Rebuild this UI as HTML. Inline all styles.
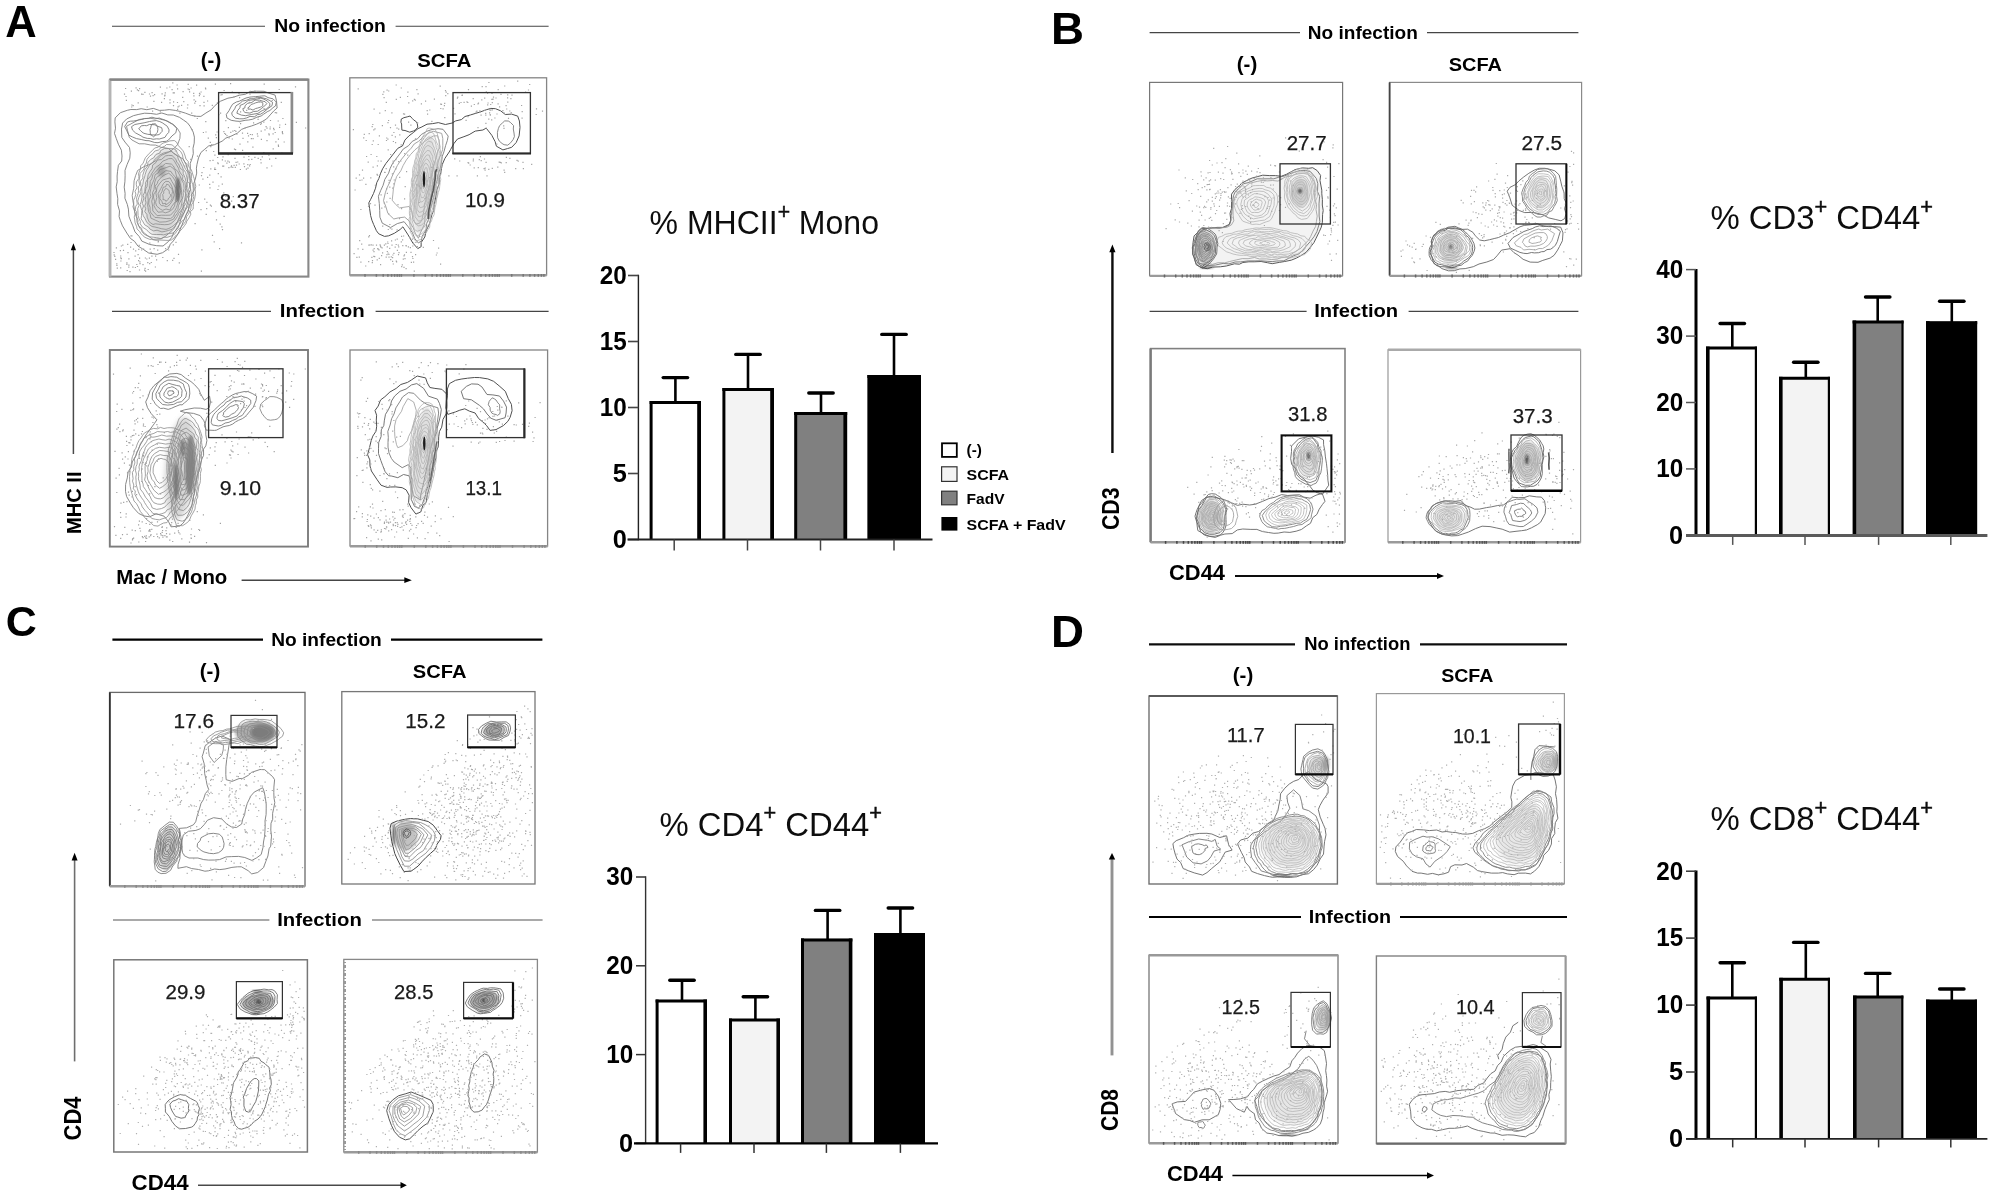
<!DOCTYPE html>
<html lang="en"><head><meta charset="utf-8"><title>Figure</title>
<style>html,body{margin:0;padding:0;background:#fff}svg{display:block}text{font-family:"Liberation Sans", Arial, Helvetica, sans-serif}</style>
</head><body>
<svg width="1998" height="1203" viewBox="0 0 1998 1203">
<defs>
<filter id="b1" x="-50%" y="-50%" width="200%" height="200%"><feGaussianBlur stdDeviation="0.8"/></filter>
<filter id="b2" x="-50%" y="-50%" width="200%" height="200%"><feGaussianBlur stdDeviation="1.6"/></filter>
<filter id="b3" x="-50%" y="-50%" width="200%" height="200%"><feGaussianBlur stdDeviation="2.4"/></filter>
<filter id="b4" x="-50%" y="-50%" width="200%" height="200%"><feGaussianBlur stdDeviation="3.2"/></filter>
<filter id="soft" x="-5%" y="-5%" width="110%" height="110%"><feGaussianBlur stdDeviation="0.35"/></filter>
<filter id="page" x="0" y="0" width="100%" height="100%" filterUnits="userSpaceOnUse"><feGaussianBlur stdDeviation="0.55"/></filter>
</defs>
<rect width="1998" height="1203" fill="#fff"/>
<g filter="url(#page)">
<g fill="none" filter="url(#soft)">
<path d="M115.2 117.9L120.4 112.7L127.3 110.3L130.9 109.5L136.7 109.6L141.2 108.7L146.8 109.7L153.3 108.4L159.3 110.4L164.4 110.2L169.2 109.6L175.3 110.4L179.8 111.4L185.3 113.1L191.4 115.4L196.5 116.3L200.9 116.4L205.9 113L211.2 109.8L215.2 105.3L220.3 101.3L227.9 98.2L233.5 97.2L239.3 95.2L245.6 94.2L249.7 91.6L256.5 91.2L264.1 91.3L269.1 93.3L275.1 95.1L276.5 100.8L277.1 108L273.6 111.1L270.2 114.9L266.5 119L262.1 121.6L256.7 124.1L251.4 126L246.1 127.6L241.5 129.4L237.4 133.1L231 136.2L225.8 138.1L222.1 141.2L214.4 144.7L208.7 145.9L204.8 149.2L200.9 152.5L198.5 157.9L197 164.3L196.4 168.2L196.7 173.1L195.3 179.1L193.8 183.4L194.2 190.1L191.9 194.3L191.4 200.9L188.9 206.3L188.4 211L185.8 215.4L183.2 221.9L181.6 226.1L179.1 231.6L176.9 235.6L173.3 241L170.3 244.2L168.5 248.6L162.6 252.7L157.1 254.3L148.7 253L142.6 248.9L137.9 246L134.5 241.3L130.4 238.4L126.8 233L122.5 225.9L120.3 220.4L119.1 216.6L119.5 210.9L117.6 204.3L117.8 198.7L117 193.6L116.2 186.9L117.2 181.7L117.1 176L117.5 171.7L118.4 165.3L121.7 161L122 156L121.4 150.2L118.4 144.2L116.3 138.6L114.5 133.4L115.5 128.2L114.9 121.9Z" stroke="#7a7a7a" stroke-width="0.9" fill="none" stroke-linejoin="round"/>
<path d="M122.6 123.1L126.6 119L133.4 115.7L138.1 114.5L144.6 113.2L150.9 113.5L156.6 114.3L161.8 113L167.8 114.9L173.3 115L179.4 117.3L183.6 120.1L187.4 122.8L190.1 126.3L193.2 132.1L194.4 137.1L194.2 143.2L193 148.2L193.3 153.6L191.9 158.9L190.2 163.5L190.3 168.2L189.7 173.6L190.3 179L189.6 185.1L190.5 189.8L188.2 194.1L188.4 199.9L186.5 206.6L184 212.7L181.5 216.8L180.3 221.5L178.2 227.5L173.9 232.3L171.7 237.5L168.6 241.4L163 246L156.7 245.7L149.4 244.4L141.8 241.1L139.3 236.6L135 231.9L132.8 225.8L130.9 221.5L128.9 216.2L128.4 209.1L127.3 204.4L124.9 198.2L125.1 193.4L124.2 187.1L124.9 181.8L125.1 175.8L125 170.4L127.1 164.5L129.8 158.2L130.2 152.8L129.5 147.5L125 142.1L121.8 137.4L121.5 129.1Z" stroke="#7a7a7a" stroke-width="0.9" fill="none" stroke-linejoin="round"/>
<path d="M126.5 126.3L132 123.3L139.2 119.5L144.5 118.7L150 118.2L154.7 119L159.2 118L167.6 121.1L174.1 125L177.6 128.8L180.2 133L179.9 138.4L177.7 144.4L173.8 148.7L168.5 152.3L161.2 155.3L156.2 160.5L149 164.7L144 166.6L137.7 170.4L135.6 175.6L134.1 180.8L133.7 188.3L132.2 195.4L132.8 200.4L133.8 205.5L134.7 212L136.8 218.4L137.1 222.3L139.9 228.2L144.6 233.4L147.8 235.7L153 239.4L160.6 238.8L164.9 236.7L168.6 233.6L173.9 228.8L175.6 225.6L177.5 221.5L179.7 216.2L181.8 210.3L183.8 205.1L184.7 199.7L185.9 193.2L186.2 187.8L187.5 181.4L188.1 175.9L187.9 170.4L186 164.7L183.3 159.1L178.3 156.3L173.3 152.9L168.6 148.5L161.1 147.3L155.6 145.1L150.6 145L144.6 143.8L139.1 143.8L132 140L129.3 137.4L127.6 130.8Z" stroke="#7a7a7a" stroke-width="0.8" fill="none" stroke-linejoin="round"/>
<path d="M175.8 132.8L171.9 136L168.5 140L166.3 141.3L162.2 141.6L158 142.7L154.7 142.5L149 140.7L146 140.6L141.2 139.5L136.5 138.6L132.7 137.1L128.9 135.2L126.5 130.1L124.7 126.5L127.6 121.9L130.4 121.2L133.8 121L138.4 120.1L141.8 119.4L144.6 118.5L148.5 118.4L151.9 117.2L155.2 118.1L158.1 118.5L160.6 119.3L164.2 120L166.8 121.1L170 122.9L172.6 124.3L176.8 128.3Z" stroke="#7a7a7a" stroke-width="0.9" fill="none" stroke-linejoin="round"/>
<path d="M168.7 132.5L166.9 134.3L164.9 137.4L159.3 139L156.6 138.8L153.1 139.3L150.3 138.5L147.3 138.4L143 137.2L141 135.8L135.5 132.9L132.5 130.1L131.5 126.7L134.8 124.5L139.1 123.7L144.1 122.8L149.5 121.5L151.9 121.1L156.3 120.6L159.8 121.6L162.2 122.7L167.2 126.2L169.1 129.9Z" stroke="#7a7a7a" stroke-width="0.9" fill="none" stroke-linejoin="round"/>
<path d="M162.1 131.4L161 132.7L159 134.6L156.5 135L152.8 134.9L147.8 134.3L143.9 133.3L141.9 132L140.5 130.5L138.7 128.9L141.3 125.8L144.3 125.5L146.7 125.7L149.6 124.4L154.8 124.8L158 126.4L161.6 127.6L162.2 129.7Z" stroke="#7a7a7a" stroke-width="0.9" fill="none" stroke-linejoin="round"/>
<path d="M157.9 129.5L157.4 132.3L156.4 133.4L155.6 134.7L154.7 136L153.6 136.8L152 135.5L150.3 134.7L150.3 132.3L150 129.6L150.7 127.8L151.1 125.9L152.2 123.9L153 124L154.8 123.8L155.3 123.6L156.6 125.4L157.6 127.2Z" stroke="#7a7a7a" stroke-width="0.9" fill="none" stroke-linejoin="round"/>
<path d="M276.3 102.1L275.5 105.9L273 107.7L269.9 110.5L267.8 111.4L263.6 114.2L261.1 116L256.9 117.2L252.8 119.2L248.6 120L245.1 120.3L240 121.4L236 121.1L231.2 120.3L226.9 117.9L226.3 114.4L229 110.7L230.8 107.1L232.6 104.2L236.3 102L239.3 101.2L244 98.9L246 98L249.8 97.1L251.9 96.9L255.7 96.6L259.4 96.3L261.5 96L264.9 95.8L268 97.6L273.1 98.9Z" stroke="#7a7a7a" stroke-width="0.9" fill="none" stroke-linejoin="round"/>
<path d="M272.6 102.3L272 105.7L267.8 108.7L263.2 112.6L260.5 114.2L257.5 114.6L254.4 116.8L250 116.4L246.7 117.9L243.1 118.8L239.6 118.8L235.4 118.2L232.3 115.5L231.7 113L234.7 108.8L236 105.8L240.2 103.2L242.4 101.1L246.6 100.2L250.1 98.8L253.2 98.7L257.6 97.4L261 97.5L266.7 98.9L269.9 100.7Z" stroke="#7a7a7a" stroke-width="0.9" fill="none" stroke-linejoin="round"/>
<path d="M269.9 103.5L269.7 106.1L266.4 108.9L262.2 110.6L257.9 113.4L251.9 114.4L245.7 115.7L241.4 115.1L236.9 113.2L237.6 110.6L239.9 107.8L240.2 105.4L243.9 103.8L248.2 100.5L254.3 99.6L260.9 98.1L264 99.2L267 100.8Z" stroke="#7a7a7a" stroke-width="0.9" fill="none" stroke-linejoin="round"/>
<path d="M266.8 103.6L265.8 104.9L263.4 106.8L261.3 108.7L257.7 111.2L253.6 111.5L249.9 113.1L245.1 112.5L243.6 111.2L242.8 108.6L244.9 107.9L245 105.7L247.6 103.4L251.9 102.4L255 100.1L259.6 100.2L263.2 101.3L265 101.6Z" stroke="#7a7a7a" stroke-width="0.9" fill="none" stroke-linejoin="round"/>
<path d="M262.8 103.7L262.8 105.7L261.6 106.6L260.5 107.1L257.8 108L255.6 108.5L253 110.1L250.4 109L248.1 109.2L248 107.6L249.2 107.1L250 105.8L251.1 104.5L253.5 103.7L255.7 102.8L258.6 102L261 101.9L262.8 102.8Z" stroke="#7a7a7a" stroke-width="0.9" fill="none" stroke-linejoin="round"/>
<ellipse cx="164.1" cy="193.2" rx="20.6" ry="44.5" transform="rotate(5 164.1 193.2)" fill="#999" opacity="0.4" filter="url(#b3)"/>
<path d="M195.1 196.4L194.5 199.5L193.3 202.2L193.3 206.6L193.1 209.2L190.4 211.6L190.8 214.2L189.1 217.8L186.4 221.9L186.4 223L184.4 225.8L182.2 228.7L179.9 231.1L178 234.4L175.5 235.7L174.2 237.8L171.6 239.9L168 240.4L165.1 240.3L159.2 240L155.9 240.4L151.7 239.4L149.8 239.4L145 237.4L142.8 235.6L140.9 233.5L139.7 231.6L137 228.9L136.7 226.8L135.1 222.8L134.6 219L134.2 217.1L135.1 214L134.3 210.4L132.9 206.6L133.8 204L133.6 200.1L134.8 197.7L135.9 194.1L135 191.3L137 187.7L136.3 184.5L136.4 181.9L138.8 178.5L138.9 176.3L138.5 173.7L140.5 168.8L140.6 165.7L143 163.6L143.9 161.2L145.4 157.7L147 155.9L149.2 153.4L152.3 150.6L154.7 148L158.4 147.1L161.3 144.2L163 143.1L166.6 142.1L169.9 140.9L174.3 140.5L176.6 142.2L178.3 145.5L182.8 150.5L183.7 152.1L185.2 156.1L186 159.2L188.3 161.4L188.2 165L189.3 167.6L191.4 169.9L192.4 173.1L193.4 176.4L194.2 178.7L194.8 182.1L195.8 186.3L195.1 189.2L195.5 193.1Z" stroke="#8c8c8c" stroke-width="0.8" fill="none" stroke-linejoin="round"/>
<path d="M193.8 196.4L192.9 199.9L193 202.6L191.4 204.8L190.8 208.8L189.8 210.8L188.6 214.2L186.8 216.1L185.8 221.3L183.9 223.7L181.9 225.9L179.6 228.1L176.6 231.3L175.4 233.4L172.3 235.7L170.5 236.2L167.1 237.4L164 237.1L161.3 238.7L156.7 237.7L153.2 237.2L149.7 236.8L147.5 236L144.2 234.2L142 231.8L141.7 228.3L138.5 225.9L137.7 222.6L138.1 220.8L136.5 216.2L136.6 211.8L135.2 210L135.8 206.1L137.3 204.1L136.6 199.4L136.6 197.9L138.2 193.3L138.5 190.7L138.3 186.8L139.7 185.1L138.9 181L139.6 178.2L140.1 173.4L142.5 170.8L144 169L144.9 164.6L146.2 163.6L147 159.4L149.2 156.5L153 153.5L154.7 151.1L158.5 150L160.8 147.8L164.8 146.2L166.5 144.5L171.1 144.7L172.7 145.2L175 147.7L178.3 149.5L180.8 151.7L182.5 154.9L183.1 158.9L184.1 161L186.8 164.1L187.2 167.8L188.4 171.8L191.4 173.3L191.4 178.6L191.9 182.2L192.7 184.2L193.3 188.8L193.1 192.6Z" stroke="#8c8c8c" stroke-width="0.8" fill="none" stroke-linejoin="round"/>
<path d="M191.9 195.8L190.9 199.9L190.6 202.6L190.3 205.2L188.9 208.4L187.4 211.5L185.6 216L184.6 219.2L181.6 221.4L179.8 224.3L177.9 226.4L175.6 230.6L173 233.1L168.1 233.5L163.7 234.9L160.8 234.5L156.6 234.5L152 234.3L148.9 232.3L146.6 229.7L142.5 227.2L140.1 223.7L140.4 221.5L139 218.5L138.1 215.6L137.9 211L137.7 208.5L139.1 205.4L137.8 201.2L138.8 197.4L140.5 193.6L139.9 191.9L141.4 187.3L140.8 185.4L140.5 181.2L143 178L142.7 175.4L144 171.4L144.5 169.9L147.5 166.1L148 162.3L151.1 159.1L153.5 158L155.9 154.5L159.9 153L160.5 150.7L164.5 148.6L168.2 148.6L173.5 148.7L176.1 150.1L177.4 153.5L179.5 156.4L180.6 157.9L181.8 161.1L182.9 163.2L184.3 166.7L185.8 169.6L188.5 173.1L189.5 175.2L189.4 178.4L190.7 182L190.4 184.6L190.6 188.5L191.2 193.3Z" stroke="#8c8c8c" stroke-width="0.8" fill="none" stroke-linejoin="round"/>
<path d="M189.9 195.3L188.8 198.1L189.3 201.7L188.1 205.5L187.5 207L185.2 210.5L183.3 214.7L182.3 217.3L181 218.5L179.1 221.3L176.1 224.1L174.9 226.4L172 229.3L168.7 230.4L165.4 231.3L161.9 231.9L157.1 230.2L153.6 230.9L150 229.1L148.4 226.9L144.7 224.8L142.5 220.9L141.1 218.9L141.5 215.6L141.9 210.6L141 208L140.1 204.4L141.2 201.9L142 197.2L141.9 193.8L141.9 191.4L141.7 187.6L142.9 184.2L143.5 180L144.6 177.2L145.2 174.4L146.6 170L148.2 167.8L149.3 165.5L152.7 162.6L155.1 159.1L156.8 157.7L159.8 155L163.5 153.1L168.6 151.8L171.9 151.6L173.6 153.4L177.6 156.2L178.3 159.2L179.8 161.9L182.2 166.4L183.2 169.2L185.6 172.3L186.2 174.7L186.8 177.2L187.4 181.2L189.3 183.1L189.9 185.4L188.6 189.5L189.1 192.4Z" stroke="#8c8c8c" stroke-width="0.8" fill="none" stroke-linejoin="round"/>
<path d="M188.5 195L186.4 198.7L186.6 202.2L184.1 206.3L183.8 208.9L182.3 213.5L180.4 216.8L178.4 220.3L177.2 221.9L173.8 225.5L171.5 227L168.9 228.5L166.1 229.4L161.2 228.7L158.6 227.9L154.9 227L152.1 226.5L148.7 224.2L146.6 221.9L145.2 218.8L143.3 215.8L142.7 213.7L142.3 209.6L143.5 206L142.2 203.3L144 198L143.2 195.4L144.8 191.7L145.1 188L145.7 184.8L145.6 182.5L147.4 179.5L148.2 174.7L150.1 171.4L152.2 168.5L152.7 165L156 162.5L157.3 160.1L161.4 159.5L165.6 155.9L168.7 155.4L172.1 155.6L175.9 159.3L176.8 162.4L178.5 163.8L180.3 168.4L183.1 170.4L183.2 173.5L185.1 177.9L185.9 181.4L187.4 185.7L186.9 188.3L187.8 192.7Z" stroke="#8c8c8c" stroke-width="0.8" fill="none" stroke-linejoin="round"/>
<path d="M186.6 195.4L185.6 198.9L185.1 201.3L182.8 204.4L183.4 207.6L180.9 210.7L178.7 213.5L177.4 216.5L174.7 220.4L170.9 223.6L168.1 224.5L164.3 224.7L160.3 224.4L155.4 223.8L153 224.5L149.2 221.9L147.1 217.1L147 214.5L144.8 211.7L145.7 208.6L144.7 206L146 202.9L145.3 199.3L146.3 194.7L145.3 191.5L146 188.2L147 186.6L147.5 183.2L147.6 179.7L150.8 175.7L151.4 174L153.5 170.9L155.5 167.6L159.4 164.9L162.8 161.1L165.8 160L168.6 158.7L172.2 158.5L174.4 161.1L176.5 164.8L178.5 168.2L179.2 170.7L180.4 173L182.9 176.1L182.5 179.2L184.9 182.4L185.5 186L185.8 188.5L184.9 191.7Z" stroke="#8c8c8c" stroke-width="0.8" fill="none" stroke-linejoin="round"/>
<path d="M183.4 195.4L182.1 199.4L181.9 202.9L180.9 207.7L178.8 210.6L177.5 213.1L175.4 216L173.5 219.2L170.4 220.5L165.9 221.8L159.7 222.1L155.4 220.2L150.9 218.1L150.2 214.3L148.5 211.5L148 207.3L147.6 204.9L148.2 200.5L147.9 196.4L147.6 193.2L149.4 188.7L150 185.1L150.2 181.3L151.8 178.8L152.9 174.6L154.6 172.8L157.1 170.1L160.5 166.7L162.2 166.4L165.6 163.4L171.4 164.1L173.3 165.9L175 169.1L177.6 171.1L180 176L181.4 179L182.3 181.2L183.6 183.3L184.1 188.3L183.2 192.4Z" stroke="#8c8c8c" stroke-width="0.8" fill="none" stroke-linejoin="round"/>
<path d="M181.7 195.6L182.1 198.3L179.9 202.6L178.4 205.6L177.9 209.4L174.6 213.4L173.6 216.2L170.6 218.6L166.3 218.6L160.7 217.9L154.9 217.4L154.1 216.5L150.4 212.1L150.1 210.6L150.1 207.3L148.7 204.1L149.1 199.9L150.9 196.7L149.9 193.2L150.9 188.5L151.3 186L152.6 182.9L154.1 179.5L155.1 174.7L158.4 172.7L159.7 169.8L166.2 167.6L170.2 166.1L173.8 168.9L175.3 170.9L176 174.2L177.1 178.2L179.3 182.2L180.6 185.4L181.4 189.6L181.5 192.5Z" stroke="#8c8c8c" stroke-width="0.8" fill="none" stroke-linejoin="round"/>
<path d="M179.4 195.7L178.6 200.7L177.3 204.9L176.4 207.5L175 210.3L170.6 215.1L165.7 215.3L161.6 215.2L157.2 215.7L152.8 210.9L152.6 206L151.7 201.2L152.9 197L152.5 192.8L154 189.6L154.4 185L154.8 182L156.4 177.7L161 174.2L165.9 170.6L170.9 171.4L172.8 174.5L175.1 176.7L176.4 179.7L178.2 183.5L180 187.7L180.8 190.8Z" stroke="#8c8c8c" stroke-width="0.8" fill="none" stroke-linejoin="round"/>
<path d="M178.7 195.8L177.7 200.3L175.2 202.7L174.5 206.1L172.5 209.3L169 211.7L165.2 212.9L163 211.8L158.1 212.2L155.5 208.7L153.9 205.5L154.6 201.6L153.5 197.1L153.8 194.2L156.3 190.6L155.1 186.1L157.4 183.3L157.9 181.1L161.7 176.9L165 174.7L168.8 173.2L172.8 176.9L175.7 181.8L176.1 184.1L176.7 187.9L178 191.5Z" stroke="#8c8c8c" stroke-width="0.8" fill="none" stroke-linejoin="round"/>
<path d="M176.8 194.6L176.3 197.8L175.5 201.5L171.8 206.2L169.9 210L166 209L162.6 210.3L160.7 209.4L156.6 206L155.6 202.4L155.9 201L156.8 197.6L155.9 193.5L157.1 187.4L159.3 183.9L162.6 180.1L166.3 178.9L170.1 177.9L171.8 181.3L173.5 184.1L176 188.7L175.7 192.1Z" stroke="#8c8c8c" stroke-width="0.8" fill="none" stroke-linejoin="round"/>
<path d="M174.2 195L172.8 200L170 204.4L167.8 206.2L166.4 206.7L163.5 205.7L161.4 205.7L159.3 203.1L159.1 198.9L158 193.8L160.9 188.4L161.8 186.6L163.5 183.4L165.9 181.3L168.9 181.6L170.4 183.5L172.3 187.3L172.8 189.6Z" stroke="#8c8c8c" stroke-width="0.8" fill="none" stroke-linejoin="round"/>
<path d="M171.8 194.8L172 198.7L170.7 201.2L167.8 203.6L165.7 204.8L165.6 203.2L162.7 203.9L162 201.7L159.9 198.5L160.2 194.6L161.9 191.8L163.3 187.1L165.6 186.9L166.6 184.2L168.7 184.8L170.2 187.6L171.8 188.1L172.5 191.6Z" stroke="#8c8c8c" stroke-width="0.8" fill="none" stroke-linejoin="round"/>
<path d="M170.9 195L169.7 197.4L168.1 198.8L168.3 199.4L165.9 201.4L166 200.6L163.7 199.5L163 200.1L163.2 197.8L162.7 194.4L163.8 193.2L163.7 191.4L165.5 188.6L166.5 188.6L168.2 189.6L168.8 190.1L169.3 191.8L169.3 193.4Z" stroke="#8c8c8c" stroke-width="0.8" fill="none" stroke-linejoin="round"/>
<ellipse cx="177.8" cy="189.8" rx="2.4" ry="12.8" transform="rotate(2 177.8 189.8)" fill="#666" opacity="0.9" filter="url(#b1)"/>
<ellipse cx="161.5" cy="170.9" rx="4.3" ry="6" transform="rotate(0 161.5 170.9)" fill="#777" opacity="0.5" filter="url(#b2)"/>
<path d="M211.7 105.4h1.2M194.2 103.1h1.2M203.4 102.4h1.2M136.8 89.9h1.2M137.6 102.8h1.2M205.1 88.8h1.2M138 90.6h1.2M221.5 94.6h1.2M171.5 89.6h1.2M177 109.4h1.2M151.5 92.6h1.2M258.5 101.8h1.2M131.3 105h1.2M125.8 100.4h1.2M223.5 90.5h1.2M149.9 96.1h1.2M182.5 91.6h1.2M152 111.1h1.2M249.4 98.5h1.2M130.8 91.1h1.2M169.4 99.8h1.2M254.3 91.1h1.2M189 91.9h1.2M188.7 89.7h1.2M199.4 105.6h1.2M164.7 92.8h1.2M187.6 84.3h1.2M263.6 84.1h1.2M166.3 88h1.2M249.7 91.4h1.2M159.7 111.9h1.2M177 88.9h1.2M182.1 97.3h1.2M148.9 94h1.2M173 101.9h1.2M216.8 102.8h1.2M176.9 102.5h1.2M172.9 105.6h1.2M200.5 92h1.2M139 88.7h1.2M176.5 85h1.2M187.5 89h1.2M280.7 102.3h1.2M131.1 107h1.2M187.2 104.9h1.2M132.6 105.6h1.2M231.7 92h1.2M144.3 92.4h1.2M194.2 116.4h1.2M263.5 108.5h1.2M172.6 92.8h1.2M198.9 93.3h1.2M161.5 93.8h1.2M220.3 95h1.2M193.1 93.4h1.2M173.7 92.8h1.2M239 97.6h1.2M249.4 94.2h1.2M230 83.7h1.2M164.4 95.1h1.2M154 94.6h1.2M141 94.2h1.2M152.5 95.6h1.2M169.2 87h1.2M164.1 95.9h1.2M125.4 96.5h1.2M238.4 93.7h1.2M207 101h1.2M146.6 107h1.2M294.9 86.8h1.2M278.6 89.5h1.2M233.3 96.8h1.2M125 88.5h1.2M135.5 87.9h1.2M199.4 94.1h1.2M203.3 96.4h1.2M193.3 95.9h1.2M214.8 84.1h1.2M123.9 94.2h1.2M198.8 95.6h1.2M204.9 88h1.2M161 102.3h1.2M258.1 96.9h1.2M177.5 106.9h1.2M142.4 94.3h1.2M159.8 87.2h1.2M191.1 113.2h1.2M193.5 99.9h1.2M181 105.3h1.2M190.5 88h1.2M186.9 108h1.2M178.6 106h1.2M179.3 113.1h1.2M195 101.3h1.2M169.4 102.8h1.2M172.2 82.9h1.2M196 85.2h1.2M248.7 102.4h1.2M183.2 101.6h1.2M153.3 101.4h1.2M163.8 98.6h1.2M235 149.6h1.2M242.4 138.3h1.2M225.2 120.6h1.2M215.1 134.9h1.2M281.8 132.7h1.2M249.8 134.5h1.2M266.4 128.1h1.2M268.3 155.2h1.2M227.6 154.7h1.2M277.9 146.3h1.2M269.5 128.9h1.2M277.8 145.1h1.2M282.3 118.5h1.2M279 127.4h1.2M247.9 135.9h1.2M248.2 159.6h1.2M268.6 134.9h1.2M251.7 134.6h1.2M250.8 138.7h1.2M275.3 141.8h1.2M227.8 127.6h1.2M257.8 116.9h1.2M264.4 129.9h1.2M257.2 136.2h1.2M242 150.4h1.2M279.2 125h1.2M266.4 140.6h1.2M238.8 127.4h1.2M271.6 100.5h1.2M226.4 135.6h1.2M269.9 120.5h1.2M275.2 158.4h1.2M260.6 131.2h1.2M257.5 119.4h1.2M268.3 133.8h1.2M272.6 148.9h1.2M256.8 133.8h1.2M263.3 152.6h1.2M223.3 131.6h1.2M241.9 133.2h1.2M274.6 132.5h1.2M272.5 133.9h1.2M240 123.7h1.2M225 134.4h1.2M247.2 141.8h1.2M277.6 121h1.2M231.7 139h1.2M236.3 134.2h1.2M269.6 127h1.2M295.8 122.3h1.2M265.5 126.7h1.2M191.5 129.6h1.2M252.5 138.7h1.2M253 122.9h1.2M244.5 128h1.2M273 128.3h1.2M283.6 142h1.2M239.4 144.1h1.2M205.4 132h1.2M234.1 130.5h1.2M281.8 131.7h1.2M252.3 147.1h1.2M239 121.7h1.2M277.8 139.1h1.2M224.1 133.5h1.2M273.5 129.7h1.2M247 133.3h1.2M260.8 123.2h1.2M274.7 112.7h1.2M254.3 157.4h1.2M232.3 131.2h1.2M205.2 121.7h1.2M230.2 132.4h1.2M245 153.8h1.2M235.3 131.3h1.2M260.8 139.4h1.2M276 112.8h1.2M305 128h1.2M240 111.9h1.2M246.1 110.3h1.2M260.1 124.4h1.2M263.2 122.2h1.2M257.6 158.4h1.2M282.1 133.6h1.2M233.9 149.2h1.2M218.1 114.6h1.2M284.9 124.4h1.2M231 201.2h1.2M240.9 242.9h1.2M221.8 159.8h1.2M221.9 229.7h1.2M210.2 168.8h1.2M214 169.4h1.2M228.5 137.9h1.2M220 113.2h1.2M188.6 146.6h1.2M205.7 150.6h1.2M206.3 202.4h1.2M221.7 184.1h1.2M217.1 157.5h1.2M202.8 132.5h1.2M209.7 142.4h1.2M210.8 206.2h1.2M221.3 226.9h1.2M203.5 105.9h1.2M201.3 249.8h1.2M223.1 166.2h1.2M230.5 167.1h1.2M234.7 167.4h1.2M209.8 205.2h1.2M200.9 175.6h1.2M237.9 196.3h1.2M201.4 172.6h1.2M214.3 155.2h1.2M219.6 224.1h1.2M215.2 211.7h1.2M218.2 186h1.2M205.6 214.3h1.2M230.9 165.8h1.2M204.1 199.1h1.2M215.9 219.9h1.2M220.5 176.8h1.2M198 202.5h1.2M215.8 137.7h1.2M196.7 118.5h1.2M222.1 166.2h1.2M174.7 151h1.2M207 177.4h1.2M215 169.5h1.2M223.5 216.3h1.2M211.9 235.3h1.2M213.1 151.5h1.2M216.5 132h1.2M211 144.8h1.2M209.4 187.9h1.2M185.2 194.6h1.2M217.7 173.7h1.2M223.2 192.9h1.2M210.2 146.7h1.2M223.4 207.2h1.2M196.9 156.1h1.2M200.4 209.6h1.2M207.7 138.2h1.2M232.7 196.7h1.2M217.4 189.5h1.2M212.4 182.2h1.2M225.3 196.3h1.2M209.1 184.4h1.2M237.1 162h1.2M198.7 185h1.2M200.8 271.2h1.2M222.1 201.2h1.2M219 248.7h1.2M202.3 179.2h1.2M194.5 223.7h1.2M213.6 241.8h1.2M211.2 145.1h1.2M206.1 208.6h1.2M120.7 258.7h1.2M122.9 250.4h1.2M126.6 270.5h1.2M115 259.3h1.2M157.1 250.1h1.2M177.9 254.3h1.2M138.2 249.4h1.2M130.4 235.9h1.2M120.8 246h1.2M145 271.1h1.2M120.1 267.9h1.2M162.2 257.5h1.2M141 250h1.2M127.4 252.6h1.2M166.7 260.7h1.2M157.6 241.9h1.2M116.2 263.8h1.2M130.4 242.5h1.2M138.6 245.3h1.2M138.9 270h1.2M113.4 252.5h1.2M151.3 256.2h1.2M143 249.1h1.2M131.3 235.8h1.2M134.8 267.5h1.2M113.6 254.8h1.2M154.8 267h1.2M165 248.7h1.2M129.4 271.6h1.2M128.3 258.9h1.2M119.8 250.7h1.2M116.7 268.1h1.2M156 259.9h1.2M127.1 244.3h1.2M149.6 249.2h1.2M136.2 264.5h1.2M134.5 256.1h1.2M116.3 265.5h1.2M150.7 262.5h1.2M175.4 242.3h1.2M139.3 261.9h1.2M146.2 259h1.2M149.2 243.1h1.2M136.9 266.5h1.2M137.5 254.6h1.2M157.8 241.2h1.2M147.6 269.5h1.2M132.9 249.2h1.2M150.5 252.4h1.2M120.2 257.8h1.2M155 256.1h1.2M144.5 268.3h1.2M126.3 264.3h1.2M168.1 250h1.2M149.1 263.6h1.2M135.1 250.8h1.2M172.7 244.9h1.2M142.4 264.6h1.2M144 270.1h1.2M172.1 260.4h1.2M178.7 262.9h1.2M144.8 258h1.2M148.8 258.1h1.2M173.4 258.3h1.2M147.2 262.7h1.2M122.2 245.1h1.2M128.3 265.2h1.2M132.3 267.2h1.2M126.3 262.9h1.2M139.4 263.7h1.2M139 258.1h1.2M128.2 267.2h1.2M138 260.7h1.2M153.5 248.6h1.2M120.1 256h1.2M167.6 247.2h1.2M115.8 247.8h1.2M130 247.1h1.2M120.3 261h1.2M114.2 256.3h1.2M245.6 153.5h1.2M235.9 165.1h1.2M233.5 165.3h1.2M243.4 157.2h1.2M232.2 167.3h1.2M261.7 156.9h1.2M222.4 156.9h1.2M234.4 158.4h1.2M214.3 168h1.2M281.5 153.3h1.2M269 159.2h1.2M249 165.8h1.2M260.5 162.9h1.2M217.6 163.7h1.2M251.2 159.3h1.2M243.3 163.9h1.2M238.6 164h1.2M247.4 168.2h1.2M228.8 162.2h1.2M190.2 159.4h1.2M203.2 167.5h1.2M212.4 160.4h1.2M245.8 169.2h1.2M260.1 159.6h1.2M239.8 169.5h1.2M217.2 162.8h1.2M209.5 160.7h1.2M249.6 164.5h1.2M227.3 161.1h1.2M266.4 167.9h1.2M209.2 175.2h1.2M226.3 163.2h1.2M224.7 161h1.2M248.2 156.5h1.2M235.5 162.3h1.2M271.1 166h1.2M243.9 166.7h1.2M247.2 164.6h1.2M184.1 166.2h1.2M228.3 167.7h1.2" stroke="#a0a0a0" stroke-width="1.2"/>
</g>
<rect x="110" y="79.6" width="198.4" height="197" stroke="#888" stroke-width="2.1" fill="none"/>
<path d="M110 79.6L110 276.6" stroke="#b4b4b4" stroke-width="2.8" fill="none"/>
<path d="M110 79.6L308.4 79.6" stroke="#858585" stroke-width="2.4" fill="none"/>
<rect x="218.6" y="92.6" width="73.4" height="60.8" stroke="#303030" stroke-width="1.3" fill="none"/>
<path d="M291.9 92L291.9 153.4" stroke="#8c8c8c" stroke-width="2.7" fill="none"/>
<path d="M218 153.5L293 153.5" stroke="#2a2a2a" stroke-width="2.5" fill="none"/>
<g fill="none" filter="url(#soft)">
<path d="M370.6 215.5L369.6 208.5L368.8 202.9L370.7 199.3L373.5 193.5L375.5 188.2L376.8 182.5L378.8 178.6L380.4 173.8L382.6 168.8L385.8 163.6L390.3 157.9L392.7 154.8L397.8 148.3L402.5 145.9L404.9 140.1L408.8 136L413.8 132.2L418 128.6L421.1 127.3L427 124.2L432.7 123.6L438.3 122.6L445.4 124.5L452.2 123L455.7 120.9L461.4 119.6L465 116.5L470.3 115L475.8 113.3L479.8 112.1L486.2 109.8L490.8 108.4L495.5 108.7L500.6 110.8L505.3 114.5L511.5 114.1L517.7 116.1L519.4 121L520 127.4L519.1 135.9L516.2 142.5L511.7 147.3L507.4 148.6L502.9 149.9L496.4 146.2L495.1 141.6L491.8 135.3L486.2 128.1L482.9 130L475.2 131.1L469.1 134.7L463.9 136.7L457.5 139L454 143.4L450.7 149.3L449.2 152L444.9 158.4L442.2 164.7L441.5 168.5L440.9 172.3L439.2 177.6L439.1 184L436.7 190.3L436.3 193.5L435.2 200L434.2 204.5L433.7 210.4L432 214.4L430.4 220.2L429.5 223.9L426.3 230.3L424.8 237L421.1 242.6L421.2 246.6L417.8 248.6L412.8 243L408.1 234.9L402.9 226.8L400.1 229.5L394.3 233.3L388.7 235.8L384.5 236.4L378.7 233.8L376.4 230.7L373.6 224.4L371.9 220.2Z" stroke="#505050" stroke-width="1" fill="none" stroke-linejoin="round"/>
<path d="M379.7 210.3L379.3 203.5L378.4 196.3L380.6 190.7L383.1 185.3L384.8 179.4L388.6 173.2L390.2 168.3L392.7 163.2L395.9 159L399.8 153.9L403.2 149.1L408.5 145.7L412.3 141.3L417.6 138.7L421.3 134.5L426.8 131.3L431 129.8L438 128.7L443 129.3L448.2 136.1L447.3 140.6L445.6 145.6L443.9 151.9L442.3 156.3L441.5 162.3L440 169.1L437.8 174.9L437.5 179.7L434.8 186.5L434.7 193.1L433.6 197.6L432.2 202.7L430.7 208.4L429.5 213.9L429 218.6L426.7 223.3L426 230L422.1 236.3L421.4 240.8L418.4 243L414.8 238.6L412.5 232.9L408.3 226.9L404.1 221.7L397.3 223.6L390.6 227.5L382.3 223.2L379.9 217.2Z" stroke="#7a7a7a" stroke-width="0.9" fill="none" stroke-linejoin="round"/>
<path d="M385.9 206.8L383.5 200.7L385.3 192.8L386.9 188.1L389.8 182.1L392.2 176.1L394.9 170.4L397.3 165.6L400.7 160.3L404.1 156L407.3 152.1L411.2 148.2L414.2 144L418.6 141.3L422.7 137.4L427.7 133.4L433.3 131.3L441.7 133.4L442.8 138.5L442.8 145.8L442.6 149.7L441.3 153.4L438.5 160.4L437.5 165L436.7 170.3L435 175.5L433 180.6L432.2 187.9L431.5 193.4L430.3 197.8L428 204.3L427.3 209.5L425.1 214.1L424.9 220L424.4 224.2L420.4 232.9L418.4 238.3L415.3 233.2L412.9 227.2L409 220.8L404.7 217.1L398.3 217.9L393.8 219L387.9 213.4Z" stroke="#9a9a9a" stroke-width="0.9" fill="none" stroke-linejoin="round"/>
<path d="M392.2 200.2L392.9 194.1L393.4 188.8L394.8 182.4L396.6 176.6L400.8 170.8L403.2 165.4L406.4 159.9L410.6 154.5L415 149.8L420.1 145.7L423 142.8L427 139.8L433.3 136L437.8 135.7L438.9 140.7L440.1 147L437.5 151.9L435.8 158.9L433.6 164.9L433.1 170.6L431.6 175.6L430.9 181.2L429.4 186.9L427.2 192.6L426.4 198.7L424.4 204.1L424.1 210L422.8 215.8L421.8 220.1L420 222.9L415.9 224.3L412.9 219.4L411.6 210.9L409 206.5L399.5 207.9L395.6 204.4Z" stroke="#9a9a9a" stroke-width="0.8" fill="none" stroke-linejoin="round"/>
<path d="M417.3 123.8L417.8 127.2L415.4 129.9L413.6 130.9L409.7 132.2L408.1 131.6L405 130.5L401.9 130.1L401.7 127L401.6 124L400.9 122.2L401.3 119L403.9 117.7L407.8 116.7L410 116L412.2 118.4L413.5 119.8L416.5 121.9Z" stroke="#505050" stroke-width="1" fill="none" stroke-linejoin="round"/>
<path d="M514 133L514.4 136.6L513.1 139.6L510.6 142.8L507.7 145.2L504.1 144.7L502.1 143.5L499.3 141.1L497.6 137.8L497.4 132.7L498.3 128.7L499.6 125.6L502.6 122.8L504.7 120.9L508.3 121L510.3 122.3L513.6 125.6L513.3 129Z" stroke="#7a7a7a" stroke-width="0.9" fill="none" stroke-linejoin="round"/>
<ellipse cx="424.6" cy="184.3" rx="9.4" ry="49.7" transform="rotate(7 424.6 184.3)" fill="#b0b0b0" opacity="0.4" filter="url(#b2)"/>
<path d="M439.7 186.4L439.4 189.5L438.2 192.6L437.8 194.9L436.7 198.5L436.5 200.8L436 204.1L435 207.7L434.5 211L434.1 214.7L432.4 217.8L431.5 220.9L429.9 223.6L429.7 227.2L428.1 229.5L426 233L423.2 236L420.9 239.3L415.8 241.2L413.5 238.4L411.7 234L410.2 232.3L410.7 229.1L409.9 225.4L409.3 221.9L409 219L409.9 216.7L409.4 213.5L409.4 210.5L409.8 207.7L410.1 204.2L410 200.5L410 197.8L409.8 194.5L410.3 191.4L410.8 188.5L411.5 185.9L411.3 182.6L411.5 179.2L412.6 176.9L412.7 173.5L412.6 170.3L413.2 167L414.3 163.9L414.6 161.1L415.8 158L416.3 153.7L418.1 151.2L418.8 148.1L419.4 145.1L421.1 141.5L422 137.6L423.9 134.8L426.1 131.5L427.1 128.7L429.2 128L435 129.4L435.8 130.9L437.5 134L437.8 137.7L439.3 140.1L439.1 143.9L439.6 146.8L440.3 149.7L440.6 152.9L441.7 156.6L441.4 159.2L441 162.9L441.7 167.3L440.6 169.7L441.5 172.7L440.2 176.1L440.8 179.4L440.2 182.5Z" stroke="#b0b0b0" stroke-width="0.8" fill="none" stroke-linejoin="round"/>
<path d="M438.4 185.4L437.8 189.5L437.5 192.5L437 195.8L436.3 199.7L435.6 201.9L434 205.8L434 208.3L433.1 211.6L431.3 214L430.5 216.9L430.5 220.6L429.2 223.8L427.4 226.3L426.5 228.6L423.3 232.4L420.8 234.3L416.5 236.1L414.5 233.6L412.1 230.3L411.1 227.6L411 223.6L410.7 220.2L410.3 215.6L410.1 212.5L410.8 210.2L410.1 206.2L410.7 202.6L410.8 198.9L411.1 195.8L410.9 192.3L412.2 189.6L412.5 186.4L412.6 182.3L412.3 179.8L413.4 176L413.3 172.7L414.4 168.5L414.6 166.3L415.8 162.1L416 159.8L417.1 156.5L417.7 153.3L419 150.8L419.8 147.2L421.3 144L422 141.5L423.3 139.2L426.8 134.9L429.6 131.6L433.6 133.4L435 137.3L436.4 142L438.1 145.4L438.2 148.9L439.9 153L439.7 155.6L439.8 158.8L440 161.6L439.9 164.9L440.1 168.6L440.1 171.3L439.7 174.7L439.1 178.7L438.9 181.8Z" stroke="#b0b0b0" stroke-width="0.8" fill="none" stroke-linejoin="round"/>
<path d="M436.5 185.1L436.6 188.2L436 192.2L435.2 194.4L434.8 197.6L434 200.2L433.4 204L432.9 207.7L431.6 211.5L431 213.6L429.6 217.5L428.1 221.7L425.8 224.5L423.9 227.5L421.6 229.7L417.2 231.3L414.4 229.4L413.6 226.2L412.8 223.2L411.9 219.7L412.5 216.1L412.3 212.6L411.7 210.3L411.2 207.1L412.3 204L411.6 200.4L412.7 197.4L412.5 195L412.3 191.9L413 188.4L412.7 186.2L413 182.6L413.7 179.8L414.6 176.7L414.8 173.3L414.7 170.3L415.7 167.5L416.5 163.2L417.4 160.6L418.5 157.1L418.9 153.4L420.6 149.7L421.9 146.5L423.6 142.2L425.9 138.9L428.7 136.9L432.3 138.5L434.9 141L436 144.9L436.2 147.5L438 152L437.9 155.4L438.2 158.7L438 162.2L438.2 165.7L438.7 169.8L438.5 172.1L438.5 175.5L437.8 179.4L437.9 181.8Z" stroke="#b0b0b0" stroke-width="0.8" fill="none" stroke-linejoin="round"/>
<path d="M435.6 185L435.5 188.6L435 192.5L433.7 195.9L433.3 198.4L432.1 201.6L431.9 205.1L430.5 208.5L430.4 210.6L428.8 214.1L427.6 217.8L426.2 220.3L423.4 223.5L421.3 225.2L418.2 226L414.4 221.7L413.9 218.1L413.2 214.8L413.3 209.7L413.2 207.2L413.2 203.8L412.9 199.6L413.8 196.1L413.1 192.5L414.2 189.9L413.7 186.3L414 182.7L414.3 179.2L415.7 175.6L416.1 171.6L416.5 169.1L417.2 165.8L418.3 162.7L419.3 159.1L420.3 156.9L421.1 153.2L422.4 149.7L423.6 146.7L425.8 143.6L428.3 141.1L432 142.2L433 145.2L434.6 148.6L435.4 151L436.3 154.9L436.4 157.5L437.4 161L436.8 163.5L437.2 166.9L437.6 170.9L436.6 174L436.1 177.5L436.2 182Z" stroke="#b0b0b0" stroke-width="0.8" fill="none" stroke-linejoin="round"/>
<path d="M434.3 185.5L433.6 187.5L433.8 191L432.5 194.1L432.2 196.7L430.7 201L430.4 204.6L428.8 208.4L427.4 212.5L426.1 215.6L422 220.4L418.5 221.2L415.1 216.9L414.9 214.1L415 211.3L414.5 207L414.6 204.3L414.6 201.7L413.9 198.3L415 194.8L414.5 191.2L415.3 188.4L414.5 185.2L415.5 182.8L416.3 179.6L415.8 176.8L417.3 173.6L417.9 170.6L418.5 166.7L418.7 163.3L419.8 159.2L421.6 156.1L422.5 153.2L423.7 150.8L425.2 147.2L427.9 145.4L430.5 146.6L432.9 149.1L433.8 152.3L435.1 156.2L435.6 160.7L435.9 163.9L436.2 168.5L436.2 172.4L435.4 174.9L435.7 178.7L434.9 181.7Z" stroke="#b0b0b0" stroke-width="0.8" fill="none" stroke-linejoin="round"/>
<path d="M432.6 184.7L432 188.3L431.5 192L430.7 195.1L430.6 198.7L429 202.5L428 204.7L427.3 208.9L425.7 212.5L421.8 215.8L418.8 216.9L416.4 213.2L416.3 210.5L415.5 207.5L415 204.6L415.3 200.6L415.9 197.4L416.3 193.6L415.9 189.7L416.5 186.3L415.9 182.6L417.2 178.7L417.9 175.5L418.7 171.4L419.2 168.4L419.7 164.9L420.3 162.5L422 157.8L423.6 154.5L427.2 150.4L429.7 150.8L432.8 156.4L432.7 159.3L434.5 163.8L433.9 166.6L434.1 169.1L434.7 172.7L434.6 176.8L434.1 180.8Z" stroke="#b0b0b0" stroke-width="0.8" fill="none" stroke-linejoin="round"/>
<path d="M432.4 184.6L431 186.9L430.4 190.7L429.7 193L428.9 197.3L427.7 201.9L426.3 205.5L425 207.7L422.4 211.6L419.2 212.4L417 209.4L417 205.6L416.6 201.3L416.8 197.7L416.3 195.5L416.5 191.5L416.4 189L417.6 185.1L418 182.1L417.9 179.4L418.1 176L419 173.5L419.8 168.6L421.8 164.7L422.1 161.9L424.4 158L426.8 154.9L429.2 155.1L430.6 159.3L432.1 162.5L432.9 165.8L432.5 169.8L432.4 174.4L432.9 177.3L432.4 181.6Z" stroke="#b0b0b0" stroke-width="0.8" fill="none" stroke-linejoin="round"/>
<path d="M430.9 183.8L430.1 187.5L428.7 192.1L428.5 195.5L427.4 198.5L425.5 203.8L423.1 206.9L420.2 207.7L418.4 204.7L418.5 202.2L418 197.7L417.4 194.7L417.7 189.9L418.3 186.3L418.9 182.1L419.1 179.1L419.4 174.5L420.6 170.6L421.3 167.5L424 161.8L426.5 158.8L428.3 160.1L430.3 163.3L430.9 168.6L431.6 172.3L431.6 175.1L430.7 180.4Z" stroke="#b0b0b0" stroke-width="0.8" fill="none" stroke-linejoin="round"/>
<path d="M429.4 183.7L428.3 187.2L428.6 189.7L426.4 195L424.6 199.7L422.9 201.4L420.6 202.2L420 200.9L419.4 195.1L418.8 192.5L419.4 189L419.6 186.2L419.7 182.2L420.3 179.8L420.3 176L422.5 170.9L423.4 166.4L425.6 163L427.1 164L428.8 166.6L430 170.8L430.5 177.6L429.6 179.8Z" stroke="#b0b0b0" stroke-width="0.8" fill="none" stroke-linejoin="round"/>
<path d="M427.6 183.4L427 188.5L425.9 192.1L424.3 196.2L423.5 197.6L421.5 197.7L421 196.3L419.9 191.9L420.7 186.8L420.8 182.7L421.4 177.7L423.1 173.2L424.3 170.2L425.8 167.4L427 168.2L427.3 171.2L428.1 173.8L428.4 177.8Z" stroke="#b0b0b0" stroke-width="0.8" fill="none" stroke-linejoin="round"/>
<path d="M426.6 183.2L426.4 186.7L425 189.1L424.9 191.6L423.8 192.7L422.4 192.4L422.1 192.3L421.6 188.8L421.6 186L421.4 182.3L422.7 178.8L423.2 175.6L423.4 173.3L424.8 173L426 172.7L426.2 174.4L426.6 176L427 179.3Z" stroke="#b0b0b0" stroke-width="0.8" fill="none" stroke-linejoin="round"/>
<path d="M425.9 182.9L425.4 184.3L424.7 185.8L424 188L423.9 187.9L423.3 188.7L423.1 187.6L422.2 185.6L422.1 184.7L423.1 182.7L423.3 180.2L423.6 178.4L423.4 177.8L424 176.8L424.9 177.6L425.3 177.6L425.9 178.8L426.3 181.4Z" stroke="#b0b0b0" stroke-width="0.8" fill="none" stroke-linejoin="round"/>
<ellipse cx="424" cy="179.2" rx="1.2" ry="8.2" transform="rotate(0 424 179.2)" fill="#1a1a1a" opacity="1"/>
<path d="M436.7 169.1L435.3 172.4L435.2 178.3L434.3 184L433.1 190.9L431.5 197.4L430.2 203.4L429.1 208.8L428.3 214.4L428.3 219" stroke="#555" stroke-width="1.6" fill="none" stroke-linejoin="round"/>
<path d="M385.2 243.9h1.2M359.4 180.3h1.2M381.8 125.6h1.2M380.5 194.8h1.2M367.9 206.3h1.2M402.9 113.9h1.2M416.5 175.6h1.2M401 236.3h1.2M365.3 184.3h1.2M388.6 182.6h1.2M363 178.1h1.2M383.5 203h1.2M372.5 167.1h1.2M374.4 128.9h1.2M398 161.6h1.2M361.4 180h1.2M420.3 188.2h1.2M424.5 198.6h1.2M400.3 161h1.2M369.9 203.6h1.2M395.3 168.9h1.2M392.5 161.1h1.2M374.8 185.3h1.2M373.2 129.9h1.2M385.6 168.6h1.2M418.6 186.2h1.2M396.4 128.1h1.2M391.3 229.1h1.2M386.8 193.3h1.2M387.6 149.8h1.2M376.8 175.2h1.2M414.9 138.9h1.2M394.9 125.2h1.2M382.3 94.4h1.2M399.2 134.9h1.2M391.5 135.3h1.2M383.2 91.9h1.2M392.1 188.2h1.2M352.8 129.7h1.2M386.2 202h1.2M383.5 97.7h1.2M384.1 172.4h1.2M376.5 174.3h1.2M363.1 137.9h1.2M426.7 181h1.2M395 142.6h1.2M377.6 249.1h1.2M395.3 159.6h1.2M360.3 209.5h1.2M406 171.6h1.2M385.7 102.4h1.2M358.9 174.8h1.2M379.2 113.1h1.2M381.2 208.1h1.2M387.3 139.2h1.2M372.2 124.5h1.2M393.2 183.8h1.2M416.2 184.8h1.2M365.6 140.5h1.2M408.2 102.9h1.2M380.5 161.2h1.2M372.7 140.9h1.2M377.6 144.5h1.2M395.6 85h1.2M398.9 218.6h1.2M393.1 166.9h1.2M371.6 144.5h1.2M370.2 177.8h1.2M386.5 90.2h1.2M394.8 136.8h1.2M382.1 226.2h1.2M376.8 165.9h1.2M370.5 154.5h1.2M371.6 126.7h1.2M401 208.6h1.2M392.8 141.5h1.2M389.5 198.4h1.2M409.3 237.6h1.2M377.6 161h1.2M388.5 180.3h1.2M384.3 206.8h1.2M398.1 129.2h1.2M366 156.5h1.2M404 114.2h1.2M354.5 190h1.2M384.5 172.5h1.2M386.1 188.9h1.2M393.3 132.5h1.2M392.5 163.3h1.2M391.3 112.9h1.2M400.6 144.9h1.2M391.8 173.9h1.2M384.7 110.6h1.2M376.2 156.5h1.2M407.3 92.1h1.2M363.7 134.3h1.2M388 120.5h1.2M431.2 167.3h1.2M367.6 162.1h1.2M414.7 100.2h1.2M355.6 178.2h1.2M407.1 155.1h1.2M404 198.8h1.2M389.2 187.2h1.2M385.9 140.5h1.2M410.3 125.1h1.2M417.1 122.8h1.2M368.6 133.7h1.2M418.6 202.5h1.2M387.4 122.7h1.2M372.5 250.1h1.2M378.8 175.5h1.2M388.1 213.9h1.2M389.9 127.6h1.2M373.5 109.2h1.2M378.8 135.8h1.2M386.1 138h1.2M404.6 186.7h1.2M408 122.1h1.2M407 96.5h1.2M419.7 142.2h1.2M393.7 180h1.2M361.9 170.1h1.2M357.6 88.8h1.2M390 154.5h1.2M371.9 260.6h1.2M399.1 177.4h1.2M397.4 204.6h1.2M422.6 138.9h1.2M374.4 205.2h1.2M404.1 153.7h1.2M487.1 104.8h1.2M477.9 103.2h1.2M541.9 111.2h1.2M491.4 93.4h1.2M507.2 102.2h1.2M499 106.8h1.2M470.8 106.2h1.2M442.5 108.9h1.2M521.5 118.2h1.2M503.4 128.4h1.2M467.2 102.5h1.2M476.3 111.1h1.2M485.7 91.9h1.2M503.7 113.1h1.2M475.5 112.2h1.2M507.9 118.4h1.2M490.1 104.5h1.2M484.1 98.2h1.2M443.8 105.6h1.2M477.4 127.7h1.2M509.2 111h1.2M505.5 105.6h1.2M492.9 97.2h1.2M461.8 95.1h1.2M489.1 109.9h1.2M529.1 84.5h1.2M484.1 110.3h1.2M495.4 98h1.2M496.4 114h1.2M467.9 89.6h1.2M481.2 99.8h1.2M510.3 98.7h1.2M503.1 125.9h1.2M494.3 118h1.2M488.2 119.1h1.2M491.3 99.3h1.2M521 105.5h1.2M507.1 94.9h1.2M467.4 116.6h1.2M506.1 109h1.2M502.3 110.7h1.2M489 112.9h1.2M497.5 103.8h1.2M490.2 110h1.2M445.6 92.1h1.2M466.4 101.8h1.2M497.6 89.7h1.2M481.6 86.7h1.2M490 110.1h1.2M485.1 113.3h1.2M488.3 82.5h1.2M521.6 111.7h1.2M463.5 102.4h1.2M496.2 144.1h1.2M504.1 86h1.2M517.1 81.2h1.2M525 92.1h1.2M487.5 103h1.2M480.5 115.2h1.2M491.7 102.6h1.2M487 93.1h1.2M510.6 112.5h1.2M485.3 123.3h1.2M489.6 114.5h1.2M500.4 94.4h1.2M492.5 99.1h1.2M479.3 110.8h1.2M491.1 119.8h1.2M511.4 95.2h1.2M507 97.8h1.2M535.6 114.5h1.2M485.2 115.2h1.2M460.4 102.5h1.2M491.7 109.9h1.2M479.6 112h1.2M477.4 103.9h1.2M489.7 115.1h1.2M535.9 108.9h1.2M465.5 120.3h1.2M485.4 86.6h1.2M473.7 104.5h1.2M472.6 98.7h1.2M485.5 128.1h1.2M527.9 90h1.2M516.4 160.3h1.2M505.8 157.3h1.2M500.7 162.8h1.2M491.7 168.3h1.2M429.1 177.6h1.2M468.1 163.2h1.2M472.7 160.9h1.2M454.1 158.8h1.2M479.8 156.6h1.2M473.6 167.8h1.2M497.2 167.2h1.2M456.5 175.9h1.2M498.6 162.2h1.2M483.9 159h1.2M448.3 175.9h1.2M459.1 161h1.2M505.6 162.7h1.2M483.5 168.7h1.2M476.8 175.9h1.2M515.1 168.6h1.2M504.1 172.3h1.2M522.8 168.7h1.2M436.5 167.7h1.2M488.2 169.4h1.2M467.5 162.7h1.2M522.4 162.4h1.2M509.3 158.3h1.2M480.6 160.6h1.2M469.6 165h1.2M472.8 159.1h1.2M517.6 161.1h1.2M485.5 162.3h1.2M531.1 164.4h1.2M486.4 175.9h1.2M478.7 159.7h1.2M484.6 168.2h1.2M503.5 170.1h1.2M484.5 170.1h1.2M499.7 162.3h1.2M477.7 167.6h1.2M382 252.9h1.2M405.5 268.6h1.2M361.1 244.1h1.2M357.5 248.9h1.2M393.3 253.4h1.2M373.6 248.6h1.2M436.5 253h1.2M359.1 240.7h1.2M385.6 257.1h1.2M391.4 245.1h1.2M368.1 236.9h1.2M394.6 247.1h1.2M403.4 255.8h1.2M432.9 240.5h1.2M412.3 258.5h1.2M415 254.7h1.2M400.7 241.9h1.2M388.4 257.2h1.2M394.8 240h1.2M405.8 252.3h1.2M411.9 256.6h1.2M404.4 258.7h1.2M389.1 248.4h1.2M386.7 246.8h1.2M396.6 239.2h1.2M391 240.9h1.2M387.1 242h1.2M379.5 244.8h1.2M413 262.2h1.2M420 246h1.2M392 257.6h1.2M395.7 261.1h1.2M374.1 256.6h1.2M368.3 245.2h1.2M392.3 255h1.2M380.3 247.2h1.2M381.5 247.8h1.2M373.2 256.3h1.2M398.1 246.8h1.2M405.4 245.7h1.2M396 261.8h1.2M413 243h1.2M413.7 271.1h1.2M403.4 267.3h1.2M389.7 228.1h1.2M422.7 247.4h1.2M368.9 235.7h1.2M405.7 245.8h1.2M402 239.9h1.2M372.4 245.1h1.2M369.2 245h1.2M392.7 264h1.2M392 261.4h1.2M411.8 239.2h1.2M440 264.1h1.2M403.9 254.8h1.2M435.8 255h1.2M386.4 254.7h1.2M371.7 262.6h1.2M387.4 253h1.2M368.1 261.6h1.2M396.5 229.8h1.2M416.8 246.5h1.2M390.1 259.7h1.2M415.3 242.5h1.2M371.3 257.4h1.2M377.1 248.6h1.2M403 236h1.2M380 264.6h1.2M381 255.7h1.2M410.4 252.4h1.2M365.1 266h1.2M387.4 243.5h1.2M390.7 256.9h1.2M401.7 264.9h1.2M438 248.1h1.2M402.2 245.6h1.2M409.8 247.6h1.2M378.7 258.4h1.2M407.8 246.8h1.2M395.6 244.5h1.2M387.7 229.5h1.2M353.5 253.6h1.2M397.7 245.1h1.2M375.9 245.2h1.2M398.4 252.7h1.2M378.4 249.8h1.2M358.7 257.2h1.2M360.3 262.2h1.2M401.1 266.6h1.2M383.8 245.1h1.2M386.7 251.5h1.2M379.9 246.1h1.2M396.8 250.4h1.2M370.7 244.9h1.2M356.3 257.4h1.2M419.2 236.5h1.2M389.3 224.5h1.2M412.2 246h1.2M397.9 254.6h1.2M410.8 262.3h1.2M362.2 249.3h1.2M402.7 259.1h1.2M388.3 254.4h1.2M373.4 251.7h1.2M376.6 259.8h1.2M420.8 103.8h1.2M400.7 88h1.2M433.8 99.1h1.2M427 114.1h1.2M388.1 91h1.2M395.7 99.4h1.2M425 101.2h1.2M413.8 99.3h1.2M444.1 103.3h1.2M444.2 117.6h1.2M447.2 93.7h1.2M445.1 95.6h1.2M416.3 89.6h1.2M456.8 98.1h1.2M426.6 110.7h1.2M439.6 86.1h1.2M431.3 121.3h1.2M399.8 97.3h1.2M461.4 95.4h1.2M440.2 108.5h1.2M440.1 104.1h1.2M440.9 104.3h1.2M453 108.4h1.2M457.2 97.1h1.2M444.9 90.6h1.2M412.1 100.8h1.2M458.7 103.3h1.2M454.4 113.9h1.2M429.2 110h1.2M417.5 93.8h1.2" stroke="#a4a4a4" stroke-width="1.2"/>
</g>
<rect x="349.8" y="77.8" width="196.8" height="197.2" stroke="#858585" stroke-width="1.3" fill="none"/>
<path d="M349.8 275.3H546.6" stroke="#9a9a9a" stroke-width="2.4" fill="none"/>
<path d="M365 274v2.8M376.4 274v2.8M383.2 274v2.8M387.9 274v2.8M391.6 274v2.8M394.6 274v2.8M397.2 274v2.8M399.4 274v2.8M401.4 274v2.8M413.9 274v2.8M425.3 274v2.8M432.1 274v2.8M436.8 274v2.8M440.5 274v2.8M443.5 274v2.8M446.1 274v2.8M448.3 274v2.8M450.3 274v2.8M462.8 274v2.8M474.2 274v2.8M481 274v2.8M485.7 274v2.8M489.4 274v2.8M492.4 274v2.8M495 274v2.8M497.2 274v2.8M499.2 274v2.8M511.7 274v2.8M523.2 274v2.8M529.9 274v2.8M534.6 274v2.8M538.3 274v2.8M541.4 274v2.8M543.9 274v2.8" stroke="#777" stroke-width="1.5" fill="none"/>
<rect x="453" y="92.6" width="77.4" height="60.8" stroke="#303030" stroke-width="1.3" fill="none"/>
<path d="M452.4 153.5L531 153.5" stroke="#2a2a2a" stroke-width="2.2" fill="none"/>
<g fill="none" filter="url(#soft)">
<path d="M145.7 401.9L148 397.1L150.2 390.6L154 385.6L159.9 380.7L165 376.5L169.7 374L176.9 373.4L181.2 374.6L185.6 378.2L191 381.6L194.7 384.8L198.8 389.4L200.5 393.6L204.3 400.3L209.6 396.3L210.5 402.1L209.2 407.7L206 409.4L200.5 408.2L194.2 408L184.7 409.8L180.3 411.2L185.2 412.5L193.6 413.4L200.1 415.6L203.7 420.4L205.1 423.7L205.8 428.7L205.8 434.8L206.9 440.7L205.8 445.9L203.5 449.1L203.6 455.3L201.8 459.2L200 465.7L199.4 470.7L197 475.8L196.1 481.5L194.6 488.1L194.4 493.8L192.6 499.5L192.1 504.9L190.4 509.8L187.1 516.7L183.2 523.1L179.7 526.1L171 526.8L168.5 521.6L164.1 516.2L156.1 513.8L149.6 516.8L143.7 515.9L138.6 513.4L133.4 507.7L130.5 503.3L126.6 496.5L125.5 491.4L125.6 484.5L127.3 477.9L128.1 471.8L131.4 467.2L132.3 461.9L135.7 455.9L137.7 450.9L140 445.4L143.1 440L146 434.9L148.8 431.1L154.2 423.8L156.9 419.8L151.2 413.6L147.5 407.7Z" stroke="#7a7a7a" stroke-width="0.9" fill="none" stroke-linejoin="round"/>
<path d="M189.8 393.4L189 398.5L187.4 400.5L184.4 402.9L182.1 404.9L180 404.7L174 407.1L171.3 408.4L168.2 409.4L163.7 408.2L160.6 408.5L157.5 406.2L155.3 403.9L153.8 401.3L152.2 399.2L152.5 393L155.3 387.8L157.7 383.4L162 379.5L163.9 377L167.7 377.4L170.9 376.6L174.8 377L176.7 377.2L179.8 379.1L182.9 380.5L186.6 382.8L188.4 384.4L189.4 387.7Z" stroke="#7a7a7a" stroke-width="0.9" fill="none" stroke-linejoin="round"/>
<path d="M186.6 392.6L185.9 397L181.7 401.7L177.4 402.4L173.7 404.4L167.6 405.1L162.7 404.5L159.4 401.4L156.5 398.2L155.8 393.7L158.5 388.9L160 385.3L164.1 381.9L167.9 380.1L173.4 380.2L178.5 381.1L183.3 383.9L184.7 388.6Z" stroke="#7a7a7a" stroke-width="0.9" fill="none" stroke-linejoin="round"/>
<path d="M181.8 393.5L181.6 396.3L179.5 398.4L176.1 400.3L172.6 402.1L168.3 402.9L164.7 402.1L161.5 398.7L160 397L159.6 392.9L161.7 389.6L163.3 386.6L165.5 385.2L168.8 383.3L172.1 384.3L176.3 385.4L180 386.1L182.1 390.3Z" stroke="#7a7a7a" stroke-width="0.9" fill="none" stroke-linejoin="round"/>
<path d="M178.5 393.5L177.9 395.4L176.3 396.8L173.6 396.9L172.4 398.4L169.1 399.1L167.5 398.4L165.8 397.6L163.9 395.6L164 393.1L164.9 391.8L166 390.1L167.3 388.1L170.4 387.4L171.9 386.7L174.4 387.7L176.9 389.4L178.3 390.8Z" stroke="#7a7a7a" stroke-width="0.9" fill="none" stroke-linejoin="round"/>
<path d="M173.7 393.1L174.1 393.2L172.6 394L171.9 394.5L172.1 394.7L171.1 395.1L169 395.9L168 394.1L167.5 393.2L167.9 392.5L168 391.5L169.2 390.8L169.1 390.9L171 390.8L171.7 390.9L172.8 391.4L172.7 390.6L173.9 392.1Z" stroke="#7a7a7a" stroke-width="0.9" fill="none" stroke-linejoin="round"/>
<path d="M256.6 396.2L256 400.6L254.6 403.9L253.4 407.2L251.1 409.9L248.5 412.9L246.5 415.4L245.2 416.7L242.3 418.7L238.5 420.3L235.5 421.9L232.8 424L229.3 425.5L226 426.1L223.1 426.8L220.7 428L216.3 430.2L214.4 430.4L209.8 430.2L206.1 430.1L204.4 425.5L206.1 420.2L206.4 418.6L208.8 414.7L211.5 412.4L214.4 410L217.9 406.6L221.3 403.5L223.6 401.8L226.4 398.8L228.5 397.4L232.3 395L235.8 393.5L239.3 392.7L244 391.6L248 391.6L252.9 393.8Z" stroke="#7a7a7a" stroke-width="0.9" fill="none" stroke-linejoin="round"/>
<path d="M250.7 400.1L250.8 403.4L248.1 407.2L244.5 412.2L242.3 415.4L238.6 417L236.1 419.1L232.6 420.4L229 422.3L225.2 423L221.3 425.4L218.3 426L212.4 424.9L211.2 422.4L211.7 418.8L213.5 414.8L215.2 412.7L217.5 410.4L220.7 407.4L223.9 405.2L226.3 402L230.1 400.4L233.2 397.5L237.3 397.2L241.4 396L243 396.7L247.3 397.9Z" stroke="#7a7a7a" stroke-width="0.9" fill="none" stroke-linejoin="round"/>
<path d="M244.4 403.8L243.8 406.1L243.2 407.9L240.7 411.6L237 416L232 417.9L227 419.4L221.8 420.8L218.4 420.5L217 418.5L217.4 415.6L218.2 413.5L222.3 410.7L225.8 407.7L229.5 403.7L232.9 401.5L234.9 400.5L239.9 401.1L242.9 401.7Z" stroke="#7a7a7a" stroke-width="0.9" fill="none" stroke-linejoin="round"/>
<path d="M237.9 406.9L238.5 407.5L237.8 409.3L236.1 411.4L234.5 412.8L231.3 414.4L228.9 416.4L225.5 417.1L223.6 416.3L222.7 415.5L223.7 414.1L223.4 412.7L226 410.4L227.5 408.6L230.7 406.4L232.9 405.9L235.8 404.5L238.1 405.1Z" stroke="#7a7a7a" stroke-width="0.9" fill="none" stroke-linejoin="round"/>
<path d="M283.1 407.9L281.7 413L280 416.5L277.1 419.1L274.5 419.7L270.5 420.2L267.2 419.6L264.5 416.8L261.9 413.4L259.8 408.5L260.8 404L264.5 400.5L267.6 398.5L269.8 396.6L273.9 396.7L276.7 397.3L281.7 399.6L283.2 403.7Z" stroke="#7a7a7a" stroke-width="0.8" fill="none" stroke-linejoin="round"/>
<path d="M191.7 481.3L191.6 483.7L190.9 487.1L188.4 490.8L187.9 494.6L186.3 497.2L184.9 499.7L183.3 502.3L180.2 506L179.3 508.4L176.5 511.2L175 512.8L172.3 516.5L170.1 517.8L168.4 520.9L166.9 522.6L163.6 523L160.7 524.4L158 526.1L153.8 525.6L151.5 523.6L150.1 522.1L147 520L144.6 517.4L143.2 514.9L140.3 511.4L138.3 506.9L136.5 503.6L134 501L132.7 496.6L131.8 493.3L131.2 491L130.2 486.5L129.7 482.6L129.6 479.1L129.5 476.5L130 472.2L129.9 469.8L130.7 466.3L131.5 463L131.7 459.9L132.4 456.7L134 453L133.8 451.2L135.9 448.2L137.3 443.9L138.9 440.6L141.1 437.9L142.6 435.3L144.3 433.1L148.2 430.9L150.7 429.4L153.5 428.4L157.5 428.8L160.5 427.4L164 428.5L167.3 427.8L170.9 427.7L174.1 428L178.1 429.8L180.7 430.4L184.2 432.2L186 436L188 438.5L189.2 441.2L189.9 445L190.8 448.4L192.3 451.2L192.2 454.3L192.4 458.2L193.8 461.6L193.1 464.2L193.3 466.8L193.3 471L193.1 474.7L192.8 477.4Z" stroke="#8a8a8a" stroke-width="0.8" fill="none" stroke-linejoin="round"/>
<path d="M190 480.1L188.2 483.6L187.5 486.2L186.3 489.6L185.3 491.8L183.4 495.1L182.3 498.1L180.3 501L177.5 503.6L175.1 506.2L173.9 509.7L170.3 512.1L168.3 515.5L166.5 517.5L162 518.9L159.3 519.9L155.4 519.3L152 518.5L149.9 516.5L147.2 512.7L145.2 510.7L142.2 506.8L141.1 503.5L138.7 501.2L136.7 497.9L134.9 494.4L135.3 490.8L133.2 488.9L133.8 485L132.5 481.2L133.1 478.7L132.7 475.8L132.4 472.3L133.9 469.9L133.7 466.5L134.9 462.9L134.4 458.9L135.9 455.9L136.6 452.2L138.4 449.4L139.3 446.9L140.5 443.3L142.6 440.7L143.8 438L145.7 437L149.5 434.7L153.9 433.4L157.4 431.5L160.1 431.8L164.2 432.1L167.7 431.5L170.5 432.4L174 431.8L177 432.1L179.4 434L182 435.8L184.1 438.8L185.5 441.4L186.3 444L187.6 448.4L188.9 450.4L189.3 453.6L189.4 458.2L189.9 460.4L190.4 464.7L190.4 468.2L190.4 470.4L189.8 473.9L190.3 476.9Z" stroke="#8a8a8a" stroke-width="0.8" fill="none" stroke-linejoin="round"/>
<path d="M186.3 478.5L186.1 483L184.5 485.9L182.6 488.4L180.7 492.2L180.3 495.2L178.2 498.2L175.9 500.2L173.7 503.3L172.3 505.5L170.3 508.6L167 509.9L165.4 512.4L161.9 513.7L159.1 514.4L156 514L152.9 513.5L151.1 511L148.6 508.6L146.6 505.7L144.5 502.4L143.7 500.6L141.6 497.9L139.4 494.3L138.3 491.7L137.4 488.8L136.1 484.1L136.1 480.8L135.8 477.1L136.4 474.1L135.5 470.7L136 466.5L137.1 464.2L137.3 459.8L139 457.4L139.1 454.4L139.9 451L141.9 447.9L143.7 445.8L146.5 441.8L147.7 439.2L151.3 437.2L154 437.1L157.9 436.3L161.8 435L166.6 436.2L170.3 435.9L174.9 436.6L178.4 438.6L181.3 441.5L182.8 445.7L184.3 449.1L185 453.3L185.5 456.1L186.8 459.3L187.7 461.1L186.7 464.6L186.7 468.9L186.8 472.1L187.8 475.7Z" stroke="#8a8a8a" stroke-width="0.8" fill="none" stroke-linejoin="round"/>
<path d="M184.4 477.9L182.6 481.4L181.3 483.8L180.3 486.6L178.7 490L177.8 493L174.9 496.6L173.3 498.2L170.8 501.4L167.1 504.5L164.8 507.1L161.4 508.6L156.7 509.4L152.3 508L150.5 503.6L148 500.2L145.5 497.2L143.2 492.8L140.3 489.1L140.1 485.7L139.3 481.8L138.4 478.9L138.7 476.3L138.4 472.6L139.4 469.5L139 466.9L139.8 463.6L141.4 460.8L142 457.5L143.1 453.5L144.7 450.2L145.3 447.8L147 445.4L149.6 442.7L152.7 440.6L155.3 439.9L158.9 439L162 439.7L165.6 440.2L169.1 439.1L172.6 440.4L176.6 442.2L179.5 445.7L180.5 447.4L181.6 451.7L183.3 454L182.8 458.8L184.8 461.4L184.4 464.8L184.5 467.9L184.7 471L184.2 474.4Z" stroke="#8a8a8a" stroke-width="0.8" fill="none" stroke-linejoin="round"/>
<path d="M180.7 477.2L179.8 480.7L178.7 483L176.4 487.1L175.5 489.1L173.6 492.1L171.3 495.6L169.7 497.2L166.3 499.8L164.7 502.8L161 504.3L157.6 504.1L153.8 502.7L151.6 499.9L150 496.2L147.2 492.4L145.5 489.6L143.3 486.5L143.1 484.1L142 481L141.9 478.2L141.9 474.7L141.5 471.2L141.6 467.5L142.3 463.4L143.6 458.8L145.5 455.2L147.1 451.6L148.4 448.9L151.2 446.7L154.6 444.9L158 442.9L161.9 443.4L165.6 444.1L168.4 443.7L172 443.5L174.5 445.6L177.3 448.3L178.3 451.6L179.8 455.9L181.1 460.1L181.5 462.2L181.5 465.2L181 469L181.4 473.1Z" stroke="#8a8a8a" stroke-width="0.8" fill="none" stroke-linejoin="round"/>
<path d="M177.9 474.9L177 478.7L176.4 481.1L174.4 484.6L171.5 487.9L169.1 491.5L167.3 493.8L163.4 497.8L160.6 498.8L157.9 498.7L154.6 497.6L152.6 494.6L151.5 492.8L149.2 489.1L148.2 486.7L146.9 483.7L144.6 480L145.3 476.4L145.4 473.9L145.1 469.9L145.1 466.5L145.5 463.6L147.2 460.2L147.3 457L148.5 455L150.6 452L153.1 450.1L155.4 448.4L159.4 447.3L164.8 448L170.4 447.1L175.4 451.6L175.9 455L177.9 458.7L178 462.7L177.8 465.7L178.3 469.3L178.5 472.6Z" stroke="#8a8a8a" stroke-width="0.8" fill="none" stroke-linejoin="round"/>
<path d="M175 474.1L174.2 478L171.8 481.5L170.3 484.8L168.6 487.9L166.4 490L163.9 491.9L158.5 494.3L153.8 490.1L151.5 486.1L148.5 481.5L147.6 479L147 475.2L148.1 471.4L147.8 467.3L149.4 463.5L150.1 460.3L151.9 456.5L154.4 453.7L159.7 450.5L163.8 450.8L168.3 451.6L172.4 454.3L173 457.8L174.5 459.8L175.4 462.8L174.9 467.5L175.7 470.3Z" stroke="#8a8a8a" stroke-width="0.8" fill="none" stroke-linejoin="round"/>
<path d="M171.5 473.4L169.5 478.4L166.5 483.5L162.8 486.5L159.6 488.3L155.4 485L154.4 482.1L151.8 479.2L149.9 473.1L150.6 468.1L151 464.8L152.9 461.5L154.2 458.1L155.7 456.4L160.2 454.7L163.9 455.5L167.8 455.7L170.5 458.2L171.6 461.3L172.9 467Z" stroke="#8a8a8a" stroke-width="0.8" fill="none" stroke-linejoin="round"/>
<path d="M169 472.6L167.5 475.5L166 478.6L162.1 482.5L159.3 483.3L156.7 480.7L155.7 478.7L154.7 476.2L153.1 472.9L153.2 468L154.3 464L157.3 459.8L161 458.3L163.3 459.1L165 459.4L167.6 461L169.3 463.7L169.3 467.6Z" stroke="#8a8a8a" stroke-width="0.8" fill="none" stroke-linejoin="round"/>
<ellipse cx="180.4" cy="468.3" rx="15.4" ry="51.4" transform="rotate(5 180.4 468.3)" fill="#999" opacity="0.4" filter="url(#b3)"/>
<path d="M201.4 469.6L200.4 473.3L200.4 476.8L200.4 480.4L200 483.2L198.9 486.1L198.4 489.9L197.6 493.8L197.8 497.1L196.3 500L196.4 503L195.3 505.7L195 509.1L192.9 513.1L191.2 515.8L189.9 519.1L188.5 521.5L185.9 523.5L182.6 525.7L176.4 525.5L175.8 523.2L174 518.4L173.1 515.5L171.9 512.1L171.6 507.9L171.9 504.6L171.4 501L170.6 496.6L169.8 493L169.2 490.4L168.2 486.2L168.7 483.5L167.4 480.8L167.8 476.6L167.1 473.4L167 470.7L166.9 467.5L167 463.6L167.2 461L167.3 456.9L168.7 454.5L168.2 450.9L168.6 448.4L170.4 444.4L171.1 440.9L172.4 437.1L173.5 433.9L174 431.1L175.5 427.8L176.9 425L178.2 420.8L179.3 418.2L181.6 416.3L184.4 413.5L186.4 412.4L189.6 413.7L191.7 416.8L194.8 419.5L195.7 421.6L197.9 424.7L198.9 427.5L200.4 431.3L201 433.2L202.1 437L201.6 439.3L201.6 442.5L202 445.4L202.8 449.2L201.7 452.2L201.4 455.9L201.5 459.8L201.1 462.4L200.5 466.6Z" stroke="#8a8a8a" stroke-width="0.8" fill="none" stroke-linejoin="round"/>
<path d="M198.7 469.1L198.3 472.8L198.4 476.1L198.1 479.4L197.6 481.7L198 485.5L197.6 488.2L196.5 491.5L196.5 495L195 499.2L194.4 502.9L193.2 505.8L192.6 508.1L191.5 511.9L190.2 514.1L188.7 516.2L186 519.5L182.2 521.2L177.1 519.9L175.9 517.6L174.6 514.2L174.3 510.7L173.3 507.3L172.3 504.8L172.3 501.2L172.5 497.1L171 495L171.1 491.9L169.7 488L170.3 485.2L169.8 482L168.9 478.2L169.5 473.8L168.8 470.4L168.7 467.5L168.8 463.1L169.2 460.5L169.2 457.3L169.7 453.4L170.6 449.5L171.7 447.3L171.6 444.3L173.2 440.5L173.8 437.6L174.5 434.3L175.2 431L177.8 427.5L179.9 424.1L181.6 421.3L183.8 418.9L186.1 418.5L191.3 421.3L193.5 423.3L195 426.2L197.5 428.4L198.8 430.7L200 435.1L200.2 436.6L200.8 440.5L200.3 444.3L200.7 447.9L200.7 450.5L201.2 453.5L200.4 456.6L199.5 460.2L199.7 462.7L200 466.6Z" stroke="#8a8a8a" stroke-width="0.8" fill="none" stroke-linejoin="round"/>
<path d="M198 469L197.3 473.2L197.4 476L196.6 480.1L196.4 482.3L196.2 486.2L195.7 489L194.7 492.4L193.4 495.9L193.6 499L193.2 501.4L191.4 506.1L189.8 508.4L188.5 511L184.6 514.3L182.5 515.2L177.7 515.3L175.7 511.2L175.7 506.1L174.7 504.2L173.8 501.2L173.1 498.4L173.7 495.1L172 491.7L171.6 489.9L170.9 486.6L171.9 483.6L170.5 480.6L170 476.9L170.7 473.7L169.8 470.6L170.1 467.6L170.9 463.5L171.1 460.7L170.6 458.7L172.1 455L172.5 452.1L172.1 449.2L173.6 444.7L174.2 442.1L175.8 437.7L176.2 435.9L177.8 432L180.3 427.9L181.2 425.5L185.8 422.2L191.2 426L194.8 430.5L195.8 433.6L198.3 437.1L198.2 440.8L198.8 444.7L198.9 449.2L199.7 452.6L199.5 455.5L199.4 458.6L198.8 462.8L198.4 465.8Z" stroke="#8a8a8a" stroke-width="0.8" fill="none" stroke-linejoin="round"/>
<path d="M196.6 469.3L195.6 473L195.9 477.5L195.8 480.8L194.7 484.4L193.7 487.6L193.9 491.2L192 494.3L191.1 498.5L189.8 502.1L188.9 504.5L187.3 507.2L183.4 510.6L179 509.5L177.4 506.7L176 503.3L175.5 499.7L174.9 495.5L175 491.6L174.2 488.9L172.8 484.7L173.2 482L172.3 477.7L171.6 474.7L171.4 470.3L172 467.8L171.3 464.7L171.6 460.3L172.2 457.4L172.9 454.2L173.3 451.3L174.9 447.6L175.1 444.9L176.9 441.9L178.3 438.6L179.1 435.6L180.3 432.5L181.8 430.1L186.1 428.1L190 431.1L193.9 434L194.6 437.1L197.1 440.5L196.7 443.9L196.6 447.8L197.9 450.5L197.9 453.9L196.8 457.4L197 460L197.4 463.7L196.9 466.9Z" stroke="#8a8a8a" stroke-width="0.8" fill="none" stroke-linejoin="round"/>
<path d="M194.7 469.8L195.1 472.6L194 475.7L194.4 479.7L193.2 482.4L193.6 486.1L191.8 488.7L191.2 492.2L191.3 495.2L189 499.2L186.4 501.8L183.2 505.3L179.7 504.9L178.3 502.4L176.4 498.9L175.8 494.8L176.2 491.6L176 488.9L175.2 486.7L174.8 483.5L173.7 479.7L173.7 476.5L173.5 473.7L173.2 469.9L173.4 467.1L173.2 464.4L174.2 459.8L175 457.1L174.4 452.7L175.4 449.9L177.6 445.7L178.7 443.1L180.3 437.4L181.8 434.5L186.2 432.2L189.4 434.4L192.6 437.8L193.2 441.2L194.3 443.8L195.7 448.3L195.1 451.3L196.1 455.7L196.3 459L195.3 462.8L194.6 466.5Z" stroke="#8a8a8a" stroke-width="0.8" fill="none" stroke-linejoin="round"/>
<path d="M193.1 469.5L193.7 473.4L192.9 476L192.1 479.8L192 483.3L190.4 488L190.2 491.4L188.9 495.2L186.8 497.4L184 499.7L179.6 499.4L178.7 494.1L177.1 489.9L177.3 485.9L175.7 482.7L175.9 477.9L175.7 475.1L174.9 471.9L175.1 466.8L174.4 464.8L175.6 460.8L176.4 457.7L175.9 455.1L177.4 452.2L178.9 448.4L178.6 445.5L180.4 442.8L182.4 439.4L185.8 438.1L188 439.5L190.7 442.1L194.2 447.1L193.8 451.2L194.9 454.4L194.2 457.7L194.5 462.2L194.5 465.4Z" stroke="#8a8a8a" stroke-width="0.8" fill="none" stroke-linejoin="round"/>
<path d="M192.8 468.9L191.8 472.7L192 475.8L191.2 477.7L190.6 481.9L189.9 484.7L189.6 486.9L187.9 491L187.1 493.4L182.9 495.3L181.3 495.2L179.7 490.1L178.5 486.3L178.6 483.7L178.1 479.9L176.7 476.4L177 473.4L175.8 470.7L176.2 467.7L176.7 465L176.6 461.3L178.5 457.7L178.9 452.9L180.9 449.5L182.1 446.6L182.3 444.1L185.4 442.3L187.4 444.2L189.8 446.3L192.6 450.7L192.6 454.3L192.3 460.1L192 462.7L191.9 465.8Z" stroke="#8a8a8a" stroke-width="0.8" fill="none" stroke-linejoin="round"/>
<path d="M191.1 469L190.6 472.7L190.5 476.4L188.8 480L188.9 484L186.5 488.4L184.1 489.7L182.3 490.2L180.4 486.7L179.8 480L179.1 475.3L178.7 471.5L177.3 467.5L178.6 463L178.4 460.2L179.7 456.3L180.6 452.7L183.7 448.3L185.5 447.3L187.1 449.4L189.8 450.9L190.5 453.6L191.6 458.1L192 460.5L191.4 464.4Z" stroke="#8a8a8a" stroke-width="0.8" fill="none" stroke-linejoin="round"/>
<path d="M189 469.1L189 474.1L187.6 480.1L185.5 484.1L184.4 484.3L181.7 484.8L181 481.9L181 477.6L180.2 474.1L180 467.8L180.2 465.4L180.4 462L181.9 456.1L183.9 452.8L185.9 452.8L186.9 454.1L187.4 455.3L189.9 457.3L189.5 462.2Z" stroke="#8a8a8a" stroke-width="0.8" fill="none" stroke-linejoin="round"/>
<path d="M188.2 467.9L187.6 472.7L186.8 476.8L186.1 479.1L184.8 479.2L183.1 479.9L183 477.3L182.4 474.9L182 471.7L180.9 468.6L181.8 463.9L182.9 460.8L183.7 457.3L185.6 457.4L185.4 458.7L187.6 459.1L187.6 461.3L188.6 465Z" stroke="#8a8a8a" stroke-width="0.8" fill="none" stroke-linejoin="round"/>
<ellipse cx="176.1" cy="482" rx="2.7" ry="18" transform="rotate(0 176.1 482)" fill="#777" opacity="0.9" filter="url(#b1)"/>
<ellipse cx="190.1" cy="464.9" rx="5.1" ry="30" transform="rotate(1 190.1 464.9)" fill="#808080" opacity="0.9" filter="url(#b1)"/>
<ellipse cx="182.9" cy="447.8" rx="3.1" ry="8.6" transform="rotate(0 182.9 447.8)" fill="#777" opacity="0.8" filter="url(#b1)"/>
<path d="M159.2 414.2h1.2M128.3 442.7h1.2M134.6 486.6h1.2M142.9 424.2h1.2M112.9 374.2h1.2M123.8 463.2h1.2M137.4 387.6h1.2M149.6 431.9h1.2M170.3 464.2h1.2M145.1 463h1.2M133 408.9h1.2M121.5 452.9h1.2M149.5 435.4h1.2M152.3 422.5h1.2M156.8 461.2h1.2M126.9 473h1.2M142.4 409.7h1.2M147.5 456.8h1.2M117.7 427.7h1.2M140.8 354h1.2M134.7 387.7h1.2M119.3 431.7h1.2M115.5 478.1h1.2M129 471.7h1.2M143.3 452.8h1.2M136 494.7h1.2M133.4 430.1h1.2M149.3 438.9h1.2M132.3 409.7h1.2M142.9 455.4h1.2M130.4 436.8h1.2M138.1 383.4h1.2M152.4 366.4h1.2M142.8 425.9h1.2M147.7 395h1.2M149.1 434.4h1.2M137 422h1.2M139.8 375.8h1.2M141.8 431.5h1.2M127.9 492.2h1.2M157.9 393.1h1.2M156.7 444.2h1.2M119 424.1h1.2M120.4 503.1h1.2M141.6 469h1.2M142.6 456.2h1.2M147.8 485.6h1.2M123.1 502.3h1.2M130.3 410.4h1.2M116.2 492.5h1.2M135.8 419.7h1.2M151.5 417.2h1.2M155.6 410.9h1.2M132 393h1.2M149 493.9h1.2M122 459.2h1.2M154.3 486.6h1.2M142.1 418.4h1.2M160 493.9h1.2M156.6 414.5h1.2M137.1 418.3h1.2M146.2 465.8h1.2M145.8 463.2h1.2M163.8 432.6h1.2M150.4 534.5h1.2M141.2 481.5h1.2M128.9 465.1h1.2M138.2 435.4h1.2M157.1 427.1h1.2M160 533.6h1.2M131.8 491.3h1.2M127.8 451.7h1.2M130.4 439.8h1.2M131.8 435.7h1.2M129.3 442.8h1.2M139.5 397.6h1.2M162.6 477.9h1.2M150.1 403.5h1.2M151.6 450.1h1.2M156.3 424.7h1.2M145.3 437.6h1.2M153 418h1.2M116.3 429.2h1.2M116.6 404.1h1.2M133.2 435.3h1.2M124.7 456.8h1.2M139.6 390h1.2M144.5 426.5h1.2M134.5 423.8h1.2M140.3 463h1.2M154.6 373.5h1.2M131.5 496.9h1.2M140.9 433.9h1.2M152.7 357.9h1.2M114.4 451.3h1.2M150.3 436.4h1.2M138.9 458.3h1.2M158.1 458.9h1.2M148.4 482.2h1.2M121.3 409.3h1.2M151 441.7h1.2M142.1 409.3h1.2M132.2 445.2h1.2M128.6 495.1h1.2M116.1 411.5h1.2M144.4 464.3h1.2M129.6 368.1h1.2M127.4 459h1.2M145.5 437.2h1.2M122.6 429.9h1.2M146.1 518.6h1.2M126.3 445.5h1.2M120.2 517.4h1.2M135.1 433.8h1.2M118.5 468.4h1.2M126 441.4h1.2M122.1 430.9h1.2M133.9 451.2h1.2M138.8 454.3h1.2M133 391.5h1.2M134.1 420.9h1.2M142.4 395.8h1.2M127.1 472.7h1.2M132.2 403.2h1.2M125.8 436.4h1.2M118.8 474.9h1.2M126.3 501.6h1.2M142.5 462.7h1.2M208.4 386.6h1.2M211.1 402.1h1.2M200.4 378.5h1.2M276.2 393.1h1.2M226.2 396.5h1.2M269.4 370.9h1.2M246 405.6h1.2M269.2 426.4h1.2M255 394.1h1.2M262.4 391.4h1.2M247.8 391.4h1.2M228.7 386.6h1.2M273.5 377.7h1.2M265.3 398.1h1.2M304.7 369h1.2M194 380h1.2M221.7 362.1h1.2M280.6 385.7h1.2M261.8 397h1.2M240.8 410h1.2M239.5 365h1.2M233.4 398h1.2M210.6 381.5h1.2M293.1 399.3h1.2M261.9 384.6h1.2M229.6 399.5h1.2M244.2 361.4h1.2M230.9 380.9h1.2M288.7 373h1.2M209.5 382.1h1.2M235.2 401.6h1.2M291.1 381.5h1.2M229.6 388.8h1.2M293.2 374h1.2M262 385.8h1.2M188.9 394.2h1.2M214.4 375.3h1.2M216.6 390.7h1.2M258.4 369.5h1.2M255.3 379h1.2M289 407.3h1.2M263.8 390.1h1.2M199.2 393.6h1.2M268 391.3h1.2M195.7 369.1h1.2M236.5 394.3h1.2M228.1 390h1.2M206.3 413.4h1.2M245.4 391.9h1.2M277 389.9h1.2M285.1 402.2h1.2M238.3 371.2h1.2M264 373.2h1.2M244.4 407.5h1.2M226.5 366.5h1.2M260.9 384h1.2M262.1 396.7h1.2M276.8 391.5h1.2M237.8 364.5h1.2M208.9 410h1.2M241.4 399.2h1.2M243.5 401.2h1.2M260.5 388.2h1.2M204.5 385.6h1.2M249.3 436.8h1.2M243.5 397.6h1.2M290.6 386.1h1.2M245.1 416.4h1.2M249.7 388.2h1.2M265.9 397.6h1.2M236.9 370.5h1.2M200.3 395.4h1.2M241.3 384.1h1.2M243.3 384.1h1.2M229.4 375.9h1.2M213 384.9h1.2M230.3 385.7h1.2M232.4 396.5h1.2M286 390.9h1.2M278.3 369h1.2M254.4 406.3h1.2M249.3 370.2h1.2M261.5 405.2h1.2M281.6 393.2h1.2M233.6 382.1h1.2M236.7 358.3h1.2M242.9 383.9h1.2M240 403.6h1.2M262.1 406.6h1.2M265.7 385.5h1.2M241.9 367.4h1.2M194.9 366.2h1.2M243.9 375.5h1.2M175.9 525.8h1.2M219.8 523.3h1.2M171.1 526.1h1.2M162.2 535.5h1.2M151.3 522.3h1.2M121.9 534.7h1.2M138.2 542h1.2M141.6 521.9h1.2M134.7 530.7h1.2M141.8 536.7h1.2M179.4 534h1.2M175.6 527.5h1.2M150.1 535.6h1.2M172.1 541.5h1.2M165.9 533.6h1.2M156.9 521.9h1.2M131.6 530.1h1.2M153.2 536.5h1.2M190.5 538h1.2M142.5 537.6h1.2M177.8 530.9h1.2M188.9 542.1h1.2M166.1 527.8h1.2M169.2 534.1h1.2M178.3 532.6h1.2M162 530.5h1.2M146.1 538.4h1.2M124.2 527.3h1.2M130.4 543h1.2M194 536.4h1.2M149.3 529.6h1.2M174.1 533.2h1.2M177.5 523.4h1.2M205.9 542.6h1.2M156.3 534.1h1.2M202.8 514.9h1.2M196.7 511.7h1.2M165.4 530.6h1.2M148.6 536.9h1.2M139.3 528.4h1.2M160.6 535.2h1.2M171.9 519.2h1.2M162.3 537.2h1.2M145.7 535.8h1.2M138 524.8h1.2M157 536.7h1.2M115.3 535.3h1.2M131.9 539.8h1.2M133 538.1h1.2M190.4 534.7h1.2M149.4 531.3h1.2M119.9 512.6h1.2M166.5 536.9h1.2M145.6 523.5h1.2M132.2 538.7h1.2M139.9 531h1.2M189.2 520.3h1.2M199 530.3h1.2M113.9 526.7h1.2M158.7 537.8h1.2M169.2 540.1h1.2M138.8 521.1h1.2M181.2 538.8h1.2M149.2 524.3h1.2M149 530.1h1.2M161.6 532.3h1.2M145 541.5h1.2M125.4 517h1.2M126.5 534.4h1.2M190.9 529h1.2M145.1 537.8h1.2M120.1 538.4h1.2M161.8 526.8h1.2M125.6 513.9h1.2M144.1 536.3h1.2M165.8 537h1.2M190.7 538.3h1.2M161.3 527.4h1.2M148 531h1.2M198.2 529.5h1.2M151.2 529.4h1.2M164.3 535.6h1.2M166.1 536.9h1.2M170.2 524.6h1.2M171.1 522.7h1.2M215.6 442.7h1.2M266.9 446.7h1.2M209.7 447.8h1.2M221.4 434.9h1.2M200.8 452.8h1.2M231.2 441.5h1.2M247.7 436.8h1.2M237.1 444h1.2M248 453h1.2M230.3 450h1.2M252.6 439.9h1.2M264.5 442.4h1.2M224.5 441.8h1.2M238.5 439h1.2M199.2 455.1h1.2M200.9 454.3h1.2M184.4 452.1h1.2M208.6 454.7h1.2M201.6 447.4h1.2M214.3 451.2h1.2M228.9 454.9h1.2M258.1 438.1h1.2M237.5 454.5h1.2M273.6 451.6h1.2M244.4 447.2h1.2M226.3 438.2h1.2M176.3 438.5h1.2M235.9 432h1.2M229.9 455.2h1.2M231.2 451.1h1.2M230.4 458h1.2M206.5 458h1.2M232.4 451.8h1.2M232.1 445.8h1.2M226.4 463h1.2M251.1 432.8h1.2M214.7 465.3h1.2M183 450.4h1.2M214.4 446.8h1.2M250.7 437.4h1.2M165 362.4h1.2M173.8 365.7h1.2M176 362.3h1.2M176.2 365.3h1.2M185.6 360.2h1.2M176.6 355.4h1.2M150.6 365.6h1.2M159 362.4h1.2M169.7 367.2h1.2M157.4 364.5h1.2M234.5 361.6h1.2M179.4 360.3h1.2M147.7 365.9h1.2M204.8 371.1h1.2M216.9 359.5h1.2M189.8 365.4h1.2M190 373.7h1.2M200.2 360.3h1.2M187.9 375.5h1.2M168 370.8h1.2M159 362.1h1.2M160.4 362.1h1.2M186.8 358.2h1.2" stroke="#a0a0a0" stroke-width="1.2"/>
</g>
<rect x="109.8" y="350" width="198.2" height="196.6" stroke="#7c7c7c" stroke-width="1.9" fill="none"/>
<rect x="208.6" y="368.8" width="74.4" height="68.8" stroke="#303030" stroke-width="1.3" fill="none"/>
<g fill="none" filter="url(#soft)">
<path d="M375 410.5L378.2 406.1L380.5 400L384.9 396.7L389.9 392L396.2 388.4L400.8 384.5L407.5 382.4L411.4 380L417.2 376L425.6 377.9L427.3 382.9L429.9 387.5L434.9 388.4L441.9 389.3L447.1 394.5L446.9 400.9L447 406.3L446.2 413.8L443 419.4L441.7 427.2L439.4 431.5L438.7 436.8L438.6 440.7L438.2 446.9L436.1 451.8L436 457.7L434.3 463.8L433 471.3L431.9 476.7L430.6 481.9L429.1 488.3L427.2 495.1L426.3 502.3L422.9 505.3L420.8 511.9L415.9 514.1L411 507.6L408.6 502.5L409.1 495.2L406.2 489.9L402.2 487.7L395.9 486.9L390.2 487L387.1 487.4L381 485.2L377.2 479.8L371.4 471L370 466L369.8 459.9L367.6 454.8L369.6 447.2L371.2 440.6L372.8 436.1L376 431.2L376.7 426.2L376.3 420.1L376.6 415.2Z" stroke="#505050" stroke-width="1" fill="none" stroke-linejoin="round"/>
<path d="M388.3 409.8L390.6 405L391.5 401L394.6 396.1L400 391.3L406.1 389L411.5 384.9L416.8 383.6L423.6 388.3L428.5 396.2L437.4 399.1L439.5 403.5L441.3 409.5L440.7 414L439.4 420L437.2 428L437 431.7L434.9 436.5L434.3 442.2L434.4 448.8L431.8 454.4L432.3 459.8L429.9 465.6L429.6 471.5L429.5 477L428.9 481.1L427.8 486.8L425.8 491.5L425.7 494.8L422.1 504.7L418.6 507.8L414.6 506.5L411.3 499.5L411.1 492.7L411.2 486.1L410.5 480.5L409.1 475.8L403.5 474.5L397.8 477.7L391.8 476.1L388.6 475.7L385.2 471.8L382.7 465.5L380.8 460.4L378.5 453.6L378.5 448.3L378.7 442.5L381.1 436.5L381.3 429.8L383.8 425.5L384.4 420.2L385.5 414.3Z" stroke="#666" stroke-width="0.9" fill="none" stroke-linejoin="round"/>
<path d="M395.9 407.9L400.2 401.1L402.5 397L408.5 392.6L413.8 393.3L420.6 400.3L427.1 404.5L433.2 406.4L437.9 407.8L438.6 413.1L437.3 422.3L436.6 426.6L435.3 430.9L434.8 436L432.2 442.5L430.6 448.8L429.4 454.8L428.5 459.1L427.3 465.2L425.9 471.8L424.4 479.2L423 485.5L421.7 490.9L420.7 495.1L420.5 499.9L413.2 495.6L412.6 492L411.8 486L412.1 480L410.6 474.2L411 468.3L408.4 464.6L402.2 467.7L394.1 462L391.4 458.4L389 453L388 447.1L388 442.6L388.3 437.3L387.8 431.5L390.1 425L391.6 418.7L394 414Z" stroke="#7a7a7a" stroke-width="0.9" fill="none" stroke-linejoin="round"/>
<path d="M403.1 406.7L407.8 398.6L413.7 402L416.3 410.5L415.8 414.8L414.8 420.7L412.9 425.5L411.5 430.8L408.5 436.7L407.4 440.7L402.8 445.7L397.8 447.7L396.5 444.6L394.9 436.8L394.6 431.4L394.6 425.9L396 419.8L398.4 415.8L401.5 411.3Z" stroke="#9a9a9a" stroke-width="0.8" fill="none" stroke-linejoin="round"/>
<path d="M449.3 383.7L455.5 380.3L461.1 379.1L467.6 378.2L474.6 377.5L479.6 377.6L487.8 378.9L493.6 381.3L499.1 385.8L505.3 391.3L508.3 398.7L511.4 404.3L512.1 410.7L510.1 417.4L507.9 421.3L503.4 425.6L496 429.6L490 430.4L486.7 425.7L482.8 421.9L478.7 418.6L475.1 413L469.3 411.1L464.8 408.8L459.8 410.2L455.5 411.9L447.8 414.4L445.9 408L446.4 400.5L447.5 395.4L447.4 389Z" stroke="#505050" stroke-width="1" fill="none" stroke-linejoin="round"/>
<path d="M461.2 391.3L466.4 386.4L471.5 383.9L478 384.2L481.9 386.9L487 394.5L492.9 394.9L499.5 396L503.5 401.1L506.5 407.1L506.1 413L505.1 417.7L496.1 420.3L491.1 418.3L487.1 414L483.5 408.9L479.5 405.4L471.4 399.8L463.6 398.7Z" stroke="#666" stroke-width="0.9" fill="none" stroke-linejoin="round"/>
<path d="M499.7 404.8L499.6 408.8L500.2 411.4L499.8 413.8L497.3 415.5L496.3 414.6L493.7 414L491.9 413.2L490.2 410.2L490.1 407.4L488.3 404.8L489.1 401.6L489.9 400.2L491.4 399L492.3 397.8L494.3 398.8L496 400L497.9 402.9Z" stroke="#7a7a7a" stroke-width="0.9" fill="none" stroke-linejoin="round"/>
<ellipse cx="422.9" cy="454.6" rx="9.4" ry="48" transform="rotate(5 422.9 454.6)" fill="#b0b0b0" opacity="0.4" filter="url(#b2)"/>
<path d="M436 455.2L436.2 459.3L436 461.8L435 465.7L435.3 468.9L434.3 471.8L434.2 474.7L433.3 478.1L432.6 480.9L431.8 483.9L431.2 487.4L429.8 490.9L429.2 493.9L428.5 498.1L426.7 500.8L425 503.2L423.6 507.7L421.1 509.4L415.5 506.4L414.4 504.7L414.4 501.6L413 497.8L411.8 494.1L410.9 490.4L410.7 486.8L409.8 484.5L409.3 481.7L409.5 478.4L409.2 475.2L409.4 472.4L409 469.5L408.6 466.5L409.4 463L408.6 460.2L409.1 456.4L410 453L409.9 450L410.5 446.8L409.9 443.9L410.7 441L411 437.3L411.5 434.6L411.9 431L413.4 427.5L413.5 423.8L414.1 420.5L415.7 417L417.2 413.8L418.4 409.4L420.5 406.4L422.5 404.3L425.2 402.5L429.4 402.8L432.3 404.5L433.9 408.5L434.2 411L435.4 413.8L435.6 417.8L435.5 421.3L435.8 424.3L435.9 427.7L436.9 431.4L437.2 434.1L437 437.6L436.9 441.3L436.9 444.7L437.1 448.4L436.8 451.7Z" stroke="#b0b0b0" stroke-width="0.8" fill="none" stroke-linejoin="round"/>
<path d="M435.5 454.7L434.8 458.3L434.8 462L433.9 465.9L433.1 468.8L432.7 471.6L432.2 475.8L431.4 478.6L431.3 481.8L430.9 483.8L430.2 486.6L428.3 490L427.9 493.5L426.8 496L425.5 498.6L423.7 502.8L421.1 504.8L416.3 501.5L414.8 498.6L413.4 493.7L412.7 490.2L412 487.3L411.9 483.9L410.9 480.2L410.3 476.9L410.4 474.1L409.7 469.4L410 466.7L409.7 462.7L410.4 459.3L410.9 456.6L410.7 453.5L411 450L411 445.4L411.6 442.4L412.4 438.5L413 435.3L413.8 432.6L414.3 428.4L414.1 425.1L415.3 422.1L415.7 419.4L418.2 416L418.8 412.3L420.4 409.6L425.5 407L429.7 405.9L431.4 408.7L432.8 412L433 414.1L434.5 416.9L434.2 420.7L435.4 423.3L435.5 425.9L435.6 429.5L435.7 432.2L436 435.3L435.1 438.1L435.2 442.1L435.1 445.6L435.6 447.8L436 452.3Z" stroke="#b0b0b0" stroke-width="0.8" fill="none" stroke-linejoin="round"/>
<path d="M433.9 454.4L433.7 457L433.1 461.1L432.9 463.4L432.5 466.6L432.9 469.5L431.3 472.9L431.2 476.5L430.5 480.8L429 483.4L428.4 487.4L426.5 491.6L426 493.9L423.7 497.2L421.5 499.5L418 496.5L415.6 493.7L414.7 489.9L413.5 486.2L412.9 483.2L413.1 480.3L411.8 477.2L411.6 474.3L411.4 471.3L411.1 468L411.9 465.2L410.9 461.8L411.9 458.2L412.2 455.1L411.4 451.8L412.6 448.7L412.5 446.1L412.8 443.4L413.4 439.1L413.6 436.2L414.9 432.5L415.4 429L415.9 425.6L416.6 422.5L418.3 419.2L419.9 415.3L421.3 413.2L425.6 410.2L428.5 410.1L432.2 414.8L432.8 417.9L433.6 421.9L433.9 425.6L433.7 429.1L434 432.6L434.6 435.8L434.5 439.4L434.2 441.8L434.7 445L434.6 448.2L435 451.5Z" stroke="#b0b0b0" stroke-width="0.8" fill="none" stroke-linejoin="round"/>
<path d="M432.7 453.8L432.7 456.8L432.4 461.2L432.5 464.2L432 467.6L430.5 471.1L430.7 474.2L429.3 477L428.3 479.6L427.1 484L426.8 486.8L425.5 489.8L423.3 492.5L421.4 494.6L417.9 491.9L416.9 489.4L415.3 485L414.9 482.1L414 477.4L413.5 473.4L413 469.7L413.3 465.2L413.3 462L412.5 459.1L413.4 455.9L413.4 452L413.7 448.1L413.3 444.8L413.9 441L415.1 438.2L414.9 434.7L415.7 430.8L417.2 427.8L417.5 425.3L419 420.5L421.9 417.1L424.5 413.6L427.9 413.5L431.3 417.5L432.1 421.1L432.9 423.8L432.6 427.2L433.7 430.3L433.6 433.3L433.8 436.3L433.6 440L433.6 443L433.8 447.3L433.1 449.7Z" stroke="#b0b0b0" stroke-width="0.8" fill="none" stroke-linejoin="round"/>
<path d="M432 452.7L432.5 455.5L431.1 459.3L431.2 462L431 465.3L430.6 468.9L429.2 472.4L427.8 476.8L427.8 479.8L426.3 482.7L424.8 484.6L421.4 489.1L418.6 487.3L417.3 484.4L416.9 481.6L415.4 477.8L414.4 473.9L414.6 470.3L414.5 467.4L414.5 463.4L413.5 461.1L414.3 457.4L414.1 454.1L414.3 451.9L414.3 448L415.4 445.5L415.4 441.8L415.8 438.9L417 435.1L417.5 430.6L418.7 427.4L420.5 422.6L421.9 420.3L424.7 416.7L427.8 417.8L430.9 420.9L431.9 424.5L432.4 429.9L433 433L432.4 436.8L432.5 440.8L432.2 443.7L432 446.9L432.9 449.6Z" stroke="#b0b0b0" stroke-width="0.8" fill="none" stroke-linejoin="round"/>
<path d="M431.3 452.8L431.4 456.1L430.6 460.2L430 463.3L429.8 466.4L428.5 469.9L428 473L426.4 476.6L425.4 480.6L422.1 483.9L418.9 482.4L418 477.5L417 473.9L416.5 471L415.3 466.4L415 461.3L415.2 457.9L415.9 455.1L415.2 450.4L415.5 447.6L416.1 443.7L417.4 439.5L417.9 435.6L417.7 432.8L418.8 429.3L420.5 426.3L421.9 423.3L425.1 420.5L427.5 420.3L429.5 423.8L430.3 428.2L430.6 431.9L430.9 434.3L432.1 438.2L432 441.7L431.7 445.4L430.9 448.2Z" stroke="#b0b0b0" stroke-width="0.8" fill="none" stroke-linejoin="round"/>
<path d="M430.6 452.1L429.7 454.5L429.9 457.9L429.5 460.4L428 465.4L427.6 469.4L426.5 473.1L424.4 475.5L421.8 478.6L420.4 477.4L418.9 472.4L417.1 467.8L416.5 463.9L416.9 460L416.2 456.6L416.9 453.5L416.7 450.8L416.7 447.3L417.2 444L418.2 441.1L419.1 436.1L419.9 432.2L421.3 429.4L421.7 426L425.3 424.7L426.6 424.3L428.6 427.2L429.3 430.6L429.8 433.9L430 437.9L430.3 442.4L430.3 445L430.3 448.9Z" stroke="#b0b0b0" stroke-width="0.8" fill="none" stroke-linejoin="round"/>
<path d="M429.9 450.4L429.3 454.2L428.2 459L427.9 462.5L426.8 465.6L424.3 471.3L422.8 473.8L420.3 472.3L419.7 468.3L418.4 464.3L418.2 460.8L417.9 457.3L417.5 454L417.5 449.8L418.6 445.1L418.4 442.1L420 438.4L420 434.8L422.7 429.9L424.3 428L426.2 427.5L428.5 430.1L428.8 436.4L429.9 439L429.5 442.7L429.4 446.8Z" stroke="#b0b0b0" stroke-width="0.8" fill="none" stroke-linejoin="round"/>
<path d="M428.1 449.9L428 453.5L427.3 456.1L426.3 461.8L424.4 466.1L423.4 469.1L421 467.9L420.2 464.1L418.9 461.4L418.5 455.6L419.2 452.8L419.4 448.7L419.3 445.5L420.2 443.1L420.2 439.7L420.9 436.7L422.5 432.9L424.2 431.2L426 432.1L427.7 433.9L428.3 437.8L428.3 443.3L428.7 446.5Z" stroke="#b0b0b0" stroke-width="0.8" fill="none" stroke-linejoin="round"/>
<path d="M427.6 448.8L427.1 453.9L425.4 458.4L424.3 462.2L423.5 463.6L422.1 463.1L421.4 460.3L420.7 457.4L420.4 453.9L420.7 449.3L420.4 443.2L421.5 439.8L423.1 436.4L424.5 435.3L425.9 435.5L426.4 436.8L427.8 440.2L427.5 444.3Z" stroke="#b0b0b0" stroke-width="0.8" fill="none" stroke-linejoin="round"/>
<path d="M426.3 448.5L425.7 452.1L424.8 454.6L423.9 457.6L423.5 458.3L423.2 458.2L421.9 456.4L421.5 454.1L421 451.5L421.8 447.9L421.8 444.4L422.9 442.2L424 440L424.8 438.9L425 439.4L426.6 440.3L426.1 441.8L426.7 444.8Z" stroke="#b0b0b0" stroke-width="0.8" fill="none" stroke-linejoin="round"/>
<path d="M425.9 447.5L425 449.3L425.2 451L424 452.5L423.4 452.8L423.9 452.9L422.8 451.7L423.2 450.4L422.7 449.4L422.8 447.5L423.5 445.2L423.7 443.6L423.3 442.5L424.1 442.6L424.5 442.2L424.8 443.5L425.9 444.2L425.8 446.3Z" stroke="#b0b0b0" stroke-width="0.8" fill="none" stroke-linejoin="round"/>
<ellipse cx="424.3" cy="443.5" rx="1.2" ry="6.9" transform="rotate(0 424.3 443.5)" fill="#1a1a1a" opacity="1"/>
<path d="M437.1 441.4L436.3 444.3L435.5 449.9L434.4 455.6L433.6 461.7L432.7 466.7L431.5 473.2L430.8 478.2L429.6 481.5" stroke="#666" stroke-width="1.3" fill="none" stroke-linejoin="round"/>
<path d="M356.7 457.7h1.2M357.4 428.3h1.2M386.5 410h1.2M380.8 427.4h1.2M388.1 530.9h1.2M369.7 484.7h1.2M389.1 485.7h1.2M374.9 430.9h1.2M374.7 461.1h1.2M367 461.8h1.2M358.2 413.9h1.2M361.6 470.5h1.2M396.1 437.1h1.2M394.9 492h1.2M385.5 486h1.2M399.8 436.3h1.2M391.6 366.9h1.2M389.1 399.7h1.2M396.8 472.6h1.2M370.3 448.4h1.2M396.6 522.7h1.2M385.6 448.6h1.2M364.3 417.7h1.2M360.7 449.9h1.2M369.3 439.3h1.2M381.9 408.9h1.2M370 468.7h1.2M382.1 501.4h1.2M383.2 434.6h1.2M375.7 361.9h1.2M391.6 411.6h1.2M378.2 401.5h1.2M386.3 478.6h1.2M366 455.4h1.2M379.3 491.2h1.2M417.6 416.3h1.2M389 519h1.2M372 489.8h1.2M391.1 404.7h1.2M380.2 433.1h1.2M366.3 450.9h1.2M375.6 436.6h1.2M356.3 475.6h1.2M365.7 401.3h1.2M384.4 447.8h1.2M367.4 439.9h1.2M372.4 508h1.2M363.7 423.4h1.2M388.9 473.9h1.2M357.2 426.4h1.2M368 423.6h1.2M358 417h1.2M368.1 526.4h1.2M422.3 409h1.2M389.8 450.8h1.2M394.2 485.4h1.2M356.9 413h1.2M375.4 441.2h1.2M396.1 363.8h1.2M367.6 425.3h1.2M392.1 431.2h1.2M391.4 414h1.2M392.7 441.9h1.2M375.9 455.4h1.2M383.8 468.8h1.2M366 537.7h1.2M383.2 473.6h1.2M361.9 426.9h1.2M372.7 451.2h1.2M383.6 474h1.2M388.2 400.7h1.2M377.4 423.3h1.2M401.1 432h1.2M363.8 453.2h1.2M374.6 423.4h1.2M373.2 422.1h1.2M393.3 420.5h1.2M395.4 381.8h1.2M367 398.3h1.2M379.4 519.9h1.2M381.4 404.4h1.2M386.9 453.6h1.2M359.2 413.5h1.2M377.1 442.7h1.2M369.7 419.4h1.2M370.1 516.1h1.2M362.5 470.1h1.2M361.6 377.7h1.2M387.8 439.8h1.2M368.6 452.4h1.2M371.9 504.1h1.2M364.1 455.4h1.2M360.3 380.1h1.2M370.7 488.3h1.2M369.1 428.9h1.2M366.4 463.9h1.2M362.3 482.4h1.2M366.3 467.8h1.2M379.4 475.5h1.2M368.9 447.4h1.2M380.3 532.1h1.2M388.1 523.1h1.2M364.7 434.7h1.2M370.3 464h1.2M489.8 418h1.2M437.2 425.1h1.2M464.1 420.9h1.2M465.1 405.5h1.2M457.5 426.5h1.2M472.3 424.3h1.2M492.2 411.5h1.2M493.7 433h1.2M505.7 400.8h1.2M482.3 428.3h1.2M492.8 426.6h1.2M515.7 425h1.2M498.7 421.9h1.2M453.5 424h1.2M539.5 402.7h1.2M513.5 441.2h1.2M532.5 441.5h1.2M513.5 424.7h1.2M461 427.7h1.2M464.6 423.8h1.2M479.9 433.2h1.2M485 423.5h1.2M492.9 430.1h1.2M476.7 424.8h1.2M504.4 440.5h1.2M501.2 407.1h1.2M496.7 406.5h1.2M507.3 416.1h1.2M475 422.4h1.2M532 432.1h1.2M446.7 429.7h1.2M488.5 417.6h1.2M484.5 420h1.2M528.8 423.2h1.2M496 431.4h1.2M470.4 418.9h1.2M497.2 410.1h1.2M501.8 424.1h1.2M533.4 437.9h1.2M470.9 420.6h1.2M481.6 433h1.2M466.2 419.2h1.2M479.4 442h1.2M469.4 416h1.2M452.4 446.1h1.2M452.7 413.9h1.2M483.7 423.2h1.2M496.8 419.8h1.2M448.7 424.1h1.2M528.1 426.3h1.2M471.8 422.5h1.2M478 443.2h1.2M448.3 410.9h1.2M518.1 402.8h1.2M468.1 401h1.2M494 416h1.2M455.9 416.5h1.2M479.9 411.6h1.2M499 441.5h1.2M482.2 434h1.2M492.4 416.3h1.2M534.5 417.5h1.2M481.7 420.6h1.2M486.4 429.3h1.2M521.9 424.4h1.2M470.6 442.1h1.2M501.3 407.5h1.2M476.5 408.3h1.2M492.6 429.8h1.2M505.7 437.2h1.2M495.7 442.3h1.2M486.9 418.9h1.2M410.2 529.4h1.2M394.3 518.3h1.2M383.9 522.2h1.2M385.5 520.2h1.2M386.4 522.1h1.2M356 511.6h1.2M391 529.7h1.2M366.5 521.5h1.2M397 526.3h1.2M380.7 531.5h1.2M413 534h1.2M397 497.7h1.2M399.6 527.5h1.2M394.8 525.5h1.2M380.4 510.7h1.2M407 520.1h1.2M385.9 526.9h1.2M383.8 523.4h1.2M373.5 529.9h1.2M417.5 523.7h1.2M394.9 525.7h1.2M383.9 528.5h1.2M417.5 512.9h1.2M409.8 518.5h1.2M422.6 523.3h1.2M373.4 518.2h1.2M394.8 522.6h1.2M369.8 506.9h1.2M430.6 526.2h1.2M409.6 515.4h1.2M452.7 516.6h1.2M402.5 515h1.2M416 525.5h1.2M439.1 535.6h1.2M366.8 519.5h1.2M386.1 522.1h1.2M407.6 506.1h1.2M411.4 525.4h1.2M431.8 501.9h1.2M424.3 512.1h1.2M370.8 527.9h1.2M436.2 533.2h1.2M404.3 513.6h1.2M361.7 516.9h1.2M408.9 530.8h1.2M377.7 539.1h1.2M386.1 527.2h1.2M447.9 507.3h1.2M401.9 516.1h1.2M392.7 525.6h1.2M370.4 540.8h1.2M393.7 512.3h1.2M428.7 504h1.2M401.4 523.2h1.2M434.8 515.9h1.2M409.5 519.6h1.2M407.1 504.2h1.2M353.4 518.6h1.2M410.1 523.5h1.2M401.3 526.8h1.2M392 512.2h1.2M414.6 504.1h1.2M396 532h1.2M406 524.4h1.2M394 537h1.2M434.6 521.6h1.2M416.8 537.8h1.2M440.4 518.9h1.2M358.1 506.9h1.2M370.6 525.9h1.2M375.5 532.3h1.2M388.1 522.3h1.2M385.4 516.1h1.2M392.3 516.9h1.2M393.1 520h1.2M403.4 525.5h1.2M384.7 509.7h1.2M407.7 538.4h1.2M402.7 530.2h1.2M375.8 514h1.2M361.8 513.7h1.2M402.6 517.4h1.2M367.7 525.7h1.2M415.2 516.8h1.2M409.3 521.5h1.2M424.5 538.6h1.2M419 505.8h1.2M380.8 529.9h1.2M381.1 539.9h1.2M415.5 527.6h1.2M402.4 509.6h1.2M389.9 522.2h1.2M354.1 518.5h1.2M369.9 524.9h1.2M448.5 541.5h1.2M377.1 530.3h1.2M426.9 517.1h1.2M427.4 532.6h1.2M397.3 524.4h1.2M385.2 528.8h1.2M417.6 508.5h1.2M421 521.3h1.2M423.9 515.4h1.2M405 522.9h1.2M424.9 503.8h1.2M405.5 521.6h1.2M399.3 509.9h1.2M392.6 524.4h1.2M367.2 514.9h1.2M377.8 517.7h1.2M463.3 369.1h1.2M445.7 372.3h1.2M431.6 372.5h1.2M397.7 366.6h1.2M413.6 375.6h1.2M393.2 383.7h1.2M418.4 380.1h1.2M420.7 362.6h1.2M446.1 365h1.2M427.7 365.7h1.2M419.2 384h1.2M465.3 364.6h1.2M458.6 373.9h1.2M423.2 374h1.2M402.1 362.3h1.2M412 371.3h1.2M418.4 367.6h1.2M423.5 384.3h1.2M437.3 363.6h1.2M429.9 362.6h1.2M429.8 378.3h1.2M389.3 378.8h1.2M409.2 370.6h1.2M444.4 371.2h1.2" stroke="#a4a4a4" stroke-width="1.2"/>
</g>
<rect x="350" y="350" width="197.6" height="196" stroke="#858585" stroke-width="1.3" fill="none"/>
<path d="M350 546.3H547.6" stroke="#9a9a9a" stroke-width="2.4" fill="none"/>
<path d="M365.2 545v2.8M376.7 545v2.8M383.5 545v2.8M388.3 545v2.8M392 545v2.8M395 545v2.8M397.6 545v2.8M399.8 545v2.8M401.8 545v2.8M414.3 545v2.8M425.8 545v2.8M432.6 545v2.8M437.4 545v2.8M441.1 545v2.8M444.1 545v2.8M446.7 545v2.8M448.9 545v2.8M450.9 545v2.8M463.4 545v2.8M475 545v2.8M481.7 545v2.8M486.5 545v2.8M490.2 545v2.8M493.2 545v2.8M495.8 545v2.8M498 545v2.8M500 545v2.8M512.5 545v2.8M524.1 545v2.8M530.8 545v2.8M535.6 545v2.8M539.3 545v2.8M542.3 545v2.8M544.9 545v2.8" stroke="#888" stroke-width="1.5" fill="none"/>
<rect x="446.4" y="369" width="78" height="68.6" stroke="#303030" stroke-width="1.3" fill="none"/>
<path d="M524.4 368.4L524.4 438.2" stroke="#2a2a2a" stroke-width="2.2" fill="none"/>
<g fill="none" filter="url(#soft)">
<path d="M1194.1 235.9L1201.8 228.7L1205.6 228.6L1212.3 228.1L1217 227.4L1222.9 227.4L1229.1 224.5L1230.8 220.1L1230 213.4L1231.5 208.6L1231.6 201.2L1231.5 194.2L1235 189.4L1239.3 185.7L1242 183.1L1246.5 180.6L1252.1 178L1257.8 176.5L1262.7 175.2L1269.8 175.6L1275.6 175.6L1281.2 176.3L1286.4 174.3L1290.9 171.9L1295.1 169.6L1302.3 167.9L1308.6 168.3L1312.7 167.7L1317.2 170.6L1320.6 175.4L1320 180.6L1321.8 190.2L1321.8 193.8L1322.4 199.6L1322.3 205L1323.2 210.5L1322.6 214.4L1322.4 222.2L1321.3 227.1L1319.4 231.4L1316.1 238.2L1313.9 242.7L1309.8 247.9L1306 252.4L1300.5 255.9L1296.6 258L1291.2 260.2L1284.7 261.5L1279.3 262.4L1272.2 263.7L1267.3 262.7L1261.1 261.5L1254.2 261.8L1248.9 261.8L1242.9 262.5L1239.4 264.2L1234.5 263.8L1226.3 266L1220.4 266.8L1212.5 267.1L1207.3 268.7L1201.6 267.7L1196.3 264.9L1194.9 260L1192.9 254.3L1192.6 248.4L1193 242.7Z" stroke="#5a5a5a" stroke-width="1" fill="#f3f3f3" stroke-linejoin="round"/>
<path d="M1197 235.2L1204.6 229.1L1211.5 227.4L1218.8 228.5L1226.2 226.7L1229.7 224.5L1230.8 220.6L1231.2 215.3L1232.3 208.3L1232.4 201.8L1233.6 195.4L1235.5 191.2L1239.3 188.2L1243.5 183.7L1248.1 182.7L1253 180.7L1257.2 178.8L1262.2 178.9L1268 178.8L1273.8 178.8L1278.9 177.2L1284.3 176L1289.8 173.7L1293.9 172.4L1300.3 170.4L1305.5 170.5L1310.5 171.6L1316.3 178.4L1317.8 183.6L1317.5 191.6L1319.6 196.3L1319 203.9L1319.1 208.9L1319.1 216L1319.9 221.5L1318.6 225.9L1316.9 231.6L1314 236.7L1310.4 241.4L1306.1 246.3L1302.4 250.5L1299.1 253.8L1293.8 255.7L1288.7 258.3L1283.8 260.8L1276.8 261L1272.2 261.6L1267.1 261.3L1260.6 260.8L1255.1 260.9L1248.2 260.9L1240.7 261.9L1235.1 262L1228.9 263.9L1223.1 263.4L1215.2 265.1L1209 265.3L1203.9 264.5L1199.1 263.4L1197.9 258.5L1195.4 254L1195.8 247.5L1195.7 241.2Z" stroke="#777" stroke-width="0.9" fill="none" stroke-linejoin="round"/>
<path d="M1201.3 234L1208 227.9L1213.4 228.2L1220.4 227.8L1226.7 227.4L1231.4 224.9L1233.8 220.8L1233.1 215.3L1233 209.1L1233.5 202.9L1234.4 198.2L1237.9 192.1L1245 187L1249.6 183.3L1257.2 181.4L1263.1 180.3L1267.2 180.9L1272.6 180.5L1278 181.1L1285.1 177.1L1292.5 175.6L1297.4 173.1L1302.3 173.1L1307.5 173L1314.1 181L1315.4 186.3L1314.2 192.9L1314.8 198.7L1316.6 204.6L1316 209.6L1317.2 216.1L1316.4 221.6L1315.7 226.3L1313.1 231L1310.7 236.4L1308.5 240.2L1303.5 245.2L1300.9 248.2L1296 251.1L1291.1 254.4L1287.6 256.8L1281.6 257.4L1277.3 259.1L1271.4 259.5L1266.4 258.9L1259.5 259L1254.5 257.5L1248.1 258.7L1242.3 258.6L1236.8 259.8L1229.3 261.6L1224.7 262.9L1218.1 262.7L1212.3 264.4L1202.6 261.3L1200.7 254L1199.5 247.5L1199.8 239.2Z" stroke="#999" stroke-width="0.8" fill="none" stroke-linejoin="round"/>
<path d="M1277.2 204.9L1275.6 208.7L1274.8 211.9L1273.1 215.3L1271.9 218.1L1269.7 220.8L1266.3 221.8L1263.1 223L1259.8 224.5L1256.1 224.1L1252.3 224.5L1249.4 223.4L1246.2 222.4L1242.7 221.1L1240.7 218.3L1238.5 214.6L1236.3 211.8L1235.1 208.8L1234.1 204.9L1233.9 200.8L1235.4 197.2L1237.8 194.4L1241.2 191.5L1244.5 190.3L1247.4 188.9L1250.2 187.7L1252.9 185.8L1255.7 185.6L1259.8 185.5L1263.8 185.5L1266.3 187.2L1270.7 188.2L1273 190.1L1276.4 193.4L1277.5 196.9L1277.8 201Z" stroke="#b4b4b4" stroke-width="0.8" fill="none" stroke-linejoin="round"/>
<path d="M1274.1 205.2L1273.4 207.5L1271.7 210.8L1269.9 216.4L1264.6 220.1L1259.7 220.7L1253.1 221.8L1249.9 221.6L1247.2 220.3L1244.8 217.9L1242.6 215.9L1241.4 213.2L1239.8 210.7L1238.2 207.7L1236.8 204.3L1236.9 201.7L1238.5 197.9L1241.3 196.1L1242.8 194.2L1248.5 190.9L1253.5 189.2L1259.1 188.4L1262.3 188.5L1265 189.8L1268.4 190.6L1271.1 192.1L1273.5 194.5L1274.6 198.1L1274.2 201.6Z" stroke="#b4b4b4" stroke-width="0.8" fill="none" stroke-linejoin="round"/>
<path d="M1271 204.3L1269.3 209.1L1267.7 213.7L1263.3 216.8L1258.2 218L1253.4 218.9L1249.4 217.1L1244.8 214.1L1242 209.7L1240.8 204.4L1241.9 199.5L1245.1 195.5L1249.9 192.9L1253.6 191.5L1259.1 191.1L1263.8 191.5L1268.3 194.3L1271.8 199.1Z" stroke="#b4b4b4" stroke-width="0.8" fill="none" stroke-linejoin="round"/>
<path d="M1268.2 204.2L1266.6 209L1265.3 212.1L1261.6 215.1L1257.7 216.1L1254.7 216.1L1250.6 214.4L1247.4 212.3L1245.5 208.6L1244.1 204.2L1244.5 200L1247.7 198L1251.4 195.3L1254.2 193.7L1258.4 193.9L1261.8 194.6L1266.4 196.6L1268.5 200.6Z" stroke="#b4b4b4" stroke-width="0.8" fill="none" stroke-linejoin="round"/>
<path d="M1264.8 204.8L1263.8 207.2L1262.7 209.9L1260.3 211.6L1258.2 212.6L1254.5 212.4L1251.7 212.6L1249.7 210.4L1247.9 207.9L1247 205L1247.8 201.5L1249.8 199.6L1252.9 198.3L1254.9 196.8L1258.2 197.2L1260.2 197.6L1263.8 199L1265.7 202Z" stroke="#b4b4b4" stroke-width="0.8" fill="none" stroke-linejoin="round"/>
<path d="M1261.5 205.3L1261 206.4L1261 207.8L1258.9 209.6L1257 209.6L1255.8 210.2L1253.9 209.9L1252.6 208.7L1251.5 207.2L1250.3 205L1250.8 203.3L1252.5 201.3L1254.1 200.2L1255 199.6L1256.8 199L1258.6 199.9L1261.2 200.4L1262.2 202.2Z" stroke="#b4b4b4" stroke-width="0.8" fill="none" stroke-linejoin="round"/>
<path d="M1258.8 204.5L1258.5 205.8L1258.1 206.2L1257.8 206.4L1256.6 207.3L1256.3 207.7L1254.8 207.1L1254.2 206.6L1254.4 205.2L1253.5 205.3L1253.7 204L1254.9 203L1255.6 202.2L1255.7 202.1L1256.6 202.1L1257 203L1258 203.1L1259 204.2Z" stroke="#b4b4b4" stroke-width="0.8" fill="none" stroke-linejoin="round"/>
<ellipse cx="1300" cy="192.8" rx="9.4" ry="14.6" transform="rotate(0 1300 192.8)" fill="#aaa" opacity="0.5" filter="url(#b2)"/>
<path d="M1317.4 192.3L1317.4 196.5L1315.9 200.2L1315 204.6L1314.2 208.2L1312.5 211.5L1309.9 215L1307.3 218.4L1304.8 218.9L1301.5 219.4L1297.7 217.5L1295.5 214.6L1293 212.9L1291 210.3L1288.1 207.5L1286.9 204.5L1285.2 200.6L1284.4 197.1L1284.8 192.2L1284.1 188.2L1284.7 184.6L1284.9 180.7L1287.4 176.3L1289.4 173.4L1292.2 171.4L1294.9 170.5L1297.6 169.2L1301.3 168.3L1303.4 168.9L1306.6 169.1L1309.6 170.7L1311.8 174.1L1313.3 177.7L1314.4 180.8L1315.5 184.8L1316.5 188.7Z" stroke="#b4b4b4" stroke-width="0.8" fill="none" stroke-linejoin="round"/>
<path d="M1315.8 192.8L1315.1 196.4L1314.8 199.4L1313.8 203.2L1312.4 206.5L1311.1 210.2L1308.8 213L1307.2 215.2L1304.3 216L1301.1 215.7L1298.3 214.4L1295.7 212.2L1293.3 210.5L1289.9 205.7L1287.8 202.4L1287.6 199.2L1286.5 196.4L1286.1 192.6L1286.5 189.2L1285.8 185L1286.8 181.5L1288.4 177.5L1290.6 175.2L1292.3 173.2L1298 171.3L1303.7 171.3L1309.4 173.2L1311.2 175.7L1312.4 179.5L1312.9 182.1L1314.1 185.5L1314.9 188.6Z" stroke="#b4b4b4" stroke-width="0.8" fill="none" stroke-linejoin="round"/>
<path d="M1313.8 192.9L1313.1 195.1L1312.7 199L1311.7 201.9L1310.6 204.6L1309.9 207.7L1307.6 210.8L1303.8 213.6L1298.7 212L1293.9 207.8L1291.3 203.8L1288 198.2L1287.6 195.7L1287.9 192.3L1287.4 189.6L1287.5 186L1288 182.4L1289.2 178.8L1293.5 175L1298.2 174L1303.2 173.3L1307.8 174.5L1309.8 177.3L1311.2 180.9L1311.9 183L1312.5 186.3L1313.1 188.8Z" stroke="#b4b4b4" stroke-width="0.8" fill="none" stroke-linejoin="round"/>
<path d="M1311.7 192.4L1311.6 197.9L1310 203.1L1306.9 208L1302.4 211L1298.7 208.9L1295 205.5L1292.4 202.1L1290.4 198.1L1289.6 192L1289.1 187L1291.4 180.4L1294.3 177.8L1298.9 175.8L1302.7 175.8L1306.3 176.8L1309.7 182.2L1311.5 186.8Z" stroke="#b4b4b4" stroke-width="0.8" fill="none" stroke-linejoin="round"/>
<path d="M1310.4 192.6L1309.4 196.3L1307.8 201.3L1305.5 205.4L1303 207.4L1298.8 206.5L1296.3 203.6L1293.2 201L1291.8 196.2L1291.2 191.9L1291.4 187.6L1292.2 182.2L1295 179.2L1298.4 177.8L1302.6 177L1305.9 179.2L1308.4 183.2L1309.9 187.2Z" stroke="#b4b4b4" stroke-width="0.8" fill="none" stroke-linejoin="round"/>
<path d="M1307.8 191.9L1307.6 196.2L1307.2 199.5L1305.3 202.5L1302 204.7L1298.7 203.6L1296.4 201.5L1293.8 198.9L1292.5 196.2L1292.5 191.9L1292.2 188L1293.8 184.3L1296.2 181.1L1299.1 179.9L1302.2 179.6L1305.1 180.7L1306.8 184L1307.2 187.8Z" stroke="#b4b4b4" stroke-width="0.8" fill="none" stroke-linejoin="round"/>
<path d="M1307 191.5L1306.3 195L1305.9 197.2L1304.1 200.7L1302 201.7L1299.1 201.4L1296.9 199.2L1295.7 197.6L1294.1 194.8L1293.6 191.2L1294 188.6L1295.1 185.8L1296.5 183.4L1299.1 182.3L1302 181.8L1303.5 182.6L1305.4 186L1305.8 189.2Z" stroke="#b4b4b4" stroke-width="0.8" fill="none" stroke-linejoin="round"/>
<path d="M1305 191.1L1305.1 194.1L1303.7 196.2L1302.4 197.7L1301.1 199.6L1299.1 198.3L1297.6 197.4L1296.3 196L1295.7 193.7L1296 191.2L1295.6 189.2L1296.3 186.6L1297.9 185.2L1299 184.2L1301.2 184.6L1303.1 184.8L1304.1 187.1L1304.5 189.7Z" stroke="#b4b4b4" stroke-width="0.8" fill="none" stroke-linejoin="round"/>
<path d="M1303.1 191.2L1303.1 192.2L1302.9 194L1301.3 195.3L1301.3 196.7L1299.5 195.4L1299.2 194.5L1297.3 193.6L1297.3 192.9L1296.6 191L1297.4 189.5L1297.2 188.5L1298.4 187.6L1299.6 187.4L1300.7 187.4L1302.1 187.5L1302.4 188.6L1302.7 189.3Z" stroke="#b4b4b4" stroke-width="0.8" fill="none" stroke-linejoin="round"/>
<path d="M1301.8 191.4L1301.6 192.1L1301.1 192.9L1300.7 193.4L1299.8 193L1299.9 193.4L1299.4 193L1298.9 192.4L1299.2 191.8L1298.1 191.2L1298.1 190.1L1298.4 190.1L1298.9 189.6L1299.3 188.8L1300.5 189.6L1300.2 189.4L1300.9 190L1300.7 189.9Z" stroke="#b4b4b4" stroke-width="0.8" fill="none" stroke-linejoin="round"/>
<ellipse cx="1300" cy="191.1" rx="1.7" ry="2.4" transform="rotate(0 1300 191.1)" fill="#333" opacity="0.9" filter="url(#b1)"/>
<path d="M1311.5 242.9L1310.4 249.1L1307.6 251.8L1304.5 254.6L1301.3 255.3L1297.6 256.4L1293.7 257L1290.1 258L1287 257.2L1282.8 257.6L1279.4 258L1275.7 257.7L1272.5 257.3L1268.9 257.3L1265.6 256.7L1261.8 257L1257.7 256L1254.2 256.7L1250.2 256.4L1246.8 255.4L1243.6 255.3L1239.7 255.3L1236.8 254.8L1233 254L1229.8 252.8L1226.7 251.9L1224.2 250.2L1221.8 248.3L1218.1 245.5L1216 242.9L1218.6 237.3L1221.8 236.3L1225.1 234.4L1229.2 233.6L1231.9 233.3L1235.4 231.8L1238.6 231.1L1242 231L1245.2 229.7L1249.4 229.1L1252.7 228.5L1256.2 227.9L1259.8 228.2L1263.1 227.7L1266.8 227.6L1270 227.6L1273.2 228.2L1276.9 229.1L1280.6 230L1283.2 230.7L1286.6 230.8L1290.5 232.6L1294.8 233.5L1297.5 233.9L1300.9 235.8L1304.8 236.3L1306.7 238.9L1309.8 240.1Z" stroke="#b4b4b4" stroke-width="0.8" fill="none" stroke-linejoin="round"/>
<path d="M1306.1 242.8L1305.4 248.1L1303.2 251.1L1299.3 252.5L1297.5 253.9L1294 254.5L1290.8 255.9L1287.7 256.4L1284.8 255.6L1280.5 256.5L1277.6 256.1L1274.7 256.6L1271.7 255.5L1267.9 256.3L1265.4 255.1L1262.3 255.1L1258.8 255.1L1255.7 254.9L1251.4 254.8L1249.2 254.4L1246 254.1L1241.4 253.3L1237.3 252.7L1234.6 251.8L1230.1 249.5L1226.2 248L1223.3 245.1L1222.1 242.8L1223.8 239L1225.9 236.7L1229.4 235.8L1233.8 234.2L1236.6 234.1L1240.5 233L1245.1 231.4L1247.3 231.6L1251.5 230.9L1254.2 229.7L1257.6 229.3L1261 229.1L1264.9 229.5L1268.4 229.3L1271.6 229.3L1275 230.9L1277.9 231.2L1281.4 231.8L1284 233L1288.1 233.2L1290.9 234.8L1293.6 235.8L1297.3 236.5L1300.1 237.7L1302 238.5Z" stroke="#b4b4b4" stroke-width="0.8" fill="none" stroke-linejoin="round"/>
<path d="M1300.7 243L1299.5 247.7L1298.2 249.9L1295.2 252.1L1291.9 252.7L1288.3 254L1283.9 254.3L1281.1 254.6L1277.3 254.6L1274.7 254L1271.4 254.9L1266.8 253.6L1263.1 254.4L1258.7 253.9L1255.9 252.9L1251.9 252.7L1247.6 252.8L1244.3 252.4L1241.1 251.2L1238.5 250.1L1234.6 248.8L1231.7 247.4L1227.1 243L1229.3 239.4L1231.6 237.9L1234.6 237.2L1237.5 235.5L1240.6 234.7L1244.2 234.2L1247.8 233.9L1251.3 232.3L1254.5 231.5L1258.3 231.1L1261.4 231.7L1264.5 231.8L1268.7 231.7L1270.9 231.3L1274.9 232.3L1279 232.4L1281.3 234.2L1285.7 235.5L1290 236.9L1294.4 237.9L1298.2 239.8Z" stroke="#b4b4b4" stroke-width="0.8" fill="none" stroke-linejoin="round"/>
<path d="M1295.6 243.2L1295.2 246.6L1290.6 250.8L1288.7 251.7L1284.8 251.9L1281 253.1L1277.2 252.5L1273.2 252.8L1270.6 252.2L1266.3 252.3L1263.6 252.1L1259.8 252.3L1257.4 251.5L1253.1 251.6L1251 250.9L1245.5 250.8L1242.2 249.5L1238.1 248.3L1235.6 246.2L1232.1 243.8L1233.6 239.6L1237.6 237.8L1241.1 237.2L1245.5 235.4L1250 235.4L1253.4 234.8L1255.6 233.1L1259.5 232.6L1263.6 232.8L1266.8 233.5L1270.2 233.6L1273.1 233.7L1276.8 234.4L1279 235.6L1283 236.7L1286.4 237.7L1289.7 238.8L1293.5 240.1Z" stroke="#b4b4b4" stroke-width="0.8" fill="none" stroke-linejoin="round"/>
<path d="M1290.3 243.9L1290.3 246.6L1286.1 248.7L1283.1 249.9L1278.2 251.1L1276.1 251L1272.7 251.8L1269.7 250.6L1264.5 251.4L1261.5 250.2L1256.5 250.6L1252.5 249.6L1248.8 249.5L1245.7 248.9L1240.6 246.6L1238.5 243.1L1239.4 240.5L1241.5 239.5L1245.2 237.9L1249.2 236.5L1252.2 235.7L1256.6 235.2L1260.6 235.2L1264 234.4L1266.4 235.2L1269.3 234.6L1273.5 236L1276.8 236.4L1279.6 237.3L1283.4 238.2L1288.8 240.4Z" stroke="#b4b4b4" stroke-width="0.8" fill="none" stroke-linejoin="round"/>
<path d="M1285.2 243.6L1285.2 246.1L1282 247.9L1278.8 248.9L1276.3 249.1L1271.9 249.1L1268.2 249.5L1265.5 249.5L1262.3 248.7L1258.5 249.2L1254.9 248.7L1249.9 246.9L1245.5 245.9L1243.2 243.5L1244.4 240.7L1249.7 238.9L1255.5 238.1L1258.1 236.6L1261.1 237.2L1264.6 236.6L1268.1 237L1271.8 237.7L1274.5 237.4L1279.6 239.5L1284 241.1Z" stroke="#b4b4b4" stroke-width="0.8" fill="none" stroke-linejoin="round"/>
<path d="M1279.8 243.2L1279.7 245.3L1277.8 247.2L1273.1 247.5L1267.8 248.2L1262.2 247.6L1258.3 247.4L1253.2 246.8L1251.1 244.6L1249.3 243.7L1249.9 242L1253.4 239.5L1257.7 239.5L1262.7 238.7L1268.1 238.7L1271.9 238.8L1275.2 239.8L1279.2 242Z" stroke="#b4b4b4" stroke-width="0.8" fill="none" stroke-linejoin="round"/>
<path d="M1275.3 243.6L1274.5 244.5L1272.7 245.2L1270.1 245.8L1266.3 246.3L1263 245.7L1259.8 245.8L1257.9 245.2L1255.9 244.6L1254.9 243.6L1255 241.6L1256.9 241L1259.9 240.7L1263.2 239.8L1266.2 240.4L1270.1 240.9L1271.4 241.6L1274.3 242.3Z" stroke="#b4b4b4" stroke-width="0.8" fill="none" stroke-linejoin="round"/>
<path d="M1269.7 243.7L1269.4 244.1L1268.4 244.8L1267.5 244.3L1265.8 245.1L1264.1 244.4L1263 245.1L1262 244L1260.5 243.7L1259.6 243.3L1260 242.7L1261.7 242.4L1263.2 241.7L1263.7 241.3L1266 241.5L1266.7 242.2L1268.8 242.7L1269.7 243.3Z" stroke="#b4b4b4" stroke-width="0.8" fill="none" stroke-linejoin="round"/>
<ellipse cx="1205" cy="247.6" rx="9.4" ry="16.3" transform="rotate(0 1205 247.6)" fill="#909090" opacity="0.5" filter="url(#b2)"/>
<path d="M1217 247.1L1216.9 251.2L1216.6 254L1213.5 258.9L1210.6 262.4L1207 265.6L1202.8 268.2L1198.6 266L1196.2 263.6L1194.7 260.2L1194.2 257.4L1192.6 254.1L1192.6 250.4L1192.3 247.7L1193.8 244.9L1194.4 241.2L1196.4 235.9L1198.4 230.6L1202.3 227.5L1207.7 228.3L1211.7 231.2L1215.2 234.1L1216.5 237.1L1217.1 240.7L1217.9 243.6Z" stroke="#666" stroke-width="0.9" fill="none" stroke-linejoin="round"/>
<path d="M1215.6 247.7L1215.4 253.7L1212.7 258.1L1210.2 261.2L1206.6 263.2L1202.3 266.4L1198.4 263.9L1195.6 259.1L1194.9 256.1L1194.3 253.8L1194 250.7L1193.6 247.4L1195.5 241.8L1197.4 236.8L1199.2 232.7L1203.1 229.4L1206.7 230.2L1210.9 232.2L1214.5 235.9L1216.4 241.4L1216 244.7Z" stroke="#666" stroke-width="0.9" fill="none" stroke-linejoin="round"/>
<path d="M1215 247L1214.3 252.5L1211.8 257L1210 260L1206.5 262.3L1202.9 264.2L1199 263.2L1197.1 258.2L1195.4 252.9L1195.4 248L1196.7 242.1L1198.2 237.8L1199.4 233.6L1203.3 231L1206.9 232.7L1210.4 234.3L1212.8 236.7L1214.6 241.8Z" stroke="#888" stroke-width="0.8" fill="none" stroke-linejoin="round"/>
<path d="M1214.5 248.2L1213.1 252.4L1211.7 256.8L1208.9 258L1205.9 260.2L1203.2 261.9L1200.2 260.7L1197.1 257.4L1196.3 252.8L1196.2 247.4L1196.6 243.6L1198.7 238.9L1199.9 235.4L1203.8 233.5L1207 234.4L1209 235L1212.2 237.5L1213.8 242.9Z" stroke="#888" stroke-width="0.8" fill="none" stroke-linejoin="round"/>
<path d="M1212.6 248L1212 252.1L1210.2 254.7L1208 257.3L1205.7 259.3L1203.4 261.1L1200.4 259.9L1198.8 255.8L1197.7 252L1197.3 247.5L1197.7 243.7L1199.3 240.1L1201.5 236.3L1204 235L1205.8 235.6L1208.6 236.8L1211.4 239.5L1213.3 242.6Z" stroke="#888" stroke-width="0.8" fill="none" stroke-linejoin="round"/>
<path d="M1212.3 248.1L1210.9 250.7L1209.9 253.5L1207.6 255.9L1205.7 257.6L1203.3 259L1201.3 257.3L1199.6 255.3L1199 250.7L1198.5 247.4L1198.9 244.2L1199.5 241.4L1201 238.7L1203.2 236.8L1206.2 236.6L1207.9 238.3L1210.4 239.9L1211.2 243.4Z" stroke="#888" stroke-width="0.8" fill="none" stroke-linejoin="round"/>
<path d="M1211.1 247.1L1210.6 250.1L1209.5 253.4L1208 254.4L1206.5 255.8L1204 257.4L1201.3 255.6L1200.5 253.3L1199.1 250.7L1198.9 247.3L1199.6 244.3L1201.2 242.7L1202.3 239.7L1204.4 238.5L1206 238.3L1207.7 239.5L1209.8 242L1210.8 244.2Z" stroke="#888" stroke-width="0.8" fill="none" stroke-linejoin="round"/>
<path d="M1210 247.1L1209.7 249.5L1208.9 252.3L1207.6 253.2L1205.9 254.2L1204.4 255.2L1202.3 254.9L1201.7 252.2L1200.2 250.7L1200.2 247.4L1201 245L1201.6 243L1202.5 241.6L1204.4 240.7L1206.3 240.2L1207.6 241.5L1208.9 242.6L1210 245.1Z" stroke="#888" stroke-width="0.8" fill="none" stroke-linejoin="round"/>
<path d="M1209 247.1L1208.1 249L1207.8 250.9L1206.3 251.7L1205.5 252.5L1204.3 253.6L1202.4 252.6L1202.1 251.5L1201.7 249.8L1201.4 248.1L1202.2 245.8L1202.5 244.6L1202.9 242.5L1204.3 241.9L1205 242.2L1207.2 243.2L1207.9 244L1208.3 245.1Z" stroke="#888" stroke-width="0.8" fill="none" stroke-linejoin="round"/>
<path d="M1207.8 247.6L1207.4 249L1207.3 249.7L1206.1 250.8L1205.6 251.6L1203.9 252L1203 251L1202.8 250.5L1203.1 249L1202.6 247.8L1202.3 246.2L1203.1 244.7L1203.5 243.9L1204.1 243.3L1205.2 244L1206.6 244L1207.3 245.2L1206.9 245.8Z" stroke="#888" stroke-width="0.8" fill="none" stroke-linejoin="round"/>
<path d="M1210.1 247L1210.2 248.3L1209.2 249.5L1209 250.2L1207.9 250L1206.4 250.9L1205.2 250L1204.5 249L1204.3 247.9L1203.9 246.7L1204.6 245.3L1204.4 244.7L1205.5 243.4L1206.8 243L1207.4 242.5L1208.6 243.9L1209.1 244.8L1210.1 245.5Z" stroke="#555" stroke-width="0.9" fill="none" stroke-linejoin="round"/>
<path d="M1208.6 246.6L1208.2 247.2L1208.5 248L1207.8 248.5L1207.7 248.2L1206.4 248.9L1205.9 248.5L1205.9 248.1L1205.8 247.2L1205.6 247.1L1205.9 246.1L1206 245.3L1206.6 244.5L1206.8 244.9L1207.7 244.8L1207.7 245.3L1208.3 245.5L1208.5 245.9Z" stroke="#555" stroke-width="0.9" fill="none" stroke-linejoin="round"/>
<ellipse cx="1206.7" cy="267.3" rx="6.9" ry="1" transform="rotate(0 1206.7 267.3)" fill="#333" opacity="0.8" filter="url(#b1)"/>
<path d="M1250 192.6h1.2M1252.3 205.1h1.2M1271.2 211.4h1.2M1231 173.8h1.2M1252.4 205.4h1.2M1274.9 165.9h1.2M1231.6 173.6h1.2M1256.5 171.8h1.2M1211.2 220.3h1.2M1236.7 184.2h1.2M1267.4 197.5h1.2M1245.3 171.2h1.2M1227.3 187.6h1.2M1220.1 178.6h1.2M1229.5 198.4h1.2M1200.4 171.8h1.2M1206.6 184.6h1.2M1203.1 179.9h1.2M1239.7 187h1.2M1270.1 185.1h1.2M1280.1 197.7h1.2M1242.5 173h1.2M1235 186.5h1.2M1238 163.8h1.2M1251 171.1h1.2M1264.2 180.8h1.2M1252 189.6h1.2M1232.7 200.3h1.2M1242.3 196.8h1.2M1209 160.5h1.2M1262.6 182.4h1.2M1209.5 189.4h1.2M1207.5 172.9h1.2M1236.3 190.7h1.2M1239.3 191.7h1.2M1213.1 148.3h1.2M1205.5 177.8h1.2M1178.4 170h1.2M1257.5 208.7h1.2M1226.8 205.8h1.2M1250 218.6h1.2M1230.8 201.1h1.2M1243.9 186.8h1.2M1263.8 225.5h1.2M1232.3 179.4h1.2M1266.7 208.3h1.2M1285 137.9h1.2M1281 179.2h1.2M1280 204.6h1.2M1211.7 197.4h1.2M1245.1 189.8h1.2M1204.1 186.6h1.2M1288.6 203.9h1.2M1251 186.3h1.2M1257.7 168.5h1.2M1215.7 196.7h1.2M1184.7 177.9h1.2M1242.3 170h1.2M1225.5 192h1.2M1192.1 179.5h1.2M1217.8 172.1h1.2M1170.1 204h1.2M1259.4 172.7h1.2M1216.4 163h1.2M1239.4 213.4h1.2M1231.3 217.7h1.2M1218.5 230.6h1.2M1229.8 169.7h1.2M1210 179.9h1.2M1240.3 193.1h1.2M1220.4 193.5h1.2M1223.6 191.5h1.2M1210.2 209.1h1.2M1247.9 195h1.2M1231 172.2h1.2M1242.6 186h1.2M1206.3 189.9h1.2M1248.2 216.1h1.2M1245 197.1h1.2M1245.3 193.7h1.2M1203.9 206.4h1.2M1250.6 201.8h1.2M1231.7 199.7h1.2M1274.2 165.6h1.2M1268.5 206.5h1.2M1244.3 187.8h1.2M1236 191.6h1.2M1235.6 197.4h1.2M1224.2 192.4h1.2M1238.4 172.6h1.2M1269.2 200.2h1.2M1200.1 196.4h1.2M1240.2 176.4h1.2M1210.3 207.5h1.2M1272.8 185h1.2M1223.1 179.5h1.2M1220.3 195.3h1.2M1219.8 189.7h1.2M1238.2 193h1.2M1284.9 207.3h1.2M1203.2 225.5h1.2M1241.6 205.6h1.2M1262.8 177.8h1.2M1221.4 162.7h1.2M1227.8 196.8h1.2M1292.1 191.4h1.2M1200.8 176h1.2M1292.6 185.4h1.2M1230.5 184.8h1.2M1214.7 180.2h1.2M1244.9 191.3h1.2M1226.9 203h1.2M1298.7 151.2h1.2M1260.8 182.2h1.2M1256.1 176h1.2M1218.8 206.3h1.2M1278.1 196h1.2M1272.6 198h1.2M1240.7 183.3h1.2M1222.4 173.1h1.2M1214.9 213.7h1.2M1234.2 199.6h1.2M1220 197.9h1.2M1248.4 178.8h1.2M1205.2 207.3h1.2M1218.2 193h1.2M1255.3 202.1h1.2M1197.1 183.7h1.2M1272.7 189h1.2M1197.6 189.7h1.2M1221.7 192.2h1.2M1225.2 158.7h1.2M1250 222.7h1.2M1256.4 193.5h1.2M1201 215.3h1.2M1217.4 191.2h1.2M1242.1 208.5h1.2M1208.7 180.8h1.2M1251.2 183.9h1.2M1227 146.5h1.2M1209.4 172.5h1.2M1259.2 155.8h1.2M1229.1 206.4h1.2M1249.1 180.9h1.2M1177.6 203.5h1.2M1219 200.2h1.2M1214.8 198.3h1.2M1242.4 181.2h1.2M1214.7 193.8h1.2M1289.8 181h1.2M1234.8 203.8h1.2M1245 189.2h1.2M1239.4 186.4h1.2M1231.3 213.2h1.2M1224.5 167.6h1.2M1245.2 206.5h1.2M1253.5 178.4h1.2M1208.9 184.3h1.2M1270 165.2h1.2M1246.7 174.3h1.2M1236.2 153.2h1.2M1277.7 201.9h1.2M1216.3 193.2h1.2M1211.7 165h1.2M1278.8 172h1.2M1287.6 175.3h1.2M1201.6 187.6h1.2M1270.3 177.6h1.2M1264.4 196.7h1.2M1238.7 186.1h1.2M1278.8 210.5h1.2M1239 186.3h1.2M1247.7 166.2h1.2M1213.8 206.1h1.2M1332.3 225.4h1.2M1327 167.2h1.2M1325.9 190.3h1.2M1330.9 232h1.2M1333.9 203.8h1.2M1324.7 235.5h1.2M1334.5 215.6h1.2M1330.8 230.2h1.2M1332.9 205.9h1.2M1328.9 241.2h1.2M1332.3 147.9h1.2M1325.3 178.3h1.2M1329 210.1h1.2M1323.5 142h1.2M1338.3 163.6h1.2M1335.7 253.9h1.2M1333.8 213.8h1.2M1330.1 234.7h1.2M1328 187.7h1.2M1327.2 196.9h1.2M1330.9 260.3h1.2M1323 235.2h1.2M1326.4 206.3h1.2M1330.6 228.4h1.2M1337.1 240.4h1.2M1329.8 217.4h1.2M1327.5 198.1h1.2M1332.6 144.8h1.2M1333.1 222.4h1.2M1326 162.3h1.2M1329.4 254.1h1.2M1327.4 244h1.2M1333.4 176.5h1.2M1322.5 159.7h1.2M1336.6 189.2h1.2M1334.8 222.1h1.2M1335.7 207.8h1.2M1337.5 225h1.2M1179 207.6h1.2M1191.8 211.2h1.2M1198.5 220.2h1.2M1187.2 223.1h1.2M1208.7 218.3h1.2M1188.5 200.6h1.2M1207.7 199.8h1.2M1222.7 223.7h1.2M1194.3 243.6h1.2M1211.4 239.4h1.2M1196.1 206h1.2M1199.7 212.1h1.2M1201.3 236.3h1.2M1226.2 219.4h1.2M1241.3 195.1h1.2M1209 189.6h1.2M1198.4 226.9h1.2M1204.5 220h1.2M1210 217.4h1.2M1208 227.1h1.2M1190.8 226h1.2M1213.3 203.8h1.2M1174.6 219.9h1.2M1178.9 222h1.2M1240.8 209.5h1.2M1199.2 240.9h1.2M1216.1 210.5h1.2M1221.8 232.6h1.2M1198.9 207.1h1.2M1224 213.2h1.2M1225 213h1.2M1203.2 207.7h1.2M1211.7 201.2h1.2M1208.4 229.2h1.2M1185.7 190.9h1.2M1207.8 184.5h1.2M1206.1 201.8h1.2M1222.5 241.5h1.2M1165.5 228.6h1.2M1191.1 193.5h1.2" stroke="#aaa" stroke-width="1.2"/>
</g>
<rect x="1149.6" y="82.4" width="193" height="193.2" stroke="#777" stroke-width="1.2" fill="none"/>
<path d="M1149.6 275.9H1342.6" stroke="#9a9a9a" stroke-width="2.4" fill="none"/>
<path d="M1164.5 274.6v2.8M1175.7 274.6v2.8M1182.3 274.6v2.8M1187 274.6v2.8M1190.6 274.6v2.8M1193.6 274.6v2.8M1196.1 274.6v2.8M1198.2 274.6v2.8M1200.2 274.6v2.8M1212.4 274.6v2.8M1223.7 274.6v2.8M1230.3 274.6v2.8M1234.9 274.6v2.8M1238.6 274.6v2.8M1241.5 274.6v2.8M1244 274.6v2.8M1246.2 274.6v2.8M1248.1 274.6v2.8M1260.4 274.6v2.8M1271.6 274.6v2.8M1278.2 274.6v2.8M1282.9 274.6v2.8M1286.5 274.6v2.8M1289.5 274.6v2.8M1292 274.6v2.8M1294.2 274.6v2.8M1296.1 274.6v2.8M1308.3 274.6v2.8M1319.6 274.6v2.8M1326.2 274.6v2.8M1330.9 274.6v2.8M1334.5 274.6v2.8M1337.5 274.6v2.8M1340 274.6v2.8" stroke="#666" stroke-width="1.5" fill="none"/>
<rect x="1280" y="163.8" width="50.4" height="60.2" stroke="#303030" stroke-width="1.3" fill="none"/>
<g fill="none" filter="url(#soft)">
<path d="M1431.9 245.1L1431.1 241.7L1433.7 235.1L1438.1 231.8L1443.6 229.2L1449.8 227.9L1455.2 228.8L1461.4 229.4L1467.6 229.2L1472.9 232.3L1475.2 235.7L1479.7 240L1484.2 240.8L1489.6 239.7L1494.8 238.4L1498.5 237.5L1503.6 235.1L1509.8 232.7L1512.4 231.1L1520 226.8L1524.2 225.4L1530.3 224.8L1537.2 223.6L1542 225.5L1548.3 226.6L1554.6 226.6L1560.7 227.2L1563 232.9L1562.4 240.8L1559.5 246.5L1557.6 250.1L1554.1 255.3L1550.1 258.1L1542.8 260.4L1538 262.3L1530.2 262.1L1523.1 259.3L1518.1 255.2L1514 252.7L1510.1 248.7L1501.6 250.1L1497 255.8L1493.5 259.5L1486.8 262L1479 264L1473.3 266.7L1465.2 268.6L1459.9 268.9L1454.3 270.7L1448.3 270.8L1441.9 268.6L1438.3 266L1433.7 263.4L1432 257.4L1430 252.7Z" stroke="#666" stroke-width="0.9" fill="none" stroke-linejoin="round"/>
<ellipse cx="1450.7" cy="247.6" rx="12" ry="14.6" transform="rotate(0 1450.7 247.6)" fill="#a0a0a0" opacity="0.4" filter="url(#b2)"/>
<path d="M1474.9 248L1474.1 251.3L1472.3 255.3L1469.8 258.1L1467.5 261.2L1464.8 262.4L1461.3 265.2L1457.7 265.8L1455 267L1451.9 267.7L1448 267L1444 266.8L1440.1 266.6L1436.3 265.5L1433.5 262.3L1431 259.6L1429.2 255.5L1429.1 251.8L1429.7 247.7L1431.6 244.3L1431.6 240.5L1432.9 236.8L1435.7 234.3L1437.4 231.4L1441.4 229.3L1444.9 228.8L1448 227.2L1452 226.7L1454.9 226.3L1458.4 227.8L1462.2 229.3L1465.4 232L1467.2 234L1470.6 237.2L1472.2 240.2L1473.9 243.3Z" stroke="#666" stroke-width="0.9" fill="none" stroke-linejoin="round"/>
<path d="M1472.7 247.4L1472.3 251.2L1471.6 254.2L1468.7 257.8L1466 259.7L1463.6 261.1L1461.1 263.5L1458 265L1454.1 265L1451.1 265.8L1448.8 266.2L1444.7 265.6L1441.7 264.7L1438.4 264.1L1434.9 262.1L1432.9 258.6L1431.1 254.6L1431 250.6L1432.4 247.3L1431.9 243.9L1433 240.9L1434.5 237.4L1436.4 234.8L1438.8 233.1L1441.7 231.1L1445.4 230.3L1448 228.4L1452 228.2L1454.5 227.7L1457.9 228.7L1460.9 229.9L1464.5 233L1465.8 235.1L1468.9 237.7L1470.1 240.3L1472.2 244.4Z" stroke="#666" stroke-width="0.9" fill="none" stroke-linejoin="round"/>
<path d="M1471.4 247.4L1470.9 250.3L1469.5 254.3L1467.3 256.3L1464.3 257.9L1459.2 261.5L1454.2 264.3L1448.1 264L1445.5 264L1441.6 263.8L1439 261.9L1435.7 260.5L1434.6 257.3L1432.9 254.2L1432.6 250.7L1434 247.5L1434.4 244.1L1435.3 241.8L1435.7 238.6L1437.9 236L1440.1 233.6L1442.7 232.2L1445.8 231.1L1448.9 230.5L1451.1 229.7L1454.1 230L1457 230.6L1460.2 232.1L1462.3 234L1465.1 235.8L1466.6 238.3L1469.1 240.7L1469.9 244.1Z" stroke="#a8a8a8" stroke-width="0.8" fill="none" stroke-linejoin="round"/>
<path d="M1469.8 247L1469.4 250.4L1467.1 252.8L1463.1 257.4L1458.5 260L1453.9 262L1448.6 262.4L1443.2 261.9L1439.7 260.3L1437.8 258.5L1435.2 255.9L1435 253.5L1435.1 250.5L1434.9 247.3L1436.6 241.6L1439.2 236.8L1442.9 233.5L1448.7 231.5L1454.6 231.8L1459.5 233.7L1463.8 237.1L1466.8 242.1L1469.2 244.3Z" stroke="#a8a8a8" stroke-width="0.8" fill="none" stroke-linejoin="round"/>
<path d="M1467.3 246.8L1466 253L1461.9 256.1L1458.2 259.4L1453.2 260.5L1449 260.3L1444.1 260L1439.1 257.7L1435.9 252.2L1436.2 247L1438.1 242.8L1440.2 237.7L1444.3 235.3L1448.6 232.9L1453.7 232.5L1458.2 234.4L1461.7 238.5L1465.3 242.6Z" stroke="#a8a8a8" stroke-width="0.8" fill="none" stroke-linejoin="round"/>
<path d="M1465.8 246.6L1464.6 252.3L1460.7 255.7L1457.2 257.1L1452.8 258.9L1449.5 259.6L1444.1 258.5L1439.6 256.2L1437.7 251.9L1437.8 247.4L1439 243.4L1441.3 238.8L1445.2 236.2L1448.7 234.5L1453.2 234.1L1457.9 235.8L1461.2 238.8L1463.3 242.4Z" stroke="#a8a8a8" stroke-width="0.8" fill="none" stroke-linejoin="round"/>
<path d="M1463.5 247.6L1462 250.9L1459 253.8L1456.9 256.8L1452.6 257L1449.2 257.7L1444.9 257L1441.8 254.6L1439.8 251.6L1440.2 247.1L1440.7 243.4L1442 239.9L1445.3 237.5L1448.7 236L1452.5 236L1456.4 237.4L1459.6 239.7L1461.7 243.2Z" stroke="#a8a8a8" stroke-width="0.8" fill="none" stroke-linejoin="round"/>
<path d="M1461.9 247.3L1460.6 250.7L1457.5 252.8L1455.9 254.7L1452.1 255.8L1449.8 255.5L1445.6 255.6L1443.2 253.8L1440.9 251L1441 246.8L1442.3 244.3L1444.1 240.7L1446.1 238.8L1449 237.7L1453 238.1L1455.6 238.2L1458.5 241.6L1460.8 243.5Z" stroke="#a8a8a8" stroke-width="0.8" fill="none" stroke-linejoin="round"/>
<path d="M1460.1 247.3L1459.2 249.9L1457.4 252.3L1454.3 253.3L1451.7 254.2L1450 254.4L1446.9 254.4L1443.7 252.5L1442.8 250L1443.2 247.5L1444 244.4L1445.1 242L1447.7 240.4L1449.7 239.3L1452.2 239.5L1454.8 240.6L1457.2 242.5L1459 244.3Z" stroke="#a8a8a8" stroke-width="0.8" fill="none" stroke-linejoin="round"/>
<path d="M1457.7 246.4L1457.3 249.5L1455.8 251.1L1453.2 252.2L1451.6 252.6L1450.3 252.6L1447.6 251.9L1445.1 251.1L1444.1 249.3L1444.1 246.4L1444.6 245.1L1446.6 243.2L1447.8 241.2L1450.2 240.5L1451.5 240.7L1454.5 241.2L1456 242.8L1457.6 245Z" stroke="#a8a8a8" stroke-width="0.8" fill="none" stroke-linejoin="round"/>
<path d="M1456.4 247.4L1455.8 248.2L1454.2 249.8L1453.2 250.3L1451.6 250.8L1449.7 251.1L1448.8 251L1446.7 249.8L1445.9 248.5L1445.9 246.6L1446.2 245.1L1447.5 244.1L1448.7 243.5L1450.2 242L1451.5 242.3L1453.4 242.9L1453.8 243.9L1455.5 245.6Z" stroke="#a8a8a8" stroke-width="0.8" fill="none" stroke-linejoin="round"/>
<path d="M1453.9 246.4L1453.1 247.9L1453.2 248.1L1452.1 249.3L1451.3 249.2L1449.8 248.9L1449 249.9L1448.1 249.5L1448.1 248L1447.7 246.9L1448.4 245.6L1448.1 245.4L1449.5 244.2L1450.1 243.5L1451.3 244.2L1452.2 244.5L1453.2 244.7L1453.8 246.3Z" stroke="#a8a8a8" stroke-width="0.8" fill="none" stroke-linejoin="round"/>
<path d="M1452.3 246.3L1452.1 247.4L1451.9 247.8L1451.7 248.3L1450.5 247.9L1449.9 248.5L1449.5 247.8L1449.7 247.6L1449 247.2L1449.1 246.7L1449.7 246.1L1449.6 246.1L1450.1 246L1450.9 246.1L1450.5 245.4L1450.8 245.8L1451.5 246.3L1451.9 246.6Z" stroke="#a8a8a8" stroke-width="0.8" fill="none" stroke-linejoin="round"/>
<ellipse cx="1450.7" cy="246.7" rx="1.4" ry="2.4" transform="rotate(0 1450.7 246.7)" fill="#444" opacity="0.8" filter="url(#b1)"/>
<ellipse cx="1451.5" cy="267.8" rx="6.9" ry="0.9" transform="rotate(0 1451.5 267.8)" fill="#333" opacity="0.8" filter="url(#b1)"/>
<path d="M1560.4 231.3L1558.6 236.9L1557.3 241.6L1555.4 245.2L1552.9 247.7L1550.6 249.2L1547 249.6L1544 251.6L1541.6 251.7L1538.6 252.7L1534.4 252.9L1531.5 252.5L1527.1 253.6L1523.7 253.3L1519.9 252.4L1515.8 250.5L1510.4 248.1L1508 243.4L1509.8 241.3L1513 237.5L1516 235.9L1520.6 233.4L1523.9 231.5L1527.8 230.1L1532.3 228.6L1535.2 227L1539.7 225.8L1543.2 226.6L1548.1 226.1L1551 226L1555 227.5L1556.7 228.3Z" stroke="#666" stroke-width="0.9" fill="none" stroke-linejoin="round"/>
<path d="M1554.5 233.6L1553.1 237.3L1551.8 240.7L1548.6 245L1545.6 246.9L1542.4 248.6L1539 248.5L1535.6 249.9L1529 249.3L1523.6 250L1521 247.4L1516.3 245.8L1514.4 242.8L1518.8 238.9L1520.4 237.2L1524.3 234.5L1527.2 234.1L1530.1 232.5L1533 230.9L1535 230.2L1538.8 229L1541.2 230L1547.7 229.1L1551 231.4Z" stroke="#999" stroke-width="0.8" fill="none" stroke-linejoin="round"/>
<path d="M1547.3 236.5L1547.3 238.6L1545.8 241.2L1543.6 243.4L1539.7 245.2L1534.9 246.2L1530.7 246.1L1527.4 246.9L1525.1 246L1523.5 243.4L1522.4 242.4L1523.9 238.9L1528 236.6L1531.1 235L1535.2 233.1L1538.9 232.6L1543.7 232.6L1545.9 233.8Z" stroke="#999" stroke-width="0.8" fill="none" stroke-linejoin="round"/>
<path d="M1541.3 237.1L1540.7 238.6L1541.4 240.7L1540.2 242L1538.3 242.3L1535.7 243L1534.1 243.2L1532 243.5L1531.1 243L1528.9 242.1L1529.1 241.4L1529.3 239.7L1531.9 237.7L1532.9 237.4L1535.7 236.3L1537.7 235.9L1539.4 236.6L1541.4 237.3Z" stroke="#999" stroke-width="0.8" fill="none" stroke-linejoin="round"/>
<path d="M1507.2 191.2L1509.9 187.4L1515.6 184.5L1519 180.8L1523.7 177L1528.8 173.3L1534.3 170.1L1539.4 168.3L1544.9 168.3L1550.1 169.4L1554.8 170.8L1559.1 174.9L1560.7 181.1L1561.9 186.4L1564.1 192.7L1564.2 198.6L1566.1 203.2L1564.5 208.8L1566 213.5L1564.8 218.5L1561 220.8L1555.2 219.4L1548.7 217.9L1542.9 214.8L1536.9 213.2L1531.7 212.4L1524.7 212.6L1519.2 210.5L1512.2 205.3L1509.9 197.9Z" stroke="#666" stroke-width="0.9" fill="none" stroke-linejoin="round"/>
<ellipse cx="1540.6" cy="192.8" rx="11.1" ry="16.3" transform="rotate(0 1540.6 192.8)" fill="#c0c0c0" opacity="0.4" filter="url(#b2)"/>
<path d="M1556.7 193L1556.6 196.4L1557.3 200.5L1555.8 203.9L1554 206.7L1552 210.6L1549 211.9L1546.9 215.1L1543.7 215.8L1540.7 217.1L1537 217L1534.4 215.4L1531.3 212.7L1529.2 210.7L1527.1 208.3L1524.7 204.1L1522.6 201.3L1522.4 196.8L1521.7 192.9L1523 189L1524.6 185.9L1525.9 182.3L1528.5 179.4L1529.4 176.2L1532.3 173.6L1535 171.9L1537.3 169.6L1540.8 169.1L1544.2 168.8L1547.6 168.7L1550.9 170.8L1553.7 173.5L1555.6 176.4L1556.1 180.7L1556.4 185.3L1556.8 189.2Z" stroke="#808080" stroke-width="0.9" fill="none" stroke-linejoin="round"/>
<path d="M1556 193.4L1555 196.4L1555.4 199.6L1554.6 203.4L1552.5 206.1L1550.5 208.4L1548.5 211.1L1546.7 213.1L1543.5 214.4L1537.8 214.4L1534.5 212.7L1532.9 211.1L1529.6 208.7L1527.5 206L1525.7 203.3L1523.7 200.4L1524.3 196.6L1523.8 192.6L1524.7 189.1L1526 186L1528.2 183L1529.6 180.5L1531 177.7L1532.6 175.7L1537.9 171.8L1543.3 170.9L1546.8 171.2L1549.4 172.2L1552.8 175.2L1554.5 178.7L1554.4 182.1L1555.5 185.9L1555.5 189.6Z" stroke="#808080" stroke-width="0.9" fill="none" stroke-linejoin="round"/>
<path d="M1554.1 192.4L1553.5 195.6L1553.3 198.7L1552.4 201.4L1551.8 204.3L1548.1 208.8L1543.6 212L1538.4 212.1L1533.1 209.7L1529.4 204.9L1527.8 202.8L1526.1 199L1525.9 195.7L1525 192.6L1526.2 189.4L1527.8 186.8L1530.5 182.1L1533.8 177.5L1538 173.8L1543.5 173.8L1548.4 174.6L1550.9 177.3L1552.1 179.7L1553.3 183L1554 186L1553.6 190.3Z" stroke="#b4b4b4" stroke-width="0.8" fill="none" stroke-linejoin="round"/>
<path d="M1552.4 192.2L1552.5 198.5L1550.9 203.8L1547.5 206.8L1542.7 210L1538 209.9L1533.5 206.9L1530.1 203.5L1527.9 198.5L1526.9 195.3L1527.2 192.9L1529.4 187.6L1531.5 183.2L1534.7 179.2L1537.7 176.8L1542.9 176L1548.2 176.5L1550.8 180.7L1552.3 183.6L1551.7 187.6Z" stroke="#b4b4b4" stroke-width="0.8" fill="none" stroke-linejoin="round"/>
<path d="M1551.1 193L1550.3 198.1L1549.4 201.4L1546.3 205L1542.3 207.8L1539.1 207.3L1535.3 206L1531.3 202.7L1528.7 197.8L1528.4 192.4L1530.3 188.2L1532.6 184.8L1535.4 180.1L1538.1 178.1L1543 178L1547.3 179.1L1550.2 182.7L1551.2 188.4Z" stroke="#b4b4b4" stroke-width="0.8" fill="none" stroke-linejoin="round"/>
<path d="M1549.8 193.2L1549.4 196.4L1548 200.9L1545.9 203.7L1542.8 206L1538.6 206.1L1535.8 203.5L1533 200.9L1530.8 197.6L1530.4 192.7L1532.3 189.4L1534.1 185.5L1535.8 182.5L1539.4 179.9L1542.2 179.6L1546.3 180.9L1548 184.6L1549.2 188.3Z" stroke="#b4b4b4" stroke-width="0.8" fill="none" stroke-linejoin="round"/>
<path d="M1547.5 192.2L1547.6 195.7L1546.9 198.8L1544.5 201.8L1542 203L1539.1 203.4L1536.6 201.9L1534.1 199.7L1533 197.1L1532.5 192.5L1533 189.4L1535.5 187.3L1537 183.8L1538.8 182.2L1542 182.6L1544.7 183.1L1547.3 185.3L1547.7 188.9Z" stroke="#b4b4b4" stroke-width="0.8" fill="none" stroke-linejoin="round"/>
<path d="M1546.6 193.2L1546.2 196L1545.1 197.8L1544 199.4L1541.2 201.1L1539.4 200.8L1537 199.4L1535.3 197.7L1534.4 196.2L1534.2 192.4L1535.1 190.7L1535.9 188.2L1536.9 186.2L1539.9 184.7L1542.2 184.4L1544.5 184.8L1545.7 186.8L1546.4 190.4Z" stroke="#b4b4b4" stroke-width="0.8" fill="none" stroke-linejoin="round"/>
<path d="M1544.4 193L1544.3 194.9L1544.4 197.1L1543.1 198.2L1541.7 199.2L1540 199.3L1538.6 197.9L1537.5 196.4L1535.3 194.4L1535.8 193.2L1536 191.3L1537.3 189.4L1537.9 188.3L1539.7 186.5L1541.6 185.9L1543.4 187.3L1544 188.2L1544.6 190.4Z" stroke="#b4b4b4" stroke-width="0.8" fill="none" stroke-linejoin="round"/>
<path d="M1543.6 193.1L1543.3 194.3L1543.4 195.6L1542 196.6L1540.8 197.2L1539.5 196.6L1538.6 196.3L1537.7 195.5L1537.1 194.4L1537.4 192.5L1537.5 191.8L1538.1 190.2L1539.6 189.9L1540.3 189L1541.6 189L1542.7 189.2L1543 190.3L1543.2 191.5Z" stroke="#b4b4b4" stroke-width="0.8" fill="none" stroke-linejoin="round"/>
<path d="M1541.3 192.4L1542.1 192.9L1541.2 194.4L1541.8 194.9L1541.2 194.4L1540.5 194.7L1539.4 194L1539.6 193.9L1539.2 193.9L1538.6 192.4L1539.9 191.7L1539.4 191.7L1539.6 191.1L1539.9 191.3L1540.5 191.1L1541.3 191L1541.3 191.9L1541.3 192.6Z" stroke="#b4b4b4" stroke-width="0.8" fill="none" stroke-linejoin="round"/>
<path d="M1524.4 217.2h1.2M1458.4 223.9h1.2M1484.6 226h1.2M1492.2 187.5h1.2M1514.5 204.2h1.2M1544.9 190.9h1.2M1528.8 222.8h1.2M1516 200.9h1.2M1478.7 233.7h1.2M1498.6 212.6h1.2M1470.9 190.3h1.2M1536.5 207.6h1.2M1491.5 242.2h1.2M1494.2 205.2h1.2M1503.7 190h1.2M1460.6 200.3h1.2M1483.8 207.8h1.2M1497.3 216.1h1.2M1487.6 227.1h1.2M1485.2 210.2h1.2M1520.1 231.6h1.2M1503.7 193.9h1.2M1558.6 230.2h1.2M1496.5 174.2h1.2M1516.7 186.7h1.2M1525 194h1.2M1560.2 208h1.2M1512.8 233.6h1.2M1537.3 205.5h1.2M1473.8 201.7h1.2M1522.6 224.9h1.2M1513.6 215.6h1.2M1465.5 220.2h1.2M1470 196.3h1.2M1499.2 190.7h1.2M1498.2 210.1h1.2M1494.3 179.4h1.2M1512.9 212.9h1.2M1480.9 235.5h1.2M1500.4 221.8h1.2M1536.1 198.4h1.2M1507 175.7h1.2M1501.8 194.6h1.2M1476.8 217.6h1.2M1443.9 228.4h1.2M1565.1 224.5h1.2M1506.1 236.4h1.2M1493.8 219.9h1.2M1482.6 206.9h1.2M1450.2 234.8h1.2M1470.5 220.2h1.2M1499.7 217.7h1.2M1508.3 194.8h1.2M1479.6 244.9h1.2M1475.4 212.7h1.2M1525.1 210.4h1.2M1455.7 261.1h1.2M1467.6 225.4h1.2M1516.9 191.4h1.2M1496 221h1.2M1511 219.2h1.2M1494.8 196.8h1.2M1472.6 212h1.2M1578 229.1h1.2M1473.4 190.3h1.2M1489.7 210.6h1.2M1522.2 180.9h1.2M1502.8 252h1.2M1513.5 212.4h1.2M1503.5 212h1.2M1495.7 163.5h1.2M1515.9 231h1.2M1531.7 217.9h1.2M1528 222.4h1.2M1503.2 226.4h1.2M1485.5 202.9h1.2M1509.7 227.8h1.2M1464.7 234.6h1.2M1462.6 202.9h1.2M1488.1 201h1.2M1491.6 208.9h1.2M1527.3 228.6h1.2M1482.2 202.8h1.2M1510.3 214.1h1.2M1509.9 193.2h1.2M1470.7 203.8h1.2M1525.1 222.7h1.2M1476 186.8h1.2M1506.3 200.5h1.2M1481.4 214.3h1.2M1468.3 223.1h1.2M1499.5 207h1.2M1534.8 223.1h1.2M1499 208h1.2M1489.4 205.2h1.2M1521.3 193.8h1.2M1504.2 232.6h1.2M1532.9 175.6h1.2M1526.2 219.5h1.2M1552.2 247.4h1.2M1524.9 208.9h1.2M1509 203.4h1.2M1506.3 205.1h1.2M1483.4 236.7h1.2M1494.6 193.7h1.2M1502 218.1h1.2M1509 227.9h1.2M1485.1 205.2h1.2M1531.7 200.5h1.2M1482 237.9h1.2M1508.7 203h1.2M1475 191.8h1.2M1515.8 190.4h1.2M1549.9 229.2h1.2M1505.2 240.2h1.2M1533.6 237.6h1.2M1520.3 184.7h1.2M1493 225h1.2M1499.4 234h1.2M1504.9 183.1h1.2M1479.8 245.7h1.2M1519.3 203.7h1.2M1487 200.5h1.2M1480.6 223h1.2M1491 222h1.2M1456.1 236.5h1.2M1504.2 227h1.2M1518.2 205.1h1.2M1496.5 226.4h1.2M1554.1 223.5h1.2M1526.2 197.3h1.2M1517 210.4h1.2M1488 181h1.2M1534 249.7h1.2M1516.1 212.8h1.2M1503 222.8h1.2M1505.9 231h1.2M1502.4 202.4h1.2M1502 243.2h1.2M1497 213.4h1.2M1506.7 187.5h1.2M1483.5 234.6h1.2M1525.4 222.2h1.2M1544.4 215.5h1.2M1478.1 213.8h1.2M1505.1 239.3h1.2M1483.8 245.9h1.2M1510.6 223.6h1.2M1539.6 204.4h1.2M1533.2 224.2h1.2M1513.3 226.8h1.2M1503.8 233.1h1.2M1513.3 218.9h1.2M1488.3 204.7h1.2M1498.5 206.6h1.2M1492.4 190.3h1.2M1522.7 210.3h1.2M1504.7 203.6h1.2M1502 198.1h1.2M1525.3 198.9h1.2M1536.8 193.6h1.2M1470.3 220.6h1.2M1575.7 259.2h1.2M1570.9 216.6h1.2M1568.9 223.9h1.2M1570.4 259h1.2M1565.9 266.7h1.2M1563.2 251.9h1.2M1571.2 182.7h1.2M1563.8 185.8h1.2M1570.3 214.7h1.2M1570.2 202.3h1.2M1570.5 223.4h1.2M1573 164.4h1.2M1564.7 204.1h1.2M1572.6 201h1.2M1571.4 181.4h1.2M1569.1 258.7h1.2M1564.9 229.7h1.2M1569.2 195.8h1.2M1566.4 228.9h1.2M1573 152.9h1.2M1565.7 219.6h1.2M1570.9 151.4h1.2M1577.2 223.5h1.2M1572 185.1h1.2M1567.4 172.1h1.2M1569.6 218.9h1.2M1563 192.2h1.2M1564.5 232.3h1.2M1573.1 265.1h1.2M1569.3 166.5h1.2M1569.9 207.7h1.2M1567 221h1.2M1451.8 252.2h1.2M1456.9 242.3h1.2M1425.5 236h1.2M1430.3 257h1.2M1405.4 241h1.2M1411.6 247.2h1.2M1422.7 244.3h1.2M1472 238.4h1.2M1455.8 272.4h1.2M1432.9 245.8h1.2M1439.7 224.4h1.2M1430.3 258h1.2M1428.7 249.7h1.2M1453.5 266.4h1.2M1419.4 258.8h1.2M1465.5 236.2h1.2M1432.5 253.5h1.2M1463.8 254.3h1.2M1406.9 244.8h1.2M1441.6 233.6h1.2M1415 249.5h1.2M1402.3 250h1.2M1400.4 251.1h1.2M1413.9 262.6h1.2M1411.5 258.1h1.2M1435.7 242.7h1.2M1448.5 251.2h1.2M1435.7 256.9h1.2M1413.6 243.3h1.2M1400.8 256.3h1.2M1468.6 270.3h1.2M1437.6 239h1.2M1435.3 222.3h1.2M1453.3 249.4h1.2M1429.9 237.3h1.2M1442.4 259.2h1.2M1426.5 270.5h1.2M1415.4 249h1.2M1453.1 247.8h1.2M1455.8 247.8h1.2M1413.2 261.9h1.2M1409 246.2h1.2M1421.6 246.5h1.2M1447.5 264.5h1.2M1437.1 264.5h1.2M1453.2 252.3h1.2" stroke="#aaa" stroke-width="1.2"/>
</g>
<rect x="1389.6" y="82.4" width="192" height="193.2" stroke="#8a8a8a" stroke-width="1.2" fill="none"/>
<path d="M1389.6 82.4L1389.6 275.6" stroke="#444" stroke-width="1.8" fill="none"/>
<path d="M1389.6 275.9H1581.6" stroke="#9a9a9a" stroke-width="2.4" fill="none"/>
<path d="M1404.4 274.6v2.8M1415.6 274.6v2.8M1422.1 274.6v2.8M1426.8 274.6v2.8M1430.4 274.6v2.8M1433.3 274.6v2.8M1435.8 274.6v2.8M1438 274.6v2.8M1439.9 274.6v2.8M1452.1 274.6v2.8M1463.3 274.6v2.8M1469.9 274.6v2.8M1474.5 274.6v2.8M1478.1 274.6v2.8M1481.1 274.6v2.8M1483.5 274.6v2.8M1485.7 274.6v2.8M1487.6 274.6v2.8M1499.8 274.6v2.8M1511 274.6v2.8M1517.6 274.6v2.8M1522.2 274.6v2.8M1525.8 274.6v2.8M1528.8 274.6v2.8M1531.3 274.6v2.8M1533.4 274.6v2.8M1535.3 274.6v2.8M1547.5 274.6v2.8M1558.7 274.6v2.8M1565.3 274.6v2.8M1569.9 274.6v2.8M1573.5 274.6v2.8M1576.5 274.6v2.8M1579 274.6v2.8" stroke="#666" stroke-width="1.5" fill="none"/>
<rect x="1516" y="163.8" width="50.4" height="60.2" stroke="#303030" stroke-width="1.3" fill="none"/>
<path d="M1566.4 163.8L1566.4 224" stroke="#111" stroke-width="2" fill="none"/>
<g fill="none" filter="url(#soft)">
<path d="M1197.3 515.2L1198.9 505.8L1201.7 500.4L1207.2 497L1212.9 497L1218.9 498.3L1224.5 499.7L1231.6 502.8L1237.5 505.4L1242.7 504.2L1249.6 505L1255 504.3L1262.7 501.3L1268.9 498.6L1275.1 497.2L1281.6 494.6L1287.7 495.5L1294 495L1299.5 494.8L1303.8 497.1L1310.1 498.2L1316 495.2L1322.2 493.3L1325 501.3L1322.5 504.4L1319.2 509.2L1316.9 514.4L1312.7 517.8L1310.5 523.3L1306.7 525.7L1301.4 529.5L1296.2 531.2L1289.9 532.4L1284.1 532L1278.2 533.1L1273.9 533.3L1268.5 532.5L1262.3 531.5L1256.9 529.4L1250.9 529.4L1242.7 529L1237.4 529.9L1232.2 533.6L1224.9 534L1220.6 535.2L1215.2 537.4L1209.6 536.4L1204.1 534.1L1197.8 530.5L1197.2 526L1196.5 519.4Z" stroke="#666" stroke-width="0.9" fill="none" stroke-linejoin="round"/>
<ellipse cx="1210.9" cy="516" rx="11.1" ry="16.3" transform="rotate(0 1210.9 516)" fill="#a0a0a0" opacity="0.5" filter="url(#b2)"/>
<path d="M1225.9 515.8L1226 519.5L1226.1 522.5L1226 525.5L1224.8 529.2L1222.9 532.6L1220.1 535L1214.2 536.3L1208.9 536.2L1206.1 535.6L1203.3 534.4L1200.6 531.6L1199.7 528.5L1198.4 525.6L1197 522.4L1195.8 519.3L1195 516.2L1196 512.8L1197.2 509.4L1198.7 506.5L1201 503.7L1202.6 502L1203.9 499.4L1206.4 496.7L1208.5 494.4L1211.6 493.7L1215.4 494.1L1217.6 495.5L1220.8 497.5L1222.8 499.6L1224.3 502.2L1225.5 505.6L1226.9 509.4L1226 512.7Z" stroke="#666" stroke-width="0.9" fill="none" stroke-linejoin="round"/>
<path d="M1224.6 516.1L1224.8 522.3L1224.2 525.6L1223.3 528.9L1222.1 530.4L1220 532.6L1214.3 534.2L1209.5 534.3L1204.3 532.6L1202.3 530.2L1199.9 528.4L1199.2 524.8L1198.6 522.7L1196.8 518.6L1196.9 515.6L1197.6 512.8L1198.6 510L1201.8 505.6L1204.7 500.6L1206.4 497.7L1208.5 496.8L1214.3 496L1219.5 499.2L1221.9 501.6L1223.5 503.6L1224.8 507L1225.8 509.7L1225.7 513.6Z" stroke="#666" stroke-width="0.9" fill="none" stroke-linejoin="round"/>
<path d="M1224.4 515.6L1223.5 521.7L1223 526.7L1218.8 531.7L1214.5 533L1209 533L1204.2 531L1201.3 527.2L1199.3 521.6L1197.8 515.8L1199.7 510.4L1202 506.5L1205.3 502.4L1209.3 498.3L1214.3 498L1219.5 501.1L1222.7 504.8L1223.5 510.9Z" stroke="#a8a8a8" stroke-width="0.8" fill="none" stroke-linejoin="round"/>
<path d="M1222.5 515.9L1222 520.3L1221.4 526.7L1218.5 530.1L1214.2 531L1209.2 531.6L1204.9 529.8L1202.5 525.8L1200 520.6L1199.4 515.6L1200.9 510.8L1203.4 507.4L1206 503.3L1209.1 499.7L1214.7 499.3L1218 502.1L1221.5 506.3L1222.6 511.6Z" stroke="#a8a8a8" stroke-width="0.8" fill="none" stroke-linejoin="round"/>
<path d="M1220.9 516.4L1221.4 520.8L1220.1 525.3L1218.1 528.6L1213.3 530.1L1210.4 529.3L1206.5 527.7L1203 525.1L1201.9 521.1L1201 516L1201.7 511.6L1204.8 508.3L1207 504.2L1210 501.9L1213.4 501.8L1217.2 503.2L1219.9 507.2L1221.2 512.1Z" stroke="#a8a8a8" stroke-width="0.8" fill="none" stroke-linejoin="round"/>
<path d="M1219.7 516.4L1220.5 519.9L1219.5 524.3L1217 526.4L1213.9 527.8L1210.2 528.1L1207.3 526.6L1204.9 523.1L1202.7 520.2L1202.3 516.4L1202.8 512.4L1205.5 508.6L1206.7 506.1L1210.6 503.5L1213.5 503.2L1217.2 505.1L1219.4 508.2L1221 512.5Z" stroke="#a8a8a8" stroke-width="0.8" fill="none" stroke-linejoin="round"/>
<path d="M1219.5 515.7L1219.1 519.7L1218.6 523.4L1216.7 524.9L1213.3 526.1L1210 526.4L1208.1 525.6L1205 522.3L1204 519.9L1203.4 515.6L1204.4 512.3L1205.5 510.1L1208.4 507.7L1210.5 504.7L1213.4 505.1L1216.5 506.5L1217.8 509.7L1219 512.9Z" stroke="#a8a8a8" stroke-width="0.8" fill="none" stroke-linejoin="round"/>
<path d="M1217.9 516.3L1217.7 518.3L1217.2 521.7L1215.8 523.8L1213.2 524.5L1210.8 524.4L1208.7 524.3L1205.9 522L1205.7 519.1L1204.4 516.3L1205.9 513.3L1207.5 511.5L1208.6 509.3L1210.1 506.6L1213.2 506.8L1216 508.3L1217.4 510.4L1218.6 513.1Z" stroke="#a8a8a8" stroke-width="0.8" fill="none" stroke-linejoin="round"/>
<path d="M1217.1 516.1L1216.6 518L1215.8 520.1L1214.6 522.1L1212.3 523L1210.6 523.6L1209.2 522.5L1207.9 520.2L1206.1 518.5L1205.8 516.6L1206.6 514.2L1207.6 511.5L1209.2 510.4L1210.5 509.1L1213.4 508.7L1215.3 510.2L1215.8 511.7L1217.2 514Z" stroke="#a8a8a8" stroke-width="0.8" fill="none" stroke-linejoin="round"/>
<path d="M1215.4 516.1L1215.6 518.1L1214.7 519.4L1213.8 521.2L1212.1 520.8L1210.6 520.9L1209.5 521.2L1208.4 518.9L1208 517.6L1207.6 516.3L1207.9 514.5L1209 513.3L1210 512L1211.3 510.1L1212.6 510.6L1214.4 511.4L1215.6 512.9L1215.7 514.4Z" stroke="#a8a8a8" stroke-width="0.8" fill="none" stroke-linejoin="round"/>
<path d="M1213.9 516L1214.7 517.7L1214.6 518.4L1213 519.8L1212.5 519.3L1210.7 520.2L1210.4 518.8L1210.1 518.5L1209.4 517.6L1208.5 516L1208.7 514.9L1209.7 514.2L1209.9 512.6L1211.1 511.5L1212.3 512.6L1213.8 512.3L1214.5 513.2L1214.2 515Z" stroke="#a8a8a8" stroke-width="0.8" fill="none" stroke-linejoin="round"/>
<path d="M1213 515.6L1212.7 516.3L1212.7 517.8L1212.1 517.9L1211.7 518.3L1210.9 517.9L1211.2 517.2L1210.5 517.1L1210.3 516.8L1209.7 516.4L1210.1 515.7L1210.2 514.3L1210.6 513.8L1211.2 513.4L1211.6 514.3L1212.7 514.2L1213.1 515L1212.7 514.8Z" stroke="#a8a8a8" stroke-width="0.8" fill="none" stroke-linejoin="round"/>
<path d="M1237.8 516.4L1236.4 520.3L1235.2 525L1231.5 528.5L1228.2 529.3L1223.5 530L1219 529.2L1215 524.9L1214 521L1213.6 515.8L1214.8 511.8L1216.3 508.3L1218.9 504.1L1223.5 500.7L1228.4 500.9L1232.2 504.1L1235.6 507.1L1236.8 511.5Z" stroke="#999" stroke-width="0.8" fill="none" stroke-linejoin="round"/>
<path d="M1233.7 515.9L1233.1 518.6L1232.5 521.7L1229.8 524.4L1226.6 525.6L1224.4 524.9L1221 524.6L1218.4 522.1L1217.5 519.8L1216.7 515.6L1217.4 513.4L1219.5 510L1221.6 508.2L1224.3 506.2L1226.8 505.8L1229.5 507.1L1232.3 509.7L1233.4 512.6Z" stroke="#999" stroke-width="0.8" fill="none" stroke-linejoin="round"/>
<path d="M1313 509.2L1311.5 514.8L1311.1 517.6L1308.9 519.9L1305.3 522.1L1302.1 524.5L1298.2 525L1293.6 526.5L1289.7 527.3L1284.7 528.4L1281.1 528.5L1278.4 529.2L1275.5 528.4L1270.5 527.4L1267.3 526.8L1263.8 524L1261.8 521.6L1259.6 516.3L1260.2 513.8L1262 510.6L1265.2 508.9L1267.8 506L1270.5 503.9L1273.5 502.4L1276.3 499.9L1280.3 497.7L1283.3 496.8L1286.1 496.2L1289.6 496.1L1292.9 495.7L1296.4 495.8L1298.2 496.2L1303.2 497.2L1307 498.7L1309.5 501.3L1311.4 503.4Z" stroke="#808080" stroke-width="0.9" fill="none" stroke-linejoin="round"/>
<path d="M1310.6 509.6L1309 514.7L1306.6 519.4L1303.5 520.9L1300.5 523L1296.7 523.3L1292.5 524.3L1288.6 525L1285.4 525.8L1280.7 526.2L1276.9 527.1L1272.2 526.7L1269.9 525.2L1267 523.3L1264 520.6L1262.3 515.4L1265.3 511.1L1267.4 509.2L1270 506.7L1272.2 504.7L1275.5 503.2L1278.2 501.6L1281.3 499.1L1285.7 497.7L1289.3 498.1L1293.8 497.6L1297.9 498.8L1301.5 499.1L1304.7 500.9L1307.6 502.4L1309.7 504.7Z" stroke="#808080" stroke-width="0.9" fill="none" stroke-linejoin="round"/>
<path d="M1306.8 509.9L1306 514.1L1303.8 518.8L1301.4 520.3L1299 521.3L1295.4 522L1291.8 523L1289 523.8L1285 524.6L1281.7 525L1277.9 525.5L1274.8 524.7L1271.5 523.2L1267.4 520L1265.7 515.1L1267.6 510.6L1271.9 507.5L1276.5 504.3L1278.7 502.3L1281.8 500.7L1285.1 500L1289.4 499L1292.1 499.6L1296.7 500.4L1299.3 501.6L1302.5 502.6L1306.8 505Z" stroke="#b4b4b4" stroke-width="0.8" fill="none" stroke-linejoin="round"/>
<path d="M1303.9 510.5L1303.4 514.3L1301.1 517.9L1297.1 520L1291.6 521.6L1285.6 522.4L1282.8 522.8L1279.1 522.8L1273.2 521.5L1269.8 518.7L1268.7 514.6L1270.7 511.1L1274.3 508.4L1277.9 505L1283.2 503.2L1285.3 502L1289 501.1L1292 501.3L1294.6 502L1299.6 503.4L1304.2 506.9Z" stroke="#b4b4b4" stroke-width="0.8" fill="none" stroke-linejoin="round"/>
<path d="M1301.1 511.2L1300.6 514L1298.9 517L1295.2 519.3L1290.1 519.9L1285.7 521.3L1281.1 521L1276 519.8L1272.6 517.3L1271.5 514.5L1273.4 512.1L1276.9 509.4L1279.5 506.5L1283.3 504L1288 503L1294.1 503.3L1297.9 504.9L1301.1 507Z" stroke="#b4b4b4" stroke-width="0.8" fill="none" stroke-linejoin="round"/>
<path d="M1298.5 511.3L1298 512.9L1297.2 515.2L1294.1 518L1290.3 518.9L1286 519.4L1282 519.7L1278.2 519.1L1275.8 516.7L1274.6 513.7L1276.8 511.6L1278.7 510.4L1281.5 507.5L1284.2 506L1288.4 504.9L1292 506.2L1295.8 506.8L1298.3 508.9Z" stroke="#b4b4b4" stroke-width="0.8" fill="none" stroke-linejoin="round"/>
<path d="M1295.2 511.7L1295.2 512.7L1294 515.5L1292.4 516.8L1289.2 517.1L1286.3 517.8L1283.4 517.7L1281.2 517.1L1278.3 516L1277.7 513.6L1279 511.6L1280.9 510.4L1282.8 509.3L1285.2 507.2L1287.7 506.6L1290.7 507.4L1293.9 507.6L1295.6 509.2Z" stroke="#b4b4b4" stroke-width="0.8" fill="none" stroke-linejoin="round"/>
<path d="M1292.9 512.2L1293 513.1L1291.3 513.9L1290.2 515.2L1289 515.9L1286.2 515.4L1284.8 515.7L1283 515.5L1281.8 514.4L1281.8 513.2L1281.7 511.8L1282.9 510.8L1284.4 509.8L1285.4 509.8L1288.1 508.8L1289.9 509.6L1291.5 509.9L1292.7 510.4Z" stroke="#b4b4b4" stroke-width="0.8" fill="none" stroke-linejoin="round"/>
<path d="M1289.5 511.9L1289.3 512.8L1289.4 512.9L1288.1 513.1L1287.4 513.5L1287.1 514.5L1286 514.4L1285.1 513.4L1284.9 513.8L1284 512.7L1284.9 512.6L1284.9 511.8L1285.7 511.6L1286.9 510.7L1287.3 511.4L1287.9 510.6L1289.5 511.4L1289.6 511.6Z" stroke="#b4b4b4" stroke-width="0.8" fill="none" stroke-linejoin="round"/>
<path d="M1291.5 446L1298.7 438.8L1306.6 436.9L1312.7 436.1L1318.3 437.2L1323.5 439.9L1323.6 444.7L1324.8 450.8L1325.4 456.9L1326.5 463.8L1327 468.4L1327.7 475.2L1327.9 480.1L1328.7 485.2L1322.4 494.4L1317.5 492.8L1312.9 490.2L1309 485L1304.6 479.5L1299.1 475.3L1296.2 469L1291.7 464.3L1290.7 458.6L1291.5 451.5Z" stroke="#666" stroke-width="0.9" fill="none" stroke-linejoin="round"/>
<ellipse cx="1307.7" cy="459.5" rx="10.3" ry="17.1" transform="rotate(0 1307.7 459.5)" fill="#b0b0b0" opacity="0.4" filter="url(#b2)"/>
<path d="M1322.3 460.8L1321.9 464.9L1321.5 468.8L1320.8 472.8L1319.3 475.6L1317.8 480.3L1316.2 483.1L1313.5 484.2L1311.1 485.5L1305.2 483.9L1300.5 481.2L1297.7 479.4L1295.4 476.6L1294.7 472.5L1293.3 468.9L1292.9 464.5L1293.3 461.5L1293.4 457.5L1293.3 453.9L1294.4 449.6L1296.3 447L1297.7 443.8L1300.9 441.4L1302.8 439.4L1305.5 437.8L1307.7 436L1311 435.4L1312.9 437.9L1316 440.3L1317.8 442.6L1318.7 446.4L1321 450.6L1321.1 453.7L1322.4 457.5Z" stroke="#777" stroke-width="0.9" fill="none" stroke-linejoin="round"/>
<path d="M1320.5 460.7L1320 464L1319.4 467.3L1318.9 470.2L1318.9 474.3L1316.9 477.6L1315.9 480.4L1310.1 482.6L1305.9 481.4L1300.8 479.1L1296.8 474.8L1295.5 470.8L1295 468L1294.9 464.4L1293.8 461L1294.9 456.6L1294.5 453.3L1295.5 450L1297.5 447.9L1301.1 443.3L1305.5 439.4L1311.1 437.8L1313 438.4L1315 441L1317.5 444.6L1317.8 447.3L1319.3 450.8L1320.8 453.7L1320.9 457.2Z" stroke="#777" stroke-width="0.9" fill="none" stroke-linejoin="round"/>
<path d="M1320 460.2L1319.1 466.2L1318.6 469.6L1317.5 472.3L1316.6 475.8L1314.9 477.9L1310.2 479.9L1305.6 478.4L1301.1 476L1297.7 471.9L1297 470.1L1296.3 466.9L1296.2 463.8L1296 460.7L1296.2 456.4L1295.7 454.4L1298.4 448.6L1302.4 445.1L1305.6 440.5L1310.4 439.6L1314.1 443.2L1315.5 445.3L1317.7 448.8L1319.5 454.5L1319.4 457Z" stroke="#a8a8a8" stroke-width="0.8" fill="none" stroke-linejoin="round"/>
<path d="M1318.2 459.7L1317.3 464.8L1316.6 469.9L1314.2 475L1310.1 476.7L1305.7 476L1302.7 474.8L1299.7 470.9L1297.7 465.2L1297.3 460.2L1298.1 453.4L1300 449.5L1303.1 446.3L1305.8 442.3L1309.8 440.8L1314.4 444.5L1316.7 449L1318.2 453.7Z" stroke="#a8a8a8" stroke-width="0.8" fill="none" stroke-linejoin="round"/>
<path d="M1317 458.9L1316.2 464.3L1315 469.1L1313.6 473.6L1309.8 474.9L1306.4 473.6L1303.3 471.5L1300.6 468.2L1298.6 464.2L1298.1 459.6L1298.7 454.7L1300.6 450.3L1303.2 447.2L1305.9 443.7L1309.7 443.6L1313.7 445.5L1315.9 450.5L1316.3 454.6Z" stroke="#a8a8a8" stroke-width="0.8" fill="none" stroke-linejoin="round"/>
<path d="M1315.5 458.4L1315.1 462.2L1314.7 466.4L1312.5 470L1309.4 472L1306.5 471.4L1303.5 468.9L1301.4 466.8L1300.3 462.6L1300.5 458.8L1300.1 454.9L1301.8 451L1304 448.6L1306.7 445.7L1309.4 444.4L1312.3 447.5L1314.9 450.7L1315 454.2Z" stroke="#a8a8a8" stroke-width="0.8" fill="none" stroke-linejoin="round"/>
<path d="M1315.1 457.7L1314.1 460.8L1313.6 464.6L1312.6 468.5L1309.5 469.4L1307.3 468.2L1305.1 466.5L1302.5 465.2L1302 461.8L1301.7 458.5L1301.5 454.2L1302.9 452.1L1304.9 449.8L1307.3 447.2L1309.9 447L1311.9 448.6L1313.4 451.6L1314 454.9Z" stroke="#a8a8a8" stroke-width="0.8" fill="none" stroke-linejoin="round"/>
<path d="M1313.8 457.3L1313 460L1312.3 463.4L1311.6 464.9L1309.4 466L1307.2 465.2L1305.7 464.6L1304.3 462.5L1303.3 460.3L1303.2 457.1L1303.6 454.8L1304 452.1L1306.1 450.2L1307.4 448.9L1309.2 449.1L1310.8 449.6L1311.8 452.3L1312.7 454.4Z" stroke="#a8a8a8" stroke-width="0.8" fill="none" stroke-linejoin="round"/>
<path d="M1312.4 457.6L1311.5 459.1L1312.1 460.6L1310.2 462.9L1308.6 463.6L1308.1 463.5L1305.9 462.4L1305.3 461L1304.3 459.2L1304.1 457.3L1304.1 454.4L1305.8 453.1L1306.3 452L1307.6 450.2L1309.6 450.9L1310.3 451.2L1311.2 453.4L1312 455.2Z" stroke="#a8a8a8" stroke-width="0.8" fill="none" stroke-linejoin="round"/>
<path d="M1311.1 456.3L1310.8 457.9L1310.7 459.3L1310.5 459.9L1309 460.8L1307.6 460.3L1306.9 460.1L1306.7 458.9L1306 457.5L1305.8 457.2L1306.5 455.1L1306.3 453.7L1307.7 453.8L1307.5 452.4L1308.9 451.9L1310.1 453.3L1310.3 454.7L1311 455Z" stroke="#a8a8a8" stroke-width="0.8" fill="none" stroke-linejoin="round"/>
<path d="M1309.9 455.6L1309.5 456.7L1309.2 456.8L1309.1 458.2L1308.5 458L1308.5 457.5L1307.8 458.1L1308 457.3L1307.6 456.1L1307.1 455.9L1306.9 455.4L1307.8 455.1L1308.1 454.5L1308.8 453.8L1308.6 453.7L1309 454.8L1309.4 455.4L1309.7 455.3Z" stroke="#a8a8a8" stroke-width="0.8" fill="none" stroke-linejoin="round"/>
<ellipse cx="1308.6" cy="456.1" rx="1.2" ry="3.8" transform="rotate(0 1308.6 456.1)" fill="#333" opacity="0.9" filter="url(#b1)"/>
<path d="M1249.6 480.1h1.2M1224.7 485.7h1.2M1221.5 485.5h1.2M1230.7 460.1h1.2M1298 483.6h1.2M1227.8 492.7h1.2M1280.8 515h1.2M1267.8 496.6h1.2M1221 520.3h1.2M1236.6 484.9h1.2M1263.1 499.2h1.2M1257.6 482h1.2M1259 513.6h1.2M1295.4 496.3h1.2M1276.5 465.7h1.2M1241.7 460.6h1.2M1323 449.9h1.2M1210.3 466.9h1.2M1238.3 449.5h1.2M1215 498.5h1.2M1198.2 502.4h1.2M1269.2 468.1h1.2M1253.9 470.1h1.2M1242.5 484.4h1.2M1248.9 517.2h1.2M1276.9 506.9h1.2M1261.2 436.7h1.2M1245.8 486.3h1.2M1212.6 496.4h1.2M1260.9 446.4h1.2M1289.8 491.5h1.2M1252.9 468.5h1.2M1292.8 433.8h1.2M1234 506.1h1.2M1305.2 491.6h1.2M1313.1 473.9h1.2M1220.5 521.7h1.2M1300.4 483.9h1.2M1289 490.7h1.2M1254.1 493.1h1.2M1301.2 459.4h1.2M1236.3 481h1.2M1231.9 482.6h1.2M1207.5 475h1.2M1280.6 478.6h1.2M1254 495.5h1.2M1314.3 471.6h1.2M1234.8 499.6h1.2M1275.9 461h1.2M1226.3 473.4h1.2M1255.3 483.1h1.2M1286.3 515.5h1.2M1295.3 472.2h1.2M1236.5 466.5h1.2M1227.5 502.7h1.2M1271.1 443.1h1.2M1255.3 504.2h1.2M1203.4 494.9h1.2M1320.1 447.1h1.2M1233.8 461h1.2M1265.5 487.8h1.2M1303.6 487h1.2M1247.8 481h1.2M1295.4 464.2h1.2M1246.6 470.3h1.2M1242 506.1h1.2M1234.9 503.8h1.2M1229.9 462.5h1.2M1206.6 537.2h1.2M1255 507.6h1.2M1249.5 486.9h1.2M1226.3 505.4h1.2M1279.9 469.6h1.2M1282.6 505.9h1.2M1295.7 490.3h1.2M1295.8 502.9h1.2M1260 450.8h1.2M1223.2 511.2h1.2M1231.5 482.2h1.2M1250 470.8h1.2M1316.5 472.7h1.2M1308.6 485.4h1.2M1245.7 485.3h1.2M1210.9 487.8h1.2M1276.2 485.2h1.2M1259.1 468.9h1.2M1279.1 469.3h1.2M1238.5 468.2h1.2M1307.1 486.6h1.2M1245.3 506.7h1.2M1243.2 460.7h1.2M1264 493.9h1.2M1290.9 447.9h1.2M1231.8 505.9h1.2M1275.3 480.9h1.2M1196.2 482.3h1.2M1230.8 463.3h1.2M1264.7 465.9h1.2M1261.2 499.6h1.2M1241.5 502.1h1.2M1304.2 508.3h1.2M1223.7 460.2h1.2M1224.3 456.4h1.2M1231.1 488.3h1.2M1259.6 492.5h1.2M1306.8 477.5h1.2M1225.4 464.2h1.2M1218.5 493h1.2M1306.9 490.7h1.2M1243.3 487h1.2M1294.9 475.4h1.2M1281.8 484.9h1.2M1239.1 503.4h1.2M1291.3 483.5h1.2M1229.4 459.9h1.2M1227 508.9h1.2M1262.5 487.9h1.2M1277.2 485h1.2M1269.5 468.7h1.2M1302.5 466.6h1.2M1284.9 436.4h1.2M1226.1 460.6h1.2M1275.5 457.7h1.2M1209.7 496h1.2M1308.5 500h1.2M1332.5 501h1.2M1234.1 468.8h1.2M1218.9 483.1h1.2M1310.4 503.3h1.2M1268 495h1.2M1231.4 509h1.2M1231.5 492.1h1.2M1230.8 475.2h1.2M1281.8 514.1h1.2M1206.2 491.8h1.2M1274.4 505h1.2M1270.3 498.3h1.2M1263.9 461.1h1.2M1273.1 482.5h1.2M1309.2 454.3h1.2M1222 521.1h1.2M1247.8 512.6h1.2M1236.2 503.6h1.2M1250 490.4h1.2M1245.8 513.9h1.2M1236.2 501h1.2M1236.4 467.6h1.2M1282.2 470.6h1.2M1187.1 487.4h1.2M1288.1 489.6h1.2M1232.4 459.1h1.2M1222.1 490.8h1.2M1317.8 461.5h1.2M1253.7 503.6h1.2M1272.6 484h1.2M1237.3 498.1h1.2M1250.7 473.6h1.2M1193.5 494.2h1.2M1273.7 492.5h1.2M1228.9 503.1h1.2M1278 478.9h1.2M1211.6 490.6h1.2M1289.8 445.4h1.2M1273 476.8h1.2M1251 488.4h1.2M1290.1 487.4h1.2M1212.9 493.6h1.2M1272.4 480.1h1.2M1308.9 477.2h1.2M1290.9 504.9h1.2M1266 488.5h1.2M1246.1 474.8h1.2M1237.7 466.4h1.2M1241.3 469.3h1.2M1244.6 478h1.2M1295.7 457.8h1.2M1224 504.1h1.2M1296.3 498.2h1.2M1262.6 531.4h1.2M1262.5 486.6h1.2M1296.6 465.3h1.2M1245.6 477.9h1.2M1204.7 494.5h1.2M1311.4 498h1.2M1241.5 478.2h1.2M1221.1 480.9h1.2M1269.4 460.2h1.2M1286 456.1h1.2M1233.5 483.6h1.2M1286.2 482.5h1.2M1211.7 457.4h1.2M1260.6 489h1.2M1269.7 453.8h1.2M1271.6 497.1h1.2M1224 466.9h1.2M1279.5 466h1.2M1278.2 513.2h1.2M1233.1 491h1.2M1272.8 494.5h1.2M1270.4 491.2h1.2M1239.8 482.4h1.2M1279.3 509.7h1.2M1280.8 512.1h1.2M1285.5 485.5h1.2M1336.6 522.8h1.2M1326.3 493.7h1.2M1325.7 515.1h1.2M1338.8 505.2h1.2M1337.1 499.9h1.2M1336 474.8h1.2M1339.2 492.3h1.2M1336.9 526.4h1.2M1334.4 473.1h1.2M1339.1 463.7h1.2M1335.4 503.9h1.2M1327.6 526.7h1.2M1335.2 472.2h1.2M1337.5 454h1.2M1338.6 497.8h1.2M1332.3 532.2h1.2M1333.8 471.7h1.2M1334.7 494.2h1.2M1326.6 475.6h1.2M1336.8 459.8h1.2M1334 491.7h1.2M1339 524h1.2M1333.6 484.6h1.2M1327.2 431.1h1.2M1334 466.8h1.2M1333.1 497h1.2M1339.8 493.9h1.2M1332.3 469.4h1.2M1336.8 471.2h1.2M1333.4 514h1.2M1329.2 441.2h1.2M1334.4 478.4h1.2M1330.9 466.2h1.2M1338.8 514.2h1.2M1334.3 501.3h1.2M1334.8 486.6h1.2" stroke="#aaa" stroke-width="1.2"/>
</g>
<rect x="1150.6" y="348.6" width="194.4" height="193.4" stroke="#808080" stroke-width="1.6" fill="none"/>
<path d="M1150.6 348.6L1150.6 542" stroke="#7a7a7a" stroke-width="2.4" fill="none"/>
<path d="M1150.6 542.3H1345" stroke="#9a9a9a" stroke-width="2.4" fill="none"/>
<path d="M1165.6 541v2.8M1176.9 541v2.8M1183.5 541v2.8M1188.3 541v2.8M1191.9 541v2.8M1194.9 541v2.8M1197.4 541v2.8M1199.6 541v2.8M1201.5 541v2.8M1213.9 541v2.8M1225.2 541v2.8M1231.9 541v2.8M1236.6 541v2.8M1240.2 541v2.8M1243.2 541v2.8M1245.7 541v2.8M1247.9 541v2.8M1249.8 541v2.8M1262.2 541v2.8M1273.5 541v2.8M1280.2 541v2.8M1284.9 541v2.8M1288.5 541v2.8M1291.5 541v2.8M1294 541v2.8M1296.2 541v2.8M1298.1 541v2.8M1310.5 541v2.8M1321.8 541v2.8M1328.5 541v2.8M1333.2 541v2.8M1336.8 541v2.8M1339.8 541v2.8M1342.3 541v2.8" stroke="#444" stroke-width="1.5" fill="none"/>
<rect x="1281.6" y="435.4" width="49.8" height="56" stroke="#111" stroke-width="2.1" fill="none"/>
<g fill="none" filter="url(#soft)">
<path d="M1428 518.4L1428.2 512.2L1432 506.1L1437.2 502.9L1443.9 501L1450.2 500.8L1455.1 501.3L1461.1 500.6L1465.3 505.4L1470.9 507.3L1474.6 509.2L1479.4 509.1L1486.5 507.6L1491.2 506.9L1497.7 505.5L1503.7 504.9L1507.8 501.7L1512.3 497.2L1518.3 497.7L1524.1 497.6L1529.4 495.8L1536.7 496.9L1541.4 497.1L1544.5 500.7L1545.7 507.8L1545.2 513.6L1540.6 522.2L1537.3 524.7L1531.5 527.8L1526.4 530L1521.6 530.7L1516 531.3L1509.7 532.1L1502.2 529.2L1496.2 527.9L1490 526.6L1482.1 526.2L1475.6 528.6L1468.5 532L1462.2 534.2L1457.7 535.6L1451.6 535.9L1445.8 535L1440.1 533.4L1435.7 531.1L1433.1 528.1L1429.4 521.5Z" stroke="#666" stroke-width="0.9" fill="none" stroke-linejoin="round"/>
<ellipse cx="1448.9" cy="517.7" rx="14.6" ry="12" transform="rotate(0 1448.9 517.7)" fill="#b8b8b8" opacity="0.4" filter="url(#b2)"/>
<path d="M1469.8 517.9L1469.7 520.6L1468.1 524.2L1466.5 527L1464.7 528.8L1462 530.8L1459.3 533.3L1455.8 534.4L1452 534.6L1448.5 534.6L1445.8 534.7L1442.5 534.5L1439.1 532.5L1436.7 531.4L1433.5 528.3L1431.2 526.4L1429.1 524.2L1427.6 521.2L1426.1 517.9L1426.6 514.5L1427.8 511.6L1430.7 508.7L1432.9 505.7L1435.6 503.8L1439.6 502.5L1442.8 501.4L1445.8 500.9L1448.7 501.6L1452.3 502.3L1455.1 501.8L1458.3 502.4L1463.1 503.8L1465.9 505.1L1468.8 508.1L1469.7 510.4L1470 514.7Z" stroke="#777" stroke-width="0.9" fill="none" stroke-linejoin="round"/>
<path d="M1468.3 517.4L1466.1 523L1463.5 528.6L1460.5 529.9L1457.7 532L1455.2 533L1451.7 533.2L1449 534.1L1445.6 533.3L1443 533.5L1439.8 531.5L1434.8 527.6L1431.9 523.2L1429.5 520.7L1428.1 517.2L1428.7 515.2L1430.3 511.4L1432.3 509.6L1434.7 507L1436.8 505.7L1440.2 503.8L1442.5 502.8L1446.3 503.2L1451.9 503.4L1455.1 503.1L1457.9 504L1461.7 504.6L1464.8 506L1466.8 509.2L1467.6 511.6L1467.8 514.6Z" stroke="#777" stroke-width="0.9" fill="none" stroke-linejoin="round"/>
<path d="M1466 518.3L1464.6 523.2L1462.2 527.6L1456.9 529.6L1451.9 531L1446.2 531.6L1440.8 530.6L1437.3 526.3L1432.7 522.7L1431.1 517.4L1431.7 512.1L1435.5 508.3L1440.7 505.5L1446.5 504.5L1451.3 504.9L1457.1 505.8L1459.4 506L1463 507.6L1466.2 512.3Z" stroke="#b4b4b4" stroke-width="0.8" fill="none" stroke-linejoin="round"/>
<path d="M1464.3 518L1463.3 522.5L1460.9 526.2L1455.8 528.5L1451.8 530.3L1446.5 530L1441.2 529L1438 525.3L1435.5 521.9L1433.1 517.9L1434.3 513.2L1437.1 509L1442.2 506.8L1446.5 506.1L1451.4 506.4L1456.1 506.6L1461.5 508.2L1464.5 513.2Z" stroke="#b4b4b4" stroke-width="0.8" fill="none" stroke-linejoin="round"/>
<path d="M1461.8 517.1L1461.6 521.2L1459 524.8L1454.8 527L1450.6 528.8L1447 529.1L1442.1 527.2L1439 525.1L1437.3 522.2L1435.1 517.9L1435.6 513L1438.4 510.5L1443.3 508.8L1446.7 507.3L1451.4 507.4L1455.5 508.4L1459.6 509.7L1461.9 513Z" stroke="#b4b4b4" stroke-width="0.8" fill="none" stroke-linejoin="round"/>
<path d="M1460 518.3L1459.7 520.4L1457.8 523.6L1454.4 526.4L1451.3 527.3L1447.6 527.3L1442.9 525.7L1441.1 523.8L1439 520.7L1437.2 517.8L1437.7 513.6L1440.2 511.5L1443.9 509.9L1447.3 509.1L1450.5 508.9L1454.9 509.8L1458.2 511.5L1460.8 514.3Z" stroke="#b4b4b4" stroke-width="0.8" fill="none" stroke-linejoin="round"/>
<path d="M1458.9 517.6L1458.1 520.6L1456 522.8L1452.9 525L1451 525.1L1447.9 525.1L1444.4 525.2L1442.4 522.2L1440.4 519.9L1439.1 517.8L1439.7 514.9L1441.4 513L1444.8 511.5L1447.1 510L1450.7 511.1L1453.5 510.7L1456.5 511.8L1458.4 515.3Z" stroke="#b4b4b4" stroke-width="0.8" fill="none" stroke-linejoin="round"/>
<path d="M1456.6 517.4L1456.3 520.3L1454.5 521.3L1452.7 522.9L1449.7 524.2L1447.6 523.6L1445.1 523.8L1443.4 521.6L1441.7 519.4L1440.5 517.2L1441.4 515.2L1443.6 514L1445.9 512L1447.8 511.4L1449.8 511.9L1452.3 512.8L1454.9 512.9L1456.6 515Z" stroke="#b4b4b4" stroke-width="0.8" fill="none" stroke-linejoin="round"/>
<path d="M1455 517.2L1453.6 518.8L1452.9 521.1L1451.1 521.8L1450.3 521.9L1448.3 522.6L1446.8 522.2L1445.1 520.5L1443.7 518.9L1442.4 517.9L1443.1 515.5L1444.7 514.2L1446.5 514.3L1447.9 512.8L1449.4 513.3L1452 514.3L1453.6 514.3L1454 516.3Z" stroke="#b4b4b4" stroke-width="0.8" fill="none" stroke-linejoin="round"/>
<path d="M1452 517.4L1452.5 519L1451.3 520.3L1450.8 520.5L1449.2 521L1447.8 520.9L1446.6 520.7L1446.5 519.7L1445.5 519.1L1444.5 517.3L1444.7 516.7L1445.7 515.1L1447.7 514.9L1448.2 515.3L1449.3 515.4L1451.2 514.7L1451.6 515L1452.3 516.7Z" stroke="#b4b4b4" stroke-width="0.8" fill="none" stroke-linejoin="round"/>
<path d="M1451.2 518.1L1450.8 517.8L1450.7 518.6L1450.1 518.6L1449.8 518.9L1448.4 519.6L1448.3 518.8L1447.7 518.9L1447.3 518.2L1447.1 517.6L1447.1 516.9L1448 517L1447.8 516.1L1448.6 516.5L1449.2 516.6L1450 516.3L1449.8 516.9L1450.7 517Z" stroke="#b4b4b4" stroke-width="0.8" fill="none" stroke-linejoin="round"/>
<path d="M1537 507.9L1537.9 512.2L1535.2 517.7L1531.4 521.1L1526 524.8L1523.3 526.5L1519.9 526.6L1515.5 525.8L1509.1 524.4L1506.7 520.8L1505.4 516.2L1503.9 512.1L1504.4 508L1507.1 502L1510 501.3L1513.6 500L1516.8 499.1L1519 499.4L1524.9 498.8L1528.9 501.7L1533.4 504.5Z" stroke="#777" stroke-width="0.9" fill="none" stroke-linejoin="round"/>
<path d="M1530.4 509.9L1531.8 513L1529.5 516.4L1527.7 518.4L1524.9 520.3L1520.1 521.6L1516.8 521.2L1512.6 520.5L1511.7 517.8L1510.8 514.6L1509.2 512.6L1510.4 509.3L1511.6 505.6L1516.3 504.6L1520.4 503.2L1523.8 503.6L1525.6 505.6L1528.3 507.9Z" stroke="#777" stroke-width="0.9" fill="none" stroke-linejoin="round"/>
<path d="M1525 511L1525.9 513.2L1524.5 514.5L1522.8 515L1522.6 516.3L1519.6 516.3L1519.1 516.4L1517.6 516.8L1516 515.6L1515.3 514.2L1514.6 512.5L1514.6 510.7L1517 509.8L1517.4 509.3L1520.4 509.1L1521.5 508.1L1523.3 509.6L1523.3 510.2Z" stroke="#777" stroke-width="0.9" fill="none" stroke-linejoin="round"/>
<ellipse cx="1527.7" cy="461.2" rx="12" ry="19.7" transform="rotate(0 1527.7 461.2)" fill="#a0a0a0" opacity="0.5" filter="url(#b2)"/>
<path d="M1542.9 460.7L1542.2 464.7L1542.2 469L1542.3 473.6L1541.3 477.9L1539.2 481.7L1537 484.4L1533.8 486.2L1530.4 486.4L1527.3 486.9L1524.2 486.8L1521.4 486.5L1519.4 484.6L1516.7 481.5L1514.1 478.1L1513 474L1512.1 470.5L1510.2 465L1510.1 461.3L1510.8 456.5L1511.8 452.6L1513.4 449.3L1516.5 446.8L1518.1 443L1519.6 440L1521.7 436.9L1524.1 435.2L1527.5 434.1L1530.9 433.7L1534.2 435.2L1536.5 437.1L1539.6 439.8L1541.7 443.4L1543.2 445.9L1543.8 449L1543.2 452.8L1543.9 456.7Z" stroke="#666" stroke-width="0.9" fill="none" stroke-linejoin="round"/>
<path d="M1542.3 460.9L1541.4 465.3L1541.5 469.1L1540.5 472.8L1540.3 476.6L1537.9 480.2L1536.2 481.7L1530.5 485.2L1525.3 485.3L1519 483L1517.1 479.5L1515.9 476.5L1514.7 473.4L1512.5 468.7L1511.7 464.7L1511.4 461L1511.6 457.4L1513.7 453.2L1515 450.4L1517.5 447.9L1518.3 444.9L1520.2 442.6L1523 439.3L1525.4 437.5L1531.1 436L1533.9 436.9L1536.6 439.2L1539.1 441.8L1540.3 444.8L1541.7 449.4L1542.4 452.9L1542.9 457.6Z" stroke="#666" stroke-width="0.9" fill="none" stroke-linejoin="round"/>
<path d="M1540.1 461.2L1540.8 464.4L1539.4 467.9L1539.8 471.8L1538.9 474.9L1537.1 477.5L1535.6 481L1529.8 482.1L1524.6 482.8L1520.5 480.5L1518 478.1L1516.8 475.2L1515.3 471.8L1514.2 468.7L1513.2 465.5L1513.3 461.6L1513.8 458.1L1514 453.8L1516.2 451.8L1517.8 448.5L1521.2 444.4L1522.4 440.8L1525.3 438.9L1530.9 437.8L1535.7 441L1537.7 443.8L1539.4 446.3L1541.1 450L1540.8 453.3L1541.2 457.2Z" stroke="#a8a8a8" stroke-width="0.8" fill="none" stroke-linejoin="round"/>
<path d="M1539.4 460.9L1538.6 464.2L1538.9 467.1L1538.9 471L1537.8 473.9L1534.9 478.4L1530.5 480.1L1526 481.3L1520.5 478.2L1517.9 473.6L1516.5 470.4L1515.5 468L1515.2 464.6L1514.8 461.1L1515.5 457.5L1515.9 454.6L1519.3 449.9L1521.3 445.8L1525.6 441.2L1530.7 440L1534.4 443.7L1538.7 448L1539.1 450.6L1540.1 454.1L1540.3 457.5Z" stroke="#a8a8a8" stroke-width="0.8" fill="none" stroke-linejoin="round"/>
<path d="M1537.8 460.6L1537.4 466.5L1536.9 471.9L1533.2 476.4L1530.3 478.1L1525.5 479.3L1522.1 476.8L1519.1 472.3L1517 467.4L1515.7 460.7L1517.5 455.7L1520.3 450.7L1522.4 447.3L1525.4 443.5L1530 443.4L1533.4 444.8L1537.7 449.4L1538 452.6L1539.1 455.1Z" stroke="#a8a8a8" stroke-width="0.8" fill="none" stroke-linejoin="round"/>
<path d="M1537.4 461.3L1536.3 466.1L1535.5 471.2L1532.5 475.1L1529.2 476L1526.1 476.7L1522.5 474.6L1519.7 471.2L1518.1 465.9L1517.1 461.2L1518.6 456.7L1520.9 452.9L1523.5 448.5L1525.4 446.2L1529.5 445.3L1533.7 446.5L1535.9 451.1L1537.1 456.3Z" stroke="#a8a8a8" stroke-width="0.8" fill="none" stroke-linejoin="round"/>
<path d="M1535.3 461.6L1535.3 464.8L1534.6 469.4L1531.9 473.4L1528.8 474.2L1526 474.5L1523.1 472.9L1521.2 469.3L1519.6 465.8L1518.6 460.7L1520.1 456.9L1522.2 454.1L1523.3 451.2L1526 447.8L1529.1 447.4L1532.7 448.8L1534.6 452.4L1535.9 456.8Z" stroke="#a8a8a8" stroke-width="0.8" fill="none" stroke-linejoin="round"/>
<path d="M1533.8 461.7L1534.5 464.1L1533.1 467.7L1531 470.4L1528.6 472.2L1527 472.3L1523.5 471.5L1521.6 468.5L1520.8 464.9L1519.8 460.7L1521.2 457.7L1522.7 454.7L1524.6 452.3L1526.9 450.1L1528.6 449.1L1531.5 450.4L1533.9 454.1L1535 457.5Z" stroke="#a8a8a8" stroke-width="0.8" fill="none" stroke-linejoin="round"/>
<path d="M1533.1 461.7L1532.6 464.5L1531.8 466.4L1531.1 469.5L1528.4 469.8L1527.1 470.7L1525.1 469.3L1523.3 467.5L1522.7 463.9L1522.1 461.7L1522.4 457.9L1523.6 456.4L1525.3 454L1526.1 451.7L1528.5 451.5L1530.7 452.9L1532.5 454.9L1533.3 457.6Z" stroke="#a8a8a8" stroke-width="0.8" fill="none" stroke-linejoin="round"/>
<path d="M1531.6 461.5L1532 462.8L1531.2 465.7L1529.6 467.1L1528.6 467.6L1526.6 467.5L1525.4 467.4L1523.9 465.7L1523.4 463L1523.2 461.6L1523.8 459.4L1524.8 456.9L1526.1 455.4L1526.6 453.9L1528.7 453.9L1529.9 454.4L1531 456.4L1531.6 458.3Z" stroke="#a8a8a8" stroke-width="0.8" fill="none" stroke-linejoin="round"/>
<path d="M1530.4 461.3L1530.5 463.1L1529.7 464.4L1529.3 465.2L1527.8 465.3L1526.7 465.6L1526.5 465.6L1524.9 464.4L1525.1 462.9L1524.3 461.7L1525 459.5L1526.2 458.8L1526.6 457.4L1527.8 456.3L1528.1 455.7L1529.8 457.3L1530.1 458.5L1530.6 459Z" stroke="#a8a8a8" stroke-width="0.8" fill="none" stroke-linejoin="round"/>
<path d="M1529.7 460.7L1529.7 462L1529.1 462.8L1528.6 464.1L1528.3 464L1527.1 463.5L1527.3 463.4L1525.9 462.8L1526.7 461.5L1526.5 460.9L1526.1 460.4L1526.6 459.7L1527 458.8L1527 459.1L1527.6 458.9L1528.3 458.6L1529.4 459.5L1529.8 460.1Z" stroke="#a8a8a8" stroke-width="0.8" fill="none" stroke-linejoin="round"/>
<ellipse cx="1526.9" cy="459.5" rx="1.5" ry="4.8" transform="rotate(0 1526.9 459.5)" fill="#333" opacity="0.9" filter="url(#b1)"/>
<path d="M1509 448.8L1508.9 454L1509 461.5L1509.2 467.9L1508.7 473.4" stroke="#666" stroke-width="1.6" fill="none" stroke-linejoin="round"/>
<path d="M1548.6 452.4L1549.2 458L1548.8 464.7L1549.1 469.7" stroke="#555" stroke-width="1.6" fill="none" stroke-linejoin="round"/>
<path d="M1443.6 482.3h1.2M1503.5 521.1h1.2M1428.4 466.8h1.2M1473.7 471h1.2M1474.1 482.6h1.2M1486.8 510.8h1.2M1526 457h1.2M1485 475.6h1.2M1430.3 487.8h1.2M1415.7 512h1.2M1433.4 513.3h1.2M1480.1 455.9h1.2M1435.2 486.4h1.2M1509.8 478.5h1.2M1510 490.5h1.2M1457.4 498.8h1.2M1478.7 511.6h1.2M1498.1 512.3h1.2M1481.2 494.6h1.2M1510.7 442.1h1.2M1516.2 458.3h1.2M1432.2 486.2h1.2M1492.6 472.3h1.2M1460.7 502.8h1.2M1489.9 505h1.2M1438.3 486.7h1.2M1442 519.3h1.2M1534.6 477.1h1.2M1524.9 530h1.2M1472 451.8h1.2M1455.8 492.7h1.2M1510.5 476.3h1.2M1463.6 492h1.2M1538.9 463.4h1.2M1502.8 490.2h1.2M1467 493.7h1.2M1485.8 489.1h1.2M1426.1 488.3h1.2M1443.7 482.3h1.2M1431.4 490h1.2M1418.3 476.7h1.2M1443.3 498.7h1.2M1496.9 483.3h1.2M1440.4 484.3h1.2M1497.1 443.9h1.2M1468.8 474.4h1.2M1518.8 478.2h1.2M1505.1 497.6h1.2M1481.4 432.9h1.2M1511.2 485h1.2M1477.5 471.2h1.2M1518.2 491.3h1.2M1488.6 484.9h1.2M1521.8 495.1h1.2M1438.8 456h1.2M1466.1 511h1.2M1438.6 463.3h1.2M1476.5 497.5h1.2M1491.8 461.7h1.2M1545.3 456.4h1.2M1506.3 478.3h1.2M1474.1 440.6h1.2M1530.5 479.6h1.2M1483.2 503.1h1.2M1434.6 495.9h1.2M1473.6 463.3h1.2M1500.6 503.2h1.2M1518.7 438.1h1.2M1454.7 493.9h1.2M1456 445.1h1.2M1466.3 499.2h1.2M1496.5 482.7h1.2M1462.8 457.6h1.2M1484.1 456.7h1.2M1475.5 474.4h1.2M1538 485.1h1.2M1473.4 482.4h1.2M1472.8 480.7h1.2M1511.9 453.8h1.2M1443.6 480.2h1.2M1481.3 475.7h1.2M1420.5 507.7h1.2M1530.7 475.5h1.2M1518.4 487.5h1.2M1511.5 496h1.2M1487.2 458.2h1.2M1507.8 501.8h1.2M1450.5 489.6h1.2M1434.7 489.6h1.2M1456.4 464.8h1.2M1522.8 517.2h1.2M1457.1 534h1.2M1548.9 496.2h1.2M1496.6 481.8h1.2M1448.7 495.2h1.2M1452.4 498.8h1.2M1445 486.8h1.2M1465.7 458.7h1.2M1430.6 508.9h1.2M1488.1 515.5h1.2M1501.8 506h1.2M1488.5 465.1h1.2M1487.2 483.3h1.2M1559.4 482.5h1.2M1493.1 521.6h1.2M1464.4 463.4h1.2M1541.8 458.8h1.2M1467.5 519.5h1.2M1498.6 453.8h1.2M1501.8 470.7h1.2M1524.6 488.1h1.2M1441.9 488.8h1.2M1506.4 460.5h1.2M1451.3 468.2h1.2M1504.5 470.3h1.2M1505.3 506.9h1.2M1522.2 486.4h1.2M1483.3 516.2h1.2M1447.6 474.7h1.2M1483.8 503.1h1.2M1514.6 502.6h1.2M1456.5 455.6h1.2M1421.3 474.9h1.2M1504.2 482.4h1.2M1446.1 506.9h1.2M1471.1 491.4h1.2M1529.1 456.2h1.2M1471 486.1h1.2M1476.8 513.6h1.2M1432.4 484.8h1.2M1562.1 461.1h1.2M1439.1 499.9h1.2M1501.8 441h1.2M1534 489.9h1.2M1438.9 474.4h1.2M1509.7 471.2h1.2M1430.1 488.4h1.2M1512.8 488.7h1.2M1492.9 465.5h1.2M1475.7 486.6h1.2M1443.2 497.5h1.2M1481.7 467.8h1.2M1436.3 472.8h1.2M1464.6 477h1.2M1486.5 489.7h1.2M1547 502h1.2M1473.8 496.5h1.2M1514.7 491h1.2M1548.9 473.1h1.2M1421.1 487.1h1.2M1492.6 488.5h1.2M1482.1 459.3h1.2M1403.9 510.3h1.2M1478.1 492.3h1.2M1468.5 480.5h1.2M1480.1 468.1h1.2M1478.7 494.6h1.2M1439.6 470.9h1.2M1494.7 478.1h1.2M1496.8 483.1h1.2M1531.1 504.8h1.2M1483.2 475.4h1.2M1446.3 514.5h1.2M1508.8 451.3h1.2M1476.4 468.4h1.2M1570.1 499.4h1.2M1461.5 499.7h1.2M1464.2 473.6h1.2M1495.6 500.4h1.2M1463.3 496.3h1.2M1524.8 475.7h1.2M1442.5 476.5h1.2M1527.5 502.7h1.2M1486.2 479.4h1.2M1532.6 463.2h1.2M1455.4 476.7h1.2M1478.1 516.5h1.2M1447.7 479.8h1.2M1488.1 518.1h1.2M1530.6 470.4h1.2M1527.1 482h1.2M1422.8 471.7h1.2M1438.7 485.5h1.2M1508.6 462.1h1.2M1429.9 478.2h1.2M1449.3 502.8h1.2M1445.6 456.6h1.2M1442.4 479.4h1.2M1563.9 494.4h1.2M1466.8 446h1.2M1544.8 505.3h1.2M1477.9 461.8h1.2M1469.9 458h1.2M1443.4 469.1h1.2M1406.2 494.4h1.2M1472.2 488.9h1.2M1497.8 486.2h1.2M1481.1 473.4h1.2M1517.2 512.6h1.2M1487.9 454.5h1.2M1480.3 457.7h1.2M1514 472.2h1.2M1499.1 506.4h1.2M1448.6 491.1h1.2M1495.8 461.7h1.2M1496 473.5h1.2M1453.4 513.5h1.2M1524 480.3h1.2M1531.4 465.2h1.2M1454.5 474.7h1.2M1467.6 483.9h1.2M1472.7 476.8h1.2M1542.6 502.1h1.2M1496.9 453.9h1.2M1508.3 481.1h1.2M1459.2 465h1.2M1512 481h1.2M1472.8 495.5h1.2M1506 474.4h1.2M1497.3 467.9h1.2M1481.5 466.7h1.2M1466.3 461.1h1.2M1449.6 466h1.2M1489.2 480.6h1.2M1466.7 512.4h1.2M1458.3 484.4h1.2M1437.9 478.5h1.2M1516.6 490.1h1.2M1490 472.4h1.2M1486.7 476.1h1.2M1432.1 489h1.2M1484.4 510.8h1.2M1550.8 458.6h1.2M1570.2 508.3h1.2M1552.3 481.7h1.2M1556.3 478.7h1.2M1551.7 497.1h1.2M1552.3 482.3h1.2M1556.7 436.4h1.2M1559 462.9h1.2M1545.4 434.4h1.2M1545.1 478.9h1.2M1552 512.4h1.2M1561.6 475.9h1.2M1548.8 452.7h1.2M1545.8 434.6h1.2M1559.7 492.9h1.2M1550 508.4h1.2M1561.5 471.1h1.2M1552.1 529.3h1.2M1549.4 450.9h1.2M1572.2 533.8h1.2M1541 491.7h1.2M1554.6 482.4h1.2M1553.3 434.2h1.2M1571.1 501h1.2M1564.1 469.7h1.2M1559.2 437.6h1.2M1552.8 458.6h1.2M1567 479h1.2M1556.2 476.5h1.2M1553.6 500.5h1.2M1558.3 422.4h1.2M1556.3 483.3h1.2M1572.9 469.7h1.2M1561.8 475.3h1.2M1562.5 474.4h1.2M1560.7 505.6h1.2M1559 470.3h1.2M1549.1 449.5h1.2M1555 476.2h1.2M1547.7 508.5h1.2M1569.6 491.1h1.2M1563.3 452.3h1.2M1554.3 519.2h1.2M1551.9 435.4h1.2" stroke="#aaa" stroke-width="1.2"/>
</g>
<rect x="1388" y="349.8" width="192.6" height="192.2" stroke="#999" stroke-width="1.2" fill="none"/>
<path d="M1388 349.8L1580.6 349.8" stroke="#aaa" stroke-width="2.4" fill="none"/>
<path d="M1388 542.3H1580.6" stroke="#9a9a9a" stroke-width="2.4" fill="none"/>
<path d="M1402.8 541v2.8M1414.1 541v2.8M1420.6 541v2.8M1425.3 541v2.8M1428.9 541v2.8M1431.9 541v2.8M1434.4 541v2.8M1436.5 541v2.8M1438.5 541v2.8M1450.7 541v2.8M1461.9 541v2.8M1468.5 541v2.8M1473.2 541v2.8M1476.8 541v2.8M1479.7 541v2.8M1482.2 541v2.8M1484.4 541v2.8M1486.3 541v2.8M1498.6 541v2.8M1509.8 541v2.8M1516.4 541v2.8M1521 541v2.8M1524.6 541v2.8M1527.6 541v2.8M1530.1 541v2.8M1532.3 541v2.8M1534.2 541v2.8M1546.4 541v2.8M1557.7 541v2.8M1564.2 541v2.8M1568.9 541v2.8M1572.5 541v2.8M1575.5 541v2.8M1578 541v2.8" stroke="#555" stroke-width="1.5" fill="none"/>
<rect x="1511" y="435" width="51" height="55.8" stroke="#303030" stroke-width="1.3" fill="none"/>
<path d="M1511 490.8L1562 490.8" stroke="#000" stroke-width="2.4" fill="none"/>
<g fill="none" filter="url(#soft)">
<path d="M179.3 828.4L186.6 827.8L193.3 824.9L195.7 821.8L197.2 815.8L199.7 808.1L201 803.4L203.4 799.6L205.4 793.5L208.7 789.6L207 784.7L206.3 780.7L204.7 773.7L204.5 769.3L204.2 763.8L202.1 756.7L203.3 753.1L205.2 745.7L212 740.4L215.7 738L222 736L230.3 739.5L229 745.1L228 751.9L226.7 759.5L225.9 766.8L225.8 774.6L226.2 779.7L232.1 781.4L239 778.6L242.7 778.4L248.4 775.3L251.5 772.4L260 769.5L264.7 769.7L268.8 773.3L272.7 776.7L274.6 779.7L273.9 787.1L273.8 792.6L274 798.1L274.8 802.6L273.6 808.7L272.6 813.4L272.7 819.3L271 823.2L270.8 830.1L271.5 836.1L271.2 839.8L270.7 846.2L269.1 848.7L267.9 856L265.9 861.2L263.5 867.6L257.7 872.5L251.7 873.9L248.2 870.7L241.4 866.8L237.4 866.8L231.9 867.4L225 869L219.8 869.6L214.6 869L208.5 870.8L204.9 871.2L198.5 869.5L191.5 868.5L186.4 866.7L177.9 868.3L178.1 864.3L180 858.3L179.8 852L180.7 846.5L178.6 839.7L180.3 833Z" stroke="#7a7a7a" stroke-width="0.9" fill="none" stroke-linejoin="round"/>
<path d="M183.3 834.9L188.4 831.3L195.9 830.4L200.4 828.7L204.3 824.5L207.5 820.2L213.6 817.7L221.7 818.9L226.8 824.1L231.4 826.9L236.4 827.5L241.7 824L242.7 819L244.6 814.8L245.5 809.2L247.3 803.3L250.9 795.9L254.2 792.1L262.7 787.7L264.2 791.7L265.4 798.1L266.2 803.9L266.2 808.9L266.1 814.5L265 820.9L265.2 825.4L264.9 831.8L264.5 836.7L263.5 842L263 847.4L261.2 854.5L256.7 857.8L251.9 860.4L244.8 857.5L238.6 856.4L231.6 856.6L226.2 856.9L219.6 859.6L214.5 860L208.7 860.1L203.7 859.6L197.9 858L189 858L184.4 855.8L182.6 852.8L181.5 845.5L182.1 840Z" stroke="#7a7a7a" stroke-width="0.9" fill="none" stroke-linejoin="round"/>
<path d="M224.1 843.7L223.6 847.3L221.9 850.3L218.5 852.7L213.6 853.7L209.2 853.3L203.9 851.9L201.1 850.4L197.2 846.9L197.5 843.5L200.1 840.7L201 837.7L204.3 835.9L208.5 833.8L213.4 833.3L219.4 834.2L222.2 837L223.3 840.5Z" stroke="#7a7a7a" stroke-width="0.9" fill="none" stroke-linejoin="round"/>
<path d="M208.1 746.9L215.8 741.3L223.5 745.3L223.2 750L221.7 755.5L214.1 762.5L209.3 755.9Z" stroke="#7a7a7a" stroke-width="0.8" fill="none" stroke-linejoin="round"/>
<path d="M256.5 732.5L255.3 735.6L250.8 738L248.6 739L245.4 740.9L241.7 742L237.9 743.6L234.2 743L231.5 743.4L228.9 744L224.2 744.5L220.5 743.7L215.8 743.7L212 743.4L206.9 742.1L206.1 739.9L209.2 736.3L212.8 734L215.3 732.1L219.5 730.9L222.9 730.6L226.7 729.1L229.8 728.8L231.8 728.2L235.5 726.9L238.2 726.2L242.4 726.8L244.9 725.9L248.3 726.7L251.4 727.2L254.4 730.4Z" stroke="#888" stroke-width="0.8" fill="none" stroke-linejoin="round"/>
<path d="M250.8 733L250.3 734.8L246.4 736.9L242.2 740.2L240.1 740.9L236.8 741.4L232.4 742.5L229.2 742.9L225.5 742.4L222.7 742.9L218.7 742.1L215.4 742.3L212 741L210.9 738.9L213.5 735.9L217.1 734.4L221.6 732.1L224.1 731.3L227.4 730.2L231.2 729.9L235.2 729.5L238.6 728.6L242.3 728.1L247.7 729.9L249.5 731.1Z" stroke="#888" stroke-width="0.8" fill="none" stroke-linejoin="round"/>
<path d="M246.2 734.1L246.2 735.4L242.6 737.2L240 738.9L235.5 740.1L229.8 741.1L224.2 740.5L220.1 741.2L217.1 739.4L217 737.7L217.9 735.8L220.5 734.5L224.4 733.7L228.2 732.1L234 730.3L239.2 730.7L243.9 731.1L245 732.8Z" stroke="#888" stroke-width="0.8" fill="none" stroke-linejoin="round"/>
<path d="M241.4 734.4L241.1 735.5L239.9 736.6L237.4 738.1L234.6 738.3L230.2 739.6L227.2 739L224.3 738.6L221.3 737.9L221.8 737.2L222.3 736L223.9 735.3L227 733.9L230.1 732.6L233.3 731.9L236.6 732.1L239.2 732.1L240.5 733.3Z" stroke="#888" stroke-width="0.8" fill="none" stroke-linejoin="round"/>
<ellipse cx="255.7" cy="732.4" rx="20.6" ry="11.1" transform="rotate(0 255.7 732.4)" fill="#999" opacity="0.8" filter="url(#b2)"/>
<ellipse cx="262.6" cy="732.4" rx="12" ry="8.6" transform="rotate(0 262.6 732.4)" fill="#777" opacity="0.9" filter="url(#b2)"/>
<path d="M283.7 732.8L282.5 736.3L279.2 738.6L277.4 740.4L274.6 741.7L271.1 743.8L267.3 745L264 746.4L259.4 746.6L255.3 746L250.4 744.6L246.5 744.2L243.8 742.3L241.5 740.8L237.9 736.6L237.4 732.1L237.6 728.6L239.6 723.6L242.1 721.4L245.8 719.6L250.1 719.9L255.2 718.9L259.2 719.5L263 719.4L267.5 719.9L271.5 720.8L274.4 723.1L276.3 724.4L280.9 728.5Z" stroke="#888" stroke-width="0.8" fill="none" stroke-linejoin="round"/>
<path d="M279.4 732.2L278 736.3L274.1 738.9L269.6 741.6L265.9 743.5L263.4 744.3L259.3 744.4L255.8 743.3L251.7 742.9L249.1 741.8L244.1 739L241.8 735.8L241.2 732.5L241.4 728.9L242 724.8L244.8 722.7L248.3 721.8L252.1 721.2L256 721.5L259 721.4L262.1 721L266.3 721.9L269.1 723.3L273.8 725.9L277.6 729.3Z" stroke="#888" stroke-width="0.8" fill="none" stroke-linejoin="round"/>
<path d="M275.6 732.8L275.3 735.2L271 737.6L267.1 740.3L262.9 741.9L258.9 741.7L256.6 741.9L250.3 740.8L246.4 738.7L244.4 735L243.9 731.8L244.6 729.3L245.6 726.6L249.8 723.8L253.2 723.5L256 722.8L261.9 722.9L267.6 724.9L271.6 726.9L274.4 729.6Z" stroke="#888" stroke-width="0.8" fill="none" stroke-linejoin="round"/>
<path d="M272.9 732.5L271.9 734.9L268.5 736.3L266.2 738.8L261.6 740.4L256.3 740.1L252.5 738.1L248.8 736.3L247.2 735L247.5 731.8L247.4 730.7L248.6 727.3L251.9 725.5L256.5 725.3L260.9 725.3L266.2 726.6L268.8 728.5L271.4 729.8Z" stroke="#888" stroke-width="0.8" fill="none" stroke-linejoin="round"/>
<path d="M269.4 732.9L268.2 733.7L266.3 735.6L264.6 736.5L261.2 738.2L257.5 737.5L254.8 736.6L252.3 736.1L250.8 733.5L250.4 731.9L250.2 730.6L251.3 729.2L253.3 727.8L257 727.4L260.3 727.1L264.4 728.4L265.5 729.2L268.2 730.3Z" stroke="#888" stroke-width="0.8" fill="none" stroke-linejoin="round"/>
<ellipse cx="167.5" cy="848" rx="8.6" ry="22.3" transform="rotate(8 167.5 848)" fill="#999" opacity="0.5" filter="url(#b2)"/>
<path d="M181.3 849.5L180 853.6L179.6 856L177.6 858L176.2 861.8L173.6 865L172.2 867L170.6 870.3L166 873.3L161.1 873.6L157.7 872.1L155.2 869.3L154.7 865L154.2 861.9L154.4 859.3L154.6 855.4L154.6 852.6L155 848.8L155.7 846.7L156.4 842.4L157.7 837.8L158.3 833.5L159.8 829.5L162.8 827.2L164.4 825.7L169.3 822.1L173.3 822.2L176.8 826.3L178.7 829.3L179.3 831.9L180.7 836L181.5 840.2L181.7 842.8L182.2 846.8Z" stroke="#707070" stroke-width="0.8" fill="none" stroke-linejoin="round"/>
<path d="M180.5 849.8L179.1 854L177 858L175.1 860.9L173.6 863.4L169.7 867.8L166.1 871.3L162.7 871.6L158.1 868.8L157.1 866.6L155.7 863.7L155.3 859.6L155 854.6L155.7 850.8L156.8 847.1L157.3 842.3L157.7 838.6L159.5 835.1L160.3 831.2L164.9 827.7L169.3 824.6L173.1 824.6L176.4 828.3L177.4 830.8L179.2 833.2L179.7 837.7L180.9 840.6L180.9 845.8Z" stroke="#707070" stroke-width="0.8" fill="none" stroke-linejoin="round"/>
<path d="M178.6 849.6L177.3 853.8L175.6 856.7L173.5 861.9L170.3 865.6L166.9 868.9L162.7 868.6L159 866.9L156.7 861.9L156.9 857.6L156.7 854L157.7 850.9L158 846.9L158.2 843.3L158.8 840L160.3 835.9L161.2 833.2L164.9 829.7L168.6 826.9L172.1 827L175.9 830.6L177.6 835.8L178 837.9L178.6 841.3L178.9 845.6Z" stroke="#707070" stroke-width="0.8" fill="none" stroke-linejoin="round"/>
<path d="M177.9 849.2L176.2 852.6L175.6 855.5L172.8 859.5L169.7 863.8L166.8 866.5L162.9 866L159.7 865.2L157.9 860.3L157.1 857.3L158.4 852.8L158.9 850L158.4 846.2L159.7 844L160 841L161.7 835.4L164.9 831.3L168.3 829.6L172.2 829.5L174.3 832.6L176.2 836.5L177.5 842.5L178.3 846.4Z" stroke="#707070" stroke-width="0.8" fill="none" stroke-linejoin="round"/>
<path d="M175.5 849.1L174.3 854.5L171.9 858.7L168.8 861.8L166.4 863.9L163.5 863.5L161.5 862.9L159.3 858.6L158.7 855.3L159.7 853L160.3 846.5L160.5 841.5L162.5 836.9L165.4 834.2L168 832.2L171.1 831.6L173.3 833.9L174.9 838.2L176.2 843.3L176.9 846.1Z" stroke="#707070" stroke-width="0.8" fill="none" stroke-linejoin="round"/>
<path d="M174.5 849L172.6 853.9L170.4 856.4L169.6 859.6L166.6 860.8L164 861.9L161.6 860.7L160 857.4L159.9 851.5L160.8 847.7L161.5 842.5L164.1 838.6L165.3 836.2L168 834.3L170.2 833.9L172.7 836.7L174.5 839.9L175 844.4Z" stroke="#707070" stroke-width="0.8" fill="none" stroke-linejoin="round"/>
<path d="M173.1 849.4L172.6 852.6L170.7 855.3L169 857.7L167.2 859.2L165 858.7L162.9 858L161.9 855L161.9 851.2L162.8 847.2L163.3 843.1L163.9 840.6L166.6 837.8L168 837.3L169.6 837L171.9 839L173.4 841.5L173.2 845Z" stroke="#707070" stroke-width="0.8" fill="none" stroke-linejoin="round"/>
<path d="M171.8 848.4L171.4 851.5L169.7 854L168.9 855.2L167.5 857.2L165.8 856.4L164.1 856.1L162.7 854.1L162.5 850.1L164 847.2L163.6 844.8L165.4 841.8L166.5 839.7L167.4 839.9L170.1 839.5L171 840.4L171.4 843L172.7 844.8Z" stroke="#707070" stroke-width="0.8" fill="none" stroke-linejoin="round"/>
<path d="M170.4 848L170.3 850.5L168.6 852L168.8 853.7L167.5 854.4L165.7 854.3L164.9 854.3L163.7 851.6L163.7 849.3L164.4 847.8L165.3 845.9L165.2 843.5L166.9 842.3L167.6 841.4L168.8 841.2L170.5 842.9L171.1 843.6L170.5 846.3Z" stroke="#707070" stroke-width="0.8" fill="none" stroke-linejoin="round"/>
<path d="M170.2 848.2L168.9 849.5L167.9 850.1L167.5 850.9L167.9 852L167 851.8L166 851.4L165.5 850.9L165.7 848.7L165.4 847.9L166 846.5L165.9 845L167 845.1L168.3 843.7L168.3 843.8L168.9 844.8L169.6 845.8L169.8 846.9Z" stroke="#707070" stroke-width="0.8" fill="none" stroke-linejoin="round"/>
<path d="M254.6 833.2h1.2M232.2 807.5h1.2M210.6 849.8h1.2M228.6 795.6h1.2M198.8 777.9h1.2M263 866.9h1.2M246.4 769.9h1.2M183.2 854.5h1.2M222.4 808.7h1.2M238.4 821.5h1.2M277.7 795.4h1.2M233.5 808.7h1.2M231.3 788.6h1.2M262.8 880.1h1.2M201.9 812.9h1.2M243.7 824.3h1.2M228.7 844.9h1.2M288 762.9h1.2M203.5 821.3h1.2M229.5 736.2h1.2M246.9 770.4h1.2M223.3 829.4h1.2M199.6 864.9h1.2M235.4 811.2h1.2M243 766.4h1.2M281.6 774.1h1.2M285.1 823.3h1.2M258.1 810.7h1.2M278.1 754.7h1.2M229.1 788h1.2M246.1 844.6h1.2M254.1 776.5h1.2M187.6 762.9h1.2M274.2 832.5h1.2M245.8 866h1.2M212.4 836.7h1.2M244.6 734.9h1.2M231.9 779.8h1.2M232.5 812h1.2M252.4 855.8h1.2M298.4 749.9h1.2M240.3 877.6h1.2M297.4 800.6h1.2M270.5 770.7h1.2M261.1 749.1h1.2M208.9 793.6h1.2M210.6 779.3h1.2M235.9 802.2h1.2M241 779.1h1.2M301.9 867.7h1.2M274.8 736.5h1.2M227.9 818.4h1.2M232.8 823.2h1.2M220.9 818.3h1.2M178.9 847.3h1.2M264.1 797.9h1.2M287.9 800h1.2M245.7 784.9h1.2M228 875.4h1.2M258.7 790.5h1.2M287.4 740.5h1.2M286 840.5h1.2M191.2 870.7h1.2M239.2 773.3h1.2M201.4 809.8h1.2M189.3 850.4h1.2M293.9 875.2h1.2M272.1 790.5h1.2M224.5 750.2h1.2M263.1 792.2h1.2M280.5 748.5h1.2M245.2 755.6h1.2M239.7 804.9h1.2M281.5 855.1h1.2M292.7 761.2h1.2M265.1 836.3h1.2M210.2 785.6h1.2M270.9 748.7h1.2M299.6 751.1h1.2M252.7 728.5h1.2M267.5 797.5h1.2M178.6 850.8h1.2M229.8 842.7h1.2M288.4 842.7h1.2M260.3 785.9h1.2M246.7 832.9h1.2M257.6 780.8h1.2M274.2 770.2h1.2M229.4 794.3h1.2M264.2 825.4h1.2M289.4 845.7h1.2M245.5 808h1.2M271.1 804.3h1.2M193.8 784.3h1.2M249.8 803.8h1.2M269.9 833.3h1.2M196 756.1h1.2M301.3 744.7h1.2M236.3 776.4h1.2M282.3 760.6h1.2M224.2 784.6h1.2M206.6 794.7h1.2M246.4 841h1.2M278.2 866.8h1.2M220.7 781.3h1.2M230.8 861.4h1.2M211.4 879.8h1.2M279.5 800h1.2M255.1 763.8h1.2M274.5 806.7h1.2M239.5 745h1.2M265.4 802.6h1.2M244 862.5h1.2M267.2 746.7h1.2M252.4 861h1.2M270.9 719.4h1.2M212.5 776.3h1.2M239.9 863.2h1.2M210 868.3h1.2M295.4 758.9h1.2M294.7 877.5h1.2M244.9 832.3h1.2M263.4 846.4h1.2M235.7 790.6h1.2M274.9 817h1.2M221.3 790.5h1.2M252.3 829.8h1.2M235.6 798.3h1.2M259 766.6h1.2M217.5 768.2h1.2M274.1 847.5h1.2M225.9 827.4h1.2M235.2 825.3h1.2M289.6 822h1.2M292.4 774.6h1.2M238.7 820.5h1.2M267.2 880.2h1.2M222.9 758.4h1.2M221.9 780h1.2M229.6 814h1.2M224.9 861.3h1.2M261.9 786.2h1.2M205.9 800h1.2M276.6 754.8h1.2M236.6 815.9h1.2M265.8 790.5h1.2M207 740.8h1.2M297.3 792.8h1.2M207.7 795.8h1.2M231.7 791.9h1.2M259.1 798.7h1.2M262.5 830.1h1.2M249.7 796.8h1.2M263 762.2h1.2M264 751.4h1.2M248.8 773.6h1.2M229.5 782.9h1.2M235.4 800.5h1.2M294.9 754.3h1.2M243.4 814h1.2M239.7 785h1.2M243.8 773.8h1.2M254.9 700.3h1.2M300.1 793.6h1.2M206.6 833.2h1.2M264.8 835.7h1.2M214.7 802.1h1.2M271.7 790.5h1.2M257.5 720.5h1.2M264.6 744.2h1.2M255.3 807.4h1.2M265 859.3h1.2M289.6 787.8h1.2M215.8 871.9h1.2M285.5 807.4h1.2M249.7 845.7h1.2M219.6 826.1h1.2M220.1 825.6h1.2M211.6 793.5h1.2M274.8 797.2h1.2M230.1 833.6h1.2M267.6 828.5h1.2M245.9 750h1.2M261.1 791.4h1.2M281.2 854.4h1.2M253.1 804.2h1.2M194.8 838.8h1.2M239.4 788.8h1.2M215.4 861.1h1.2M297.8 787.3h1.2M186.3 793.2h1.2M260.2 845.5h1.2M274.4 821.2h1.2M201.6 768.2h1.2M235.1 791.8h1.2M208.2 828.6h1.2M282.1 768.6h1.2M261.8 791.4h1.2M212.5 776.3h1.2M190.1 804.8h1.2M258.6 790.9h1.2M244.6 831h1.2M250.1 845.1h1.2M234.5 797.1h1.2M254.2 830.9h1.2M273 841.8h1.2M208.5 784h1.2M276.7 789.4h1.2M247.5 762.1h1.2M225.8 859.2h1.2M180.1 789.1h1.2M227.6 839.5h1.2M210.7 779.3h1.2M193.1 858.6h1.2M253.8 841.8h1.2M248 810.4h1.2M288 794h1.2M279 873.4h1.2M291.7 788.6h1.2M261.8 709.7h1.2M170.8 857.6h1.2M246.5 758h1.2M237.8 776.7h1.2M295.2 759.6h1.2M261.1 769.5h1.2M244.3 829.7h1.2M243.7 779.4h1.2M246.2 766.6h1.2M176.2 860.9h1.2M240.7 752.2h1.2M232.4 828.1h1.2M245.1 785.4h1.2M261.5 766.4h1.2M280.8 747.8h1.2M270.6 809.6h1.2M197.2 811.4h1.2M246.4 785.9h1.2M207.4 770.7h1.2M218.4 793.9h1.2M232.5 846.4h1.2M267 772.9h1.2M219.2 846.5h1.2M216.3 836.1h1.2M219.8 754.3h1.2M224.9 785.1h1.2M207.9 841.7h1.2M197.4 763.8h1.2M229 843.4h1.2M245.5 822.9h1.2M200.5 866.5h1.2M235.1 731.4h1.2M228.7 802.5h1.2M278 765.7h1.2M233.9 763.7h1.2M241.7 846.8h1.2M215.2 737.7h1.2M229.6 757.9h1.2M240.3 820.8h1.2M234 877.5h1.2M233.5 863.2h1.2M243.5 805.7h1.2M201.1 774.6h1.2M242.9 814.4h1.2M195.6 806.5h1.2M275 806h1.2M272.8 839.1h1.2M268.3 722.7h1.2M254.9 852.7h1.2M297.2 765.7h1.2M229.4 800.2h1.2M255.4 795.8h1.2M271.2 820.8h1.2M227.4 835.2h1.2M241.8 733.9h1.2M252.8 772.3h1.2M209.7 762h1.2M234.4 794.1h1.2M221.9 777.9h1.2M261.7 762.9h1.2M234 731.2h1.2M287.4 834.2h1.2M230.9 805h1.2M217.8 767.6h1.2M210 780.5h1.2M138.9 809.6h1.2M199.2 800.7h1.2M262.8 800.3h1.2M235.9 839.6h1.2M234.2 761.2h1.2M191.1 805.8h1.2M225.8 816.1h1.2M229.1 790.2h1.2M276.3 809.8h1.2M200.3 764.9h1.2M210.4 792.3h1.2M300 809.9h1.2M238.1 798.5h1.2M260.3 832.9h1.2M226.1 823.7h1.2M188.4 806.7h1.2M234.2 837.2h1.2M205.9 753.2h1.2M229.7 845.5h1.2M228.3 796.9h1.2M281.1 819.3h1.2M270.6 839.8h1.2M267.2 831.5h1.2M271.9 843.9h1.2M264.5 782.1h1.2M179.7 802.6h1.2M196.1 826.6h1.2M265.4 820.7h1.2M291.1 853.2h1.2M205.2 815.7h1.2M187.1 792.4h1.2M258.3 859.6h1.2M256.5 816.5h1.2M196.8 850.8h1.2M242.8 744h1.2M242.4 845.8h1.2M193.2 833.7h1.2M245.8 831.9h1.2M176.9 796.8h1.2M257.9 849.2h1.2M269.8 759.3h1.2M265.3 750.4h1.2M157.4 775.4h1.2M141.5 761.2h1.2M147.9 793.9h1.2M145.3 786.5h1.2M145.9 814.2h1.2M203.6 741.9h1.2M170 818.6h1.2M175.2 789.1h1.2M119.9 824.2h1.2M176.5 760.1h1.2M212.5 779.7h1.2M137.7 810.1h1.2M167.4 829.7h1.2M190.8 786.9h1.2M166.9 846.6h1.2M166.4 839.5h1.2M175.9 795.2h1.2M204.3 766.2h1.2M129.8 805.5h1.2M169.2 801.4h1.2M184.2 832.5h1.2M134.2 820.8h1.2M193.7 805.9h1.2M154.2 795.5h1.2M170.3 816.1h1.2M160.7 795.2h1.2M149.7 849.1h1.2M157.6 843.2h1.2M150.5 814.5h1.2M179.9 801.8h1.2M159.3 792.6h1.2M158.6 852.6h1.2M197.7 815.3h1.2M175.8 788.9h1.2M175.4 765.5h1.2M177.5 805.2h1.2M190 828.1h1.2M186.6 873.4h1.2M146.3 772.5h1.2M145.3 773.7h1.2M166.2 809.1h1.2M228.4 806.6h1.2M155.1 880.8h1.2M186.3 835.7h1.2M180.6 773.2h1.2M164.8 828.7h1.2M207.7 792.2h1.2M148.9 822.7h1.2M180.9 800.6h1.2M167.5 783.7h1.2M174.7 797.7h1.2M151.8 814.9h1.2M179.5 804.5h1.2M154 811.1h1.2M172 800.4h1.2M183.3 788.2h1.2M180.6 763h1.2M189.5 731.8h1.2M208.5 770.7h1.2M229.8 733.8h1.2M214.4 775.2h1.2M187.7 764.2h1.2M212.7 733.7h1.2M242.9 760.5h1.2M175.2 774.4h1.2M243.3 738.7h1.2M218.5 742.1h1.2M173.8 764.2h1.2M212.4 764.9h1.2M199.9 770h1.2M178.8 797.2h1.2M205.8 771.6h1.2M186.6 764.3h1.2M155.4 772.7h1.2M205.8 777.2h1.2M205.7 776.5h1.2M229.6 772.7h1.2M246.1 739.8h1.2M192.9 774.5h1.2M253.4 782.1h1.2M192.4 754.5h1.2M148.7 791.7h1.2M163.2 766.9h1.2M201.1 764h1.2M185.8 780.8h1.2M192.2 767.8h1.2M182.4 786.3h1.2M234.3 754.2h1.2M172.1 744.9h1.2M196.8 773.1h1.2M175.8 770h1.2M201.6 732.3h1.2M232.8 748.1h1.2M199.5 748.1h1.2M226.4 754.3h1.2M223.5 758.5h1.2M208.2 770h1.2M202.5 766.8h1.2M205.6 749.4h1.2M209 742.4h1.2M190.6 743.1h1.2M205.7 744.7h1.2M215 758.6h1.2M174.7 769h1.2" stroke="#adadad" stroke-width="1.2"/>
</g>
<rect x="109.8" y="692.4" width="195.2" height="193.6" stroke="#6a6a6a" stroke-width="1.3" fill="none"/>
<path d="M109.8 692.4L109.8 886" stroke="#333" stroke-width="1.8" fill="none"/>
<path d="M109.8 886.3H305" stroke="#9a9a9a" stroke-width="2.4" fill="none"/>
<path d="M124.8 885v2.8M136.2 885v2.8M142.9 885v2.8M147.6 885v2.8M151.3 885v2.8M154.3 885v2.8M156.8 885v2.8M159 885v2.8M160.9 885v2.8M173.3 885v2.8M184.7 885v2.8M191.4 885v2.8M196.1 885v2.8M199.8 885v2.8M202.8 885v2.8M205.3 885v2.8M207.5 885v2.8M209.4 885v2.8M221.8 885v2.8M233.2 885v2.8M239.9 885v2.8M244.6 885v2.8M248.3 885v2.8M251.3 885v2.8M253.8 885v2.8M256 885v2.8M257.9 885v2.8M270.4 885v2.8M281.7 885v2.8M288.4 885v2.8M293.1 885v2.8M296.8 885v2.8M299.8 885v2.8M302.3 885v2.8" stroke="#888" stroke-width="1.5" fill="none"/>
<rect x="231" y="715.4" width="46" height="32" stroke="#303030" stroke-width="1.2" fill="none"/>
<path d="M231 747.4L277 747.4" stroke="#111" stroke-width="2.2" fill="none"/>
<g fill="none" filter="url(#soft)">
<path d="M391.2 823.6L397.3 820.9L405.5 819.2L410.6 818.6L417.8 818.9L423.3 820.3L428.2 821.5L433.3 825.2L437.1 830.3L441.1 835.7L440.5 839.3L437 844.3L435.4 849.1L430.6 853.3L426.2 857.3L422.4 861.2L418.2 866L413.8 869.3L411 871.2L403.9 871.5L400.4 865.4L396.7 857.9L394.8 853.6L393 846.4L391.8 841.6L390.8 835.3L390 828.2Z" stroke="#444" stroke-width="1" fill="none" stroke-linejoin="round"/>
<path d="M394.3 825L398.8 822.3L405.4 820.6L412.6 821.5L420.6 822.5L425.2 824.6L429.5 827.2L433.2 830.6L435.3 834.9L434.4 840.7L430.9 847.4L425.9 853.2L420.5 857.2L414.7 861.6L409.6 866.2L404.4 866.2L401.7 860.8L399.1 855.2L396.7 849.6L395 844.7L394 839.6L393.4 832.8Z" stroke="#808080" stroke-width="0.8" fill="none" stroke-linejoin="round"/>
<path d="M395.8 827.2L400.4 824.2L406.5 823.1L412.7 822.5L418.9 823.4L425.1 828.6L431.5 835.1L430.3 839.9L426.5 845.2L423.5 850.5L418 854L413.7 858.5L409.1 861.2L404.5 860.9L401.8 856.5L400.3 851.6L398.2 846L396.4 838.7L395.4 833.1Z" stroke="#808080" stroke-width="0.8" fill="none" stroke-linejoin="round"/>
<path d="M398 827.6L405.8 825.6L412 824.6L416.3 825.8L422.7 828.8L427.9 835L423.5 843L420.3 847.7L416.1 850.3L409.6 856.9L405 856.4L401.2 848.7L398.8 843.4L397.6 838.1L396.8 832.7Z" stroke="#808080" stroke-width="0.8" fill="none" stroke-linejoin="round"/>
<path d="M399.2 829.6L406.2 827.2L415.3 826.8L419.7 830.1L423.9 834.8L420.5 842.1L415.2 847.9L408.6 853.2L405.3 853.3L402.3 845.7L399.5 837.3Z" stroke="#808080" stroke-width="0.8" fill="none" stroke-linejoin="round"/>
<path d="M401.4 830.1L406 828.7L413.8 828.6L417.6 830.4L421.2 834.4L418.2 840.5L413.4 844.7L409.1 849L405.7 849.5L403.5 844.2L401.6 836.9Z" stroke="#808080" stroke-width="0.8" fill="none" stroke-linejoin="round"/>
<path d="M402.1 831L406.8 830L412.1 830.1L415.1 831.9L417.3 834L415.5 838.7L411.3 842.7L408.7 845.1L406.4 845.5L404.4 841.9L402.8 835.9Z" stroke="#808080" stroke-width="0.8" fill="none" stroke-linejoin="round"/>
<ellipse cx="405.5" cy="836" rx="12" ry="14.6" transform="rotate(0 405.5 836)" fill="#999" opacity="0.6" filter="url(#b2)"/>
<path d="M410.8 833.2L410.2 835.2L409.1 836.3L408.9 837L407.8 837.4L405.9 838.4L404.9 837.3L403.5 836.3L403.6 835.3L403.2 833.6L403.4 832.1L404.4 830.4L405.3 830L406 828.8L407.8 829.4L408.6 829.4L409.9 830.8L410.5 831.8Z" stroke="#555" stroke-width="0.9" fill="none" stroke-linejoin="round"/>
<path d="M408.8 833.1L408.6 834.5L408.1 834.7L408 835.4L407.1 836.2L406.2 836.2L405.3 835.9L405.2 835.1L404.6 833.9L404.6 833.4L404.5 832.5L405.2 831.4L405.9 831.7L406.7 830.8L407.6 831.2L408.4 831.6L408.9 832.2L409.4 832.4Z" stroke="#555" stroke-width="0.9" fill="none" stroke-linejoin="round"/>
<ellipse cx="393.5" cy="834.3" rx="1.4" ry="12" transform="rotate(0 393.5 834.3)" fill="#555" opacity="0.7" filter="url(#b1)"/>
<ellipse cx="493.7" cy="730.7" rx="10.3" ry="7.2" transform="rotate(-10 493.7 730.7)" fill="#909090" opacity="0.8" filter="url(#b2)"/>
<path d="M510.6 727.8L510.1 731L508.4 735.5L504 737.4L499.6 740.2L494.2 740.2L489 740L485.3 738.5L481.8 735.9L478.7 733.3L478.6 729.4L481.6 725.9L486.3 723.2L490.9 721.2L496.7 722.1L501.6 721.9L506.2 721.9L509.6 724.4Z" stroke="#707070" stroke-width="0.9" fill="none" stroke-linejoin="round"/>
<path d="M508.5 728.9L508 731.6L507 734.6L503.3 736.2L498.6 738.3L494.8 739.8L490.8 738.4L486.9 737.5L483.7 735.9L481.1 733.2L482 729.4L483.5 727L487.8 723.9L491.8 723.5L496.5 722.9L499.6 723.2L504.7 723.3L507.9 725.5Z" stroke="#707070" stroke-width="0.9" fill="none" stroke-linejoin="round"/>
<path d="M506.3 728.8L506.1 731.6L505.1 733.2L502.2 735.4L498.3 736.6L494.6 737.6L491.3 736.9L488.5 735.9L486.1 734.6L483.6 732.8L484.5 730.3L486.1 727.9L488.8 725.2L492.6 724.2L495.8 724.7L499.4 724L502.7 725L505.8 726.8Z" stroke="#707070" stroke-width="0.9" fill="none" stroke-linejoin="round"/>
<path d="M504.2 728.9L504 731.6L503.2 733.6L500 734.3L497.4 736L495.2 736.3L491.8 735.8L490.4 734.3L488.7 734L487 732.8L486.5 729.9L487.9 728.2L490.5 726.4L492.9 725.8L496.2 725.2L499 725.9L501.4 726L503.8 727.2Z" stroke="#707070" stroke-width="0.9" fill="none" stroke-linejoin="round"/>
<path d="M501.4 729.1L501.3 730.5L500.4 732.6L498.9 734L497.1 734.7L494.7 735.3L493.5 735L492 733.7L489.8 733.3L489.5 731.8L489.2 730.5L490.4 729.4L491.9 727.3L493.7 727.2L495.4 727.3L497.5 726.6L499.6 727.5L501.4 728Z" stroke="#707070" stroke-width="0.9" fill="none" stroke-linejoin="round"/>
<path d="M499.2 730.2L499.7 730.4L498.4 731.7L497.4 732.1L496.3 732.5L494.7 733.1L493.9 733.2L493.6 733.1L492.1 731.8L491.5 731.3L491.5 731L492.4 730.1L493.5 729.2L495 728.8L495.9 728.6L497.4 728.5L498 728.7L498.7 729.5Z" stroke="#707070" stroke-width="0.9" fill="none" stroke-linejoin="round"/>
<path d="M434.1 811.7h1.2M444.1 759.3h1.2M445.6 794.1h1.2M467.4 816.4h1.2M466.2 822.1h1.2M459.8 807.9h1.2M465.9 789.1h1.2M460.6 823.2h1.2M396 805.5h1.2M444.6 798.3h1.2M433.3 813.6h1.2M489.4 871.8h1.2M484.1 791.2h1.2M508.9 858.7h1.2M445.1 784.2h1.2M418.1 803.1h1.2M467.7 799.5h1.2M461.2 836.9h1.2M449.5 833.4h1.2M518.7 766.2h1.2M502.5 794.9h1.2M493.1 874.1h1.2M483.3 764.8h1.2M517.6 792.7h1.2M495.3 850.3h1.2M453.9 862.1h1.2M416.9 871.8h1.2M460.7 807.9h1.2M483.6 836.3h1.2M465.3 779.1h1.2M514.3 739.6h1.2M511.8 768.8h1.2M475.5 834.1h1.2M397.5 820.7h1.2M486.6 806h1.2M516.1 830.8h1.2M444.3 794.7h1.2M447.8 752.6h1.2M521.8 734.7h1.2M527.3 840.7h1.2M477.4 797.1h1.2M467.5 879.3h1.2M455.6 826h1.2M529.7 834.7h1.2M489.9 835.1h1.2M469.7 867.9h1.2M507.6 835.1h1.2M467.1 847.8h1.2M473.7 771.2h1.2M495.9 724.4h1.2M503.8 807.2h1.2M464.1 796.9h1.2M448.9 812.6h1.2M455.2 879.9h1.2M458.2 804.5h1.2M479.2 811.1h1.2M425.4 848.9h1.2M475.6 841.2h1.2M485.1 833.8h1.2M529.4 832.3h1.2M521.6 868.2h1.2M392.4 855.3h1.2M528 793.7h1.2M459.3 802.5h1.2M453.1 792.6h1.2M490 760.1h1.2M485.5 791.4h1.2M388 824.2h1.2M467.1 777.1h1.2M408.7 870.3h1.2M463.3 793h1.2M456.9 843.4h1.2M445.9 853.5h1.2M479.8 818.1h1.2M469.4 773.3h1.2M521.2 820.7h1.2M449.9 787.6h1.2M491.7 771.6h1.2M443.5 763.3h1.2M439.2 801h1.2M451.3 837.9h1.2M463.6 830.6h1.2M484.5 784h1.2M502.7 821.1h1.2M496.4 766.8h1.2M478.4 830.1h1.2M430.3 848.6h1.2M456.2 804.1h1.2M483.6 739.5h1.2M477.3 847.6h1.2M492.7 795.1h1.2M468 779.9h1.2M486.5 784.8h1.2M430.5 778.9h1.2M449.9 797.9h1.2M451.4 841.7h1.2M429.1 812.6h1.2M436.5 817.7h1.2M489.8 774.7h1.2M428.3 825.8h1.2M434 816.9h1.2M465.7 818.7h1.2M444 816h1.2M458 829.7h1.2M509.5 836.4h1.2M472 815.3h1.2M498.9 803.5h1.2M461.4 846.2h1.2M477.2 798.3h1.2M450.6 825.7h1.2M436 845.4h1.2M444.6 762h1.2M442.9 817.8h1.2M419.3 786.1h1.2M456.3 822h1.2M435.8 851.3h1.2M434 877.2h1.2M463.4 774.2h1.2M461.9 745.3h1.2M477.3 742.1h1.2M480 848.6h1.2M511.2 785.8h1.2M518 778.9h1.2M448.3 840.8h1.2M443.6 807.3h1.2M511.8 772.7h1.2M495.4 816.2h1.2M485.8 862.3h1.2M483.5 826.1h1.2M503.9 799.1h1.2M473.9 863.8h1.2M491.8 817.7h1.2M446.8 865.8h1.2M510.8 788.1h1.2M451.4 802.1h1.2M467.9 821.1h1.2M472.1 776.8h1.2M478.4 788.7h1.2M515.5 777.6h1.2M430 813.3h1.2M463.9 854.1h1.2M447.2 862.6h1.2M493.5 829h1.2M482.3 795.7h1.2M497.5 839.2h1.2M459.9 796.1h1.2M447.6 851.2h1.2M498.9 762.6h1.2M441.1 822.1h1.2M461.1 833.7h1.2M454.6 827h1.2M450.4 834.5h1.2M437.5 782.8h1.2M453.1 868.4h1.2M501.9 782.4h1.2M470.9 789h1.2M483.3 817.7h1.2M453.2 861.7h1.2M473.8 847.1h1.2M466.3 788.5h1.2M462.5 852.9h1.2M465.8 806.5h1.2M504.4 824.1h1.2M495.1 841.3h1.2M473.3 735.8h1.2M474.7 808.9h1.2M461.1 755.4h1.2M451.2 802h1.2M456.5 804.2h1.2M396.1 807.4h1.2M469.5 739h1.2M505.9 800.7h1.2M479.3 855h1.2M464.6 786.5h1.2M517.5 857.2h1.2M476.4 807.9h1.2M438.1 801.6h1.2M429.2 862.1h1.2M490.9 782.1h1.2M485.2 844h1.2M498.9 811.7h1.2M434.5 805.4h1.2M482.9 776.3h1.2M515.1 853.4h1.2M516.3 771.2h1.2M440 810h1.2M455.5 811.5h1.2M431.5 795.2h1.2M435.1 831.7h1.2M503.9 785.5h1.2M450.2 803.5h1.2M503.2 765.5h1.2M471.8 817.7h1.2M409.6 867.9h1.2M516.3 711.5h1.2M465.7 862.8h1.2M463.2 824.3h1.2M446.4 818.5h1.2M506.9 756.1h1.2M525.3 831.5h1.2M430.7 804.5h1.2M509 832.9h1.2M484.5 827.3h1.2M456.9 865.6h1.2M446.2 877.6h1.2M503.9 792.1h1.2M471.9 835h1.2M437.7 827.2h1.2M524.5 845.9h1.2M519.4 824.1h1.2M449.3 803.7h1.2M489 843.7h1.2M391.2 809.8h1.2M440.5 783.2h1.2M447 791.1h1.2M454 871.5h1.2M453.9 813.2h1.2M506.4 802.7h1.2M472.5 850h1.2M469.3 811.5h1.2M472.7 829.9h1.2M445.5 812.3h1.2M455.9 868.6h1.2M453.6 817.4h1.2M496.8 815.4h1.2M436.3 795.4h1.2M460.3 798.3h1.2M503.5 838.8h1.2M485.2 839.5h1.2M437.2 852.4h1.2M531.8 802.7h1.2M491.2 816.4h1.2M465.1 761.6h1.2M445.1 761h1.2M444.6 875.4h1.2M490.7 783.3h1.2M521.6 876h1.2M481.3 822.4h1.2M447.2 778.4h1.2M467.7 868.5h1.2M505.3 798.9h1.2M476.7 780.1h1.2M474.8 769.2h1.2M513.4 867.9h1.2M391.9 826.2h1.2M498 814.1h1.2M405.5 850.1h1.2M484.3 833.2h1.2M493.1 815.5h1.2M411.6 811.4h1.2M444.3 781.1h1.2M453.1 795.4h1.2M462.9 779.7h1.2M476.1 830.8h1.2M436.8 849h1.2M520.4 798.4h1.2M469.8 841.4h1.2M487.9 816.2h1.2M487.2 784.6h1.2M498.5 772.6h1.2M456.7 740.6h1.2M487.9 851.7h1.2M525 833.6h1.2M444.6 754.5h1.2M496.2 817.5h1.2M408.5 858.7h1.2M471.8 859.9h1.2M461.1 791.5h1.2M494.1 818.3h1.2M475 821.7h1.2M481.5 814.2h1.2M502.9 878.2h1.2M427.6 770.5h1.2M472.8 791.2h1.2M431.5 767.3h1.2M529.9 743.6h1.2M504 873.4h1.2M454.8 831.2h1.2M491.1 786h1.2M461.9 876.5h1.2M455.8 849.6h1.2M460.4 796.8h1.2M499.1 824.8h1.2M501.4 748.1h1.2M413.8 835.5h1.2M448.9 818.3h1.2M518.8 777.5h1.2M509.3 822.2h1.2M512.1 763.7h1.2M408.8 857h1.2M453.1 800.3h1.2M453.6 871.4h1.2M497.2 875.1h1.2M457.2 834.7h1.2M488.9 716.9h1.2M493.1 762.6h1.2M428.3 838.4h1.2M472.4 727.6h1.2M475.8 773h1.2M453.8 775.7h1.2M467.4 870.6h1.2M513.4 789.2h1.2M519.9 765.3h1.2M452.4 760.6h1.2M468.3 877.9h1.2M481.6 796.1h1.2M522.6 860.9h1.2M430.8 777.1h1.2M463.8 841.8h1.2M434.6 816h1.2M493.5 753.8h1.2M421.7 819.2h1.2M454.1 843.8h1.2M473.8 755.2h1.2M520 781.8h1.2M458.7 855h1.2M486.1 829.7h1.2M457.9 843.8h1.2M457.3 833.5h1.2M491.4 806.2h1.2M520.9 772.6h1.2M531.8 793.7h1.2M486.3 826.5h1.2M527.2 798.5h1.2M519.7 785.4h1.2M389.4 845h1.2M482.8 765.8h1.2M402.3 851.2h1.2M447.3 784.1h1.2M434.3 836.8h1.2M480.8 843.9h1.2M486.3 837.5h1.2M421.7 800.3h1.2M439 830.7h1.2M509.6 843.8h1.2M446 845.5h1.2M478.2 821.9h1.2M510.3 740.4h1.2M495.1 800.6h1.2M463.4 785.8h1.2M472 819.7h1.2M452.6 804.2h1.2M435.2 800.1h1.2M452.3 789.4h1.2M490.8 792.2h1.2M404.6 791.9h1.2M487.8 832.3h1.2M451.7 796.4h1.2M432.3 765.8h1.2M476.2 735h1.2M521.1 844.3h1.2M472.6 815.4h1.2M500.2 816.8h1.2M431.3 815.1h1.2M530.6 766.7h1.2M411 845.4h1.2M511.1 785.9h1.2M483 840.5h1.2M474.9 805.6h1.2M453.3 845.3h1.2M446.2 811.3h1.2M462.1 874.7h1.2M399.8 810.6h1.2M429.6 809.6h1.2M461.1 852.7h1.2M483.6 806h1.2M464.2 767.9h1.2M454.3 815.5h1.2M473.2 775.6h1.2M463.5 789.1h1.2M479.1 805.2h1.2M466.3 837.3h1.2M507.3 779.4h1.2M516.2 809.2h1.2M371 831.1h1.2M491.5 788h1.2M456.7 760.7h1.2M504.3 838h1.2M466.3 845.4h1.2M515.4 818.1h1.2M418.3 787.2h1.2M506.6 759.6h1.2M459.2 794.4h1.2M391.5 832.3h1.2M457.6 844h1.2M478.8 732h1.2M441.7 818.5h1.2M463.5 870.8h1.2M467.7 836.3h1.2M423.9 781.7h1.2M475.6 802.4h1.2M424.5 803.9h1.2M445.8 774.6h1.2M474.8 874.9h1.2M399.9 815.6h1.2M502.8 767.1h1.2M482.2 876.1h1.2M448.7 854.7h1.2M462.2 856.1h1.2M525 813.5h1.2M440.6 791.4h1.2M484.9 815.9h1.2M483.5 750.4h1.2M460.5 874.9h1.2M400.1 835.5h1.2M501.1 861.3h1.2M437.5 765.9h1.2M452.7 866h1.2M491.7 783.1h1.2M467.8 829.7h1.2M442.2 856h1.2M435.7 837.7h1.2M485.3 850.6h1.2M491.5 765.5h1.2M501.4 808.1h1.2M500 849.6h1.2M490.6 844.6h1.2M518.7 853.6h1.2M497.3 832.2h1.2M466.7 817.2h1.2M448.6 817.4h1.2M438.7 783.4h1.2M479 798.4h1.2M500.3 767.5h1.2M479 804.3h1.2M482.5 786.3h1.2M519.2 865.4h1.2M514 836.8h1.2M489 824.2h1.2M398.2 820.9h1.2M511.1 778.3h1.2M479.4 783.9h1.2M371.2 833.1h1.2M479.2 785.3h1.2M484.6 820.5h1.2M517.3 780.4h1.2M442.3 833.8h1.2M401.2 823.2h1.2M504.8 749.6h1.2M465.2 755.9h1.2M484.8 769h1.2M502.5 782.2h1.2M486.3 811h1.2M503.9 862.2h1.2M520 869.6h1.2M455.6 760h1.2M465.7 775.1h1.2M501.9 826.9h1.2M417.8 815.5h1.2M468.9 799.2h1.2M512.2 833.1h1.2M462.8 802.4h1.2M474.1 856.1h1.2M437.7 827.1h1.2M412.5 849.1h1.2M464.2 799.7h1.2M431.6 842.9h1.2M485.5 867.8h1.2M423.5 839.1h1.2M531.5 735.1h1.2M483.6 836h1.2M477 800.3h1.2M499.8 768.7h1.2M501.5 829.5h1.2M488.7 736.1h1.2M450.8 810.2h1.2M471.3 787.7h1.2M434.4 811.5h1.2M465.6 853.9h1.2M461 815.1h1.2M441.1 805.3h1.2M471.8 769.6h1.2M454.1 827.7h1.2M455.2 753.7h1.2M473.6 835h1.2M516.4 789.2h1.2M442.1 785.3h1.2M469.8 748.1h1.2M480.7 797.3h1.2M465 838.5h1.2M472.4 834.3h1.2M499.5 835.2h1.2M479.5 851.7h1.2M460.4 789.6h1.2M378.4 816.9h1.2M482 826.2h1.2M468.5 817.6h1.2M490.4 766.7h1.2M474.2 811.1h1.2M478.6 823.7h1.2M496.5 837.6h1.2M496.5 774.9h1.2M523 796h1.2M492.8 792.5h1.2M498.1 814.4h1.2M443.9 823.7h1.2M508.1 845.5h1.2M433.9 848.5h1.2M524.5 791.7h1.2M470.6 799.7h1.2M449.2 830.1h1.2M506.6 781.4h1.2M455.7 857.3h1.2M529.4 810.4h1.2M404.9 814.3h1.2M467.4 768.9h1.2M519.7 799.6h1.2M480.9 803.2h1.2M470 765.7h1.2M458.3 800.2h1.2M501.9 784.4h1.2M381.3 839.4h1.2M444.5 781.3h1.2M467.1 744.7h1.2M485.4 801.8h1.2M422.1 813.9h1.2M467.9 856h1.2M394.3 813.5h1.2M438.4 815.6h1.2M448.2 799.4h1.2M461.1 787.5h1.2M465.4 784.6h1.2M483.3 840.3h1.2M458.1 787.8h1.2M364 836.3h1.2M432.5 820h1.2M476.4 729.1h1.2M365.6 847.8h1.2M485.3 839.5h1.2M457.2 809.9h1.2M421.5 794.6h1.2M484.1 871.4h1.2M430.9 835.9h1.2M472.7 871.3h1.2M453.2 804.4h1.2M469 775.2h1.2M521.1 717.7h1.2M426.1 802.8h1.2M423.2 775h1.2M500.9 841.1h1.2M465.1 829.7h1.2M430.7 838h1.2M476.9 788.4h1.2M515.6 719.6h1.2M498.8 761.1h1.2M455.9 820.6h1.2M473.9 789.5h1.2M508.7 871.6h1.2M472.2 842h1.2M480.3 779.9h1.2M497.1 868.9h1.2M460.5 788.9h1.2M502.3 756.4h1.2M525.1 830.9h1.2M494.4 840h1.2M451.1 841.6h1.2M469.7 831.7h1.2M472.9 785.2h1.2M523.5 873.9h1.2M473.7 823.5h1.2M468.1 789.7h1.2M499.8 809.1h1.2M470.9 818.7h1.2M505.5 777.2h1.2M471.1 819.2h1.2M501.2 848.1h1.2M471.4 791h1.2M354.1 847.6h1.2M429.5 809.7h1.2M455.1 809.7h1.2M530.9 845.4h1.2M471.1 836h1.2M494.9 783.7h1.2M419.7 779.4h1.2M490.2 803.5h1.2M486.8 815.8h1.2M495.2 878.3h1.2M501.2 740.8h1.2M444.5 847.5h1.2M425 806.7h1.2M424.3 819.1h1.2M470.9 769.3h1.2M468.1 855h1.2M480.8 864.1h1.2M492 840.6h1.2M480.6 793.8h1.2M488.3 851.5h1.2M462 744.5h1.2M413.3 818.9h1.2M477.1 860.2h1.2M498 842.9h1.2M526.4 876.4h1.2M484.7 778.2h1.2M528.6 824.9h1.2M502.8 841.2h1.2M455.9 831.3h1.2M464.1 809.7h1.2M452.1 843.6h1.2M479.5 740.2h1.2M442 851.2h1.2M478.7 844.4h1.2M500.3 826.1h1.2M460.1 854.5h1.2M506.4 775.9h1.2M454.4 815.3h1.2M493.5 737.2h1.2M479.9 798.5h1.2M497.8 837.1h1.2M507.5 800.4h1.2M461 772h1.2M501.2 788.5h1.2M469.7 834.1h1.2M520.1 863.1h1.2M467.4 847.5h1.2M499.1 840.9h1.2M389 855.7h1.2M459.7 806.6h1.2M451 831.3h1.2M452.1 827h1.2M448.6 838.2h1.2M429.6 839.1h1.2M475.3 832h1.2M417.4 800.5h1.2M489.2 848.3h1.2M475.9 822.5h1.2M501.6 804h1.2M507.1 835.4h1.2M522.7 849.6h1.2M435.7 828.4h1.2M432 814.3h1.2M466.7 837h1.2M514.9 804h1.2M426.6 865.9h1.2M495.6 789.7h1.2M427.4 817.7h1.2M447.4 851.7h1.2M492 727.8h1.2M530.2 788.5h1.2M382.7 819.1h1.2M436.7 841.8h1.2M479 772.8h1.2M473.1 832.4h1.2M471.7 862.7h1.2M376.9 827.3h1.2M511.2 853.2h1.2M469.7 766.3h1.2M494.2 773.9h1.2M452.8 787.8h1.2M463.7 783.1h1.2M468 808.7h1.2M442.5 841.7h1.2M452.7 796h1.2M491.1 824.7h1.2M399.5 827.1h1.2M466.4 832.4h1.2M464.4 876.5h1.2M461.9 772.2h1.2M436.9 813.2h1.2M495.5 823h1.2M435.5 794.3h1.2M487.7 872.4h1.2M465.9 810.7h1.2M508.6 864.7h1.2M414.7 845h1.2M477.1 830.5h1.2M480.2 754.4h1.2M465.5 816.4h1.2M347.6 859.4h1.2M398.1 843.4h1.2M378.2 862.5h1.2M361.7 862.7h1.2M406.9 855.2h1.2M392.9 846.4h1.2M401.3 847.2h1.2M390.5 846.4h1.2M374.1 838.6h1.2M386.8 848.1h1.2M374.3 837.6h1.2M407.6 853.4h1.2M430.1 855.9h1.2M372.4 846.3h1.2M407.5 867.9h1.2M388.4 830.5h1.2M398.7 866.8h1.2M415.3 862.5h1.2M364.7 868.5h1.2M368.6 854.5h1.2M399.6 877.7h1.2M404.3 819.9h1.2M417.6 863.6h1.2M381.6 836.6h1.2M422.1 842.6h1.2M363.9 851.2h1.2M370.1 855.1h1.2M401.8 864.6h1.2M382.8 825.8h1.2M387.8 832.3h1.2M384.9 846.9h1.2M382.1 842.6h1.2M375.8 858.7h1.2M389.8 870.4h1.2M387.6 832.8h1.2M385.1 869.7h1.2M405.3 855.5h1.2M407.5 880.6h1.2M403.7 872.4h1.2M433.8 835.3h1.2M375.7 842h1.2M387.8 852.7h1.2M380.3 873.9h1.2M384.8 835.3h1.2M387.3 838.4h1.2M387.6 823.9h1.2M391.9 873.6h1.2M380.6 847.5h1.2M368.5 849.3h1.2M405 840.7h1.2M349.8 852.9h1.2M375 830.7h1.2M369.2 828.4h1.2M363.6 847.2h1.2M353.8 864h1.2M413.7 857.4h1.2M378.4 810.5h1.2M395.7 814.6h1.2M420.3 869.7h1.2M410 870.3h1.2M514.9 736.3h1.2M528.8 738.4h1.2M525.9 729.5h1.2M513.9 731.2h1.2M519.5 730.1h1.2M515.2 773.9h1.2M530.8 767.1h1.2M519.4 775.8h1.2M518.1 724.5h1.2M519 753.9h1.2M514.8 733h1.2M527.3 708.8h1.2M524 706.1h1.2M525 754h1.2M527.4 738.3h1.2M514.2 741h1.2M516.4 743.8h1.2M529 784.8h1.2M524.2 723.8h1.2M521.3 779.1h1.2M517.8 743.1h1.2M510.3 763.9h1.2M529.6 711.7h1.2M518.9 736.7h1.2M520.3 738.2h1.2M514.1 735h1.2M517.8 771.6h1.2M507 757.1h1.2M526.4 756.8h1.2M509.2 760.4h1.2M531.4 728.7h1.2M516 729.3h1.2M528 737.3h1.2M513.6 752.9h1.2M511.3 733.1h1.2M513.8 772.4h1.2M520.7 716.9h1.2M530.4 733.4h1.2" stroke="#adadad" stroke-width="1.2"/>
</g>
<rect x="341.8" y="691.6" width="193.2" height="192.4" stroke="#777" stroke-width="1.3" fill="none"/>
<rect x="467.6" y="715" width="47.8" height="32.4" stroke="#303030" stroke-width="1.2" fill="none"/>
<path d="M467.6 747.4L515.4 747.4" stroke="#111" stroke-width="2.2" fill="none"/>
<g fill="none" filter="url(#soft)">
<ellipse cx="257.9" cy="1002.3" rx="16.3" ry="8.9" transform="rotate(-8 257.9 1002.3)" fill="#909090" opacity="0.8" filter="url(#b2)"/>
<path d="M277.1 999.5L277.4 1003.6L274.2 1007.1L270.1 1010.3L267.7 1011.9L264 1013.7L260.6 1014L256.4 1014.8L252.5 1014.6L250 1013.7L244.9 1011.9L240 1008.9L237.3 1004.4L240.2 1000.5L242.9 997.6L247.9 993.3L250.3 992.1L253.4 990.7L257.1 990.3L260.6 989.7L264 989.1L268.7 989.8L272 989.6L274.6 990.8L277.4 994.7Z" stroke="#707070" stroke-width="0.9" fill="none" stroke-linejoin="round"/>
<path d="M274.8 999.3L274.2 1003.2L272.6 1006.3L268.4 1009.3L263.7 1011.5L259.7 1012.7L256.8 1013.5L253.3 1013.4L250.2 1012.3L246.2 1010L242.7 1008.1L240 1004.5L242.2 1000.3L244.7 997.8L249.3 994.7L254.3 992.7L257 992.5L261 991.5L263.2 991L267.4 990.9L269.8 991.2L273.2 992.7L275 996.2Z" stroke="#707070" stroke-width="0.9" fill="none" stroke-linejoin="round"/>
<path d="M273 1000.6L272.7 1002.7L271 1006.2L267.6 1008.5L262.8 1010.4L257.6 1011.7L252.2 1010.5L247.6 1008.7L244.7 1007.1L242.6 1003.8L245 1000.5L247.7 998.7L250.5 996.4L255.2 993.4L260.7 992.9L266.4 993L270.5 993.4L272.3 997.2Z" stroke="#707070" stroke-width="0.9" fill="none" stroke-linejoin="round"/>
<path d="M270.7 1000L269.6 1002.5L269 1005.4L266.2 1007.7L262.3 1009.3L256.8 1009.3L253.5 1009.4L249.7 1007.4L246.8 1006L245.6 1003.7L246.5 1000.7L248.7 998.5L251.3 996.7L255.2 995.7L260 994.5L264.8 993.9L268.3 994.8L270.3 997.6Z" stroke="#707070" stroke-width="0.9" fill="none" stroke-linejoin="round"/>
<path d="M267.7 1000.4L268.2 1001.9L266.6 1004.3L264.1 1006.4L261 1007L257.3 1008.9L254 1007.4L252.2 1006.8L249.9 1005.1L248.7 1002.9L248.9 1001.7L251.1 999.9L253.1 998.3L255.7 996.8L259.3 995.7L263.9 995.7L267.2 996.4L268.4 999.1Z" stroke="#707070" stroke-width="0.9" fill="none" stroke-linejoin="round"/>
<path d="M265.8 1000.7L265.7 1002.9L265 1003.7L262.8 1004.6L261 1005.7L257.6 1006.2L255 1006.2L253.4 1005.1L251.7 1004.8L250.4 1002.6L251.7 1002L253.5 1000.2L254.1 999.4L257.5 998.5L259.5 997.4L262.4 997.7L265.4 998L265.8 999.2Z" stroke="#707070" stroke-width="0.9" fill="none" stroke-linejoin="round"/>
<path d="M263.4 1001.4L262.9 1002.2L263.1 1002.9L261.2 1003.8L260.5 1004.5L258.6 1005.6L257 1005.2L254.9 1004.2L254.5 1003.3L253.7 1003.1L254.6 1001.5L254.5 1000.2L255.8 1000L257.2 999.7L259.4 999.2L261.5 998.7L262.9 999.1L263.1 999.8Z" stroke="#707070" stroke-width="0.9" fill="none" stroke-linejoin="round"/>
<path d="M261.3 1002.1L260.3 1002.4L260.1 1002.5L259.9 1003.4L259.3 1003.3L258.3 1003.2L257.3 1002.8L256.4 1003.1L256.8 1003L255.9 1002.9L255.9 1001.7L256.7 1001L258 1001.2L257.7 1000.3L259.3 1000.4L259.6 1000.2L260.5 1000.8L260.8 1001.3Z" stroke="#707070" stroke-width="0.9" fill="none" stroke-linejoin="round"/>
<ellipse cx="258.7" cy="1002" rx="2.4" ry="1.2" transform="rotate(0 258.7 1002)" fill="#222" opacity="0.9" filter="url(#b1)"/>
<ellipse cx="257" cy="990.8" rx="5.1" ry="0.9" transform="rotate(0 257 990.8)" fill="#333" opacity="0.8" filter="url(#b1)"/>
<ellipse cx="256.2" cy="1013.1" rx="5.1" ry="0.9" transform="rotate(0 256.2 1013.1)" fill="#333" opacity="0.8" filter="url(#b1)"/>
<path d="M198.5 1112.1L199 1114.8L197.5 1117L197.1 1120.3L195.2 1123.5L193.3 1126.1L191.6 1127.1L185.6 1128.5L179.5 1128.8L175.4 1125.8L171.8 1121.3L169.3 1116.5L167 1113.8L165.4 1112L165.4 1108.6L165.2 1104.6L167 1102.1L169.2 1099.8L171.9 1098.3L174.4 1096.8L180.1 1094.5L185.6 1095.5L190.4 1098.4L195.5 1101L197.3 1102.6L198.2 1105.5L199.5 1108.2Z" stroke="#666" stroke-width="0.9" fill="none" stroke-linejoin="round"/>
<path d="M188.4 1108.5L188.9 1111L186.7 1114.1L184.8 1117.6L181.1 1118.2L177.7 1117L175.7 1116.5L173.8 1113.9L172.1 1111L170.5 1107.4L169.9 1104.2L172.8 1101L175 1100.5L178.6 1098.7L181.8 1099.8L184.5 1100.7L186.9 1101.4L188.7 1104.6Z" stroke="#666" stroke-width="0.9" fill="none" stroke-linejoin="round"/>
<path d="M268 1096.7L267.3 1100.1L265.8 1104.5L265.4 1106.3L264.1 1109.4L262 1114L260.6 1116.2L258.1 1119L253.7 1121.8L251.5 1124.6L248.1 1127.2L244.3 1128.3L241.7 1129.2L238.7 1128.6L235.4 1125.3L233.9 1121.3L232.4 1118.8L231.5 1115.3L231.5 1112.1L230.1 1109.3L231.1 1104.7L230.6 1100.6L230.1 1097.6L231.1 1094.9L231.9 1091.7L232.5 1088.8L233.2 1084.7L233.6 1082.5L235.8 1079.1L237.3 1076.4L238.3 1071.7L240.3 1069.3L243 1064.7L243.9 1062.6L247.6 1060.8L249.8 1057.9L252.2 1058L255.7 1057.6L259.2 1058.3L261.1 1061.3L264 1062.9L265.8 1064.6L269.1 1067.3L269.8 1072.9L270 1076.2L271 1079.5L271.3 1084.5L269.7 1088L270.4 1090.6L268.5 1094.4Z" stroke="#666" stroke-width="0.9" fill="none" stroke-linejoin="round"/>
<path d="M257 1097.3L255.7 1101.7L252.8 1106.5L250.5 1111.2L248.5 1112.1L245.9 1111.3L244.9 1108.8L243.9 1105.6L244 1099.2L243.2 1097.1L244.7 1094.2L246.6 1088.4L249.3 1083.8L251.4 1080.7L254.2 1078.6L256.4 1078.5L258.8 1080.8L258.7 1086L258.4 1091.1Z" stroke="#666" stroke-width="0.9" fill="none" stroke-linejoin="round"/>
<path d="M182.8 1068.8h1.2M221.3 1076.3h1.2M266.7 1059.9h1.2M249.6 1085.5h1.2M206.6 1112.5h1.2M254 1048.7h1.2M263.8 1066.9h1.2M242.5 1094.8h1.2M212.1 1047.7h1.2M245.8 1095.7h1.2M208.3 1117.3h1.2M284.8 1135.9h1.2M235.4 1042.7h1.2M231 1014.4h1.2M274 1073.2h1.2M185.6 1100.3h1.2M160 1118.8h1.2M275.6 1072.4h1.2M251.8 1071.6h1.2M193.2 1103.8h1.2M219.4 1124.3h1.2M186.9 1112.3h1.2M230.5 1141.7h1.2M234.9 1117.1h1.2M117.7 1104.5h1.2M222.8 1111h1.2M238.5 1028.1h1.2M250.2 1141.9h1.2M178.4 1128.2h1.2M250.5 1020.1h1.2M211.7 1117.8h1.2M173.5 1058.2h1.2M223.6 1068.4h1.2M231.5 1085.5h1.2M238.7 1059.2h1.2M228.7 1036.9h1.2M298.1 1067h1.2M241.3 1068h1.2M267.5 1058.2h1.2M235.5 1146.2h1.2M282.9 1089.1h1.2M173.1 1094.3h1.2M247.5 1052.9h1.2M253.7 1070.8h1.2M269.2 1077.1h1.2M302.5 1100.5h1.2M267.3 1018.9h1.2M218 1026.3h1.2M264.4 1081.7h1.2M248.5 1128.8h1.2M201.1 1093.7h1.2M288.6 1016.9h1.2M228 1072.8h1.2M225.8 1047.9h1.2M234.1 1047.4h1.2M223.4 1122.3h1.2M222.7 1095.3h1.2M252.2 1112.1h1.2M230 1092.6h1.2M187.7 1143h1.2M236.5 1076.4h1.2M166.4 1058.9h1.2M249.4 1034.2h1.2M184.7 1078.6h1.2M223.9 1137.5h1.2M135.9 1133.7h1.2M257.8 1104.4h1.2M193.6 1055.5h1.2M248.5 1039.6h1.2M180 1059h1.2M295.4 1066.3h1.2M285.3 1122.8h1.2M202.2 1099.1h1.2M187.5 1085h1.2M262.3 1074.8h1.2M222.8 1083h1.2M203.2 1142.9h1.2M152.2 1084.2h1.2M164.4 1057.7h1.2M220.8 1075.9h1.2M243.8 1061.8h1.2M163.7 1115.4h1.2M253.1 1068.4h1.2M210.2 1133.6h1.2M204 1040.7h1.2M275.7 1101.7h1.2M272.6 1073.4h1.2M228.4 1147.7h1.2M271.1 1016.5h1.2M201.6 1079.2h1.2M215.6 1052.9h1.2M231.1 1084.6h1.2M201 1119h1.2M174.3 1071.1h1.2M155.3 1079.6h1.2M168.9 1063.3h1.2M267.1 1030.5h1.2M242.6 1116.3h1.2M254 1042.4h1.2M219.6 1079.4h1.2M201.4 1116.7h1.2M230.8 1101.9h1.2M270.5 1040.9h1.2M122 1097.2h1.2M205.7 1115.6h1.2M199.3 1126.2h1.2M197.6 1070.9h1.2M227.9 1080h1.2M156.2 1093.2h1.2M243 1030.9h1.2M155.2 1077.6h1.2M174.6 1118.5h1.2M180.6 1082.5h1.2M210.3 1087h1.2M199 1063.9h1.2M225 1108.7h1.2M227.9 1037h1.2M174.1 1059.4h1.2M186.4 1063.1h1.2M223.2 1059.8h1.2M258 1115.2h1.2M240.1 1048.7h1.2M236.2 1129.1h1.2M155.6 1084.1h1.2M206 1123.4h1.2M239.6 1134.2h1.2M235.5 1114.1h1.2M202.8 1116h1.2M199.3 1119.7h1.2M206.9 1095.5h1.2M232.5 1106.9h1.2M259.8 1090.1h1.2M156.4 1077.7h1.2M249.4 1112h1.2M234.4 1099.5h1.2M291.1 1093.5h1.2M266.4 1089.1h1.2M272.3 1111.7h1.2M290.8 1030.9h1.2M254.3 1131h1.2M216.6 1064.1h1.2M278.1 1035.1h1.2M196.9 1112.9h1.2M252.4 1137.4h1.2M205.5 1029h1.2M239.8 1051.3h1.2M210.3 1058.5h1.2M205.8 1014.9h1.2M146.7 1099h1.2M223.9 1077.5h1.2M236.2 1112.8h1.2M245.9 1127h1.2M252.4 1055.9h1.2M237.6 1074.1h1.2M213.2 1066h1.2M165.1 1087.5h1.2M202.5 1025.2h1.2M201.4 1107.6h1.2M276.2 1111.8h1.2M211 1040.6h1.2M241.4 1079.4h1.2M227.8 1076.9h1.2M241.9 1091.5h1.2M140.7 1107.9h1.2M248.2 1026.9h1.2M198.8 1110.3h1.2M183.8 1095.1h1.2M154.1 1078.8h1.2M299.3 1147.8h1.2M232.3 1084.5h1.2M272.4 1074.8h1.2M159.6 1130.6h1.2M289.2 1112.7h1.2M267.6 1047.8h1.2M257.1 1087.8h1.2M252.2 1064.3h1.2M207.9 1025.3h1.2M239.2 1023.3h1.2M221.2 1053.8h1.2M289.2 1109.4h1.2M184 1058.6h1.2M243.7 1108.1h1.2M216.7 1148.5h1.2M147.8 1125.1h1.2M303 1072.5h1.2M239.9 1050.1h1.2M178.9 1094.7h1.2M223.4 1050.6h1.2M178.2 1102.7h1.2M188.4 1046.3h1.2M187.1 1064.6h1.2M262.8 1115.2h1.2M260.4 1012.9h1.2M299.5 1096.9h1.2M235.4 1024h1.2M270.2 1074.1h1.2M254 1121.7h1.2M156.7 1105.7h1.2M165.1 1083.3h1.2M163.5 1136.6h1.2M175.2 1064.8h1.2M223.5 1090.7h1.2M257.1 1115.2h1.2M177.4 1040.9h1.2M185.6 1146.9h1.2M264.3 1024.7h1.2M247.1 1067.6h1.2M182.7 1107.1h1.2M214.6 1127.9h1.2M257.3 1145.3h1.2M205.2 1057.7h1.2M212.8 1103h1.2M147.6 1105h1.2M201.7 1114h1.2M228 1130.4h1.2M235 1133.6h1.2M209 1147.7h1.2M200.9 1108.7h1.2M200.1 1101.8h1.2M206.5 1066h1.2M206.9 1016.7h1.2M277.6 1089.7h1.2M185 1033.8h1.2M221.4 1079.1h1.2M227.2 1060.9h1.2M197 1095.6h1.2M259.7 1116.6h1.2M220.8 1074.7h1.2M171.8 1078.8h1.2M265.4 1051.7h1.2M263.2 1133.4h1.2M247.3 1094.5h1.2M280.6 1050.9h1.2M206.7 1107.9h1.2M260.8 1119h1.2M119.6 1133.5h1.2M177.8 1091.9h1.2M184.6 1084.6h1.2M176.7 1083.7h1.2M242.4 1123.7h1.2M231.4 1066.2h1.2M179.6 1059.4h1.2M283.7 1033.4h1.2M226.7 1085.8h1.2M276.1 1060.3h1.2M225.6 1088.3h1.2M204.1 1069.1h1.2M287.6 1116.5h1.2M202.5 1120.3h1.2M212.9 1135.7h1.2M279.9 1091.4h1.2M210.1 1099.2h1.2M214.3 1095h1.2M197.3 1086.2h1.2M233.2 1107.6h1.2M157.1 1070.5h1.2M253.9 1044.3h1.2M223.2 1078h1.2M211.6 1101h1.2M217.4 1103.6h1.2M184.5 1117.3h1.2M188.1 1046.1h1.2M127 1091.2h1.2M180.9 1046.3h1.2M199 1100.1h1.2M271.5 1096.9h1.2M189.1 1084.1h1.2M222.5 1056.7h1.2M253.7 1072.1h1.2M238.6 1103.8h1.2M214 1054.6h1.2M269.4 1027.7h1.2M231 1050.3h1.2M221.2 1082.9h1.2M244.1 1095.3h1.2M251.1 1041.4h1.2M221.5 1107h1.2M221.1 1095.7h1.2M273.5 1101.9h1.2M256 1064.4h1.2M236.2 1044.2h1.2M297.4 1075.9h1.2M231.3 1122.2h1.2M176.9 1075.5h1.2M275 1093.6h1.2M263.3 1054.5h1.2M291.9 1135.3h1.2M227.8 1142.2h1.2M261.4 1046.2h1.2M283.3 1129.9h1.2M243.6 1106.4h1.2M285.5 1082.4h1.2M250.7 1109h1.2M230.3 1057.6h1.2M246.1 1095.5h1.2M303 1018.4h1.2M262.6 1053.5h1.2M232.7 1136.9h1.2M262.5 1090h1.2M202.2 1106h1.2M170.2 1062.6h1.2M215.1 1121.1h1.2M170.8 1091.3h1.2M261.5 1082.5h1.2M292.4 1092h1.2M261.5 1065.7h1.2M229.3 1112.6h1.2M162.8 1089.6h1.2M242.6 1133h1.2M198.6 1079.9h1.2M212.6 1066.3h1.2M195.4 1091.2h1.2M269.6 1127.9h1.2M250.3 1035.4h1.2M249.7 1104.2h1.2M272.4 1043.5h1.2M219.4 1125.9h1.2M269.4 1128.7h1.2M243.5 1121.9h1.2M245.5 1080.9h1.2M188.4 1134.5h1.2M250.5 1040.8h1.2M234.6 1053.1h1.2M212.4 1101.4h1.2M252.9 1110.8h1.2M195 1054.9h1.2M222.5 1113.2h1.2M278.6 1105.7h1.2M231.3 1065h1.2M262.9 1090.5h1.2M182.7 1111.3h1.2M296.1 1110.7h1.2M194.9 1055.9h1.2M259.5 1063.1h1.2M227.5 1112.7h1.2M274.5 1098.3h1.2M186.3 1062.6h1.2M159.8 1060.4h1.2M227.6 1067.3h1.2M297.1 1048.3h1.2M250.2 1058.6h1.2M166.6 1120.4h1.2M155 1110.5h1.2M195.5 1112.2h1.2M191.1 1049.1h1.2M191.4 1118.6h1.2M193.7 1109.7h1.2M179.8 1122h1.2M259.7 1115.9h1.2M200.3 1050.3h1.2M238.7 1050.1h1.2M173.1 1095.8h1.2M198.4 1128.1h1.2M297 1135.5h1.2M186.5 1047.4h1.2M239.2 1116.7h1.2M202 1092.6h1.2M303.6 1019.9h1.2M248 1081.6h1.2M192.5 1068.7h1.2M217.3 1027.4h1.2M231.1 1119h1.2M159 1071.8h1.2M217 1084.5h1.2M277.7 1051.6h1.2M234.9 1101.4h1.2M140.1 1113.2h1.2M274.6 1016.4h1.2M301.1 1068.1h1.2M222.5 1112.5h1.2M175 1063.3h1.2M258.7 1095.4h1.2M249 1132.4h1.2M221.1 1054.7h1.2M276.7 1056.5h1.2M285.4 1051.9h1.2M187.5 1088.2h1.2M233 1125.3h1.2M293.7 1052.6h1.2M253.7 1053.3h1.2M232.3 1092.3h1.2M212.7 1062.4h1.2M202.7 1131.4h1.2M236.2 1074.4h1.2M233.8 1116.7h1.2M203.9 1090.6h1.2M247.6 1052.1h1.2M234.4 1023.8h1.2M180.1 1051.3h1.2M173.7 1073.8h1.2M264.7 1089.6h1.2M179.3 1064.8h1.2M233.8 1145h1.2M264.6 1094.5h1.2M254 1036.3h1.2M202.4 1068.3h1.2M271.6 1120.4h1.2M183 1060.7h1.2M193.6 1132.1h1.2M206.9 1075.3h1.2M185.1 1140.2h1.2M194.4 1064.5h1.2M174.1 1076.3h1.2M253.7 1096h1.2M245.3 1023.2h1.2M213 1125.9h1.2M231.3 1098.2h1.2M220.3 1123.7h1.2M209.2 1095.4h1.2M241.8 1039h1.2M302.4 1089.6h1.2M287.7 1125.1h1.2M168.6 1101.8h1.2M220.7 1104.8h1.2M235.9 1136h1.2M223.3 1063.4h1.2M254.1 1052.3h1.2M185.5 1083.8h1.2M243.1 1026.8h1.2M188.1 1104.8h1.2M234.9 1047.3h1.2M229.4 1095.2h1.2M299.2 1022h1.2M127.7 1123.7h1.2M199.6 1060.6h1.2M200.1 1114.2h1.2M209.7 1114.7h1.2M281.7 1100h1.2M198.3 1140.2h1.2M302.3 1048.2h1.2M252.2 1113.7h1.2M222.5 1102.6h1.2M227.8 1113.7h1.2M298.2 1075.4h1.2M280.9 1030.4h1.2M200.3 1113.9h1.2M141.9 1126.4h1.2M208.8 1132.8h1.2M232.8 1066.6h1.2M221.2 1076.1h1.2M225.6 1148h1.2M238 1054.5h1.2M241 1082.3h1.2M225.2 1040.3h1.2M231.7 1122h1.2M124.5 1099.6h1.2M301.1 1059.6h1.2M200.4 1110h1.2M289.4 1143.3h1.2M243.8 1056.9h1.2M256.4 1038.9h1.2M227.8 1135.3h1.2M220.4 1078.9h1.2M210.4 1056.9h1.2M232.9 1051.3h1.2M155.7 1069.7h1.2M211.8 1101.1h1.2M214.5 1095h1.2M247.3 1051.3h1.2M286 1086.6h1.2M157.8 1108.8h1.2M210.5 1088.3h1.2M184.4 1062.1h1.2M255.6 1030.6h1.2M239.7 1119.5h1.2M259.6 1050.1h1.2M222.9 1077.5h1.2M292.1 1022.1h1.2M194.6 1111.3h1.2M174.9 1086.6h1.2M191.5 1053.4h1.2M155.6 1107.7h1.2M184.7 1095h1.2M243.8 1084.9h1.2M200.7 1085h1.2M129.6 1103.6h1.2M204.8 1131.5h1.2M281.5 1068.7h1.2M215.8 1114.6h1.2M232.1 1034.5h1.2M230.3 1120.4h1.2M200.6 1051.2h1.2M208.8 1052.9h1.2M222.9 1121.2h1.2M240.4 1059.1h1.2M239.9 1100h1.2M203.3 1040.7h1.2M132.8 1108.3h1.2M256.4 1133.6h1.2M242.3 1050.3h1.2M216.9 1116.6h1.2M249.4 1118.4h1.2M227.8 1092.3h1.2M180.2 1101.9h1.2M197.6 1061h1.2M255.4 1074.7h1.2M206.3 1086.6h1.2M181.4 1094.6h1.2M194 1094.1h1.2M173.8 1128.6h1.2M216.5 1117.1h1.2M267.3 1112.8h1.2M243.6 1147.2h1.2M191.1 1086.2h1.2M171.1 1081.6h1.2M176.6 1049.1h1.2M290.9 1084h1.2M294.4 1108.5h1.2M183.9 1058.5h1.2M188.5 1092.5h1.2M277 1097.2h1.2M219.6 1077h1.2M290.2 1060.4h1.2M217.1 1133.9h1.2M210.4 1033.3h1.2M164.1 1148.1h1.2M174.5 1119.2h1.2M265.1 1107.1h1.2M249.7 1062.9h1.2M202.4 1144.2h1.2M260.7 1067.4h1.2M250.8 1115h1.2M209.8 1108.8h1.2M259.9 1102.8h1.2M296.2 1035.8h1.2M251.9 1032.2h1.2M175.9 1073.8h1.2M212.6 1108.8h1.2M290.7 1091.6h1.2M189.1 1110.2h1.2M239.3 1080.2h1.2M293.9 1133.9h1.2M159.5 1099.4h1.2M289 1024.6h1.2M196.1 1034.4h1.2M259.7 1143.7h1.2M249.1 1071.4h1.2M270.1 1093.8h1.2M242.2 1063.1h1.2M265.2 1015.9h1.2M216.4 1102.7h1.2M212.5 1019.8h1.2M260.5 1080.2h1.2M241.6 1115.5h1.2M143.1 1076.2h1.2M135.1 1093.6h1.2M265.5 1091.5h1.2M291.6 1088.8h1.2M300.9 1058.3h1.2M224.5 1057.3h1.2M213.3 1086.5h1.2M213.2 1086.3h1.2M199.4 1129.2h1.2M223.2 1050.3h1.2M230.6 1031.8h1.2M246.7 1123.8h1.2M293.2 1031.1h1.2M145 1113.6h1.2M202.7 1032.6h1.2M283.2 1102.7h1.2M184.8 1031.4h1.2M195.8 1104.8h1.2M186.8 1148.6h1.2M173.6 1109.4h1.2M249.3 1109.9h1.2M287.9 1115.1h1.2M211.7 1106.2h1.2M179 1108.7h1.2M275.4 1124.9h1.2M251.1 1083.5h1.2M274.4 1034h1.2M252.1 1024.1h1.2M240.8 1053.3h1.2M269.8 1109.9h1.2M300.4 1082.6h1.2M232.9 1057.4h1.2M234.6 1132.4h1.2M270.1 1087.7h1.2M212.2 1048.9h1.2M204 1117.2h1.2M247.9 1058.7h1.2M291.2 1030.6h1.2M252.1 1131h1.2M157.7 1095.2h1.2M233.5 1137.1h1.2M250.2 1088.4h1.2M244.2 1093h1.2M167.8 1093.1h1.2M233 1082.7h1.2M208.5 1046.7h1.2M211 1033.3h1.2M280.4 1025.1h1.2M268.9 1078.6h1.2M296.4 1067.1h1.2M202 1113.6h1.2M155.1 1119.7h1.2M173.7 1086h1.2M270.9 1060.6h1.2M196.9 1145.6h1.2M250 1057h1.2M244.6 1071h1.2M263.1 1031.9h1.2M159.4 1057.1h1.2M193.1 1076.6h1.2M215.6 1099.4h1.2M154.1 1146h1.2M191.2 1048h1.2M196.4 1038.3h1.2M263.4 1076.6h1.2M290.9 1060.3h1.2M268.1 1104.8h1.2M243 1109.8h1.2M220.5 1040.4h1.2M273.2 1065.1h1.2M223.3 1078.2h1.2M214.4 1131.6h1.2M137.9 1144.4h1.2M263.3 1127.5h1.2M218.6 1039.5h1.2M204.5 1109.3h1.2M233.5 1110.3h1.2M215.6 1094.2h1.2M226.2 1098.5h1.2M268.6 1032.9h1.2M243 1101h1.2M262.7 1130.4h1.2M240.7 1070.7h1.2M163.4 1072h1.2M212.9 1092.9h1.2M210.3 1107.7h1.2M192.4 1104.6h1.2M290.2 1055.7h1.2M277.6 1056h1.2M201.3 1123.5h1.2M270.3 1087.1h1.2M270.6 1108.4h1.2M219.3 1025.9h1.2M178.5 1069.7h1.2M288.8 1064.6h1.2M227.1 1029.3h1.2M275.7 1069.2h1.2M187.9 1055h1.2M221.4 1030h1.2M235.9 1145.1h1.2M214.6 1046.2h1.2M259.8 1101.4h1.2M232.6 1076.6h1.2M267.3 1112.8h1.2M222 1119.4h1.2M232.2 1049.1h1.2M215.5 1068.6h1.2M244.9 1064.6h1.2M268.8 1116h1.2M216.9 1079.6h1.2M219.4 1128.7h1.2M273.2 1067.2h1.2M263.5 1111.8h1.2M285.3 1111.3h1.2M172.6 1065.8h1.2M286.5 1134.3h1.2M182.5 1075.3h1.2M273.5 1101.4h1.2M232.6 1142.7h1.2M250.3 1124.6h1.2M187.2 1048.2h1.2M195.7 1026.1h1.2M185.4 1112.9h1.2M224.5 1066.8h1.2M191.3 1148.3h1.2M263.6 1121.1h1.2M183.7 1060.5h1.2M269.8 1079.5h1.2M256.5 1043.1h1.2M165.7 1062.1h1.2M260.4 1047.4h1.2M151 1067.1h1.2M218.1 1074.2h1.2M281.3 1095.3h1.2M217.9 1105.2h1.2M138.4 1099.7h1.2M221.5 1055h1.2M217.6 1055.5h1.2M219.1 1027.1h1.2M164.1 1094.9h1.2M240.2 1032.8h1.2M265.1 1073.8h1.2M289.6 1097.2h1.2M263.1 1100.9h1.2M257.5 1096.7h1.2M277.1 1062.9h1.2M303.9 1107.2h1.2M182.5 1086.4h1.2M135.2 1088.6h1.2M226 1110h1.2M171.2 1064.5h1.2M276.1 1091h1.2M231 1031.5h1.2M248.7 1110.4h1.2M244.4 1055.4h1.2M222 1107.5h1.2M201 1143.9h1.2M166.2 1080.4h1.2M247.2 1061h1.2M186.8 1060h1.2M264.3 1040.2h1.2M210.7 1102.8h1.2M278.5 1080.4h1.2M282.1 1037.6h1.2M269.1 1069.4h1.2M272.9 1106.4h1.2M236.1 1030.6h1.2M175 1106.4h1.2M230.4 1122.7h1.2M213.1 1091.3h1.2M225.9 1146.3h1.2M230.4 1014.5h1.2M256.3 1131.1h1.2M240 1087.2h1.2M245.1 1067.1h1.2M137.7 1122.5h1.2M291.8 1057h1.2M216.6 1122.7h1.2M213.7 1079h1.2M264.1 1086.2h1.2M229.9 1038.9h1.2M285.7 1118.1h1.2M250.1 1136h1.2M200.7 1112.1h1.2M216.1 1135.6h1.2M192.7 1053.5h1.2M297.2 1069.9h1.2M252.7 1119h1.2M286.2 1111h1.2M271.3 1075.3h1.2M266 1062.2h1.2M239.7 1071.5h1.2M276.7 1123.3h1.2M249.2 1089h1.2M235.7 1032.8h1.2M261.7 1108.6h1.2M276.7 1084.3h1.2M273.6 1066.1h1.2M146.8 1092.9h1.2M235 1032h1.2M220.1 1078.1h1.2M240.8 1069.6h1.2M182.8 1087.3h1.2M286.9 1095.5h1.2M215.7 1136.4h1.2M237.9 1059.7h1.2M235.2 1137.6h1.2M194.2 1082.4h1.2M290.7 997.2h1.2M302.8 1007.9h1.2M295.7 1039h1.2M285.1 1024.9h1.2M303.7 1018.8h1.2M300.3 1033.2h1.2M291.5 1025.7h1.2M289.5 984.9h1.2M282.1 970.5h1.2M298.6 1007.3h1.2M291.1 1027.5h1.2M295.5 991.6h1.2M301.6 1017.2h1.2M292.6 1018.8h1.2M292.5 1007.9h1.2M294.4 982h1.2M289.6 1031.7h1.2M292.4 1016h1.2M292.4 1015.6h1.2M288.6 1040.4h1.2M291.2 1024.6h1.2M295 1012.3h1.2M289.8 1014h1.2M290.4 1020.5h1.2M289.7 1008.2h1.2M290.2 1022.9h1.2M303.5 1011.3h1.2M298 997.5h1.2M292.9 1024.3h1.2M292.9 1017.5h1.2M286.9 1014.9h1.2M299.2 988.9h1.2M292.2 1022h1.2M295 1003.3h1.2M297.1 1013.6h1.2M290.1 1033.1h1.2M293.5 1001.8h1.2M292.1 997.7h1.2" stroke="#b0b0b0" stroke-width="1.2"/>
</g>
<rect x="113.8" y="959.8" width="193.6" height="192.2" stroke="#777" stroke-width="1.5" fill="none"/>
<rect x="236.4" y="981.6" width="46" height="36.8" stroke="#303030" stroke-width="1.2" fill="none"/>
<path d="M236.4 1018.4L282.4 1018.4" stroke="#111" stroke-width="2.2" fill="none"/>
<g fill="none" filter="url(#soft)">
<ellipse cx="484.5" cy="1000.6" rx="14.6" ry="9.4" transform="rotate(-8 484.5 1000.6)" fill="#909090" opacity="0.8" filter="url(#b2)"/>
<path d="M503.7 998.2L502.3 1002.3L499.9 1005.5L495.2 1009L492.8 1010.4L490.5 1012.4L487.4 1012.7L483 1013.5L480.2 1013.8L477.4 1013.1L472.2 1010.2L467.4 1006.9L465.3 1003.1L467.5 998.7L470.4 994.7L474.5 991.8L477.6 990.4L480.9 988.9L483.2 988.2L487.4 988.4L490.3 987.8L493.8 987.8L497 988.2L501 989L503.2 992.9Z" stroke="#707070" stroke-width="0.9" fill="none" stroke-linejoin="round"/>
<path d="M500.7 997.7L500.1 1001.1L497.9 1004.5L494.5 1007.8L489.4 1011.1L486.6 1011.6L484.3 1012.4L478.6 1011.1L474.2 1008.2L470.2 1006L467.9 1003L469.9 998.6L472.2 995.2L476.6 992.6L480.8 990.6L486.2 989.3L489.8 989.7L493.3 989.1L498.9 990.2L501.2 994.8Z" stroke="#707070" stroke-width="0.9" fill="none" stroke-linejoin="round"/>
<path d="M498.3 998.9L498.8 1001.3L496.7 1004.9L492.7 1006.8L489.2 1009.5L483.7 1010.7L479.4 1009.9L475.7 1008L472.2 1005.4L470.5 1002.2L471.8 999L474.1 995.7L477.3 994.1L481.5 992.5L486.9 991L491.4 991.1L497.2 991.7L498.9 995.4Z" stroke="#707070" stroke-width="0.9" fill="none" stroke-linejoin="round"/>
<path d="M496.6 998.2L495.7 1001.5L494.6 1003.8L491.5 1006.2L488.8 1007.6L484.7 1008.4L480.2 1007.9L477.6 1006.8L474.1 1004.8L472.8 1002.4L474.6 999.5L475.6 996.6L478.3 994.7L481.8 992.8L485.8 993.1L490.8 992.7L495.3 993.4L496.9 995.8Z" stroke="#707070" stroke-width="0.9" fill="none" stroke-linejoin="round"/>
<path d="M494.3 998.6L493.8 1000.5L492.6 1003.5L491.1 1004.9L487.3 1006.7L484.5 1007.2L481.1 1006.7L478.5 1004.6L476.5 1003.3L475.2 1001.3L476.6 999.7L477.6 997.8L479.5 996.4L482.6 994.8L485.9 994.6L489.5 993.5L493.3 994.8L493.9 997.1Z" stroke="#707070" stroke-width="0.9" fill="none" stroke-linejoin="round"/>
<path d="M492.4 999.6L492 1000.6L490.4 1001.7L489.7 1003.2L487 1005L484.2 1005.8L482.3 1004.4L480.8 1004.1L478.2 1002.8L478.3 1001L478.4 1000.1L479.4 997.9L480.9 996.9L483.5 995.9L485.4 995.3L488.8 995.6L491.3 995.6L492.5 997.9Z" stroke="#707070" stroke-width="0.9" fill="none" stroke-linejoin="round"/>
<path d="M489.8 1000L489 1000.8L488.7 1001L488.2 1001.8L486.8 1002.9L485.3 1003L483.3 1003.8L482.1 1002.8L481 1002L480.4 1000.6L480.6 1000.3L481.5 999.1L483.2 998.6L484.6 998L485.9 997.3L487 996.6L488.8 997.5L489.7 998Z" stroke="#707070" stroke-width="0.9" fill="none" stroke-linejoin="round"/>
<path d="M487.6 999.8L487.2 999.9L487.4 1001.3L486.9 1000.8L485.3 1002.2L485.2 1002.4L484.2 1002.1L483.3 1000.9L483.4 1001.3L482.8 1000.6L483.3 999.7L482.9 999.5L483.8 999.7L484.4 999L485.2 998.7L486 998.4L487.4 999.2L487.7 1000Z" stroke="#707070" stroke-width="0.9" fill="none" stroke-linejoin="round"/>
<ellipse cx="483.6" cy="1000.6" rx="1.7" ry="1.5" transform="rotate(0 483.6 1000.6)" fill="#333" opacity="0.9" filter="url(#b1)"/>
<ellipse cx="482.7" cy="1012.2" rx="6" ry="0.9" transform="rotate(0 482.7 1012.2)" fill="#555" opacity="0.7" filter="url(#b1)"/>
<path d="M388.4 1104.8L392.5 1100.1L398.4 1095.8L405.2 1093.9L411.1 1092L418.6 1094.9L425.1 1097.7L431.1 1100.4L433.2 1104.6L433.3 1111.5L429.9 1119L427.9 1123L423 1126.2L417.8 1130.7L414.6 1134.1L409.7 1138.8L405.3 1139.9L399.5 1137.2L394.5 1131.7L391.4 1125.3L389 1118.8L386.7 1110.7Z" stroke="#555" stroke-width="1" fill="none" stroke-linejoin="round"/>
<path d="M390.3 1105.2L393.8 1101.6L398.6 1097.7L404.6 1096.2L410.6 1094.6L416.5 1097L422.6 1099.3L429.2 1105.2L429.3 1110.7L426.8 1117.1L422.1 1121.9L416.8 1127.2L410.3 1132.1L405.2 1135.7L400.2 1133.7L395.8 1129.3L393.2 1123.5L391.3 1116.6L389.1 1110.5Z" stroke="#888" stroke-width="0.8" fill="none" stroke-linejoin="round"/>
<path d="M393.1 1106L399.2 1100.2L409.7 1097.3L414.4 1098.7L419 1101L424.7 1106.2L422.8 1116.2L418.5 1120.6L414 1123.9L409.2 1127.9L404.5 1131L397.8 1125.8L394.7 1120.5L392.8 1115.7Z" stroke="#888" stroke-width="0.8" fill="none" stroke-linejoin="round"/>
<path d="M394.6 1106.1L400.3 1102.2L408.5 1100L415.7 1103.2L420.7 1106.4L418.5 1114.2L412 1120.8L404.4 1126.2L398.5 1121.6L395 1114.2Z" stroke="#888" stroke-width="0.8" fill="none" stroke-linejoin="round"/>
<path d="M397.7 1106.6L402 1103.6L406.6 1102.1L412.7 1103.7L416.9 1107.5L415.7 1112.8L410.6 1118.5L404.4 1122L399.7 1119L397.5 1113.2Z" stroke="#888" stroke-width="0.8" fill="none" stroke-linejoin="round"/>
<path d="M398.7 1107.1L401.8 1104.8L406.4 1104L410.5 1106.2L412.7 1107.7L412.2 1111.3L408.7 1115.5L404.1 1118.8L401.3 1116.2L399.8 1111.8Z" stroke="#888" stroke-width="0.8" fill="none" stroke-linejoin="round"/>
<path d="M400.5 1108.4L403.1 1106.3L404.9 1106.4L407.2 1106.6L409.6 1108.8L409 1110.9L407 1112.7L403.7 1115L402 1113.3L401.2 1110.7Z" stroke="#888" stroke-width="0.8" fill="none" stroke-linejoin="round"/>
<path d="M493.4 1084.7L492 1088.5L490.6 1092.9L489.7 1095.3L488.7 1099.1L487.7 1101.8L486.4 1104.7L484.4 1106.8L482.2 1110L478.2 1111.8L474 1112.1L470.8 1109.1L470 1105.1L468.8 1101.4L469.2 1098.1L467.9 1095.7L468.6 1091.6L469.2 1088.7L468.7 1085.5L469.8 1081.9L469.9 1078.3L470.7 1074.6L471.4 1071.4L473.2 1067.4L473.8 1064.5L475.8 1062.2L478.5 1059.4L479.8 1057.2L484.4 1053.9L488.6 1055.4L490.9 1060.1L491.9 1062.4L492.3 1066.2L494 1070.3L493.1 1074L493.8 1078.5L493.7 1082Z" stroke="#666" stroke-width="0.9" fill="none" stroke-linejoin="round"/>
<path d="M493.5 1058.7h1.2M412.5 1146h1.2M406.9 1082.5h1.2M488.4 1105.5h1.2M473.8 1050.8h1.2M458.8 1088.4h1.2M460.4 1117.7h1.2M485.8 1052h1.2M435 1047.1h1.2M464.2 1082.9h1.2M475.1 1079.5h1.2M386.7 1056.6h1.2M470.3 1077.3h1.2M415 1043.9h1.2M459.8 1054.9h1.2M494.7 1072h1.2M445.3 1117h1.2M459 1091.7h1.2M508.4 1099.2h1.2M411.6 1089.2h1.2M438.2 1108.5h1.2M436.5 1047.8h1.2M527.7 1130.5h1.2M419 1099.9h1.2M405.3 1055.5h1.2M448 1070.9h1.2M427 1133h1.2M439.3 1113.2h1.2M487.9 1081.6h1.2M430.7 1086.9h1.2M425.8 1048h1.2M452.7 1010.6h1.2M506.7 1109.4h1.2M396.6 1131.1h1.2M464 1111.6h1.2M471.1 1107.8h1.2M457.9 1081.7h1.2M392.8 1079.9h1.2M445.1 1081.8h1.2M431.7 1119.6h1.2M444.2 1026.6h1.2M466.1 1060.7h1.2M491.9 1043.9h1.2M413.3 1076.5h1.2M412.8 1054.1h1.2M421.9 1067.7h1.2M475.5 1065.4h1.2M391.5 1071.6h1.2M453.7 1066.4h1.2M468.6 1148.2h1.2M442.3 1047.1h1.2M408.3 1071h1.2M390 1059.8h1.2M390.6 1128.9h1.2M418 1021.8h1.2M474.7 1083.6h1.2M369.6 1086.7h1.2M473 1092h1.2M438.6 1055.9h1.2M435.8 1077.4h1.2M491.5 1110.8h1.2M454.2 1138.8h1.2M414.2 1104.1h1.2M445.2 1109.4h1.2M435.7 1087.2h1.2M421.7 1078.7h1.2M397.5 1072.8h1.2M395.3 1083.4h1.2M492.9 1132.1h1.2M460.7 1105.2h1.2M438 1053.6h1.2M432.6 1139h1.2M402.5 1048.4h1.2M433.6 1049h1.2M491.6 1084.5h1.2M452.4 1033.8h1.2M385.2 1105.2h1.2M454.1 1131.5h1.2M422 1043.2h1.2M427.6 1057.3h1.2M429.1 1047.5h1.2M514.7 1067.7h1.2M490.1 1023.1h1.2M386.6 1113.2h1.2M489.8 1061.3h1.2M348.8 1102.4h1.2M410.2 1132.4h1.2M508.1 1069.6h1.2M408 1098.1h1.2M443.2 1075.6h1.2M437.6 1133.3h1.2M451.8 1042.3h1.2M458.1 1094.1h1.2M475.2 1129.5h1.2M378.5 1110h1.2M515.8 1061.7h1.2M404.5 1136.1h1.2M412.4 1078h1.2M366.3 1074.5h1.2M461.8 1146.1h1.2M419.4 1021.2h1.2M454.9 1093.4h1.2M516.1 1047.1h1.2M418.7 1083.1h1.2M486.3 1111.5h1.2M468.8 1032.4h1.2M428.5 1019h1.2M405.4 1079.7h1.2M497 1123.6h1.2M456.7 1139.7h1.2M430.8 1130.3h1.2M407.1 1082.1h1.2M432 1072.5h1.2M415.2 1066.8h1.2M412.1 1110.2h1.2M470.1 1033.6h1.2M504.3 1037.2h1.2M414.8 1039.3h1.2M426 1087.5h1.2M482.8 1056.4h1.2M493.4 1148.8h1.2M506.6 1029.5h1.2M456.8 1049.8h1.2M490.8 1086.7h1.2M479.5 1085.8h1.2M366.9 1139.9h1.2M498.3 1058.6h1.2M456.6 1074.2h1.2M518.8 1062.5h1.2M506.4 1045.5h1.2M487.5 1073.1h1.2M481.2 1093.8h1.2M529 1031.5h1.2M352.3 1123.9h1.2M408.5 1096.7h1.2M514 1049.6h1.2M493.3 1087.9h1.2M498.1 1079.6h1.2M413.5 1026.9h1.2M387.4 1101.2h1.2M351 1102.9h1.2M426.4 1022.7h1.2M436.6 1117.8h1.2M414.1 1113.5h1.2M534.3 1061.7h1.2M498.5 1119.9h1.2M421.1 1095.3h1.2M468 1061.8h1.2M452.1 1060.8h1.2M423.7 1089.2h1.2M474.5 1139.9h1.2M521.9 1069.4h1.2M469.3 1036.5h1.2M436 1094h1.2M443.6 1047.4h1.2M507 1099.5h1.2M375.8 1146.7h1.2M495 1057.3h1.2M402.9 1111.3h1.2M451 1096.7h1.2M413.4 1070.9h1.2M398.2 1069.5h1.2M461.3 1129.2h1.2M515.9 1051.3h1.2M512.3 1130.6h1.2M433.3 1084h1.2M471.2 1070.5h1.2M495.2 1110.8h1.2M458.7 1061.3h1.2M462.4 1069.1h1.2M466.8 1033.2h1.2M448.7 1057.9h1.2M490 1062.5h1.2M476.2 1043.6h1.2M478.3 1093.7h1.2M517.9 1125.8h1.2M486.7 1066.4h1.2M511.2 1064.7h1.2M433.7 1138.7h1.2M469.7 1050.5h1.2M410.2 1141.7h1.2M461.8 1147.9h1.2M410 1093.5h1.2M396.5 1077.7h1.2M432.1 1045.6h1.2M439.7 1064.9h1.2M442.8 1125.2h1.2M483.7 1090.2h1.2M489 1090.8h1.2M460 1124.2h1.2M458.6 1104.3h1.2M506.6 1102h1.2M426.6 1124.1h1.2M436.4 1043h1.2M469.6 1045h1.2M394.2 1113.1h1.2M468.1 1030.5h1.2M478.2 1090.6h1.2M409.5 1081.7h1.2M435.1 1131.8h1.2M443.3 1072h1.2M392.1 1065.1h1.2M391 1087.5h1.2M440.1 1033.7h1.2M455.8 1125.9h1.2M443.7 1040.8h1.2M454.7 1110.5h1.2M490 1084.6h1.2M403.4 1089.9h1.2M499.2 1054.2h1.2M470.9 1064.5h1.2M428.7 1021.6h1.2M522.2 1080.1h1.2M445.2 1040.7h1.2M396.4 1109.8h1.2M526.9 1131.5h1.2M451.8 1139.2h1.2M445.5 1032.8h1.2M416.2 1096.9h1.2M444.4 1124.3h1.2M370.5 1092.4h1.2M487.6 1072.5h1.2M474.6 1087.9h1.2M431.7 1123.1h1.2M397.6 1107.4h1.2M455.9 1045.3h1.2M486.2 1069.2h1.2M444.9 1050.7h1.2M476.7 1066.1h1.2M404.2 1112.3h1.2M477.7 1045h1.2M396.4 1124.6h1.2M503.1 1071.1h1.2M439.6 1043.6h1.2M369.4 1069.5h1.2M487.8 1078.4h1.2M476.1 1056.2h1.2M382.9 1107.1h1.2M473 1052.8h1.2M416.1 1048h1.2M410.9 1109.5h1.2M410.9 1070.9h1.2M475.9 1074.7h1.2M421.3 1060.8h1.2M495.6 1085.2h1.2M416.9 1022.3h1.2M479.2 1064h1.2M500.7 1094.3h1.2M419.5 1030.2h1.2M514.7 1093.6h1.2M479.1 1053.9h1.2M462.3 1088.8h1.2M357.3 1100.3h1.2M478.8 1090.9h1.2M503.6 1105.2h1.2M426.1 1032.4h1.2M465.4 1107.9h1.2M439.9 1036.8h1.2M467.4 1089.3h1.2M523.6 1124.6h1.2M487.1 1060.4h1.2M482.7 1067.2h1.2M502.3 1032.8h1.2M474.9 1090.6h1.2M430.5 1107.4h1.2M447.1 1141.2h1.2M373.7 1105.2h1.2M478 1093.3h1.2M503.7 1072.2h1.2M470.7 1126.6h1.2M527.9 1033.3h1.2M467.2 1091.9h1.2M488.8 1103.5h1.2M439.1 1136.1h1.2M453.6 1135.6h1.2M432.8 1010.8h1.2M437.6 1141.8h1.2M387.1 1147.4h1.2M467 1147.8h1.2M439 1071.2h1.2M474.8 1051.8h1.2M521.2 1058.5h1.2M432.9 1061.9h1.2M484.6 1027h1.2M468.5 1063.7h1.2M471.9 1106.9h1.2M386.3 1092.3h1.2M526.9 1045.3h1.2M488.6 1066h1.2M495.8 1065.8h1.2M491.1 1046.9h1.2M404.6 1059h1.2M384.8 1134.4h1.2M420.4 1054.6h1.2M407.4 1095.5h1.2M435.9 1056.2h1.2M441.6 1053.3h1.2M442.7 1079.5h1.2M486.6 1106.3h1.2M427 1030.8h1.2M439.9 1097.2h1.2M469.9 1068.1h1.2M388.5 1131h1.2M452 1065h1.2M506.6 1049.9h1.2M525.4 1129.2h1.2M446.8 1044h1.2M435.1 1089.3h1.2M438.3 1033.2h1.2M432.8 1049.8h1.2M451 1104.9h1.2M484.2 1085.2h1.2M421.2 1076.7h1.2M425.3 1028.7h1.2M389.1 1139.9h1.2M419 1046.5h1.2M381.4 1121.5h1.2M498.2 1015.3h1.2M466.1 1092.9h1.2M483.3 1137.8h1.2M486.4 1052.7h1.2M457.8 1077.7h1.2M412.2 1078.7h1.2M441.2 1053.7h1.2M451.6 1148.8h1.2M421.7 1092.7h1.2M392.7 1124.3h1.2M420.8 1049.6h1.2M498.1 1054.5h1.2M529.3 1103.5h1.2M478.1 1066.9h1.2M472.3 1032h1.2M401.6 1104.3h1.2M355.4 1124.4h1.2M382.6 1092.5h1.2M522.3 1051.5h1.2M451.7 1021.5h1.2M441.8 1141.1h1.2M455.5 1088.5h1.2M446.4 1112.6h1.2M509 1045.3h1.2M497 1114.9h1.2M467.1 1107.8h1.2M449.6 1098.2h1.2M432.4 1105.5h1.2M383.4 1077.6h1.2M418.9 1041.5h1.2M493.1 1076.5h1.2M417.1 1098.6h1.2M455.8 1120.5h1.2M469.5 1116.6h1.2M433.9 1096.3h1.2M427.3 1073.9h1.2M440.6 1049.9h1.2M431.9 1112.4h1.2M490.2 1140.5h1.2M496.2 1100.5h1.2M476.1 1120.2h1.2M515.2 1118.5h1.2M437 1045.2h1.2M392.9 1089.8h1.2M417.6 1083.7h1.2M444.3 1026.2h1.2M451.2 1086.7h1.2M454.5 1088.3h1.2M463.8 1043.5h1.2M404.5 1130.3h1.2M494.2 1119.5h1.2M417.5 1092.2h1.2M482.8 1026.5h1.2M528.4 1144.2h1.2M471.3 1072.4h1.2M468.4 1054.3h1.2M379.4 1058.8h1.2M480.8 1103.8h1.2M438.1 1063.1h1.2M368 1142.7h1.2M398.4 1051.1h1.2M397.5 1049h1.2M453.7 1114.9h1.2M443.8 1147.9h1.2M487 1125.8h1.2M416.5 1054.9h1.2M428 1131.8h1.2M404.6 1054.6h1.2M439.4 1078.5h1.2M513.2 1132.9h1.2M391.2 1049.9h1.2M495.4 1043.8h1.2M382.1 1071.2h1.2M390.9 1059.8h1.2M430.5 1130.1h1.2M413.2 1046.9h1.2M428.3 1074.9h1.2M487.6 1055.9h1.2M427.1 1142h1.2M433.1 1128.5h1.2M484.4 1051.4h1.2M414.6 1135.3h1.2M476.7 1139.9h1.2M451.1 1053.9h1.2M391.5 1074.1h1.2M473.5 1015.9h1.2M423.8 1048.7h1.2M434.9 1039h1.2M386.3 1101.5h1.2M485.9 1125.4h1.2M508.1 1114.9h1.2M502.1 1114.5h1.2M513.2 1074.1h1.2M405.1 1060.4h1.2M426.9 1056.2h1.2M479.2 1106.2h1.2M529.4 1145.9h1.2M401.3 1077.3h1.2M500.6 1111.3h1.2M473.5 1074.4h1.2M454.2 1021.2h1.2M382.4 1132.9h1.2M502.2 1106.7h1.2M436.5 1078.3h1.2M423.4 1052.2h1.2M427.9 1061.6h1.2M480.7 1027.9h1.2M526.3 1076.4h1.2M473.3 1098.8h1.2M468.2 1016.5h1.2M458.1 1132.7h1.2M438.1 1108.9h1.2M422.3 1082.1h1.2M425.7 1137.8h1.2M433.5 1055.8h1.2M461.3 1137.3h1.2M424.6 1090.4h1.2M436.6 1120.9h1.2M490.5 1147.8h1.2M508.4 1064.3h1.2M393.3 1070.9h1.2M428 1055.8h1.2M420.8 1143.3h1.2M448.6 1087.9h1.2M458.8 1090.8h1.2M430.6 1108.5h1.2M415.1 1041.5h1.2M525.2 1078.5h1.2M448 1109.7h1.2M479.1 1115.3h1.2M424.4 1078.3h1.2M384 1107.8h1.2M391.1 1081.3h1.2M519.2 1127h1.2M454.1 1126.2h1.2M443.4 1087.4h1.2M452.5 1049.7h1.2M439.9 1066.9h1.2M467.5 1043.6h1.2M395.2 1107.3h1.2M380.6 1062.9h1.2M360.5 1134.3h1.2M420.9 1133.8h1.2M443.8 1135h1.2M461.2 1127.6h1.2M426.6 1033h1.2M451 1107.7h1.2M479.8 1039.2h1.2M399.4 1108.2h1.2M407.7 1061.3h1.2M498.6 1083.8h1.2M397.4 1148.7h1.2M399.7 1066.9h1.2M441 1119.1h1.2M393 1121.5h1.2M463.8 1104.5h1.2M472.7 1021.7h1.2M464 1136.3h1.2M413.9 1072.8h1.2M406.2 1082.6h1.2M402.4 1105.5h1.2M427.7 1087.4h1.2M482.8 1096.2h1.2M487 1023.6h1.2M465.5 1067.7h1.2M466.8 1115.2h1.2M529.7 1082.8h1.2M380.5 1064.8h1.2M468.3 1048.1h1.2M481.5 1080.9h1.2M440.5 1099.2h1.2M456.8 1130.5h1.2M361 1090.7h1.2M431.5 1080.7h1.2M420.3 1024.5h1.2M420.3 1067.9h1.2M383.8 1079.4h1.2M488.9 1145.3h1.2M351.7 1131.8h1.2M449.1 1130h1.2M473.6 1122h1.2M350 1108.6h1.2M490.1 1094.9h1.2M441.3 1089.6h1.2M457.2 1080.3h1.2M485.4 1127.6h1.2M467.2 1070.9h1.2M413.2 1089.8h1.2M478.3 1106.1h1.2M460.7 1041h1.2M442.1 1049.5h1.2M469.3 1046.5h1.2M482.7 1052.1h1.2M424.2 1074.2h1.2M427.9 1111.9h1.2M469.2 1025.9h1.2M417.4 1050.3h1.2M457 1127.3h1.2M516.4 1086.1h1.2M486.5 1110.5h1.2M486.4 1107.4h1.2M376.8 1088.3h1.2M486.4 1020.1h1.2M441.2 1099.7h1.2M532.8 1094.3h1.2M521.1 1122.6h1.2M457.8 1128.4h1.2M432.6 1038.7h1.2M398.6 1067.7h1.2M434.9 1126.1h1.2M436.7 1095.4h1.2M441.6 1054.4h1.2M391.8 1089.5h1.2M495.3 1047.1h1.2M485.2 1092h1.2M412.9 1113h1.2M431.4 1097.2h1.2M446.8 1064.3h1.2M502.9 1076.2h1.2M515.5 1104.1h1.2M493 1037.8h1.2M444 1125.3h1.2M510.3 1061.8h1.2M472.1 1089.3h1.2M498.9 1094.2h1.2M493.2 1102.7h1.2M438.3 1131h1.2M427.5 1123.2h1.2M422 1098.5h1.2M428.1 1056h1.2M486.9 1107.7h1.2M505.3 1090.8h1.2M452.1 1072.3h1.2M513.9 1079.5h1.2M491.8 1038.8h1.2M472 1101.4h1.2M429.6 1095.2h1.2M433 1084.3h1.2M455.9 1028.2h1.2M430.3 1083.4h1.2M502.6 1096.4h1.2M458.4 1097.5h1.2M481.8 1019.7h1.2M443 1101.3h1.2M396.8 1073.6h1.2M400.7 1076.1h1.2M455.6 1055.7h1.2M440.5 1095.2h1.2M383.7 1076.5h1.2M443.2 1107.3h1.2M429.9 1060.7h1.2M440 1118.3h1.2M444 1093.2h1.2M414.9 1092.6h1.2M430 1141h1.2M401.2 1079.3h1.2M467.7 1093.5h1.2M410.2 1063.9h1.2M390.2 1106.2h1.2M488.6 1140h1.2M431.2 1092.9h1.2M482.5 1099.6h1.2M515.8 1033.5h1.2M480.9 1138.4h1.2M442.1 1103h1.2M500.8 1136.4h1.2M436.1 1121.3h1.2M454.7 1082.5h1.2M397.4 1088.2h1.2M410.5 1059.6h1.2M436 1094.1h1.2M376.3 1080.4h1.2M437.6 1146.1h1.2M422.3 1066h1.2M448.3 1123.4h1.2M370.5 1088.9h1.2M449.5 1021.6h1.2M511.7 1086.2h1.2M384.3 1055.1h1.2M468 1095.3h1.2M454.2 1081.3h1.2M460.1 1038.4h1.2M482.4 1092.9h1.2M441.9 1063.6h1.2M388.7 1082.6h1.2M514.4 1065.6h1.2M399.3 1134.5h1.2M437.3 1050.7h1.2M445.4 1071.1h1.2M395.2 1088.9h1.2M472.2 1073.4h1.2M433.1 1063.2h1.2M429 1091h1.2M459.1 1060.7h1.2M413 1044.8h1.2M498.9 1115.5h1.2M435.4 1078h1.2M427.7 1027.9h1.2M407.7 1079.1h1.2M517.2 1129.2h1.2M403.9 1137.2h1.2M522.1 1124.2h1.2M427.7 1078h1.2M447.9 1015.5h1.2M416.4 1080.9h1.2M487.9 1102.8h1.2M463.8 1104.2h1.2M446.7 1039.2h1.2M473.3 1063.5h1.2M404.5 1040.5h1.2M507.8 1073.4h1.2M483 1012.9h1.2M468.3 1079.6h1.2M463.8 1025.5h1.2M374.6 1067.7h1.2M413.6 1112.1h1.2M492.2 1117.4h1.2M493.5 1086.7h1.2M531.4 1034.2h1.2M388.5 1101.9h1.2M508.9 1051h1.2M418.1 1108.7h1.2M517.6 1115.6h1.2M481.4 1087.1h1.2M395 1106.2h1.2M380.1 1093.6h1.2M464.6 1100.6h1.2M378.8 1065.5h1.2M427.5 1053.1h1.2M476.5 1099.7h1.2M462.9 1116.2h1.2M500.2 1099.4h1.2M470.7 1062.6h1.2M532.1 1106.4h1.2M400.6 1078.8h1.2M469.3 1106.9h1.2M372.2 1118.8h1.2M442.3 1045.7h1.2M460.4 1119.9h1.2M474.6 1106h1.2M487.3 1021.6h1.2M454.4 1054.8h1.2M489.5 1081.5h1.2M437.6 1117.1h1.2M495.7 1071h1.2M497.4 1075.7h1.2M512.8 1106h1.2M384.3 1069.8h1.2M494.1 1036.2h1.2M451.8 1145.1h1.2M520.6 1108.2h1.2M395.1 1117.2h1.2M450.4 1094.3h1.2M436.6 1087.6h1.2M429.5 1073.2h1.2M436.8 1092.1h1.2M467.4 1056.9h1.2M396.4 1104.8h1.2M453.6 1078.9h1.2M512 1115.2h1.2M413 1058.7h1.2M458 1064.1h1.2M468.1 1105.8h1.2M424.8 1138.6h1.2M523.1 1123.9h1.2M442.5 1128.8h1.2M415.4 1078.2h1.2M490.3 1084.5h1.2M370.7 1082.9h1.2M417.9 1038.9h1.2M457.7 1084.7h1.2M468.1 1060.3h1.2M473.3 1068.1h1.2M453.6 1112.3h1.2M408.4 1062.9h1.2M499.2 1083.2h1.2M475.5 1085.9h1.2M469 1101h1.2M439.7 1046.5h1.2M422.2 1095.1h1.2M480.2 1138.6h1.2M443.5 1073.2h1.2M482.2 1080h1.2M459.8 1020.6h1.2M405.8 1051.5h1.2M441.1 1107.4h1.2M520.6 1089.4h1.2M434.6 1125.6h1.2M444.8 1089.4h1.2M432.6 1092.6h1.2M444.6 1062.3h1.2M483.5 1070.1h1.2M473.4 1075.6h1.2M458.3 1069.7h1.2M439.1 1124.6h1.2M372.8 1071.9h1.2M433.2 1015.7h1.2M428.7 1148.6h1.2M520.6 1083.7h1.2M456.9 1094.4h1.2M460.7 1066.3h1.2M393.8 1086h1.2M506.3 1052.1h1.2M464.4 1094.5h1.2M457.7 1027.6h1.2M423.1 1105.4h1.2M425.4 1060.3h1.2M530.8 1093.5h1.2M463.7 1084.4h1.2M408.1 1108.3h1.2M486.2 1119h1.2M441.1 1024.1h1.2M402.8 1040.9h1.2M440.1 1066.7h1.2M383.1 1067.9h1.2M395.3 1066.1h1.2M446.8 1097.7h1.2M392.8 1079.9h1.2M459.1 1095.4h1.2M416.7 1081.1h1.2M370.1 1073.5h1.2M439.5 1096.1h1.2M366.4 1120.1h1.2M403.1 1084.1h1.2M428.3 1106.9h1.2M427.7 1053.1h1.2M443.2 1090.5h1.2M427.3 1116.9h1.2M414.4 1079.8h1.2M475.1 1098.4h1.2M476 1057.9h1.2M407.5 1086h1.2M399.1 1067.1h1.2M437.4 1102.6h1.2M415.9 1040.3h1.2M475.6 1032.1h1.2M442.7 1024.4h1.2M511.3 1006.1h1.2M520.1 1015.7h1.2M531.7 1000.1h1.2M521.7 1003.6h1.2M515.7 1038.3h1.2M515.6 1035.5h1.2M518.8 1001h1.2M514 1009.1h1.2M518.4 1030.9h1.2M516.5 1007h1.2M523 979h1.2M521.8 1008.2h1.2M524.6 998.3h1.2M514.3 970.9h1.2M518.5 986.8h1.2M520.3 1003.8h1.2M523 1010.3h1.2M520 1026h1.2M531.8 968h1.2M514.4 990.3h1.2M521 987h1.2M525 995.3h1.2M527.4 1011.3h1.2M525.2 971.6h1.2M520.8 1006.3h1.2M516.8 1056.2h1.2M513.8 1011.9h1.2M516.3 1027.5h1.2M514.7 1000.3h1.2M501.5 1031.3h1.2M520.4 987.9h1.2" stroke="#b0b0b0" stroke-width="1.2"/>
</g>
<rect x="343.8" y="959.4" width="193.6" height="192.6" stroke="#888" stroke-width="1.3" fill="none"/>
<path d="M343.8 1152.3H537.4" stroke="#9a9a9a" stroke-width="2.4" fill="none"/>
<path d="M358.7 1151v2.8M370 1151v2.8M376.6 1151v2.8M381.3 1151v2.8M384.9 1151v2.8M387.9 1151v2.8M390.4 1151v2.8M392.6 1151v2.8M394.5 1151v2.8M406.8 1151v2.8M418.1 1151v2.8M424.7 1151v2.8M429.4 1151v2.8M433 1151v2.8M436 1151v2.8M438.5 1151v2.8M440.7 1151v2.8M442.6 1151v2.8M454.9 1151v2.8M466.2 1151v2.8M472.8 1151v2.8M477.5 1151v2.8M481.2 1151v2.8M484.1 1151v2.8M486.6 1151v2.8M488.8 1151v2.8M490.7 1151v2.8M503 1151v2.8M514.3 1151v2.8M520.9 1151v2.8M525.6 1151v2.8M529.3 1151v2.8M532.2 1151v2.8M534.7 1151v2.8" stroke="#888" stroke-width="1.5" fill="none"/>
<path d="M345 962V1150" stroke="#999" stroke-width="2" stroke-dasharray="1 2 3 2" fill="none"/>
<rect x="463.6" y="982.4" width="49.4" height="36" stroke="#303030" stroke-width="1.2" fill="none"/>
<path d="M463.6 1018.4L513 1018.4" stroke="#111" stroke-width="2.2" fill="none"/>
<path d="M513 982.4L513 1018.4" stroke="#111" stroke-width="2.2" fill="none"/>
<g fill="none" filter="url(#soft)">
<path d="M1172.9 843.6L1176.2 840.7L1183.6 837.7L1188.3 835.2L1194.1 834.1L1199.4 833.4L1206.9 833.3L1211.8 834L1219.8 837.5L1226.5 835.8L1228.7 844.8L1232.1 850.1L1225.2 852.1L1219.8 861.8L1211.7 868.5L1207 872.6L1202.6 875.1L1194.3 872.9L1188.8 870.9L1183.2 868.6L1180.7 862.6L1177 859.1L1175.2 853.9L1173.6 848.1Z" stroke="#666" stroke-width="0.9" fill="none" stroke-linejoin="round"/>
<path d="M1182 844.8L1189.2 841.6L1198.7 839L1207.4 840.3L1211.8 841.4L1215.2 839.4L1217.1 846.1L1220.7 849.1L1214 851.1L1210.9 856.8L1207.6 860.8L1201.1 863.9L1193.1 862.8L1186.7 857L1184.7 851.6Z" stroke="#777" stroke-width="0.9" fill="none" stroke-linejoin="round"/>
<path d="M1191.5 846.5L1195.3 844.3L1198.3 843.8L1202.2 844.7L1204.3 845.7L1206.3 844.9L1207.9 847L1207.9 847.5L1205.2 848.4L1204.9 850.6L1202.2 853.5L1199.2 854.7L1195.4 854.4L1192.9 852.8Z" stroke="#777" stroke-width="0.9" fill="none" stroke-linejoin="round"/>
<path d="M1237.6 843.8L1240.7 840L1247.8 838.1L1252.8 833.2L1258.5 831.5L1264.2 827.1L1268.9 823.2L1273.2 821.3L1275 816.8L1277.8 811.1L1278.7 806.1L1280.2 799.2L1280.5 793.8L1284.7 788.3L1289.3 784L1293.7 781.3L1298.8 779.5L1303.2 774.7L1308.6 771.7L1314.6 779L1319.1 781.1L1326.5 783.8L1328.1 786.6L1328.1 793L1322.9 800.2L1320 805.4L1318.3 809.6L1320.2 817.1L1323.3 824.4L1325 828.3L1326 834.8L1324.6 841.4L1324.1 846.1L1323.5 854.1L1320.2 858.9L1317.2 865.1L1313.6 869.6L1308.6 873.7L1302.3 874.7L1296.6 876.8L1290.2 877.4L1284.5 877.3L1278.3 876.6L1272.6 877.3L1269.3 876.7L1264.4 875.6L1257.5 873.6L1251.6 871.3L1249.5 867L1245.2 862L1244.1 857.5L1241.4 852.4L1238.8 846.9Z" stroke="#666" stroke-width="0.9" fill="none" stroke-linejoin="round"/>
<path d="M1250.9 845L1253.9 840L1259.1 836.7L1264.7 831.8L1268.8 829.7L1272.5 825.6L1278 823.1L1281.1 820.9L1286.6 813.7L1289.9 808.2L1287.6 802.2L1286.9 795.7L1293.6 789.8L1299.9 795.6L1301.6 801.8L1302.8 808.8L1308.8 810.7L1315.9 815.9L1317.3 819.2L1319.4 825.1L1319.5 830.7L1320.5 836.1L1321.1 841.4L1321.1 846.3L1319.6 850.5L1318.3 857.2L1315.3 863.2L1311.1 868.3L1308.5 871.2L1302.8 873.2L1297.4 873.7L1291.2 873.4L1286 875.1L1279.3 874.6L1273.1 874.4L1268.2 872.9L1261.3 871L1258.5 867L1255.2 862.6L1251.6 857.4L1250.5 849.5Z" stroke="#777" stroke-width="0.9" fill="none" stroke-linejoin="round"/>
<ellipse cx="1289.6" cy="844.2" rx="27.4" ry="24" transform="rotate(0 1289.6 844.2)" fill="#c4c4c4" opacity="0.4" filter="url(#b3)"/>
<path d="M1254.1 844.6L1254.8 841.5L1255.3 838.6L1256.7 836.3L1259 833.5L1260.5 830.5L1262.9 827.8L1264.9 826.4L1267.8 823.5L1271.1 821.4L1274.2 819.8L1277.8 818.2L1281.2 817.1L1284.8 816.7L1288.5 815.2L1291.9 814.6L1294.4 814.2L1297.8 814.3L1301.1 815.6L1304.3 815.9L1306.2 817.3L1309.6 819.2L1312.1 820.9L1315.5 824.3L1316.6 827L1318.9 829.9L1320 833.2L1321.5 837.1L1322 840.7L1322.1 844.1L1322.3 847.3L1320.9 851.1L1320.2 854.4L1319.6 858.2L1317.9 861.3L1315.3 863.6L1313.1 866.2L1311.1 868.5L1308.8 871.4L1306.3 873.1L1303.3 874.4L1300.7 875.2L1298 875.9L1294.3 875.9L1290.6 876.5L1287.8 876.3L1285.3 876.2L1281.4 876.4L1278.2 876.8L1275.8 875.7L1272.7 875.5L1269.2 873.2L1266.7 871.6L1264.2 869.3L1261.8 866.6L1260.3 863.5L1258 861.9L1256.5 858.3L1255.3 856.2L1254.3 853.2L1254.2 850.6L1253.3 847.3Z" stroke="#808080" stroke-width="0.9" fill="none" stroke-linejoin="round"/>
<path d="M1256.4 843.5L1257 840.9L1257.9 836.8L1259.8 834.2L1262.9 831.1L1264.8 828.1L1266.9 826.5L1269.6 824.3L1272.4 822.5L1274.9 821.3L1277.9 819.8L1281.6 819L1285.3 817.6L1287.8 817.1L1291.8 816.6L1296 816.2L1299.1 816.4L1302.3 817.1L1305.6 818.2L1309.1 820L1311.1 822.4L1314.3 825.4L1316 827.3L1317.8 830.3L1319.4 833.4L1319.3 837.2L1320.1 841.1L1321.2 843.6L1320.9 846.9L1320.2 849.9L1319.5 853.4L1317.4 856.4L1315.6 858.9L1314.4 862.4L1313.1 864.8L1310.2 866.7L1307.6 869.4L1305.9 870.3L1303.1 872.2L1299.7 873L1296.3 874.3L1292.4 873.8L1288.3 874.6L1285.1 874.5L1280.8 873.7L1276.6 873.5L1274.1 872.5L1271.3 871.5L1268.2 869.3L1266.7 866.5L1264.3 865.1L1262.2 861.5L1259.6 858.9L1257.5 855.4L1256.8 852L1255.8 847.3Z" stroke="#808080" stroke-width="0.9" fill="none" stroke-linejoin="round"/>
<path d="M1258.6 843.7L1259.9 840.8L1260.8 837.7L1263 834.3L1264.4 830.8L1266.7 828.7L1268.7 827.9L1271.1 825.7L1274.3 823.6L1276.8 822.8L1279.8 820.8L1283.2 820.1L1285.4 819.3L1289.2 818.7L1292.2 818.1L1295.3 817.9L1299.3 818.1L1302 818.8L1305.5 819.8L1308.1 821.3L1310.6 822.9L1312.6 826.1L1314.2 828.9L1316.3 831.5L1317.4 834.5L1318.5 837.2L1318.4 840.5L1319.4 843.5L1318.8 846.6L1317.8 849.8L1317 852.1L1315.9 855.9L1315.4 858.3L1313.8 860.4L1311.6 863L1308.3 865.9L1305.4 867.8L1302 869.6L1299.8 870.8L1295.9 871.1L1291.9 871.5L1289 872.2L1285.6 872.3L1281.4 871.9L1278.1 872L1275.5 871L1271.9 869.2L1269.1 865.3L1265.7 862.5L1264.2 859.9L1261.6 857.3L1259.8 853.7L1259.5 850.3L1258.8 847.1Z" stroke="#b8b8b8" stroke-width="0.8" fill="none" stroke-linejoin="round"/>
<path d="M1261.3 843L1262.1 840.6L1263 837.1L1264.7 834.8L1266.1 831.5L1268.9 829.7L1271.8 826.8L1275.3 825.2L1278.5 823.2L1281.9 822L1284.8 820.2L1288.9 819.3L1292.5 819.5L1295 819.2L1299 818.6L1302.2 820.1L1304.5 820.6L1307.9 822.4L1310.4 825.9L1313.7 828.6L1314.1 831.7L1315.6 834.9L1316.6 836.8L1317.2 840.2L1317.4 844L1316.7 848.4L1315.4 851.2L1314.9 854.7L1312.3 858.3L1310.5 861.8L1308.3 863.5L1305.7 865.7L1302.3 868.2L1298.6 868.5L1295.5 869.2L1292.9 870L1289.6 869.3L1285.7 870.4L1282.9 870L1279.1 868.8L1276.6 868.6L1272.9 867L1270.7 864.6L1268.6 861.3L1265.6 859.1L1264 856L1262.8 853.5L1261.5 849.8L1261.3 846Z" stroke="#b8b8b8" stroke-width="0.8" fill="none" stroke-linejoin="round"/>
<path d="M1263.5 842.4L1264.8 839.6L1266.4 835.3L1268.4 832.8L1271.1 830.6L1273.3 827.7L1276 826.2L1279.3 824.9L1282.5 822.9L1285.2 822.3L1289.6 820.8L1292.1 820.6L1296.3 820.6L1300.5 820.7L1303.9 821.5L1307.6 824.4L1309.4 826.5L1312.2 829.5L1313.6 833L1314.8 836.4L1316.1 840.7L1315.4 844.1L1315 847.4L1314 850.6L1312.8 854.2L1310.8 857L1309.9 859.8L1307 862.2L1304.8 864.3L1301.4 865.2L1298.2 866.7L1294.3 867.1L1289.5 867.5L1286.2 867.9L1281.3 867.4L1278.3 865.7L1275.3 864.5L1272.9 862.5L1270 859.2L1267.9 857.1L1265.9 854.9L1265.3 851.8L1263.5 849L1263.2 845.4Z" stroke="#b8b8b8" stroke-width="0.8" fill="none" stroke-linejoin="round"/>
<path d="M1265.6 842.2L1266.5 838.7L1269.3 835.9L1270.5 832.2L1272.7 830.5L1275.8 828.4L1278.3 827L1280.9 825.6L1284 824.8L1286.6 823L1289.4 822L1292.3 822L1296.3 821.8L1300.7 822.4L1303.9 823.4L1305.9 824.4L1308.9 827.1L1310.8 829.8L1312.4 833.4L1313.5 837L1314.5 839.6L1314.3 843.1L1313.8 846.2L1312.7 849.7L1311.3 852.5L1310.2 855.4L1308.5 858.4L1306.2 859.8L1303.4 862.5L1301 863.4L1297.3 864.6L1293.8 865.1L1290.2 865.8L1286.8 865.8L1283.1 864.4L1279.5 863.8L1276.4 862.5L1274.2 860.4L1272 857.6L1269.9 854L1267.8 851.4L1266.3 846.4Z" stroke="#b8b8b8" stroke-width="0.8" fill="none" stroke-linejoin="round"/>
<path d="M1268.8 841.8L1269.3 839.5L1271.3 835.4L1273.5 833.1L1275.3 830.6L1278.2 828.4L1282.2 827.2L1285.8 825.2L1289.1 823.9L1292.4 823L1295.8 823.4L1299.3 823.1L1302.7 824.8L1304.8 826.4L1307.3 828.3L1309.3 831.6L1311.5 833.5L1312.1 836.6L1312.5 840.2L1312.8 844.3L1311.3 848.5L1309.7 853.1L1306.9 856.4L1304.6 858.7L1300.2 861.6L1297 862.8L1294 862.9L1290.2 862.9L1287.2 863.3L1283.9 862.2L1280.2 861.6L1277.2 859L1273.7 856.2L1271.2 853.3L1269.3 849.4L1268.9 846.2Z" stroke="#b8b8b8" stroke-width="0.8" fill="none" stroke-linejoin="round"/>
<path d="M1271.4 841.2L1272.7 837.5L1275 833.3L1277.8 831.8L1280.1 829.2L1282.8 827.7L1286.1 826.2L1289.9 825.7L1293.5 824.1L1296.6 824.4L1298.9 824.7L1302.5 825.5L1305.2 828.3L1308.2 832.2L1310.5 836.1L1310.6 839.9L1311 843.8L1310.5 847.4L1307.8 851.1L1306.7 855.2L1303.4 856.8L1300.4 859L1297.8 860L1294 860L1290.8 860.5L1287.7 861L1285.3 860.6L1282 859.9L1278.2 857.5L1276.1 854.8L1273.5 852.2L1271.9 848.6L1270.6 845.3Z" stroke="#b8b8b8" stroke-width="0.8" fill="none" stroke-linejoin="round"/>
<path d="M1273 841.3L1274.5 838.2L1277.1 833.8L1280.6 830.7L1284.4 828.7L1287.8 827.8L1290.8 827.1L1293.5 826.2L1297.8 826.4L1301.9 827.4L1305 829.8L1306.4 832.6L1308.8 836.3L1309.4 839.8L1308.9 843L1308.3 846.4L1306.6 850.1L1304.6 852.5L1302.8 855.7L1299.4 856.5L1296.2 857.9L1291.4 858.9L1286.9 858.5L1283.3 857.6L1280.4 855.2L1278.6 853L1275.6 850.4L1274.6 848.1L1273.3 844.1Z" stroke="#b8b8b8" stroke-width="0.8" fill="none" stroke-linejoin="round"/>
<path d="M1276 841.4L1276.6 838.2L1279.2 834.5L1282.3 832.2L1285.8 830.3L1289.7 828L1293.5 827.3L1297 827.1L1300.6 828.7L1303.9 830.5L1305.8 832.7L1306.9 835.7L1308.3 839.6L1308.1 842L1307.4 846.1L1305.8 849L1304.3 851.5L1299 855L1296.2 855.3L1292.4 855.9L1288.5 855.6L1284.8 855.9L1282.3 853.5L1279.8 851.2L1277 847Z" stroke="#b8b8b8" stroke-width="0.8" fill="none" stroke-linejoin="round"/>
<path d="M1278.1 840.4L1279.4 837.5L1281.9 835.4L1283.9 832.2L1287.4 831.1L1290.8 829.3L1293.6 828.7L1297 828.7L1300.7 829.9L1303.8 833.6L1306 839.2L1305.6 845L1303.3 849.6L1299.2 852.4L1295.5 853.1L1292.8 854.2L1289.3 853.5L1286 852.6L1282.2 849.3L1278.9 845.2Z" stroke="#b8b8b8" stroke-width="0.8" fill="none" stroke-linejoin="round"/>
<path d="M1281.4 840L1283.9 835.6L1287.7 831.6L1291.7 830.8L1294.2 829.7L1299.8 830.6L1302.4 833.9L1304.6 838.6L1304 844L1301.5 848.5L1298.4 850.8L1293.1 851.6L1287.7 850.7L1283.8 847.6L1281.7 844.5Z" stroke="#b8b8b8" stroke-width="0.8" fill="none" stroke-linejoin="round"/>
<path d="M1283.9 840.1L1285.9 835.8L1289.9 832.6L1294.3 831.7L1298.2 831.7L1301.6 835.2L1303.1 839.5L1302.9 843.2L1301.3 846.3L1297.9 848L1293.5 849L1288.8 848.8L1285.6 846.4L1283.7 843.7Z" stroke="#b8b8b8" stroke-width="0.8" fill="none" stroke-linejoin="round"/>
<path d="M1286.6 839.3L1287.3 835.9L1290.2 833.6L1294.3 833.1L1298.4 833.2L1300.4 835.4L1301.3 839.3L1300.8 841.8L1299.1 844.7L1297.3 845.9L1294 847L1290.6 846.6L1287.8 844.8L1286.4 842.7Z" stroke="#b8b8b8" stroke-width="0.8" fill="none" stroke-linejoin="round"/>
<path d="M1289 839.6L1289.9 836.6L1291.5 835.6L1294.3 834.7L1297.1 834.3L1299.4 835.9L1299.9 838.6L1299.2 840.5L1298.3 843.1L1297.1 843.8L1294.9 844.3L1291.3 844.2L1289.5 842.8L1288.2 840.9Z" stroke="#b8b8b8" stroke-width="0.8" fill="none" stroke-linejoin="round"/>
<path d="M1291.4 838.4L1291.8 837.3L1293.5 835.8L1295.7 835.4L1297.3 835.5L1297.6 837.4L1298.4 838.7L1298.7 840.2L1297.8 841.6L1295.8 841.8L1295.2 842.7L1292.6 842.7L1292.2 841.1L1291.1 840Z" stroke="#b8b8b8" stroke-width="0.8" fill="none" stroke-linejoin="round"/>
<path d="M1293.9 838.2L1293.7 837.9L1294.5 837.3L1294.9 837.2L1295.9 837.6L1296.3 838.2L1296.9 837.8L1296.7 838.8L1296.2 839.7L1296 840.2L1295.3 839.7L1294.9 840L1293.3 839.8L1294.1 839.5Z" stroke="#b8b8b8" stroke-width="0.8" fill="none" stroke-linejoin="round"/>
<ellipse cx="1282.7" cy="875.8" rx="10.3" ry="0.9" transform="rotate(0 1282.7 875.8)" fill="#444" opacity="0.8" filter="url(#b1)"/>
<ellipse cx="1317.9" cy="767.1" rx="9.4" ry="10.3" transform="rotate(0 1317.9 767.1)" fill="#a8a8a8" opacity="0.5" filter="url(#b2)"/>
<ellipse cx="1325.9" cy="763.7" rx="3.1" ry="7.2" transform="rotate(0 1325.9 763.7)" fill="#777" opacity="0.6" filter="url(#b2)"/>
<path d="M1328.4 769.2L1329 771.9L1327.9 775L1327.8 777.3L1326 780.7L1324.6 783.9L1322.8 785.9L1317.8 789.1L1312.6 788.1L1308.9 784.3L1305.1 779.9L1301.8 775.6L1301.3 771.4L1300.9 769L1301.6 765.8L1302.2 762.9L1303 759.6L1303.6 756.3L1308.2 752.4L1312.3 750.1L1317.9 748.8L1322.7 751.2L1324.7 753.8L1326.2 757L1327.6 759.8L1327.7 763.1L1328.2 766.1Z" stroke="#777" stroke-width="0.9" fill="none" stroke-linejoin="round"/>
<path d="M1328.3 769L1327.3 774.5L1325.5 779.3L1322.1 784.1L1318 786.6L1312.8 785.8L1309.2 782.3L1306.6 778.4L1303.6 774.3L1303.6 768.4L1303.2 763L1305 757.2L1309.3 753.6L1312.9 752.6L1317.6 751.3L1323.1 753.3L1325 757.4L1327.4 763.3Z" stroke="#777" stroke-width="0.9" fill="none" stroke-linejoin="round"/>
<path d="M1326.7 767.8L1325.9 772.5L1324.7 777.4L1322.6 782.4L1318.1 785.2L1313.9 782.9L1310.5 780.9L1307.8 778L1305.5 773.6L1305 768.6L1306.1 763.4L1307.7 758.8L1310.5 755.9L1314 753.7L1317.9 752.5L1321.8 754.6L1325 758.5L1326.5 763.7Z" stroke="#a0a0a0" stroke-width="0.8" fill="none" stroke-linejoin="round"/>
<path d="M1325.2 768.7L1324.9 772.8L1323.4 776.5L1321.7 779.3L1318.1 782.1L1314.5 781.1L1311.9 778.1L1309.2 776.4L1307.3 772.5L1307.8 768.3L1307.1 763.9L1308.4 759.7L1312.2 756.7L1314.5 756.1L1317.9 755.4L1321.7 756.4L1324.5 759.9L1325.2 763.9Z" stroke="#a0a0a0" stroke-width="0.8" fill="none" stroke-linejoin="round"/>
<path d="M1325 768.1L1324.3 771.7L1322.9 774.7L1321.1 777.7L1318.7 780.2L1316 779L1313.5 776.6L1311.4 774.1L1309.7 771.9L1308.8 767.9L1309.3 764.8L1310.5 760.7L1312.8 758.4L1316.2 757.2L1318.3 757.2L1321.4 757.6L1323 761.8L1323.9 765.1Z" stroke="#a0a0a0" stroke-width="0.8" fill="none" stroke-linejoin="round"/>
<path d="M1324 767.8L1323.2 770.6L1321.8 772.6L1321.2 776L1318.9 777.5L1316.1 776.1L1314.9 774.8L1312.1 773.2L1311.4 770.9L1310.7 768L1312 764.7L1312.7 762.3L1314.5 760.2L1315.9 759.7L1319 758.4L1320.4 759.6L1322.7 761.9L1323.5 765.5Z" stroke="#a0a0a0" stroke-width="0.8" fill="none" stroke-linejoin="round"/>
<path d="M1321.9 767.3L1321.8 769.4L1321.5 771L1321.1 773.1L1318.5 774.1L1316.8 773.7L1315.3 773.2L1314.3 771.4L1313 769.7L1313.5 767.7L1312.9 765.6L1313.5 763.3L1315.2 761.5L1317.2 760.9L1318.8 761.3L1320.5 761.7L1321.5 763.8L1322 765.1Z" stroke="#a0a0a0" stroke-width="0.8" fill="none" stroke-linejoin="round"/>
<path d="M1321.8 767.4L1321 768.8L1320.7 770.3L1319.7 771.1L1319.1 772.1L1317.3 771.7L1316.5 771.4L1315.7 770.3L1315.4 768.8L1315.6 767.5L1315.2 765.8L1315.4 764.5L1316.7 763.8L1318.2 763.6L1318.3 762.2L1320.3 763.8L1321.3 764.6L1321.4 765.4Z" stroke="#a0a0a0" stroke-width="0.8" fill="none" stroke-linejoin="round"/>
<path d="M1320 767.2L1320 768L1320.4 768.3L1319.7 769.6L1319.2 769.7L1318.9 769.6L1318 768.8L1317.6 768.4L1317.1 767.4L1317.3 766.6L1316.9 765.8L1316.8 765.9L1318.1 764.6L1318.4 765.3L1319.2 764.4L1319.1 765.2L1320.1 765.7L1320.5 766.1Z" stroke="#a0a0a0" stroke-width="0.8" fill="none" stroke-linejoin="round"/>
<path d="M1262.1 819.6h1.2M1310.2 832.7h1.2M1250.7 757.5h1.2M1205.9 810h1.2M1186.1 835.7h1.2M1219.3 850.7h1.2M1203.3 810.3h1.2M1191.5 826.5h1.2M1267.9 766.3h1.2M1316.4 845.7h1.2M1222.8 806.5h1.2M1163.1 831.9h1.2M1230.7 856.8h1.2M1281.4 787.8h1.2M1213.4 823.6h1.2M1209.9 817.4h1.2M1211 796.8h1.2M1209.6 825h1.2M1185.2 826h1.2M1265.9 820.3h1.2M1248.1 779.7h1.2M1221 795.8h1.2M1234 829.3h1.2M1182.5 878.4h1.2M1214.7 775.5h1.2M1210.2 863.7h1.2M1182.4 800h1.2M1205.5 840.1h1.2M1195.3 783.5h1.2M1223.4 835.5h1.2M1265.3 798.8h1.2M1222.9 816.8h1.2M1250 806.6h1.2M1250.7 803.6h1.2M1283.9 783.8h1.2M1243.9 808.8h1.2M1293.6 815.6h1.2M1217.4 801.6h1.2M1236.3 845.4h1.2M1279.6 767h1.2M1256.1 819.2h1.2M1231.3 826.5h1.2M1231.8 846.4h1.2M1175.2 862.4h1.2M1265 812.2h1.2M1284.7 833.8h1.2M1282 808.7h1.2M1274 852.2h1.2M1236.9 780.2h1.2M1293.6 793.7h1.2M1241.1 857.8h1.2M1197.6 813.2h1.2M1240.4 820.8h1.2M1217.9 756.2h1.2M1227.3 804h1.2M1227 781.3h1.2M1294.5 829.4h1.2M1244.1 795.5h1.2M1213.2 815h1.2M1228.1 801.1h1.2M1286.1 867.2h1.2M1327 817.6h1.2M1182.2 806.3h1.2M1175.8 817.7h1.2M1320.1 868.9h1.2M1244.6 813h1.2M1261.4 816.2h1.2M1205.8 764.9h1.2M1186.9 836.4h1.2M1248.7 829.1h1.2M1271.6 776.6h1.2M1249.4 791.8h1.2M1239 861.9h1.2M1238.7 806.7h1.2M1279.2 843.7h1.2M1210.9 825.4h1.2M1230.4 825.1h1.2M1164.5 849.2h1.2M1206.2 864.5h1.2M1214 785.1h1.2M1177.1 829.5h1.2M1283 805h1.2M1247.5 834.2h1.2M1259.5 833.5h1.2M1247.1 840.4h1.2M1314.3 822.6h1.2M1268.5 827.3h1.2M1226.3 829.1h1.2M1171.4 873.3h1.2M1223 817.3h1.2M1172.9 862.4h1.2M1245.5 761.5h1.2M1203.9 849.8h1.2M1286 855.4h1.2M1287.8 813.3h1.2M1265.3 847.9h1.2M1182.8 772h1.2M1237.3 786.8h1.2M1174.6 853.7h1.2M1242 857.6h1.2M1277.2 847.2h1.2M1202.7 803.7h1.2M1274.5 820.3h1.2M1218.7 834.3h1.2M1233.3 787.5h1.2M1179.2 803.3h1.2M1195 853.6h1.2M1275.6 840.1h1.2M1220.9 808.1h1.2M1208.3 836.2h1.2M1293.6 812.5h1.2M1237 830.6h1.2M1270.8 814.6h1.2M1220.8 815.2h1.2M1160.5 816.9h1.2M1258.5 790.6h1.2M1248.5 784.2h1.2M1261.7 808.1h1.2M1255.1 803.9h1.2M1325.5 797.4h1.2M1267.4 806.3h1.2M1221.9 787.5h1.2M1274.7 802.9h1.2M1234.5 863.4h1.2M1231.3 801.3h1.2M1268.4 866.8h1.2M1217.7 772.3h1.2M1172.1 835.9h1.2M1185.4 852h1.2M1154.2 801.2h1.2M1179.2 822.6h1.2M1211.4 813.4h1.2M1295.9 807.2h1.2M1233.8 834.1h1.2M1210.2 821.8h1.2M1190.1 836.1h1.2M1302.6 808.1h1.2M1292.6 793h1.2M1277.1 786.2h1.2M1247.2 773.2h1.2M1268.1 872.9h1.2M1214.9 812.9h1.2M1202.1 806.4h1.2M1293.7 812.7h1.2M1225.2 838.4h1.2M1264.1 857.9h1.2M1191 843h1.2M1245.3 870.5h1.2M1286.2 798.3h1.2M1240.9 814h1.2M1157.6 798.8h1.2M1302.1 804.3h1.2M1221.6 858.2h1.2M1225 801.3h1.2M1188.4 824h1.2M1280.8 849.5h1.2M1199.8 768h1.2M1218.3 872.7h1.2M1184.7 854.7h1.2M1246.6 833.9h1.2M1307.1 780.3h1.2M1222.6 818.2h1.2M1171.9 832.2h1.2M1268.8 801h1.2M1261.3 777.3h1.2M1173.1 824.6h1.2M1312.7 858h1.2M1255 834.8h1.2M1330.9 785.8h1.2M1174.2 866.6h1.2M1233.7 770.5h1.2M1276.9 880.7h1.2M1252 848.6h1.2M1185.7 873.3h1.2M1193.7 777.4h1.2M1223.6 799h1.2M1246.3 790.8h1.2M1234.9 781.1h1.2M1320.7 832h1.2M1225.5 839.8h1.2M1241.3 812.3h1.2M1218.1 804.6h1.2M1177.8 822.5h1.2M1179.5 845.8h1.2M1176.5 854.2h1.2M1178.2 782.7h1.2M1193.9 825.9h1.2M1280.3 780.1h1.2M1220.4 791.5h1.2M1198 815.6h1.2M1263.6 799.3h1.2M1252.6 834.8h1.2M1230.9 815.7h1.2M1268.3 783.7h1.2M1212.5 791.2h1.2M1198.6 849.4h1.2M1255.6 868.2h1.2M1244.8 772.5h1.2M1170.6 826.3h1.2M1184.9 795.8h1.2M1160.1 825.7h1.2M1244 840.7h1.2M1205.4 867.4h1.2M1178.2 799h1.2M1152.4 862.1h1.2M1246.8 828.3h1.2M1245.4 830.2h1.2M1209.6 804.2h1.2M1247.2 783.2h1.2M1266.1 823.8h1.2M1226.9 786.7h1.2M1276.4 811.1h1.2M1221.2 831.3h1.2M1265.7 797.2h1.2M1236.2 862.2h1.2M1234.9 818.4h1.2M1241.8 823.4h1.2M1215.2 860.2h1.2M1250.1 857.4h1.2M1214.1 857h1.2M1286 833h1.2M1272.1 791.5h1.2M1233.5 802.6h1.2M1236.1 788.1h1.2M1213.3 791.1h1.2M1225.7 810.5h1.2M1219.5 801.1h1.2M1303.9 851.6h1.2M1198.1 821.9h1.2M1246 805.1h1.2M1248.6 852.5h1.2M1223.7 819.5h1.2M1248.8 822.8h1.2M1262 823.3h1.2M1275.6 847h1.2M1212.6 863.4h1.2M1307.3 823.1h1.2M1234.7 802.6h1.2M1185.4 815h1.2M1211.2 775.5h1.2M1196.2 815.7h1.2M1184.5 869.2h1.2M1236.9 815.4h1.2M1242.8 755.7h1.2M1167.1 818.1h1.2M1302.3 838.2h1.2M1300.8 823.8h1.2M1277.1 800.3h1.2M1267.8 843.6h1.2M1320.7 842.2h1.2M1226.8 826.6h1.2M1215.5 779h1.2M1216.8 812.5h1.2M1287.8 835.1h1.2M1277 841.6h1.2M1295.6 825.5h1.2M1325.3 828.6h1.2M1241.8 816.4h1.2M1212.6 841h1.2M1229.9 767.2h1.2M1180.6 809.2h1.2M1186 815.3h1.2M1180.7 860.8h1.2M1276.6 820.1h1.2M1233.6 821.4h1.2M1210.4 820.5h1.2M1171.5 789.4h1.2M1243.9 838.4h1.2M1191.9 859.5h1.2M1264.1 824h1.2M1223.3 856.3h1.2M1216.2 848.2h1.2M1220.2 793.2h1.2M1271.7 843.7h1.2M1315.8 853.8h1.2M1199.1 788.6h1.2M1205.2 811.9h1.2M1173.1 790.1h1.2M1231.8 819.4h1.2M1239.1 860.3h1.2M1243.6 819h1.2M1212.2 801.8h1.2M1161.5 805.7h1.2M1189 831.7h1.2M1189 842h1.2M1202.6 827.4h1.2M1270.7 811.8h1.2M1242.1 871.1h1.2M1246.6 814.9h1.2M1285 805.2h1.2M1177.9 777.2h1.2M1181.9 812.2h1.2M1217.7 870.5h1.2M1278.4 836.9h1.2M1240.1 845.5h1.2M1258.1 794.8h1.2M1181.2 845.5h1.2M1196.9 828.9h1.2M1274.3 817.7h1.2M1307.4 871h1.2M1264.3 801.5h1.2M1231.6 765.4h1.2M1199.4 808.6h1.2M1276.8 811h1.2M1212.8 791.6h1.2M1194.6 794.2h1.2M1231 797.4h1.2M1204.3 780.4h1.2M1223.8 801.7h1.2M1218.4 771.8h1.2M1286.7 851.9h1.2M1170.6 849.1h1.2M1284.2 849.3h1.2M1212.5 847.4h1.2M1188.3 792.6h1.2M1204.4 850h1.2M1250.1 842.6h1.2M1190.2 818.8h1.2M1229.3 807.3h1.2M1238.4 844h1.2M1269.7 850.1h1.2M1156.2 823.1h1.2M1242 808.6h1.2M1192.5 835.7h1.2M1168.1 839.2h1.2M1226 871h1.2M1187.3 810h1.2M1157.9 796.4h1.2M1194 864.8h1.2M1184.2 780.5h1.2M1305.9 796.6h1.2M1236.5 762.7h1.2M1167.6 861.3h1.2M1213.2 821.2h1.2M1272.5 819.7h1.2M1280.8 830.9h1.2M1191.8 795.4h1.2M1236.8 856.1h1.2M1262.2 836.5h1.2M1169.4 813.1h1.2M1290.4 856.3h1.2M1215 795.1h1.2M1262 781.4h1.2M1175.7 827.3h1.2M1244.1 825.7h1.2M1158.6 805.1h1.2M1313.3 773.6h1.2M1252.9 798.3h1.2M1258.5 823.4h1.2M1227 793.7h1.2M1273 781.6h1.2M1295.2 831.3h1.2M1228.1 845.6h1.2M1244.2 867.3h1.2M1200 825.5h1.2M1226.2 837.1h1.2M1242.1 782.1h1.2M1201.3 765.9h1.2M1270.1 821.6h1.2M1265.1 773.6h1.2M1233.5 783.3h1.2M1228.7 827.6h1.2M1226.1 837.8h1.2M1264.6 818.8h1.2M1234.9 875.2h1.2M1222 797h1.2M1315.5 819.8h1.2M1196.9 782.5h1.2M1320.4 838.7h1.2M1218.6 796.2h1.2M1280.7 800.5h1.2M1174.2 798.4h1.2M1244.9 836.3h1.2M1207.7 838.6h1.2M1230.7 832.5h1.2M1196.4 862h1.2M1271.6 858.7h1.2M1237.5 854.1h1.2M1235.1 844.4h1.2M1168.9 833.9h1.2M1292.4 796.4h1.2M1199.4 808.5h1.2M1215.6 778.6h1.2M1236.2 827.1h1.2M1259.1 809.2h1.2M1251.2 830.2h1.2M1159.7 815.3h1.2M1326.6 793.1h1.2M1283.1 816.8h1.2M1225.4 840.8h1.2M1189.3 850.1h1.2M1209.4 792.1h1.2M1271.7 860.4h1.2M1201 797.7h1.2M1241 774.8h1.2M1213.9 812.2h1.2M1177.7 826.9h1.2M1204.9 776h1.2M1206.4 815.5h1.2M1268.6 870.3h1.2M1290.4 826.8h1.2M1183 781.3h1.2M1284.8 813h1.2M1278.7 792.3h1.2M1227.7 810.4h1.2M1182.7 856.8h1.2M1229.7 804.4h1.2M1224.9 863.5h1.2M1240.8 817.9h1.2M1256.7 810.1h1.2M1191.5 846.1h1.2M1272.7 804.2h1.2M1156 847.7h1.2M1246 854.6h1.2M1239.6 820.5h1.2M1224.7 814.6h1.2M1217.7 843.4h1.2M1191.5 840.2h1.2M1220.7 773h1.2M1276.3 799.9h1.2M1194 867.5h1.2M1225 835.7h1.2M1206.2 835.5h1.2M1189.7 779.7h1.2M1167.6 828.7h1.2M1314.3 846.3h1.2M1221 868.1h1.2M1181.7 830h1.2M1224 811.4h1.2M1167 822.6h1.2M1215 791.5h1.2M1198 817.3h1.2M1269.1 784.8h1.2M1256.9 835.1h1.2M1178.3 813h1.2M1224.1 783.3h1.2M1194 803.3h1.2M1261 793.4h1.2M1160.4 809.9h1.2M1271.2 818.3h1.2M1190.9 816.1h1.2M1238.9 796.9h1.2M1219 807.4h1.2M1277.9 830.7h1.2M1266.6 824.6h1.2M1242.9 833.2h1.2M1188.3 791.4h1.2M1259.7 823.8h1.2M1222.4 792.9h1.2M1314.5 806.7h1.2M1236 832.4h1.2M1216 764.8h1.2M1193.2 773.2h1.2M1194.7 787.2h1.2M1236.1 800.2h1.2M1268.8 799.7h1.2M1317.3 795.8h1.2M1219.3 852.3h1.2M1225.4 804.8h1.2M1326 794.2h1.2M1267.1 757.9h1.2M1321 715h1.2M1329.4 759.4h1.2M1307.9 742.3h1.2M1332.3 746h1.2M1323 731.9h1.2M1308 743h1.2M1330.4 754.6h1.2M1321.5 750.2h1.2M1312.2 734.7h1.2M1320.2 759.2h1.2M1334.3 729.4h1.2M1318.7 754h1.2M1325 723.5h1.2M1333 731.1h1.2M1332.9 752.8h1.2" stroke="#b0b0b0" stroke-width="1.2"/>
</g>
<rect x="1149" y="696" width="188.4" height="188" stroke="#707070" stroke-width="1.4" fill="none"/>
<path d="M1149 696L1337.4 696" stroke="#5a5a5a" stroke-width="1.8" fill="none"/>
<rect x="1295.4" y="724.4" width="37.6" height="50" stroke="#303030" stroke-width="1.2" fill="none"/>
<path d="M1295.4 774.4L1333 774.4" stroke="#111" stroke-width="2.2" fill="none"/>
<g fill="none" filter="url(#soft)">
<path d="M1395.3 851.4L1395.9 846.9L1400.2 842.2L1404.4 836.2L1407.4 832.8L1411.5 831.6L1416.3 829.5L1423.6 829.9L1429.3 830.6L1436.7 830L1442.1 832L1446.2 831.5L1452.5 832.4L1455.7 832.5L1462.4 834L1467.6 834.1L1472.7 833.4L1478.3 830.8L1484.7 828.7L1489.6 826.1L1493.7 822.2L1497.2 819.5L1501.9 815.8L1507.1 811.9L1511.7 807.6L1511.9 801.8L1510.8 797.3L1511.8 791L1512.7 786.1L1515.6 780.5L1521 777.4L1524.7 775.4L1530.6 774.6L1534.9 772.7L1541.1 772.7L1547.2 774.3L1553.4 775L1555.1 780L1556.4 786.8L1555.5 793.7L1556.6 799.4L1557.1 806.9L1556.8 811.7L1557.9 818.2L1555.4 822.6L1554.6 828.9L1554.8 833.5L1551.6 838.5L1551.4 844.1L1548.6 850.3L1543.7 855.2L1542.7 859.4L1538.8 866.7L1534.6 871.1L1530.5 873.9L1525.4 873.1L1518.3 873.2L1514.1 874.7L1507.4 873.9L1502.7 872.6L1498.3 873.1L1491.3 873.1L1483 871.8L1477.5 870.6L1473.4 867.2L1466.5 863.5L1462 865L1454.8 864.8L1450.6 866.7L1448.6 872.2L1444 873.8L1438.1 874.8L1432.5 873.4L1427.6 874.3L1421.1 873.1L1417.6 873.1L1412 871.3L1406.6 865.9L1403.2 861.2L1397.6 856.5Z" stroke="#666" stroke-width="0.9" fill="none" stroke-linejoin="round"/>
<path d="M1409.6 842.4L1414.8 839.5L1423 836.2L1426.9 837.1L1432.3 836.7L1438.6 838.9L1445.1 843.1L1450.3 846.7L1446.9 851.7L1442.8 855.8L1434.8 861.3L1430.1 867.1L1426 864L1423 858.8L1416.4 856.8L1412 853.8L1409.4 848.9Z" stroke="#777" stroke-width="0.9" fill="none" stroke-linejoin="round"/>
<path d="M1435.1 848.8L1435.5 850.7L1434.8 852.6L1432.1 853.4L1429.9 853.7L1427.6 853.8L1426.5 853.4L1424.3 852.3L1422.7 850.9L1422.9 848.2L1423.4 845.6L1424.6 845.2L1426.4 843.5L1428.4 841.6L1430.5 841.8L1433 842.2L1435 843.5L1435.2 846.1Z" stroke="#777" stroke-width="0.9" fill="none" stroke-linejoin="round"/>
<path d="M1432.6 847.8L1431.7 849.6L1431.4 850.3L1431 850.7L1429.9 851L1429.2 850.7L1427.8 850.6L1426.5 850.5L1425.8 849.1L1426.1 847.6L1426.1 847.7L1427.6 845.9L1427.4 845.5L1429.2 845.6L1430.3 844.8L1430.5 845.8L1432.1 846.2L1433 847.2Z" stroke="#777" stroke-width="0.9" fill="none" stroke-linejoin="round"/>
<path d="M1472.9 847.9L1475.2 843.1L1480.4 837.4L1483.4 832.9L1488.3 829.1L1493 826.1L1497.2 821.8L1501.5 818.2L1507.3 815.3L1510.3 811L1514.5 807L1520.7 802.6L1524.7 798.1L1529.6 794.4L1533.4 791.2L1539.6 791.5L1545.6 793.1L1551 797L1551.6 801.5L1553.9 807.6L1554.1 813.4L1552.9 817.7L1552.3 823.8L1552.8 828.3L1551 833L1549.9 839.4L1547.8 844.7L1545 848.9L1541.9 854.7L1539.6 859.8L1535.6 865.3L1529.9 868.4L1525 870L1521 869.7L1515.5 870.4L1508.8 870.7L1502.8 868.5L1497.2 867.5L1493.5 866.4L1487.8 862.9L1483.9 860.2L1479.7 856.4L1474.9 852.4Z" stroke="#777" stroke-width="0.9" fill="none" stroke-linejoin="round"/>
<ellipse cx="1521.7" cy="833.6" rx="24" ry="30.8" transform="rotate(25 1521.7 833.6)" fill="#c4c4c4" opacity="0.4" filter="url(#b3)"/>
<path d="M1476.8 847.9L1477.9 844.3L1480 842.3L1482.2 839.4L1485 836.3L1487.6 833.3L1489.8 830.7L1492.2 829.1L1494.3 827L1496.6 824.3L1498.2 822.4L1501 819.7L1504.1 817.9L1506 815L1508.8 812.8L1511.3 810.2L1514 808.9L1516.8 806.7L1519.2 803.8L1521.5 801.1L1523.5 799.5L1526.1 797.7L1528.2 795.6L1530 794.2L1534.5 792.4L1537 790.3L1540.6 790.9L1543.6 792.3L1547 794.4L1548.8 797.3L1549.7 800.1L1551.1 804.1L1551.3 807.2L1552.4 810.7L1552.8 814.7L1552.3 818L1552 821.3L1552.7 823.7L1551.9 827L1552 830.6L1550.3 833.3L1550.4 836.5L1549.4 839.8L1548.4 842.6L1547.1 845.8L1545.4 848.4L1544 851.1L1542.5 854.3L1541.2 856.8L1539 859.4L1537.7 862.6L1535.5 864.6L1532.2 866.1L1528.9 868.1L1525.3 869.6L1521.3 870.1L1518.7 871L1514.4 870.7L1511.4 870.4L1507.5 870L1505.1 869.7L1501.1 869.1L1497.5 867.2L1493.3 865.8L1491.2 864.9L1488.1 862.3L1485 860.2L1482.5 857.2L1479.5 854.5L1477.1 850.9Z" stroke="#808080" stroke-width="0.9" fill="none" stroke-linejoin="round"/>
<path d="M1480.5 846L1480.9 843.7L1482.5 841.4L1484.6 838.4L1487.7 835.3L1490.1 832.8L1491.9 830.6L1493.8 828.6L1495.9 827.1L1498.2 824.9L1501 822.2L1502.4 819.8L1505.2 818.8L1507.5 816.2L1510.4 814L1512.9 812.2L1514.7 808.9L1516.9 807L1520.3 805L1522.4 802.7L1525.7 799.6L1528 798.2L1529.8 796.6L1534.3 793.7L1536.4 792.8L1540.1 793.5L1542.8 794.3L1545.2 796.4L1548.1 798.9L1549.3 802.4L1550 804.6L1551.1 808.8L1550.8 812L1551 815.5L1551.1 819.4L1551.5 822.1L1551.4 826.4L1550.7 830L1549.5 833.5L1549.2 836.3L1547.8 840L1546 843.1L1544.9 846.1L1543.6 849.7L1541.2 852.7L1540 855L1538.9 857.6L1536.5 860.6L1534.7 861.9L1532.6 864.1L1529.6 866.2L1525.5 866.5L1522.7 867.4L1519.4 868.2L1516.1 868.4L1512.6 868L1509.5 867.1L1505.7 867.3L1502.3 866.3L1499.1 865L1495.9 864L1493 862.5L1489.8 860L1486.9 857.9L1484.7 855.8L1483.1 852.6L1480.4 849.7Z" stroke="#808080" stroke-width="0.9" fill="none" stroke-linejoin="round"/>
<path d="M1483.7 845.5L1484.3 842.5L1485.4 840L1487.6 837.5L1489.7 835.4L1492.2 833.5L1494.7 830.7L1496.6 828.5L1499.4 826.1L1502.1 823.2L1504.5 820.4L1506.2 819.3L1509 817.1L1511.2 814.2L1513.8 812.1L1515.5 810.7L1517.9 809.3L1520.2 806.7L1523.3 804.4L1525.3 801.8L1527.9 799.7L1530.6 798.8L1533.3 796.4L1536.6 795.5L1539.8 794.8L1541.7 796.3L1544.3 797.8L1546.3 800.6L1547.7 803.7L1548.3 806.2L1549.4 809.9L1549.5 813.2L1550.3 816.6L1550 819.7L1550.3 822.8L1549.5 826.5L1549.5 830L1547.8 832.5L1547.2 836.3L1546.4 838.9L1544.6 842.5L1543.9 845.7L1542.3 848L1540.1 850.8L1538.8 854.4L1536.7 857.1L1535.3 860.5L1532.2 862.5L1529.8 863.7L1525.7 864L1523 865.3L1520 866.1L1516.3 865.8L1513.7 865.4L1509.9 864.9L1507.4 864.8L1504.6 863.5L1501.3 862.4L1498.6 861.8L1495.5 860L1492.3 858.1L1490.6 856.2L1487.9 854.6L1485.9 851.4L1483.7 847.9Z" stroke="#b8b8b8" stroke-width="0.8" fill="none" stroke-linejoin="round"/>
<path d="M1486.3 844.1L1487.8 841.5L1489.4 838.4L1492.9 835.3L1495.2 832.1L1497.6 830.4L1498.9 827.6L1501.5 825.8L1503.3 824.1L1506.7 821.2L1508.2 819.4L1511.2 817L1513.9 814.1L1516.8 812.7L1518.6 810.1L1521.7 807.8L1524.8 805L1528 801.8L1530.5 800L1535.2 797.8L1539 797.1L1541 798.4L1544.2 800.1L1545.2 803L1546.5 805.9L1547.6 809.3L1547.9 812.9L1548.7 817.1L1548.2 820.4L1547.8 823.5L1548.4 826.7L1547.5 829.7L1547.4 833.1L1546.2 834.9L1545.2 838.5L1544.4 841.7L1542.6 844L1541.4 846.9L1539.7 850L1537.8 852.8L1537 855.4L1534.6 858L1532.3 860.1L1529.6 860.9L1526 862.4L1523.4 863.2L1519.2 862.6L1516.2 863.5L1513 862.9L1509 861.6L1506.1 861.8L1502.9 860.5L1500.7 858.6L1498.1 857.6L1494.9 855.8L1492.7 854.5L1491.1 851.8L1488.1 850.2L1487 846.6Z" stroke="#b8b8b8" stroke-width="0.8" fill="none" stroke-linejoin="round"/>
<path d="M1490.1 842.2L1490.6 839.9L1492.3 837L1495.4 835.3L1497.7 831.8L1499.8 829.4L1502.5 827.1L1505 824L1508.3 821.4L1510 819.6L1512.2 817.6L1515.1 816L1517.1 813.9L1519.8 811L1522.5 809L1525.4 805.7L1527.8 803.9L1530.6 801.9L1534.6 800.1L1537.8 799.7L1541.7 801.4L1544.7 804.9L1545.9 807.6L1546.7 810.9L1546.6 814.2L1547.2 818.1L1546.6 821.1L1547.2 824.6L1546 828.7L1546.3 832.2L1545.3 836L1543.2 839.3L1542 842.5L1540.8 845L1538.6 848.7L1537.2 851.5L1536.4 853.8L1534.6 856.2L1531.3 857.7L1527.7 858.7L1523.6 860.2L1520.6 860.7L1517.1 860.8L1514.2 859.6L1510.2 859L1507.1 858.7L1503.6 856.9L1499.5 856.1L1496.9 853.1L1493.4 850L1491.2 846.6Z" stroke="#b8b8b8" stroke-width="0.8" fill="none" stroke-linejoin="round"/>
<path d="M1492.7 841L1494.2 838.8L1495.4 837L1498 834.8L1499.8 832.1L1501.7 829.3L1504 827L1506.9 825.1L1509 822L1512.2 820.3L1515.4 816.8L1518 814.9L1521 812.4L1522.8 809.8L1525 808.3L1527.8 806L1530.2 804.2L1533.3 802.4L1537 801.3L1540.7 802.7L1543.6 806.2L1543.9 809.4L1544.7 811.6L1545.9 814.7L1546.1 818.1L1545.3 821.5L1545.2 825.4L1544.6 828L1544.8 831.5L1543.4 834.6L1541.9 838.4L1541.1 841.3L1539.7 844.2L1537.9 847L1536 851.3L1533.1 853.8L1531.2 855.5L1527.5 857.4L1523.5 857.7L1521 858.2L1518 858.4L1514.4 857.1L1512.1 856.6L1508.2 856.3L1505.3 854.7L1502.9 853.5L1498.9 851.4L1495.8 848.9L1494.1 845.5Z" stroke="#b8b8b8" stroke-width="0.8" fill="none" stroke-linejoin="round"/>
<path d="M1496.1 840.5L1496.9 837.4L1499.4 834.3L1502.4 831.4L1504 829.2L1506.8 826.9L1508.5 825.4L1510.7 823L1513.2 819.9L1516.5 818.5L1518.8 816L1521.2 813.6L1523.8 810.8L1527.5 808.5L1530.4 806.4L1534.1 804.4L1536.4 804L1539.3 805.5L1541.8 807.8L1543.6 811.3L1544.3 815.4L1544.7 819.7L1544.9 822.7L1544.3 825.6L1543.2 829L1543.6 831.2L1541.7 835.5L1540.3 838.8L1538.2 842.9L1537.3 845.7L1535 849L1532.7 851.6L1530.3 853L1527.5 854.2L1524.7 855.5L1521 854.9L1516.5 854.8L1513.6 854.8L1510 854L1507.2 852.5L1504.4 851.6L1501.1 849.2L1498.9 847.1L1496.7 844.1Z" stroke="#b8b8b8" stroke-width="0.8" fill="none" stroke-linejoin="round"/>
<path d="M1498.4 839L1500.3 836L1502.2 833.5L1504.5 830.8L1507.2 827.8L1510.4 825.4L1512.8 823.3L1515.1 821.5L1517.8 818.5L1520.2 816.5L1521.4 815.6L1525.2 812.6L1527.5 810.3L1529.8 807.6L1532.6 806.2L1536.3 806.2L1539.1 807.8L1540.5 810.5L1541.6 813L1542.7 816.3L1542.7 819.9L1542.8 823.3L1542.6 827L1542 831.6L1540.7 834.9L1539.9 838.3L1537.6 840.7L1536.1 844.2L1535.2 847L1532.6 849.4L1529.2 851.7L1525.2 852.6L1522.2 852.9L1518.4 852.8L1515.4 852.3L1510.2 850.3L1506.9 848.9L1503.8 846.8L1501.9 844.9L1499.7 841.8Z" stroke="#b8b8b8" stroke-width="0.8" fill="none" stroke-linejoin="round"/>
<path d="M1502.4 837.4L1504.5 834.9L1507.5 830.8L1509.6 828.4L1512.4 826.4L1514.5 823.9L1517.5 820.9L1520 818.3L1522.2 815.9L1525.7 813.8L1527.9 811.8L1529.5 809.8L1535.2 808.2L1539.8 811.5L1540.5 814.2L1541.2 817.4L1541.7 821.2L1541.8 823.6L1540.8 827.7L1540.4 831L1539.9 834.4L1538.9 836.7L1537.2 839.3L1534.9 844.3L1532.8 846.8L1529.4 849.5L1525.2 849.9L1522.8 850.7L1519.5 850.5L1516.7 849.9L1512.6 848.7L1509.1 846.8L1504.5 843L1502.4 841.4Z" stroke="#b8b8b8" stroke-width="0.8" fill="none" stroke-linejoin="round"/>
<path d="M1505.1 836.4L1506.5 833.2L1510.3 829.9L1512.2 828.7L1514.5 825.6L1516.1 824.3L1518.2 821.7L1520.7 820.1L1523.8 818L1526.4 814.5L1529.7 812.3L1534.3 810.4L1538.4 813.9L1539.6 817.3L1540 822L1540.1 826.4L1539.3 830.9L1538.6 834.5L1536 838.2L1534.5 842.4L1532.6 845.1L1528.9 846.3L1526 848L1521.9 847.2L1518.3 847.6L1514.2 846.4L1511.2 845.2L1507.1 841.5Z" stroke="#b8b8b8" stroke-width="0.8" fill="none" stroke-linejoin="round"/>
<path d="M1508.8 835.3L1509.8 832.7L1511.8 829.5L1515 826.9L1518.6 824.3L1520.5 822.2L1524.6 819.1L1527.5 815.8L1529.5 814.4L1534.2 812.2L1537.7 815.4L1537.8 818.1L1538.5 822.8L1538.8 826.5L1538.2 829.6L1536.7 833.4L1534.8 836.9L1534.1 840L1531.4 843L1529.4 843.6L1526.3 844.7L1522.4 845L1519.5 844.3L1513.7 842.8L1509.8 840.3Z" stroke="#b8b8b8" stroke-width="0.8" fill="none" stroke-linejoin="round"/>
<path d="M1510.8 834.5L1514.9 830.3L1517.2 827.2L1519.6 825.1L1522.9 822.2L1524.4 820.5L1527.3 818.2L1529.9 816.3L1533.6 814.6L1535.7 817.3L1537.5 819.5L1537.8 823.1L1537.6 826.6L1537.2 829.2L1536.2 832.7L1534.2 835.1L1531.2 839.8L1527.3 842.5L1521.4 842.2L1515.8 840.7L1512.7 837.8Z" stroke="#b8b8b8" stroke-width="0.8" fill="none" stroke-linejoin="round"/>
<path d="M1514.8 833.7L1517.2 828.9L1521.2 825.9L1526 821.9L1529.6 818.6L1532.6 817L1535.6 819L1536.5 824.2L1535.1 829.4L1534 834.3L1531 837.7L1527.4 839.7L1522.4 839.6L1518.6 838L1515.4 836.7Z" stroke="#b8b8b8" stroke-width="0.8" fill="none" stroke-linejoin="round"/>
<path d="M1517.3 832.7L1519.6 829.5L1523.5 825.3L1526.7 822.6L1530 820.2L1532.5 818.8L1534.1 821.1L1534.2 824.2L1534.7 828.8L1532.6 833L1530.9 836.2L1528.2 837.2L1524.1 837.3L1520.7 835.9L1518.9 834.1Z" stroke="#b8b8b8" stroke-width="0.8" fill="none" stroke-linejoin="round"/>
<path d="M1520.2 831.2L1522.4 828.5L1524.7 826L1527 823.9L1530.2 821.7L1531.8 821.4L1532.3 823L1533.3 825.9L1533 828.1L1532.1 831.9L1530.2 833.6L1527.6 834.9L1525.7 835.1L1523.2 834.3L1521.7 833Z" stroke="#b8b8b8" stroke-width="0.8" fill="none" stroke-linejoin="round"/>
<path d="M1523.7 829.3L1524.5 827.8L1526.7 826.2L1528.1 825.1L1529.9 824L1530.8 823.1L1531.4 824.9L1532.2 826.2L1532.1 828.6L1530.5 830.7L1530.3 831.6L1528.8 832.1L1527.2 832.5L1525.4 831.2L1524.8 830.8Z" stroke="#b8b8b8" stroke-width="0.8" fill="none" stroke-linejoin="round"/>
<path d="M1527.3 828.1L1526.9 827.5L1527.6 827L1529.1 826.3L1530 826.4L1530.4 825.5L1530.6 826.2L1530.1 826.7L1530.6 827.9L1529.8 829.3L1529.3 829.6L1529.3 829.9L1528.6 829.8L1527.9 828.9L1526.5 829.3Z" stroke="#b8b8b8" stroke-width="0.8" fill="none" stroke-linejoin="round"/>
<ellipse cx="1547.4" cy="762.5" rx="9.4" ry="10.3" transform="rotate(0 1547.4 762.5)" fill="#b0b0b0" opacity="0.5" filter="url(#b2)"/>
<ellipse cx="1556" cy="761.7" rx="2.1" ry="8.6" transform="rotate(0 1556 761.7)" fill="#777" opacity="0.6" filter="url(#b2)"/>
<path d="M1557.3 761.8L1556.8 766.4L1555 771.2L1552 774.4L1548.2 776.1L1542.8 776.5L1539 774.7L1535.7 771L1533.3 766.9L1532.7 762.1L1534.5 756.4L1536.5 753.1L1539.4 749.6L1543.2 747.2L1547.5 746.8L1552.5 748.2L1556.4 751.7L1557.6 756.4Z" stroke="#777" stroke-width="0.9" fill="none" stroke-linejoin="round"/>
<path d="M1556.4 761.6L1556.1 765.8L1554.4 769.7L1551.4 772.1L1548.6 774.7L1544.5 775L1540 772.7L1537.6 770.3L1535.6 766.1L1534.4 762.2L1535.7 758L1538.4 754.5L1540.6 751.1L1544.2 748.9L1548.1 748.5L1552.2 750.1L1555.5 753.2L1557.1 756.9Z" stroke="#a8a8a8" stroke-width="0.8" fill="none" stroke-linejoin="round"/>
<path d="M1555.9 761.8L1555.2 765.2L1554.2 769L1550.9 771.3L1548.2 772.5L1544.2 773.4L1541.4 771.8L1539.3 768.9L1537 765.8L1536 762.5L1537.8 758L1539.4 755.8L1541.9 753.1L1544.5 751.5L1548 751.1L1552.3 751.7L1555.1 754.3L1556 757.5Z" stroke="#a8a8a8" stroke-width="0.8" fill="none" stroke-linejoin="round"/>
<path d="M1554.2 762.6L1554.2 765.2L1552.9 768L1550.9 769.5L1548.4 771.5L1545.7 771.4L1542.8 769.8L1541.2 767.4L1538.5 765L1537.9 762.2L1539.2 759.3L1541.6 757L1543.2 753.9L1545 752.6L1548 753L1551.3 753.1L1553.4 755.9L1554.4 758.6Z" stroke="#a8a8a8" stroke-width="0.8" fill="none" stroke-linejoin="round"/>
<path d="M1553.5 762.4L1553 764.7L1552.2 766.4L1550.1 768.6L1548 770.3L1545.7 769.8L1543.4 769.1L1542 766.7L1541.5 765.1L1540.1 761.7L1541.3 759.5L1543.1 758.1L1544.6 756.3L1545.8 754.6L1548.6 754.5L1550.7 754.8L1552.8 756.4L1553.6 760.1Z" stroke="#a8a8a8" stroke-width="0.8" fill="none" stroke-linejoin="round"/>
<path d="M1552.4 761.8L1552 764.2L1551 766L1550.1 767.3L1547.9 767.9L1546.9 767.8L1545.3 766.8L1543.8 766.4L1542.7 764.8L1542.8 762.2L1542.6 760.9L1543.8 759.1L1545.6 757.1L1546.8 756.7L1548.7 757.1L1550.8 756.5L1552.3 757.8L1552.9 760.9Z" stroke="#a8a8a8" stroke-width="0.8" fill="none" stroke-linejoin="round"/>
<path d="M1551 762.4L1551.4 764.2L1551 765.3L1549 765.8L1548.1 767L1547 767.2L1546.2 765.9L1545.8 765.3L1544.6 763.4L1543.8 762L1544.7 760.8L1545.1 760.3L1546.6 759.2L1547.6 758.1L1549 758.9L1550.2 758.7L1550.4 759.8L1550.9 760.6Z" stroke="#a8a8a8" stroke-width="0.8" fill="none" stroke-linejoin="round"/>
<path d="M1549.8 762.2L1549.7 762.9L1550 764.4L1549 764.6L1548 764.9L1548.2 764.3L1546.8 764.2L1546.7 763.9L1546.9 763.5L1546.1 762.1L1547 761.5L1547.1 760.9L1546.9 760.3L1548.2 760.5L1548.5 760.4L1549.3 760.5L1550.1 760.6L1549.8 762.1Z" stroke="#a8a8a8" stroke-width="0.8" fill="none" stroke-linejoin="round"/>
<path d="M1530.9 779.9L1530.8 776.2L1531.1 769.2L1532 762.2L1533.7 756.6L1535 749.6L1538.9 745.7L1543.4 745.9L1549.3 746.5L1554.7 747" stroke="#666" stroke-width="0.9" fill="none" stroke-linejoin="round"/>
<path d="M1397 812.1h1.2M1499.7 826.3h1.2M1476.7 771h1.2M1379.7 847.4h1.2M1448.1 776.5h1.2M1492.1 822.3h1.2M1466.4 810.4h1.2M1460.9 811.8h1.2M1380.8 841.8h1.2M1463 734.5h1.2M1419.3 790.6h1.2M1496.8 813.5h1.2M1521.1 768.4h1.2M1398.2 845.8h1.2M1418.4 783.9h1.2M1424.5 792.6h1.2M1475.7 847.3h1.2M1450.5 817.1h1.2M1489.8 818.2h1.2M1422 782.4h1.2M1450.5 841.6h1.2M1446.1 800.7h1.2M1468 786.5h1.2M1459.8 754.6h1.2M1482.2 816.7h1.2M1459.9 819.3h1.2M1524.9 829.2h1.2M1421.1 827h1.2M1469.3 871.7h1.2M1503 826.7h1.2M1428.2 866.7h1.2M1444.9 789.4h1.2M1432.3 837h1.2M1493.6 848.3h1.2M1457.1 839h1.2M1558.2 841.3h1.2M1526.7 770.8h1.2M1414.2 792.9h1.2M1516.6 799.2h1.2M1459.2 789.9h1.2M1426.2 823.1h1.2M1392.4 848.9h1.2M1426.2 858.1h1.2M1486.3 754.1h1.2M1425.7 809.2h1.2M1451.2 834.4h1.2M1461.9 804.2h1.2M1444.8 796.1h1.2M1441.5 858h1.2M1480.6 860.4h1.2M1439.9 778h1.2M1389.9 878.1h1.2M1473.1 811.3h1.2M1504.6 814.7h1.2M1452.8 854.4h1.2M1479.8 876.8h1.2M1406.4 839.3h1.2M1426.1 832.3h1.2M1393.7 812h1.2M1560 862.5h1.2M1489.4 800.4h1.2M1396.9 834h1.2M1454.6 830.8h1.2M1406 800.3h1.2M1474.5 836.1h1.2M1383.7 852.5h1.2M1379.9 814.9h1.2M1435.1 794.1h1.2M1504.1 746.4h1.2M1414.7 788.5h1.2M1491.8 859.9h1.2M1487 855.4h1.2M1461.5 817.5h1.2M1515.8 757.1h1.2M1458.5 860.1h1.2M1506.6 816.7h1.2M1403.3 843.6h1.2M1416.6 779.8h1.2M1394.6 818.3h1.2M1510.5 816.3h1.2M1508.5 817.4h1.2M1537.1 820.5h1.2M1469 807.3h1.2M1472.2 824.2h1.2M1470.7 848h1.2M1464.9 793.7h1.2M1412.8 831.7h1.2M1398.4 835.7h1.2M1484 813.5h1.2M1451.1 801.9h1.2M1405.6 840.2h1.2M1456 816.1h1.2M1476.6 844.9h1.2M1498.3 834.9h1.2M1481.7 820.1h1.2M1517.6 769.9h1.2M1435.2 816.1h1.2M1547.4 844.6h1.2M1499.6 792.6h1.2M1557.7 828.5h1.2M1438.6 786.2h1.2M1475.1 822.8h1.2M1455.2 869.9h1.2M1410.2 857.3h1.2M1440.7 780.9h1.2M1465.5 813.2h1.2M1405.5 856.7h1.2M1496.1 806.6h1.2M1451.5 807.7h1.2M1404.9 816.4h1.2M1497.3 803.6h1.2M1419.6 776.1h1.2M1507 835.5h1.2M1472.3 770.8h1.2M1473.9 823.1h1.2M1433.6 774.7h1.2M1447.1 789.4h1.2M1453.6 816.6h1.2M1433.6 840.4h1.2M1446.6 830.2h1.2M1469.9 844.1h1.2M1403.6 804.7h1.2M1494 819.2h1.2M1503.8 836.5h1.2M1428.5 840.4h1.2M1437.4 842.6h1.2M1538.7 846.5h1.2M1559.6 769.6h1.2M1423.5 807h1.2M1430.6 825.6h1.2M1432.1 847h1.2M1497 826.8h1.2M1401.2 830.7h1.2M1482.1 825.1h1.2M1451.2 855.5h1.2M1423.5 804.1h1.2M1481.8 830.2h1.2M1490.7 806.5h1.2M1429 837.8h1.2M1487.8 761.9h1.2M1475.4 812.2h1.2M1399.8 878.5h1.2M1462.5 838.8h1.2M1430.8 858.1h1.2M1387.1 816.9h1.2M1452 843h1.2M1469.2 788.2h1.2M1496.4 839.4h1.2M1399.4 794.7h1.2M1424.6 781.3h1.2M1500.9 805.3h1.2M1436.5 784.5h1.2M1430.9 858h1.2M1485.7 767.7h1.2M1402.3 833.3h1.2M1425.9 798.6h1.2M1454.4 803.7h1.2M1504.5 812.8h1.2M1403.5 835h1.2M1514.4 793.3h1.2M1385.1 862.6h1.2M1520.5 840.1h1.2M1425.2 792h1.2M1441.1 807.8h1.2M1521.6 810.2h1.2M1385 843.5h1.2M1499.5 808.1h1.2M1486.8 816.2h1.2M1391.9 812.4h1.2M1404.8 824.4h1.2M1458.7 776.3h1.2M1405.7 814.7h1.2M1472.1 816.9h1.2M1534.8 860.9h1.2M1475.9 834.3h1.2M1418.4 820.2h1.2M1395.6 818.3h1.2M1381.2 831.8h1.2M1432.8 837.1h1.2M1458.5 801.4h1.2M1490.2 780.6h1.2M1437.1 799.1h1.2M1485.5 812.6h1.2M1462.7 830.1h1.2M1455.4 844.2h1.2M1477.3 852.9h1.2M1439.2 817.7h1.2M1425.8 802.1h1.2M1410 798.9h1.2M1440.7 795.8h1.2M1451.1 761.8h1.2M1470.3 819.9h1.2M1471.2 801.3h1.2M1425.4 843.4h1.2M1442.4 872.6h1.2M1411.9 800.8h1.2M1487.3 781.4h1.2M1479 772.8h1.2M1430.3 853.2h1.2M1472 822.7h1.2M1480 831.5h1.2M1479.9 855.6h1.2M1400 812.7h1.2M1480.4 836.6h1.2M1476.6 852.8h1.2M1425.8 775.5h1.2M1510.8 814.7h1.2M1423.5 815.8h1.2M1429.1 844.1h1.2M1492.5 823.8h1.2M1475.7 815.7h1.2M1499 745.9h1.2M1393.8 813.6h1.2M1430 787.1h1.2M1479.5 786.3h1.2M1460.2 818.4h1.2M1452.6 790.6h1.2M1440.5 850.5h1.2M1475.9 842.8h1.2M1446 765.2h1.2M1427.4 810.4h1.2M1512.2 847.8h1.2M1470.2 789.8h1.2M1456 807.1h1.2M1438.1 778.8h1.2M1472 813.9h1.2M1488.4 772.2h1.2M1407.6 823.1h1.2M1470.8 786.2h1.2M1532.7 812.8h1.2M1457 867.7h1.2M1411.9 800.6h1.2M1433.2 774.8h1.2M1463 828.5h1.2M1458.6 833.9h1.2M1491.3 824.6h1.2M1438.2 850.3h1.2M1416.4 855.4h1.2M1440.5 837h1.2M1537.4 748.8h1.2M1440.6 803h1.2M1531.7 802.9h1.2M1466.6 803.5h1.2M1474 798.3h1.2M1455 771.1h1.2M1387 817.3h1.2M1444 844.7h1.2M1384.9 827h1.2M1465.3 805.9h1.2M1411.2 812.5h1.2M1492.2 803.9h1.2M1490.4 806.8h1.2M1532.5 815.5h1.2M1441.4 767.8h1.2M1381.3 825.9h1.2M1438.9 822.9h1.2M1417 810.4h1.2M1419.9 823.3h1.2M1439.3 869.1h1.2M1416.8 847.3h1.2M1399.2 801.2h1.2M1409.4 851.4h1.2M1470.8 818.7h1.2M1461 783.2h1.2M1517.1 855.2h1.2M1448.1 815.1h1.2M1480.9 809.7h1.2M1440.2 800.4h1.2M1433.2 800.9h1.2M1484.8 805.2h1.2M1429.2 796.5h1.2M1474.2 840h1.2M1424.4 857.2h1.2M1456.8 857.1h1.2M1449.2 813.5h1.2M1424.5 817h1.2M1460.6 858.2h1.2M1523.6 817.4h1.2M1508.3 735.6h1.2M1427.2 822h1.2M1492.3 827.1h1.2M1447.1 801.3h1.2M1411.4 870.1h1.2M1503.6 852.8h1.2M1450.3 799.2h1.2M1476.4 814h1.2M1443.7 814h1.2M1419.4 789.4h1.2M1438.2 774.4h1.2M1478.5 839.2h1.2M1468.7 821.7h1.2M1450.8 775.9h1.2M1439.4 829.4h1.2M1446.4 826.8h1.2M1427.7 794.1h1.2M1392.9 810.9h1.2M1449.2 790.4h1.2M1546.3 835.7h1.2M1503.6 805.2h1.2M1492.7 837h1.2M1400.9 794.9h1.2M1473.1 808.5h1.2M1489.7 785.8h1.2M1401.6 847.8h1.2M1459.3 742.6h1.2M1450.9 809.5h1.2M1483.9 824.1h1.2M1466.2 817.3h1.2M1463.7 781.2h1.2M1410.7 789.9h1.2M1385.5 837.7h1.2M1501.5 832.6h1.2M1421 799.1h1.2M1428.7 847.2h1.2M1475.1 865.4h1.2M1403.3 808.2h1.2M1442.3 805h1.2M1425.2 770.1h1.2M1459.2 806.5h1.2M1493.7 830.8h1.2M1386.9 826.3h1.2M1421.1 859.4h1.2M1448.4 800.1h1.2M1430.3 771h1.2M1510.9 876.5h1.2M1444.5 797.4h1.2M1508.2 851.1h1.2M1438 875.1h1.2M1451.4 807.7h1.2M1463.2 793h1.2M1519.5 832.7h1.2M1432.8 809.4h1.2M1406.3 822.4h1.2M1387.7 814.8h1.2M1425 831.3h1.2M1499.8 837.7h1.2M1443.9 794.1h1.2M1435.4 814.3h1.2M1473.2 798.2h1.2M1403.4 819.8h1.2M1515 869.3h1.2M1487.8 785.9h1.2M1517.4 790.1h1.2M1412.8 827.2h1.2M1383.6 838.1h1.2M1447.2 826.4h1.2M1410.3 839.4h1.2M1474.4 804.2h1.2M1495.1 737.3h1.2M1467.2 811.6h1.2M1411.7 819.9h1.2M1473.8 793.3h1.2M1444.1 813.5h1.2M1468.6 850.5h1.2M1427.5 853.1h1.2M1387.2 823.5h1.2M1484.4 873.7h1.2M1452.2 793h1.2M1499 816h1.2M1454.5 841.5h1.2M1502.2 764.3h1.2M1452.3 814.3h1.2M1446.6 801.3h1.2M1415 810.8h1.2M1433 815.3h1.2M1525.4 813.9h1.2M1540 851h1.2M1496.2 793.5h1.2M1435.7 788h1.2M1469.7 812.8h1.2M1471 823.6h1.2M1457.8 804.4h1.2M1403.1 801.9h1.2M1484.2 810h1.2M1446.9 840h1.2M1473.2 771.8h1.2M1445.9 789.4h1.2M1447.2 826.1h1.2M1474.2 863.2h1.2M1425.8 806.2h1.2M1477.3 842.8h1.2M1400.3 834.8h1.2M1481.7 810.4h1.2M1436.3 836.1h1.2M1470.3 826.4h1.2M1445.3 806.9h1.2M1471.8 792.5h1.2M1480.2 826.7h1.2M1414.3 842.3h1.2M1433.3 794.5h1.2M1461.8 814.3h1.2M1406.4 832.8h1.2M1449.4 792.7h1.2M1454.5 818.2h1.2M1515.8 742.2h1.2M1510.7 854.5h1.2M1402.8 844.3h1.2M1410.9 784.4h1.2M1444.9 868h1.2M1467.1 816.2h1.2M1492.3 796.6h1.2M1521.6 860.5h1.2M1470.4 791.8h1.2M1501.2 823.3h1.2M1480.7 847.8h1.2M1470.7 788.5h1.2M1521.3 822.9h1.2M1465.3 832.7h1.2M1464.7 836.5h1.2M1459.3 809.6h1.2M1423.4 799.9h1.2M1436 843.6h1.2M1433.6 811.5h1.2M1444.9 830.3h1.2M1480.9 872.2h1.2M1477.3 765.7h1.2M1533.3 811.4h1.2M1411.7 843h1.2M1402.2 814.3h1.2M1467.7 837.8h1.2M1552.7 753.8h1.2M1549.7 733h1.2M1559.6 735.4h1.2M1552.7 702.2h1.2M1553 735.3h1.2M1545.4 730.3h1.2M1556.9 718.5h1.2M1552.3 752.2h1.2M1551.5 728.3h1.2M1557.9 721.9h1.2M1554.3 746.2h1.2M1553.7 723.5h1.2M1550.9 734.9h1.2M1542.8 716.2h1.2M1539 731.7h1.2M1558.8 759.5h1.2M1556.5 729.2h1.2M1545.5 745.2h1.2" stroke="#b0b0b0" stroke-width="1.2"/>
</g>
<rect x="1376.4" y="693.6" width="188" height="190" stroke="#999" stroke-width="1.2" fill="none"/>
<path d="M1376.4 883.9H1564.4" stroke="#9a9a9a" stroke-width="2.4" fill="none"/>
<path d="M1390.9 882.6v2.8M1401.8 882.6v2.8M1408.3 882.6v2.8M1412.8 882.6v2.8M1416.3 882.6v2.8M1419.2 882.6v2.8M1421.7 882.6v2.8M1423.8 882.6v2.8M1425.6 882.6v2.8M1437.6 882.6v2.8M1448.6 882.6v2.8M1455 882.6v2.8M1459.5 882.6v2.8M1463.1 882.6v2.8M1465.9 882.6v2.8M1468.4 882.6v2.8M1470.5 882.6v2.8M1472.4 882.6v2.8M1484.3 882.6v2.8M1495.3 882.6v2.8M1501.7 882.6v2.8M1506.3 882.6v2.8M1509.8 882.6v2.8M1512.7 882.6v2.8M1515.1 882.6v2.8M1517.2 882.6v2.8M1519.1 882.6v2.8M1531 882.6v2.8M1542 882.6v2.8M1548.4 882.6v2.8M1553 882.6v2.8M1556.5 882.6v2.8M1559.4 882.6v2.8M1561.8 882.6v2.8" stroke="#999" stroke-width="1.5" fill="none"/>
<rect x="1518.6" y="724" width="41.4" height="50.4" stroke="#303030" stroke-width="1.3" fill="none"/>
<path d="M1560 724L1560 774.4" stroke="#111" stroke-width="2.4" fill="none"/>
<path d="M1518.6 774.4L1560 774.4" stroke="#111" stroke-width="2.2" fill="none"/>
<g fill="none" filter="url(#soft)">
<path d="M1172 1103.8L1177.4 1101.9L1185.5 1101.4L1190 1096.6L1194.2 1092L1202 1089.9L1209.2 1088.5L1213.9 1090.2L1218.5 1096.4L1220.8 1103.2L1220.1 1109.5L1218.3 1114.7L1209.1 1119.8L1202.2 1119.8L1194.3 1122.3L1189.8 1120.5L1184.3 1119.6L1175.6 1113.6L1173.9 1108.8Z" stroke="#666" stroke-width="0.9" fill="none" stroke-linejoin="round"/>
<path d="M1210.6 1104.6L1209.8 1105.8L1209.6 1106.9L1208.5 1108.6L1205.9 1108.9L1204.6 1108.7L1203.1 1109.3L1201.9 1106.9L1201.3 1106.1L1201.7 1104.4L1201 1103.2L1202.4 1100.8L1202.8 1099.4L1204.9 1098.5L1206.9 1098.6L1208.1 1100L1208.7 1100.5L1210.6 1103.1Z" stroke="#777" stroke-width="0.9" fill="none" stroke-linejoin="round"/>
<path d="M1205.3 1125.2L1204.6 1126.2L1204.2 1127.6L1203.4 1128.2L1202.4 1128L1201.1 1127.4L1199.5 1127.8L1198.8 1127L1198.1 1125.7L1197.8 1125.2L1197.8 1123.3L1198.3 1122L1200.1 1122L1201.4 1121.8L1202.5 1121.2L1202.7 1121.4L1203.9 1123.1L1204.1 1123.5Z" stroke="#777" stroke-width="0.9" fill="none" stroke-linejoin="round"/>
<path d="M1228.6 1099.6L1233.8 1099.5L1240.3 1098.9L1247.6 1096.7L1250.9 1092L1253.6 1089.5L1257.4 1083.9L1262.7 1081L1268.3 1078.4L1273.9 1076L1279 1074.6L1284.4 1070.3L1289.8 1066.9L1291.8 1060.9L1294.7 1057.5L1297.6 1053.1L1301.8 1048.7L1307.6 1045.3L1314.3 1046.2L1319.9 1047.4L1324.3 1050.6L1325.4 1056.1L1326.5 1063.6L1325.7 1070.7L1326.4 1075.4L1326.9 1080.1L1326.6 1086.2L1327.6 1091.2L1326.7 1094.9L1324.2 1102.8L1324.1 1108.6L1323.1 1112.1L1322.1 1119L1320.3 1123.9L1316.4 1128.1L1313.3 1130.1L1308.4 1132.4L1303 1133.2L1298.9 1134.7L1291.9 1136.1L1286.2 1135.2L1279 1135.6L1273.5 1134L1266.9 1133.1L1261.6 1128.4L1259.1 1122.9L1255.5 1119.8L1254.3 1113.7L1249.1 1109.9L1247 1106.4L1244.3 1112.2L1236.5 1108.6Z" stroke="#666" stroke-width="0.9" fill="none" stroke-linejoin="round"/>
<path d="M1254.7 1100.2L1258.5 1096.4L1262.2 1090.3L1268 1086.6L1272.3 1084.1L1276 1082.9L1281.6 1080.3L1286 1078.4L1290.7 1075.5L1293.7 1072.2L1298.1 1068.9L1301.3 1063.8L1304.6 1059L1308.8 1056.3L1313 1060.2L1316.7 1065.6L1318.4 1069.9L1321.1 1076.6L1320.9 1081.7L1321.5 1087.8L1321.8 1092.1L1321.6 1098.5L1321 1106.4L1319 1110.5L1317.2 1116.2L1313.1 1122L1309.3 1127.2L1305 1129.9L1298.3 1130.3L1290.8 1131.8L1285.3 1131.6L1277.7 1130.7L1272.3 1128.4L1267.3 1124.2L1262.1 1118.1L1258.3 1112.4L1256.8 1106.4Z" stroke="#777" stroke-width="0.9" fill="none" stroke-linejoin="round"/>
<ellipse cx="1291.3" cy="1100.7" rx="25.7" ry="23.1" transform="rotate(0 1291.3 1100.7)" fill="#c0c0c0" opacity="0.4" filter="url(#b3)"/>
<path d="M1254.8 1101.1L1255.6 1097L1257.5 1095L1258.9 1091.9L1261.5 1089L1264.1 1086.7L1266.3 1085.2L1268.6 1083.1L1271.5 1081.3L1273.7 1079.9L1276.2 1078.3L1279.3 1077.1L1282 1076L1285.8 1074.4L1288.9 1073.6L1292.3 1072.9L1295.3 1071.4L1298.8 1070.5L1301.6 1069.9L1304.7 1069.9L1307.9 1070L1310.8 1070.8L1313.8 1072.9L1316.3 1074.2L1318.5 1076.3L1320.7 1079.4L1321.8 1082.7L1323 1087L1323.5 1090L1323.8 1093.8L1323.6 1096.7L1323.4 1101.2L1323.4 1104.1L1322.1 1107.2L1321.4 1111.2L1319.8 1114.4L1318.3 1117.2L1316.9 1120.7L1315.4 1123L1313 1125.3L1310.4 1127L1308 1129.3L1304.5 1130.3L1302.1 1131L1298.6 1132L1294.4 1132.8L1291.4 1133.1L1287.7 1133.4L1285 1133.4L1280.4 1133.1L1277.2 1132.1L1274.1 1130.7L1271.3 1130.3L1267.3 1128.2L1264.6 1126.3L1262.5 1123.2L1260.2 1119.8L1258.6 1117.2L1257.6 1113.3L1256.7 1110.4L1255.3 1106.6L1255.2 1103.7Z" stroke="#808080" stroke-width="0.9" fill="none" stroke-linejoin="round"/>
<path d="M1258.5 1099.6L1259.3 1097L1260.8 1094.3L1261.9 1091.7L1263.5 1090L1266.3 1087.6L1268.3 1085.2L1271.3 1083L1274.5 1081.7L1277.6 1080.2L1281.3 1078.5L1283.9 1077.6L1287.1 1075.6L1289.9 1074.8L1291.8 1074L1295.6 1073.3L1298.3 1072.2L1302.2 1071.2L1305.2 1070.8L1308.5 1071.2L1311.3 1072.4L1314.9 1074.6L1317.4 1077.8L1319.1 1080.3L1320.2 1083.2L1321.3 1086.9L1322.2 1090.3L1322 1094.1L1322.1 1096.1L1322.2 1099.5L1321.6 1103.8L1320.3 1106.5L1320.3 1109.3L1318.4 1112.2L1317.9 1116L1316.1 1118.3L1314.9 1120.6L1312.6 1123.4L1309.8 1125.3L1307 1127L1304.7 1128L1301.9 1129.2L1298.9 1129.6L1295 1130.8L1291.8 1130.4L1288.9 1130.5L1285.4 1130.6L1281.5 1130.7L1278.8 1129.1L1275.1 1128.5L1272.6 1127.7L1270.3 1125.9L1267.6 1123.5L1264.5 1120.7L1263.3 1117.2L1261.5 1114.6L1260.4 1112.1L1259.5 1108.7L1258.7 1105.4L1258.6 1103.2Z" stroke="#808080" stroke-width="0.9" fill="none" stroke-linejoin="round"/>
<path d="M1261 1099.9L1262.2 1096.1L1263.9 1092.9L1265.6 1090.6L1268.2 1087.9L1270.7 1085.6L1273.7 1083.6L1276.9 1082.6L1279.1 1080.4L1282.5 1079.8L1285.3 1077.2L1288.9 1076.2L1292.2 1075.1L1294.9 1074.1L1298.9 1073.3L1301.2 1072.6L1305.2 1072.5L1307.5 1072.4L1310.5 1073.7L1314.4 1075.4L1316.6 1078.5L1317.5 1080.7L1319 1083.4L1319.8 1087.5L1320.7 1090.7L1321.1 1093.3L1320.9 1095.7L1320.1 1098.9L1320.5 1102.7L1320 1105.6L1318.1 1109.1L1317.3 1112.3L1315.4 1116.3L1313.1 1118.3L1311.4 1121.1L1308.2 1123.9L1304.5 1124.8L1301.3 1126.1L1298.6 1126.5L1295.9 1128.2L1292.1 1127.7L1289.2 1128.2L1286.4 1128.3L1283.8 1127.3L1279.7 1127.1L1276.7 1126L1274.2 1125.3L1271.9 1123.6L1269.7 1121.5L1267.6 1119.1L1265.9 1116.3L1264.1 1112.6L1262.6 1110L1261.3 1106.4L1260.6 1102Z" stroke="#b4b4b4" stroke-width="0.8" fill="none" stroke-linejoin="round"/>
<path d="M1264.2 1099.1L1265.1 1095.5L1266.6 1093L1268.2 1089.7L1270.4 1087.4L1274 1085.1L1277.2 1083.7L1280.7 1081.4L1284 1080.4L1286 1078.3L1289.3 1077L1292.9 1076.7L1296.3 1075L1299.9 1074.2L1303 1073.4L1307 1073.8L1310.4 1074.7L1313.5 1077.3L1315.1 1078.9L1316.9 1082.4L1318.6 1086.3L1319.6 1090.7L1319 1093.3L1319.3 1097.3L1319.1 1101.2L1317.9 1104.5L1316.9 1107.7L1316.3 1111.3L1313.8 1114.4L1312.6 1117.3L1309.7 1118.5L1307.3 1121.6L1304.3 1122.6L1301.1 1123.8L1298.4 1124.4L1294 1125.2L1290.4 1124.7L1287.1 1125L1283.1 1125.3L1280.1 1124.2L1276.7 1122.1L1272.7 1119.7L1270.1 1117.4L1268.2 1114.3L1267.4 1111.8L1265.7 1108.5L1265.2 1105.4L1264.2 1101.9Z" stroke="#b4b4b4" stroke-width="0.8" fill="none" stroke-linejoin="round"/>
<path d="M1267.2 1098.6L1267.6 1095.3L1269.6 1092.3L1270.8 1090.7L1273.2 1088L1275.6 1085.3L1278.8 1084.4L1281.7 1081.9L1284.2 1080.3L1288.1 1079.6L1290.9 1078.7L1292.9 1077.3L1295.8 1076.1L1299.5 1075.5L1303.1 1074.4L1306.8 1075.5L1309.4 1076.6L1312 1077.5L1314.5 1080.3L1315.8 1082.7L1317.6 1086.4L1318.6 1090.1L1317.9 1093.7L1318.2 1097.3L1317.2 1099.6L1317.1 1103.1L1315.4 1106.1L1314.5 1108.8L1313.9 1112.7L1311.7 1114.7L1308.9 1116.9L1306.8 1119L1303.8 1119.8L1301.7 1121.7L1298.3 1121.7L1295.2 1122.9L1291.1 1122.1L1288.1 1122.5L1285.3 1121.9L1281.9 1120.7L1277.9 1119.5L1275.9 1118.1L1272.3 1115.7L1271.1 1112.1L1269.2 1109.5L1267.5 1105.1L1267.4 1101.2Z" stroke="#b4b4b4" stroke-width="0.8" fill="none" stroke-linejoin="round"/>
<path d="M1270 1097L1270.4 1093.9L1272.9 1090.6L1275.1 1087.6L1278.3 1086L1280.4 1084.9L1283.6 1083L1285.8 1081.6L1290.1 1080.2L1292.9 1078.4L1296.9 1078.1L1299.7 1076.7L1302.8 1076.3L1306 1076.7L1310.3 1078.5L1313.5 1081.1L1314.1 1084.1L1315.3 1086.5L1316.7 1090.7L1317 1093.9L1316.5 1098.2L1314.8 1102.4L1314.4 1105.8L1312.6 1109.1L1311 1112.4L1307.6 1115.5L1304.6 1117.3L1301.3 1118.5L1297.6 1119.4L1292.9 1119.8L1289.7 1119.1L1285.6 1119.9L1282.9 1118.2L1279.8 1117.3L1278.1 1116L1275.2 1113.6L1273.4 1110.6L1272.3 1107.3L1270.7 1104.3L1270.1 1101Z" stroke="#b4b4b4" stroke-width="0.8" fill="none" stroke-linejoin="round"/>
<path d="M1272.1 1097L1273.9 1093.8L1275.6 1090.6L1277.7 1088L1280.2 1085.6L1283.6 1084.8L1287.5 1083L1290.6 1081.2L1294.2 1079.2L1297.1 1078.3L1301 1077.5L1306 1078L1308.6 1079L1311.7 1081.6L1313.1 1084.3L1314.8 1087.9L1314.7 1090.7L1314.8 1094.4L1315.2 1097.7L1314.3 1100.9L1312.4 1104.7L1311 1108.3L1310.3 1111L1307 1112.4L1304.7 1115.1L1301.5 1115.9L1297.6 1116.9L1293.9 1116.6L1290.6 1117.1L1286.3 1116.6L1281.9 1114.9L1280 1113.8L1277.8 1111.2L1275.2 1108.5L1274.5 1106L1273.5 1102.8L1272.6 1099.7Z" stroke="#b4b4b4" stroke-width="0.8" fill="none" stroke-linejoin="round"/>
<path d="M1275.2 1096.5L1276.9 1092.5L1280.8 1088.8L1282.3 1086.9L1286.2 1084.3L1289.1 1083.6L1291.5 1081.7L1294 1081.3L1297.2 1080.3L1301 1079.4L1304.8 1079.1L1307.9 1080.3L1310.9 1082.4L1312.4 1086.2L1313.5 1090.3L1313.4 1093.1L1313.6 1096.8L1313 1099.6L1312.3 1102.6L1309.9 1106.6L1308.6 1108.6L1305.3 1111.1L1301.7 1113.9L1298.1 1114.1L1294.6 1114.6L1291.8 1114.3L1287.1 1114.2L1284.2 1112.2L1281.2 1110.2L1277.8 1106.2L1276.4 1103.6L1275.5 1100Z" stroke="#b4b4b4" stroke-width="0.8" fill="none" stroke-linejoin="round"/>
<path d="M1278.9 1095.6L1279.7 1091.6L1282.4 1088.9L1285.9 1085.9L1290.1 1083.8L1294.2 1082.5L1297.3 1081.4L1301.6 1080L1304.7 1080.5L1307.1 1081.8L1309.1 1083.3L1311 1086.5L1312.6 1090.3L1312.2 1094.3L1311.6 1099L1310 1103.1L1307.9 1106.6L1304.4 1109.3L1300.6 1110.4L1296.8 1111L1292.4 1111.5L1289.3 1111L1286.3 1110L1283.4 1107.8L1280.7 1105.2L1280.1 1101.6L1278 1099.1Z" stroke="#b4b4b4" stroke-width="0.8" fill="none" stroke-linejoin="round"/>
<path d="M1281.2 1095L1282.4 1091.6L1284.9 1089.2L1288.2 1087L1292 1085L1295.3 1083L1297.7 1081.8L1304.1 1081.5L1308.1 1085.2L1310.1 1087.4L1310.3 1089.9L1310.1 1094.4L1309.6 1097.5L1309.1 1101.3L1306.8 1104.7L1304.2 1107.2L1300.6 1108.3L1297.3 1108.6L1293.2 1108.5L1290.5 1108.7L1287.5 1107.3L1285.4 1105.5L1283.3 1102.7L1281.7 1098.4Z" stroke="#b4b4b4" stroke-width="0.8" fill="none" stroke-linejoin="round"/>
<path d="M1284.3 1094.3L1287.5 1089.3L1290.1 1087.8L1293 1085.6L1296 1084.1L1298.7 1083.8L1303.4 1083.3L1307.6 1085.8L1309.8 1090.4L1308.6 1093.4L1308.5 1097.1L1307.1 1099.5L1306.2 1102.3L1301.2 1105.6L1298 1106.1L1295.1 1106.6L1289.7 1104.7L1286.5 1101L1284.4 1098.2Z" stroke="#b4b4b4" stroke-width="0.8" fill="none" stroke-linejoin="round"/>
<path d="M1286.6 1093.3L1289.7 1089.8L1293.8 1086.7L1298.3 1084.3L1303.2 1084.1L1306.6 1086.1L1308.3 1090.2L1307.1 1096L1305.6 1100.1L1301.2 1102.8L1295.6 1103.5L1292 1102L1288.2 1099.2Z" stroke="#b4b4b4" stroke-width="0.8" fill="none" stroke-linejoin="round"/>
<path d="M1289.5 1092.5L1291.6 1090L1295.2 1087.4L1299.4 1086.2L1303.2 1085.5L1305.5 1087.7L1306.7 1090L1306 1094.6L1304.4 1098.4L1300.8 1100.2L1297.1 1100.8L1293.4 1100.1L1291.1 1097.8Z" stroke="#b4b4b4" stroke-width="0.8" fill="none" stroke-linejoin="round"/>
<path d="M1293.2 1092L1294.7 1089.4L1296.5 1088L1299.6 1087.6L1301.9 1086.7L1304.3 1087.9L1304.4 1090.2L1304.1 1094L1303.4 1096.3L1300.5 1098.2L1297.4 1098.4L1295.2 1097.8L1293.6 1095.6Z" stroke="#b4b4b4" stroke-width="0.8" fill="none" stroke-linejoin="round"/>
<path d="M1295.1 1091.8L1297.1 1090L1298.3 1089.3L1299.6 1088.5L1301.5 1088.6L1302.5 1088.4L1303.9 1090.8L1303.6 1092.2L1303 1094.6L1300.5 1095.6L1298.8 1095L1297.7 1095.3L1296.3 1093.3Z" stroke="#b4b4b4" stroke-width="0.8" fill="none" stroke-linejoin="round"/>
<path d="M1299 1091.4L1299.4 1090.9L1299.5 1090.2L1300.2 1089.8L1301.3 1089.4L1301.7 1090.4L1302 1090.4L1301.4 1091.3L1302 1092.2L1300.8 1093.1L1300.2 1093L1299.2 1092.7L1299.1 1092.4Z" stroke="#b4b4b4" stroke-width="0.8" fill="none" stroke-linejoin="round"/>
<ellipse cx="1287.9" cy="1135" rx="8.6" ry="0.9" transform="rotate(0 1287.9 1135)" fill="#555" opacity="0.7" filter="url(#b1)"/>
<ellipse cx="1323" cy="1018.5" rx="6.9" ry="12.8" transform="rotate(0 1323 1018.5)" fill="#aaa" opacity="0.6" filter="url(#b2)"/>
<ellipse cx="1328.1" cy="1018.5" rx="1.7" ry="11.1" transform="rotate(0 1328.1 1018.5)" fill="#777" opacity="0.6" filter="url(#b2)"/>
<path d="M1331.5 1018L1330.1 1023.8L1328 1028.4L1326.6 1032.5L1323.5 1034.2L1320.1 1033.8L1316.5 1034.1L1312.5 1030.1L1312.3 1027.9L1311.7 1024.8L1311.7 1019.1L1312.2 1013.6L1313.7 1008.2L1316.1 1005.3L1319.9 1002.5L1323.3 1000.8L1327 1003.8L1329.1 1008.8L1330.4 1012.8Z" stroke="#777" stroke-width="0.9" fill="none" stroke-linejoin="round"/>
<path d="M1331 1018.4L1330.1 1022.4L1328.4 1027.2L1326.1 1029.9L1322.9 1032.3L1320.1 1032.4L1316.8 1031.6L1314.3 1028.2L1313.5 1023L1312.9 1017.9L1313.9 1013.1L1314.9 1010L1317.8 1006.8L1319.5 1003.8L1323.6 1002.5L1325.9 1004.9L1327.7 1009.6L1330.1 1013Z" stroke="#777" stroke-width="0.9" fill="none" stroke-linejoin="round"/>
<path d="M1329.6 1017.6L1329.3 1022.7L1327.5 1025.2L1325.4 1028.5L1323.7 1029.3L1320.9 1029.8L1317.7 1030L1315.3 1027.4L1314.7 1022.2L1315.2 1018L1315.8 1013.8L1316.6 1011.1L1318.4 1008.3L1320.9 1005.7L1323.6 1004.5L1325.8 1007.1L1327.4 1009.8L1329.6 1013.5Z" stroke="#a0a0a0" stroke-width="0.8" fill="none" stroke-linejoin="round"/>
<path d="M1328.4 1017.9L1327.8 1020.9L1326.7 1024.1L1325.8 1026.7L1323.1 1027.5L1320.9 1027.5L1319.3 1027.7L1316.9 1025.4L1316.2 1021.1L1316.9 1017.5L1317.1 1014.1L1318.1 1011.4L1319.2 1009L1321.8 1007.9L1323.2 1006.7L1325.6 1007.8L1327.7 1011.6L1327.9 1014.3Z" stroke="#a0a0a0" stroke-width="0.8" fill="none" stroke-linejoin="round"/>
<path d="M1327.4 1017.4L1327.1 1019.9L1326.1 1023.3L1325.5 1025.1L1323.2 1025.3L1321.5 1025.5L1319.9 1024.9L1318.5 1023.1L1317.5 1020.6L1317.7 1017.1L1318.3 1015.4L1319.5 1012.8L1320.7 1010.2L1322.2 1009.2L1323.9 1008.8L1325.6 1010.4L1326.3 1012L1327.8 1014.7Z" stroke="#a0a0a0" stroke-width="0.8" fill="none" stroke-linejoin="round"/>
<path d="M1327.2 1017L1326.2 1019.1L1326.5 1021.4L1325.3 1022.9L1323.5 1022.8L1322.6 1023.5L1320.9 1023L1320.4 1021.9L1319.3 1019.1L1319.1 1017L1319.3 1015.4L1320.4 1013.8L1321.7 1012.1L1321.9 1010.7L1323.6 1009.9L1325.4 1011.9L1326.6 1013.3L1327.4 1014.6Z" stroke="#a0a0a0" stroke-width="0.8" fill="none" stroke-linejoin="round"/>
<path d="M1326.2 1017.2L1325.4 1018.4L1325.8 1019.4L1324.4 1020.3L1324.1 1021.1L1323.1 1021.1L1322.6 1021.2L1320.6 1020L1321.4 1019L1321.3 1017L1321.4 1016.1L1322.1 1014.7L1322.6 1012.9L1323.5 1012.5L1323.8 1012.9L1324.8 1012.7L1325.1 1014L1325.6 1015Z" stroke="#a0a0a0" stroke-width="0.8" fill="none" stroke-linejoin="round"/>
<path d="M1325.7 1017.1L1325 1017.8L1325.4 1017.7L1324.5 1018.9L1323.9 1019.1L1323.6 1018.7L1323.1 1019.3L1322.6 1018.5L1321.9 1017.3L1321.9 1016.9L1322.5 1015.8L1322.6 1015.4L1323.7 1015.2L1323.1 1014.5L1323.7 1014.7L1324.6 1014.1L1325.2 1015.1L1325 1016.2Z" stroke="#a0a0a0" stroke-width="0.8" fill="none" stroke-linejoin="round"/>
<path d="M1306.2 1030.7L1304.5 1038.8L1310.1 1045.8" stroke="#777" stroke-width="0.9" fill="none" stroke-linejoin="round"/>
<path d="M1294.1 1092.9h1.2M1220.8 1072.7h1.2M1290.5 1083.2h1.2M1173.3 1062.8h1.2M1258.4 1116.4h1.2M1199.1 1044.5h1.2M1173.7 1136.7h1.2M1210 1088.6h1.2M1239.3 1064.8h1.2M1212.3 1112.8h1.2M1187.6 1070.5h1.2M1211.7 1102h1.2M1215 1094.6h1.2M1191.9 1089.8h1.2M1193.2 1082.5h1.2M1245.2 1070.9h1.2M1222.6 1106.9h1.2M1225 1051.7h1.2M1189.8 1063.2h1.2M1275.8 1093.6h1.2M1237.3 1020.1h1.2M1176.5 1110h1.2M1188.4 1075h1.2M1179.6 1099.1h1.2M1222.5 1105.6h1.2M1216.9 1088h1.2M1252.6 1056.9h1.2M1202.6 1083.7h1.2M1195.2 1123.3h1.2M1255.6 1104.5h1.2M1186.8 1093.4h1.2M1228 1079.4h1.2M1215.4 1058.4h1.2M1245.5 1107.3h1.2M1228.1 1011.4h1.2M1250.1 1065.2h1.2M1221.9 1059.8h1.2M1237.4 1076.6h1.2M1290 1100.7h1.2M1201 1136h1.2M1272.3 1073.8h1.2M1216.4 1033.1h1.2M1249.4 1100.4h1.2M1208.3 1032.2h1.2M1228.8 1101.3h1.2M1232.8 1072.8h1.2M1200.4 1090.6h1.2M1182.1 1044.4h1.2M1324.3 1055.2h1.2M1228.8 1100.3h1.2M1233.2 1116.9h1.2M1244 1099.2h1.2M1214.1 1070.5h1.2M1262.5 1130.3h1.2M1196.6 1065.1h1.2M1252.1 1102.8h1.2M1246.6 1099.5h1.2M1203.2 1048h1.2M1168.2 1078.2h1.2M1327 1117.9h1.2M1220.4 1124.5h1.2M1240.2 1110.4h1.2M1227.1 1028.4h1.2M1232.3 1074.9h1.2M1158.4 1104.8h1.2M1214.3 1031.6h1.2M1224.1 1134.9h1.2M1190.6 1118.7h1.2M1239.5 1049.3h1.2M1286.4 1118.9h1.2M1211 1087.2h1.2M1266.6 1051.6h1.2M1297.3 1121.2h1.2M1272.5 1135.5h1.2M1276.4 1093.9h1.2M1210.8 1096.2h1.2M1259.1 1073.9h1.2M1262.8 1061.5h1.2M1263.6 1068h1.2M1200.1 1062.7h1.2M1241.3 1073.7h1.2M1273.7 1120.8h1.2M1246.8 1084.8h1.2M1215.2 1104.2h1.2M1204.2 1107.9h1.2M1197.5 1041.5h1.2M1241.7 1096.9h1.2M1276.2 1115.6h1.2M1282.5 1123.9h1.2M1248.1 1073.7h1.2M1254.1 1052.6h1.2M1181.9 1118.2h1.2M1221.4 1090.7h1.2M1203.5 1061.8h1.2M1250.5 1021.7h1.2M1255.4 1083h1.2M1240.8 1126.7h1.2M1264.7 1060.9h1.2M1246.2 1057.3h1.2M1229.2 1115.2h1.2M1214.9 1092.9h1.2M1269.4 1066.7h1.2M1169.2 1096.4h1.2M1155.3 1066.1h1.2M1239.6 1092.7h1.2M1256.2 1073.7h1.2M1193.9 1117h1.2M1237 1054.3h1.2M1287.8 1026.5h1.2M1254.4 1082h1.2M1201.6 1128.6h1.2M1288.5 1086.5h1.2M1174.2 1110.8h1.2M1205.6 1071.5h1.2M1239 1080h1.2M1263.9 1084.6h1.2M1171.2 1109.4h1.2M1201.8 1071.4h1.2M1302.3 1023.9h1.2M1180.4 1124.3h1.2M1197.6 1138.2h1.2M1229.7 1121.8h1.2M1287.5 1115h1.2M1190.6 1112.5h1.2M1250.6 1065.9h1.2M1228.4 1118.5h1.2M1189.2 1063h1.2M1276.2 1077.6h1.2M1232.4 1027.1h1.2M1206.3 1079.8h1.2M1183.8 1076.3h1.2M1190.2 1071.4h1.2M1276 1118.2h1.2M1214.4 1051h1.2M1217.5 1082.3h1.2M1205.4 1070.6h1.2M1185 1056.1h1.2M1208.4 1111h1.2M1246.8 1104h1.2M1183.1 1043.4h1.2M1154.6 1106.8h1.2M1198 1069h1.2M1215.4 1116.3h1.2M1171.6 1052.2h1.2M1253.7 1053.5h1.2M1191.2 1127.6h1.2M1217.9 1077.8h1.2M1220.3 1079.5h1.2M1300.2 992.9h1.2M1253.3 1080.9h1.2M1230.9 1090.3h1.2M1169.4 1090.9h1.2M1231.3 1055.6h1.2M1235.4 1047.8h1.2M1248.4 1051.8h1.2M1262 1079h1.2M1242.8 1087.5h1.2M1174.1 1089.4h1.2M1223.6 1068.3h1.2M1172.3 1107.4h1.2M1307.5 1074.8h1.2M1202.9 1063.1h1.2M1288.5 1072.5h1.2M1239.5 1020.9h1.2M1168.9 1083.8h1.2M1200 1056.8h1.2M1173.1 1120.6h1.2M1198.1 1130.7h1.2M1164.1 1126.2h1.2M1193 1107.7h1.2M1282.2 1044.9h1.2M1264.5 1061.8h1.2M1190.5 1135.3h1.2M1210.4 1133.3h1.2M1181.1 1074.5h1.2M1169.7 1106.5h1.2M1246.7 1075.4h1.2M1237.4 1131.1h1.2M1179 1078.2h1.2M1176 1085.1h1.2M1290.3 1089.9h1.2M1215.1 1079h1.2M1189.9 1079.2h1.2M1260.6 1102h1.2M1200.4 1060.1h1.2M1193.9 1092.8h1.2M1221.4 1106.4h1.2M1192.3 1112.1h1.2M1216.6 1127h1.2M1199.6 1049.9h1.2M1286.6 1048.3h1.2M1272.9 1084.4h1.2M1219.5 1091.7h1.2M1317.2 1079.5h1.2M1185.8 1085h1.2M1198.4 1041.6h1.2M1252.3 1076h1.2M1308.8 1070h1.2M1257 1109.9h1.2M1192.2 1100.3h1.2M1183.9 1104.6h1.2M1317.3 1077.6h1.2M1192 1082h1.2M1198.8 1088.7h1.2M1249.3 1062.8h1.2M1234.6 1094.6h1.2M1239.8 999.3h1.2M1237.4 1125.6h1.2M1175.9 1097.7h1.2M1306.6 1057.5h1.2M1207.7 1089.4h1.2M1232.1 1072.4h1.2M1201.9 1080.8h1.2M1265.4 1098.2h1.2M1210.3 1086.3h1.2M1195.5 1040.6h1.2M1219.8 1058.3h1.2M1182.5 1100.2h1.2M1237.2 1085.6h1.2M1271.1 1097.3h1.2M1230.7 1079.4h1.2M1207.4 1107.4h1.2M1271.3 1064.3h1.2M1255.8 1076.7h1.2M1168.4 1107.3h1.2M1208.8 1076.8h1.2M1241.6 1065.6h1.2M1252.9 1134.4h1.2M1171.7 1063.9h1.2M1175 1061h1.2M1269.5 1074.7h1.2M1231.8 1097.3h1.2M1211.4 1123.4h1.2M1248.4 1084.2h1.2M1248.6 1045.1h1.2M1245.1 1081.5h1.2M1199.4 1029.1h1.2M1220 1097.4h1.2M1243.1 1078.6h1.2M1294.7 1073.9h1.2M1314.8 1105.8h1.2M1259.5 1118.9h1.2M1233.9 1123.7h1.2M1236.1 1021.9h1.2M1203.6 1067.3h1.2M1171.3 1071.5h1.2M1201.3 1112.3h1.2M1215.4 1096.7h1.2M1247.1 1088.5h1.2M1253.6 1113.7h1.2M1207.3 1089.1h1.2M1206.6 1091.3h1.2M1239.8 1091.5h1.2M1191.6 1066.6h1.2M1189.5 1113.9h1.2M1305.1 1092.1h1.2M1254.1 1095.3h1.2M1228.2 1048h1.2M1204.2 1088.1h1.2M1246.1 1125.2h1.2M1159.5 1111.1h1.2M1245 1098.9h1.2M1209.5 1106h1.2M1192.1 1079.7h1.2M1172.8 1058.9h1.2M1238.8 1040.8h1.2M1242.8 1068.1h1.2M1297 1070.9h1.2M1221.4 1139.4h1.2M1191.6 1089.3h1.2M1260.8 1117h1.2M1234 1085.5h1.2M1245 1057.2h1.2M1302.3 1063.3h1.2M1315 1113h1.2M1297.9 1095.9h1.2M1241.1 1100.6h1.2M1194 1070.1h1.2M1260.6 1064.5h1.2M1240.5 1127.1h1.2M1228.5 1075.4h1.2M1196.4 1077.3h1.2M1236.4 1097.9h1.2M1210.8 1082.2h1.2M1193.3 1057.6h1.2M1208 1072h1.2M1267.4 1084.4h1.2M1179.5 1072.1h1.2M1182.1 1137.6h1.2M1189.3 1090.7h1.2M1237.9 1079.9h1.2M1328.5 1139.8h1.2M1241.4 1094.5h1.2M1255.4 1123.1h1.2M1204.1 1111.6h1.2M1231 1030.1h1.2M1217 1115.6h1.2M1205.8 1102.4h1.2M1247.3 1085.9h1.2M1159.9 1131.9h1.2M1211.8 1060.2h1.2M1286.7 1108.8h1.2M1242.2 1109.7h1.2M1188.1 1071.3h1.2M1172.4 1103.7h1.2M1218.9 1007.7h1.2M1192.7 1054h1.2M1214.3 1102.3h1.2M1288.4 1063.8h1.2M1201.2 1070.2h1.2M1166.7 1104.9h1.2M1226.6 1046.1h1.2M1228.2 1101.7h1.2M1263.3 1078.9h1.2M1207.1 1121.5h1.2M1265.9 1083.5h1.2M1152.1 1130h1.2M1253.2 1073.2h1.2M1211.7 1065.3h1.2M1300.5 1119.1h1.2M1307.6 1114.2h1.2M1221.1 1094.2h1.2M1190.1 1084.2h1.2M1302.1 1082.4h1.2M1214 1042h1.2M1275.4 1096.9h1.2M1226 1075.6h1.2M1162.5 1070.8h1.2M1216.3 1103.9h1.2M1203.5 1035.2h1.2M1220.9 1075.5h1.2M1316.8 1118.1h1.2M1261.7 1114.1h1.2M1208.2 1042.9h1.2M1190.3 1091.4h1.2M1163.2 1078h1.2M1252.2 1131.3h1.2M1191.4 1067.6h1.2M1241.9 1047.3h1.2M1203.5 1067.3h1.2M1224.6 1101.7h1.2M1262.8 1094.4h1.2M1173.6 1111.1h1.2M1219.2 1025.6h1.2M1293.7 1078.2h1.2M1228.1 1006h1.2M1299 1064.7h1.2M1260.7 1072.2h1.2M1164.2 1115.3h1.2M1162.2 1079.9h1.2M1164.1 1097.6h1.2M1280.5 1103.9h1.2M1212.5 1085.5h1.2M1179.8 1089.9h1.2M1256 1093.6h1.2M1283.2 1071.7h1.2M1312.8 1045.2h1.2M1319.1 1085.7h1.2M1211.4 1099.6h1.2M1196.3 1068.8h1.2M1206.7 1105.7h1.2M1161.3 1061.6h1.2M1281.4 1088.8h1.2M1188.2 1063.6h1.2M1204.3 1114.3h1.2M1219 1130h1.2M1186.4 1111.2h1.2M1231.8 1085.6h1.2M1236.8 1123.9h1.2M1215.5 1078.5h1.2M1262.8 1096.4h1.2M1244.4 1099.6h1.2M1163.4 1085.7h1.2M1190.8 1108.3h1.2M1246.8 1096h1.2M1251.6 1096.5h1.2M1214.8 1070.3h1.2M1195.3 1054.8h1.2M1240.1 1116.3h1.2M1291.6 1093.9h1.2M1176.9 1046h1.2M1224.6 1083h1.2M1259.5 1074.1h1.2M1222.7 1093.5h1.2M1182.6 1133.1h1.2M1200.4 1081.9h1.2M1297.9 1067.5h1.2M1188.1 1135.8h1.2M1276 1111.5h1.2M1182.2 1107.8h1.2M1284.4 1036.3h1.2M1215.3 1059.1h1.2M1224.2 1075.5h1.2M1171.1 1132.3h1.2M1175.8 1119.9h1.2M1195.7 1108.4h1.2M1205.9 1090.4h1.2M1223.1 1064.3h1.2M1160.4 1088.5h1.2M1179.6 1136.9h1.2M1249.5 1117.3h1.2M1190.3 1083.6h1.2M1263.3 1113.5h1.2M1155.1 1072.8h1.2M1212.8 1055.6h1.2M1216 1074.9h1.2M1166.4 1057.1h1.2M1192.1 1120.5h1.2M1215.7 1098.6h1.2M1277.6 1088.7h1.2M1243.9 1099.5h1.2M1167.9 1098.4h1.2M1187.3 1068.5h1.2M1244.5 1102.6h1.2M1225.8 1070.1h1.2M1216.2 1135.9h1.2M1217.9 1070.9h1.2M1213.1 1032.7h1.2M1218.9 1107.3h1.2M1320.2 1023.7h1.2M1307 1059.9h1.2M1288.5 1006.5h1.2M1292.2 1013.3h1.2M1321.6 1019.4h1.2M1286.6 1035h1.2M1318.2 1055.2h1.2M1314.1 998.6h1.2M1296.1 1020.4h1.2M1314.5 1008.3h1.2M1305.4 1057.7h1.2M1323.7 1018.4h1.2M1306.4 1043.7h1.2M1317.6 987.3h1.2M1308.4 1001.1h1.2M1320.3 1025.2h1.2M1307.8 1009.6h1.2M1308.2 1009h1.2M1300.3 1028.2h1.2M1285 1009.5h1.2M1315.7 1000.6h1.2M1314.1 1014h1.2M1306.9 1041.1h1.2M1312.6 1013.7h1.2M1304.1 1032.4h1.2M1330.3 1012.6h1.2M1310.1 1050.6h1.2M1285.6 1012.5h1.2M1307.6 1011.3h1.2M1306.1 1008.2h1.2M1283.8 1013h1.2M1289 1005.8h1.2" stroke="#b0b0b0" stroke-width="1.2"/>
</g>
<rect x="1149" y="955.2" width="189" height="187.8" stroke="#808080" stroke-width="1.4" fill="none"/>
<path d="M1149 955.2L1338 955.2" stroke="#999" stroke-width="2.4" fill="none"/>
<path d="M1149 1143.3H1338" stroke="#9a9a9a" stroke-width="2.4" fill="none"/>
<path d="M1163.6 1142v2.8M1174.6 1142v2.8M1181 1142v2.8M1185.6 1142v2.8M1189.2 1142v2.8M1192.1 1142v2.8M1194.5 1142v2.8M1196.6 1142v2.8M1198.5 1142v2.8M1210.5 1142v2.8M1221.5 1142v2.8M1228 1142v2.8M1232.6 1142v2.8M1236.1 1142v2.8M1239 1142v2.8M1241.5 1142v2.8M1243.6 1142v2.8M1245.5 1142v2.8M1257.5 1142v2.8M1268.5 1142v2.8M1275 1142v2.8M1279.5 1142v2.8M1283.1 1142v2.8M1286 1142v2.8M1288.4 1142v2.8M1290.6 1142v2.8M1292.4 1142v2.8M1304.5 1142v2.8M1315.5 1142v2.8M1321.9 1142v2.8M1326.5 1142v2.8M1330.1 1142v2.8M1333 1142v2.8M1335.4 1142v2.8" stroke="#555" stroke-width="1.5" fill="none"/>
<rect x="1291" y="992.4" width="39.4" height="54.6" stroke="#303030" stroke-width="1.2" fill="none"/>
<path d="M1291 1047L1330.4 1047" stroke="#111" stroke-width="2.2" fill="none"/>
<g fill="none" filter="url(#soft)">
<path d="M1409.3 1104.2L1412.6 1099.5L1416.7 1096.3L1420.9 1094.8L1426.4 1094.4L1434.3 1093.6L1439.3 1092L1445.2 1091.4L1449.7 1092.3L1456.7 1090.7L1461.1 1090.3L1467.9 1089.6L1473.8 1089.3L1478 1085.3L1484 1082.8L1487.2 1078L1490.9 1073.6L1495.1 1071L1497.6 1065.5L1501.2 1062L1503.5 1056.4L1507 1053L1510.9 1049.7L1515.4 1047.2L1522.4 1046.3L1526.5 1046.2L1533.2 1044.6L1537.2 1045.7L1541.3 1048.2L1547.7 1052.3L1551 1059.3L1550.2 1064L1550.8 1071.8L1551.3 1076.6L1550.7 1082.7L1550.6 1088.3L1548.9 1094.6L1549.3 1099.6L1547 1104.5L1545 1109.2L1542.8 1116.4L1540.8 1120.6L1538.6 1127.3L1534.3 1132.5L1529.8 1134.1L1525.6 1136.8L1520.2 1136.2L1514 1135.1L1507.6 1134.8L1502.1 1135.3L1494.8 1133.1L1490.5 1133L1483.2 1131.4L1478.4 1130.5L1472 1128.4L1467.5 1126L1461.4 1127.5L1454.6 1128.3L1449 1128.3L1442.5 1129.7L1436.6 1130.9L1431.3 1129.3L1426.9 1129.3L1422 1127.8L1416.1 1124.6L1411.2 1118.7L1410.6 1111.2Z" stroke="#666" stroke-width="0.9" fill="none" stroke-linejoin="round"/>
<path d="M1433.2 1103.9L1436.9 1102L1443.3 1099.8L1447.6 1099.6L1454.9 1097.9L1460.7 1098.3L1466.4 1096.6L1472.7 1094.7L1478.2 1093.2L1484.1 1090.7L1488.7 1085.8L1494.4 1081.9L1498.1 1077.1L1500.5 1071.7L1503.1 1066.3L1506.9 1060.5L1512.1 1055.3L1517.4 1052L1523.3 1052.8L1529.7 1051.5L1534.4 1053.6L1539.6 1055.1L1542 1057.8L1543.8 1063.1L1545.5 1070.4L1546.6 1073.9L1546 1079.7L1547.2 1085.3L1546.8 1091.1L1546.4 1095.6L1544.3 1100.8L1543.5 1105.4L1540.4 1110.9L1538.8 1114.7L1535.5 1119L1532.4 1124.5L1527.7 1127.7L1525 1129.5L1518.1 1130.7L1513.1 1129.6L1508.3 1130.1L1502.5 1129.5L1498.1 1127.5L1492.2 1125.4L1487.6 1124.3L1482.4 1122.8L1477 1120.1L1472.9 1117.3L1466.5 1116.9L1460.3 1115.8L1453 1115.5L1446.4 1116.6L1440.8 1115.4L1436.9 1113.6L1431.8 1109.9Z" stroke="#777" stroke-width="0.9" fill="none" stroke-linejoin="round"/>
<path d="M1427.1 1109.1L1426.3 1110.5L1426.3 1110.5L1425.2 1111.1L1425.1 1111.9L1423.7 1112.1L1423.4 1111.7L1422.6 1111L1422.3 1110.1L1422.4 1109.4L1422.4 1108.8L1423.2 1107.8L1423 1107.3L1424.4 1106.5L1424.7 1106.3L1425.5 1107.2L1426.4 1107.2L1426.7 1108.6Z" stroke="#666" stroke-width="0.9" fill="none" stroke-linejoin="round"/>
<ellipse cx="1518.3" cy="1088.7" rx="22.3" ry="32.5" transform="rotate(15 1518.3 1088.7)" fill="#c4c4c4" opacity="0.4" filter="url(#b3)"/>
<path d="M1485.2 1103.8L1485.5 1101.6L1486.7 1098L1487.8 1095.2L1489.6 1092.5L1491 1089.4L1492.2 1086.4L1494.5 1083.7L1496 1080.2L1496.9 1077.8L1499.4 1074.5L1501.4 1071L1502.9 1068L1504.6 1066L1506.3 1063.2L1509.1 1060.4L1510.4 1058.6L1513.2 1055.7L1515 1053.4L1517.1 1052.9L1520.1 1051.4L1522.8 1050.3L1526.6 1049.5L1529.7 1049.2L1532.8 1048.3L1535.9 1049.1L1538.7 1050.9L1540.3 1053.1L1542.2 1055.5L1543.5 1059.1L1545.4 1062.3L1545.2 1065.5L1546.6 1069.3L1547.5 1072.6L1547.9 1075.9L1547 1080.2L1547.5 1083.2L1547.4 1086.6L1546.1 1089.7L1546.4 1092.9L1545.2 1096.6L1544.8 1100.1L1544.5 1102.2L1542.4 1105.3L1541.6 1108.7L1540.2 1111.3L1538.5 1114.5L1537.4 1116.7L1535.6 1119.4L1533.6 1122.5L1530.7 1124.9L1528.5 1127.2L1525.5 1128.3L1523.5 1129.6L1520.4 1130.7L1517.1 1131.4L1514 1131.2L1511.6 1130.1L1508.5 1129.5L1505 1128.4L1502.7 1127.2L1499.4 1126.3L1496.3 1123.2L1494.6 1120.7L1492 1118.7L1489.9 1116.2L1488.1 1114L1487.2 1109.9L1486.4 1107Z" stroke="#808080" stroke-width="0.9" fill="none" stroke-linejoin="round"/>
<path d="M1488.4 1102.6L1487.9 1100L1489.7 1097.5L1491.3 1093.3L1492.3 1090.8L1494.7 1087.6L1495.5 1083.3L1497.3 1081.4L1499.2 1077.9L1500.7 1075L1502.6 1071.9L1504.2 1069L1505.7 1066.6L1507.1 1064.2L1509.2 1061.1L1512.5 1059.1L1515 1056.5L1517.6 1055.1L1520.8 1053.1L1524.1 1052.2L1528.1 1051.3L1531.1 1051.3L1534.7 1051.9L1537.5 1052.6L1538.9 1055.4L1541.4 1057.3L1542.2 1061.2L1543.8 1063.4L1544.6 1066.7L1545.2 1069.9L1545.2 1073.2L1546.1 1077.3L1545.4 1080.1L1546.3 1083.2L1546.2 1087.2L1545.6 1089.3L1544.3 1093.2L1544.1 1095.3L1543 1098.5L1542.4 1101L1542 1104L1540.3 1107.7L1539.5 1110.6L1537.5 1112.5L1536.4 1115.8L1535 1117.9L1532.1 1121L1529.9 1123.6L1526.1 1126.1L1522.8 1126.7L1519.7 1128L1516.8 1128.7L1512.4 1128.2L1508.8 1127.8L1506.3 1126.2L1503.9 1125.4L1500.6 1124L1497.7 1122L1495.9 1119.2L1494.7 1117L1492.3 1114.3L1490.9 1112.2L1489.5 1108.6L1488.8 1106.1Z" stroke="#808080" stroke-width="0.9" fill="none" stroke-linejoin="round"/>
<path d="M1489.7 1101.8L1490 1098.9L1491.4 1096.6L1493 1093.8L1495 1090.3L1496.5 1087.6L1497.7 1084.4L1499.3 1081.2L1501.3 1078.2L1502.7 1074L1504 1071.6L1506.5 1068.9L1507.9 1066.3L1511.1 1063.1L1512.4 1060.9L1514.8 1058.9L1518.2 1056.6L1520.8 1055.2L1524.1 1053.8L1527.7 1052.9L1530.7 1053.1L1534.4 1054.2L1536.6 1055.7L1539.9 1059.4L1541.4 1062.5L1542.6 1065L1543.1 1068L1543.1 1070.7L1544 1074L1544.5 1078.1L1544.8 1081L1544.5 1084.7L1543.9 1087.7L1543.2 1091.2L1543.6 1094.2L1542.5 1097.2L1542.1 1100.1L1540 1103.9L1539.2 1107.3L1536.9 1110.5L1535.2 1113L1534.5 1115.7L1531 1118.3L1528.7 1120.8L1526.6 1123L1523.5 1124.8L1520.6 1125.4L1516 1126L1513.2 1125L1509.7 1124.3L1507.1 1123.7L1503.7 1122.1L1500.5 1120.2L1497.1 1117L1495.8 1114.5L1494.1 1111.6L1492.1 1108.8L1490.6 1105.9Z" stroke="#b8b8b8" stroke-width="0.8" fill="none" stroke-linejoin="round"/>
<path d="M1492.9 1101.7L1492.5 1098.5L1493.1 1096L1494.9 1092.8L1496.3 1089.8L1497.5 1087L1499.6 1083.7L1500.5 1081.1L1502.7 1078.3L1504.5 1075.2L1505.3 1072.2L1506.9 1069.7L1509.2 1067.2L1512.1 1064.3L1514.5 1061.7L1517.1 1059.4L1520.4 1057.8L1524.1 1056.3L1526.6 1055.8L1529.8 1055L1532.8 1056.4L1535.9 1058.1L1538.4 1060.8L1539.6 1065L1541 1066.8L1542 1071L1542.4 1074.3L1542.4 1077.4L1542.8 1080.8L1543 1083.8L1542.6 1087.8L1541.8 1091.3L1541.8 1094.2L1541.2 1097L1540.1 1099.8L1539.3 1102.7L1537.2 1106.4L1536.1 1109.3L1535.4 1110.9L1533.6 1113.6L1531.4 1116.8L1528.3 1119.2L1525.5 1121.3L1523.4 1122.8L1520.2 1123.2L1516.8 1122.9L1513.2 1123.2L1511.2 1122.1L1507.1 1120.6L1504.3 1119.9L1501.6 1117.6L1499.8 1115.4L1496.9 1113.4L1495.8 1109.8L1493.4 1107.7L1492.5 1104.2Z" stroke="#b8b8b8" stroke-width="0.8" fill="none" stroke-linejoin="round"/>
<path d="M1494.3 1100.4L1494.9 1097.3L1496.5 1093.5L1497.5 1091.1L1499.8 1088L1500.9 1084.6L1502.5 1082.2L1503.4 1078.4L1505 1076L1507.2 1073.6L1508.3 1070.4L1510.1 1069.3L1512.2 1066.3L1515.1 1063.4L1517.7 1061.7L1521 1059.8L1524.7 1058.3L1528.5 1057.9L1532.9 1057.8L1535.1 1059.9L1537.3 1063.2L1539 1066.1L1539.3 1068.5L1540.9 1071.9L1541.3 1075.6L1541.9 1078.9L1542.1 1082.3L1541.6 1085.2L1540.5 1089.2L1540.5 1092L1539.6 1095.9L1539.2 1098.5L1537.2 1102.3L1535.6 1106L1534.7 1108.9L1532 1112.4L1530 1114L1528.2 1116.8L1525.6 1117.9L1523 1120.1L1520 1120.2L1515.6 1120.8L1511.9 1119.1L1508.1 1118.2L1506 1116.9L1503.8 1115.1L1501 1112.7L1499.3 1110.1L1496.4 1107L1494.8 1103.2Z" stroke="#b8b8b8" stroke-width="0.8" fill="none" stroke-linejoin="round"/>
<path d="M1497.1 1098.6L1496.9 1095.8L1498.2 1093.5L1500.1 1090L1501.7 1087.1L1502.5 1085.1L1504.7 1082.1L1505.5 1078.1L1507.4 1075.3L1509.5 1072.1L1511.2 1069.6L1513.2 1067.5L1515.5 1065.4L1518.6 1063.3L1520.7 1061.6L1524.5 1060.9L1528.9 1059.7L1532.1 1060.8L1534.2 1062L1536.4 1065.1L1537.7 1067.2L1538.7 1070.5L1538.9 1074.6L1539.6 1078.7L1539.9 1082.6L1539.4 1085.9L1539.8 1088L1538.8 1092.3L1538.8 1094.4L1538 1097.8L1536.4 1101.6L1534.6 1104.6L1533.1 1107.8L1532.1 1110.4L1528.7 1112.4L1526.2 1115L1522.9 1117.2L1520 1118L1516.6 1118.2L1512.9 1117.3L1508.8 1116.4L1505.7 1113.9L1502.3 1110.6L1500.1 1108.1L1498.5 1105.5L1497.5 1102.3Z" stroke="#b8b8b8" stroke-width="0.8" fill="none" stroke-linejoin="round"/>
<path d="M1498.7 1098L1499.5 1095.3L1501.4 1091.3L1502.5 1088.1L1504.6 1084.6L1505.4 1082.6L1507.1 1079.6L1509 1075.9L1510.2 1073.9L1512.4 1072.2L1514.6 1067.8L1518.3 1066.2L1520.5 1063.8L1524 1062.5L1527.6 1062.2L1530.8 1062.5L1533.8 1065.3L1536.3 1069.4L1536.9 1072.2L1538.4 1075.2L1538 1079L1538.2 1082.3L1538.1 1086.7L1538.2 1089.8L1537.4 1093.5L1536.5 1097.1L1535 1099.8L1534.6 1103.3L1532.5 1105.8L1530.6 1107.6L1528.9 1110.5L1526 1113.5L1523.3 1114.6L1520 1115L1516.8 1115L1513.5 1114.9L1510.3 1113.5L1506.6 1112.1L1504.3 1109.6L1502.5 1107.2L1500.6 1103.9L1499.2 1101.4Z" stroke="#b8b8b8" stroke-width="0.8" fill="none" stroke-linejoin="round"/>
<path d="M1501.1 1096.8L1501 1094.6L1502.2 1091L1504.2 1088.3L1505.7 1085.4L1508.1 1081.9L1509.5 1078.8L1511.3 1075.6L1512.6 1072.5L1515.7 1069.6L1518.5 1067.9L1521.5 1065.9L1524.1 1064.8L1527.3 1064.8L1530.5 1064.7L1533.4 1067.7L1535.1 1071.1L1536.4 1073.7L1536.1 1077L1536.8 1079.4L1537.4 1082.8L1537.5 1086.2L1536.3 1089.3L1536.2 1092.6L1534.7 1095.9L1534 1100.3L1532.6 1103.5L1530.5 1106.1L1528 1108.3L1526.2 1111L1522.5 1111.6L1520.7 1113.2L1517.7 1112.4L1514.1 1112.4L1510.9 1111L1508 1108.9L1505.9 1107.3L1503.2 1104.1L1501.4 1100.4Z" stroke="#b8b8b8" stroke-width="0.8" fill="none" stroke-linejoin="round"/>
<path d="M1503.7 1096.6L1503.6 1092.2L1505.4 1088.6L1507.5 1084.7L1509.3 1082.3L1510.9 1080L1512.9 1077.3L1513.5 1074.9L1515.9 1071.9L1519 1069.5L1521.6 1068.3L1526 1066.7L1529.4 1067.3L1531.7 1069.5L1534.4 1072.9L1534.7 1075.7L1535.1 1080.1L1536.1 1083L1534.8 1087.3L1535.3 1091.1L1534.1 1095.6L1532.4 1098.6L1531.2 1101L1529.6 1103.8L1525.8 1107.1L1523.6 1109L1518.7 1110.3L1514.6 1109.7L1511.4 1107.8L1508 1105.3L1505.9 1103L1503.7 1098.8Z" stroke="#b8b8b8" stroke-width="0.8" fill="none" stroke-linejoin="round"/>
<path d="M1505.2 1095.6L1506 1091.9L1507.8 1088.9L1508.8 1085.5L1510.6 1082.1L1512.4 1078.3L1515.1 1075.8L1517.8 1072.9L1521 1069.8L1524.8 1069.1L1528.6 1069.9L1530.7 1071.5L1532.8 1074.4L1533 1076.7L1534.4 1080.3L1534.5 1083.4L1534.5 1086.8L1533.1 1091L1533 1094.8L1530.4 1098L1528.4 1102.2L1526.1 1105.5L1523.4 1107.2L1520 1107.9L1515.3 1106.8L1511.9 1105.2L1509.5 1103L1507.1 1099.8Z" stroke="#b8b8b8" stroke-width="0.8" fill="none" stroke-linejoin="round"/>
<path d="M1507.7 1094L1507.7 1091L1510.1 1089L1511.5 1086L1512.9 1082.3L1514.2 1079.2L1516.3 1077.6L1519.1 1074.5L1521.3 1072.3L1524.2 1071.2L1528.1 1071.6L1530.9 1076.3L1532.2 1079.7L1532.3 1084.1L1533.1 1087.2L1531.6 1090.9L1531.6 1092.7L1529.2 1096.9L1527.7 1100.6L1525 1103.1L1522.9 1104.1L1519.4 1104.9L1516.3 1103.9L1514.3 1103.4L1511.3 1101.3L1508.3 1098.1Z" stroke="#b8b8b8" stroke-width="0.8" fill="none" stroke-linejoin="round"/>
<path d="M1509.5 1093L1510.8 1089L1513.3 1086.2L1514.9 1082.1L1516.5 1078.3L1518.7 1076.6L1522.2 1074.8L1526.7 1074.4L1530.6 1077L1531 1080.4L1531.2 1084.2L1531.1 1088.8L1530.2 1092.3L1528.8 1095.2L1527.6 1098.5L1522.9 1102.1L1518.1 1101.5L1512.6 1098.6L1510.6 1096.6Z" stroke="#b8b8b8" stroke-width="0.8" fill="none" stroke-linejoin="round"/>
<path d="M1512 1091.6L1512.8 1089L1515 1086.6L1516.4 1082.5L1518.4 1080.6L1521.8 1076.3L1526.2 1076.4L1529.1 1078.6L1530.2 1084.7L1529.3 1088L1529.3 1091.4L1525.9 1096L1522.2 1098.9L1518.7 1098.9L1514.8 1097.2Z" stroke="#b8b8b8" stroke-width="0.8" fill="none" stroke-linejoin="round"/>
<path d="M1514.2 1091L1515.8 1086.6L1519.1 1081.6L1522 1078.6L1525.1 1078.3L1528 1080.9L1528.5 1085L1528 1090.6L1525.4 1094L1522.2 1096.7L1519.1 1097.1L1516.6 1094.9Z" stroke="#b8b8b8" stroke-width="0.8" fill="none" stroke-linejoin="round"/>
<path d="M1516.9 1089.4L1518.3 1086.5L1520.4 1083.4L1522.1 1081.2L1524.4 1080.3L1526.6 1082.5L1526.7 1086.4L1525.8 1089.1L1524.7 1092.5L1523.2 1094.4L1519.7 1094.5L1517.8 1093.4Z" stroke="#b8b8b8" stroke-width="0.8" fill="none" stroke-linejoin="round"/>
<path d="M1518.3 1088.5L1519.2 1086.3L1520.9 1084.3L1522.3 1083.1L1524.3 1082.8L1524.4 1083.5L1524.9 1086.1L1525.4 1088.7L1523.9 1090.2L1522.1 1091.2L1520.7 1091.5L1519.7 1091.2Z" stroke="#b8b8b8" stroke-width="0.8" fill="none" stroke-linejoin="round"/>
<path d="M1520.6 1088.3L1520.9 1087.2L1521.6 1085.5L1522.9 1085.8L1523.1 1085.4L1523.7 1085.4L1523.6 1086.2L1523.5 1087.9L1522.9 1089.1L1522.2 1089.3L1521.8 1089.3L1521.2 1088.1Z" stroke="#b8b8b8" stroke-width="0.8" fill="none" stroke-linejoin="round"/>
<ellipse cx="1538.9" cy="1020.2" rx="8.6" ry="10.3" transform="rotate(0 1538.9 1020.2)" fill="#ccc" opacity="0.4" filter="url(#b2)"/>
<path d="M1552.1 1020.7L1552 1026.2L1549.1 1030.2L1545.6 1033.4L1541.3 1034.8L1536.5 1034.8L1532.9 1032.1L1528.5 1030.1L1524.6 1026.5L1523.9 1020.6L1526.1 1014.7L1528.5 1011.1L1532.1 1007.5L1536.8 1006.7L1541 1005.4L1545.7 1006.5L1549.2 1010.1L1550.7 1014.4Z" stroke="#777" stroke-width="0.9" fill="none" stroke-linejoin="round"/>
<path d="M1550.7 1020.7L1551.1 1025L1548.4 1029.1L1544.1 1032L1540.8 1033.5L1536.9 1032.6L1533.8 1030.7L1530.1 1029.3L1526.6 1024.9L1526 1020.3L1527.8 1016.1L1530.3 1012L1532.7 1008.7L1537.3 1007.6L1540.4 1007.9L1544.6 1007.7L1548.4 1011.1L1549.9 1016.3Z" stroke="#777" stroke-width="0.9" fill="none" stroke-linejoin="round"/>
<path d="M1548.5 1019.7L1549 1024.9L1546.9 1028L1543.2 1029.8L1540.7 1031.3L1537.3 1030.8L1534.1 1029.6L1531.3 1027.2L1528.1 1024L1528.3 1020.1L1529 1016.4L1530.8 1013.4L1533.5 1010.4L1537 1010.3L1540.6 1009.1L1544.6 1010.2L1546.2 1013.1L1548 1016.2Z" stroke="#b0b0b0" stroke-width="0.8" fill="none" stroke-linejoin="round"/>
<path d="M1547.7 1020.6L1547.4 1023.3L1545.3 1026.7L1543 1028.6L1539.8 1029.6L1538 1028.6L1534.8 1027.6L1532.5 1026.5L1529.7 1023.3L1529.4 1019.7L1531.5 1017L1532.1 1014.7L1535.3 1011.8L1537.8 1010.9L1539.9 1011.8L1543.7 1011.6L1546 1013.8L1546.5 1017.1Z" stroke="#b0b0b0" stroke-width="0.8" fill="none" stroke-linejoin="round"/>
<path d="M1545 1019.9L1545.1 1022.4L1544.6 1024.9L1542.1 1027L1540.3 1027.8L1538.3 1027.3L1535.6 1026.8L1533.3 1024.9L1531.9 1023.6L1531.3 1020.5L1532.1 1018L1533.6 1015.3L1536.1 1014.2L1537.8 1012.8L1539.5 1013L1542.7 1013.2L1543.7 1014.7L1545.3 1017.2Z" stroke="#b0b0b0" stroke-width="0.8" fill="none" stroke-linejoin="round"/>
<path d="M1543.6 1019.8L1543.4 1022.5L1543.2 1024.6L1541.7 1025.4L1539.8 1025.1L1537.8 1025.4L1536.5 1024.5L1535 1023.8L1533.6 1022.3L1533.5 1020.6L1534 1018.6L1535.7 1016.9L1536.6 1014.9L1538.1 1015L1539.9 1014.8L1541.1 1015.4L1542.6 1016.4L1543.8 1018.5Z" stroke="#b0b0b0" stroke-width="0.8" fill="none" stroke-linejoin="round"/>
<path d="M1541.8 1020.6L1542.3 1022L1541.3 1023.2L1540.3 1024L1538.9 1023.7L1538.2 1023.6L1537.9 1023.5L1536.8 1022.4L1536 1021.5L1534.8 1020.7L1536.3 1019.5L1536.2 1018L1537.5 1016.8L1537.8 1016.8L1539.2 1016.8L1540.3 1016.8L1541.3 1017.4L1542.4 1018.6Z" stroke="#b0b0b0" stroke-width="0.8" fill="none" stroke-linejoin="round"/>
<path d="M1540.3 1020L1541 1021.1L1540.6 1021.2L1539.3 1022.3L1538.6 1022.5L1539.1 1022.5L1538.2 1021.8L1537.4 1021.3L1536.9 1020.4L1536.9 1019.8L1537.4 1019L1537.7 1018.7L1538.1 1019.1L1538.2 1018.3L1539.4 1019L1539.8 1018.8L1540 1019.2L1539.9 1020.1Z" stroke="#b0b0b0" stroke-width="0.8" fill="none" stroke-linejoin="round"/>
<path d="M1542.4 1035.8L1540.9 1042.6L1547.8 1047.4" stroke="#777" stroke-width="0.9" fill="none" stroke-linejoin="round"/>
<path d="M1498.8 1059.3L1497.7 1055.5L1502.1 1049.3L1503.3 1043.5L1505.8 1037.1L1510.4 1032.2L1512.8 1025.8L1518.2 1022.2" stroke="#666" stroke-width="0.9" fill="none" stroke-linejoin="round"/>
<path d="M1489.3 1042.4h1.2M1463.1 1044.1h1.2M1503 1054.6h1.2M1428 1061.4h1.2M1413.6 1096.9h1.2M1460 1125.9h1.2M1464.7 1096h1.2M1386.2 1103.1h1.2M1454.9 1044.3h1.2M1417.1 1071.5h1.2M1461 1116.4h1.2M1470.7 1114h1.2M1416.2 1050.9h1.2M1489.7 1042.3h1.2M1537.8 1070.8h1.2M1541 1076.5h1.2M1437.8 1029.3h1.2M1491.4 1077.6h1.2M1489.4 1044.2h1.2M1451.6 1096.6h1.2M1421.9 1087h1.2M1488.9 1103.5h1.2M1552.5 1115.6h1.2M1432.5 1067.8h1.2M1383.7 1058.7h1.2M1435.9 1136.4h1.2M1445.8 1081.9h1.2M1406.8 1104.4h1.2M1533.2 1101h1.2M1500.5 1100.8h1.2M1426 1086.7h1.2M1464.1 1102.4h1.2M1459.8 1093.4h1.2M1500.3 1079.4h1.2M1545.5 1089.8h1.2M1478.8 1119.4h1.2M1382.5 1066.2h1.2M1481.7 1135.9h1.2M1423.4 1074.9h1.2M1464.8 1091.4h1.2M1443.6 1072h1.2M1394.3 1093.9h1.2M1401.5 1113h1.2M1450.6 1138.2h1.2M1499.5 1083.3h1.2M1430.4 1089.6h1.2M1418.7 1087.3h1.2M1527.6 1084.6h1.2M1426.3 1128.5h1.2M1458.4 1063.6h1.2M1415.6 1060.9h1.2M1467 1057h1.2M1457.8 1068.7h1.2M1461.4 1036.6h1.2M1455.7 1127.7h1.2M1488 1058.7h1.2M1476.3 1112.7h1.2M1446 1062.1h1.2M1442.1 1019h1.2M1445.4 1042.1h1.2M1420.2 1092.1h1.2M1455.5 1090.8h1.2M1425.5 1115.6h1.2M1398.4 1106.9h1.2M1486.2 1009.5h1.2M1517.2 1092.2h1.2M1400.8 1089.1h1.2M1440.2 1065.4h1.2M1440.8 1081.7h1.2M1487.1 1063h1.2M1385 1086.8h1.2M1436.5 1097.1h1.2M1456 1060.4h1.2M1415 1034.5h1.2M1423.1 1027.2h1.2M1434.2 1101.5h1.2M1503.2 1139.6h1.2M1432.8 1083.2h1.2M1415.2 1056.7h1.2M1509.6 1073.7h1.2M1421.1 1062.7h1.2M1467.4 1088.7h1.2M1462.2 1090.1h1.2M1434.3 1125.2h1.2M1450.1 1052.2h1.2M1436.5 1067.5h1.2M1472.4 1102.8h1.2M1452.1 1105.4h1.2M1452.1 1085.1h1.2M1459.3 1080h1.2M1480.7 1103.5h1.2M1435.2 1036.9h1.2M1457.2 1044.6h1.2M1398.8 1104.3h1.2M1489.3 1091.3h1.2M1419.1 1094.7h1.2M1494 1116.9h1.2M1461.1 1089.2h1.2M1428.4 1094.3h1.2M1413.8 1117.3h1.2M1450.4 1070.9h1.2M1475.4 1096.5h1.2M1467.2 1083.6h1.2M1492.3 1064.7h1.2M1464.9 1072h1.2M1495.1 1044h1.2M1460.5 1057.2h1.2M1439.2 1121.6h1.2M1468.1 1041.2h1.2M1440.3 1123.1h1.2M1436.8 1064.8h1.2M1448.8 1071.7h1.2M1405.6 1103.9h1.2M1471.7 1075.1h1.2M1420.4 1054.1h1.2M1416.9 1037.5h1.2M1485 1070.5h1.2M1389.9 1099.8h1.2M1428 1064.6h1.2M1436.6 1085.1h1.2M1390.2 1087.8h1.2M1457.6 994.5h1.2M1444 1069.2h1.2M1516.3 1098.5h1.2M1448.1 1051.9h1.2M1445.1 1079.1h1.2M1419.2 1052.7h1.2M1450.3 1117.5h1.2M1555.1 1064.2h1.2M1459.9 1045.6h1.2M1474 1090.8h1.2M1461.6 1116h1.2M1454.3 1107.9h1.2M1398.3 1053.4h1.2M1421.2 1063.1h1.2M1441 1128.9h1.2M1392.2 1076.8h1.2M1397.3 1065.2h1.2M1465.5 1066.1h1.2M1452.2 1111.4h1.2M1518.1 1070.4h1.2M1433.1 1057h1.2M1453.3 1049h1.2M1512.8 1032.5h1.2M1412.4 1037.4h1.2M1432 1091.5h1.2M1443.5 1046.5h1.2M1477.5 1069.3h1.2M1442.2 1042.9h1.2M1462.6 1085.6h1.2M1461.7 1110.6h1.2M1422.2 1085.7h1.2M1510.3 1059.2h1.2M1558.3 1104.7h1.2M1424.1 1054.1h1.2M1408.5 1060.6h1.2M1433.9 1062.5h1.2M1441.4 1099.8h1.2M1439.3 1074.3h1.2M1404.2 1109h1.2M1546.7 1047.3h1.2M1505.3 1085.8h1.2M1499.4 1130.6h1.2M1499.8 1073.5h1.2M1530.2 1072.8h1.2M1528.9 1088.7h1.2M1400.7 1075.7h1.2M1519.8 1030.9h1.2M1476.3 1096.8h1.2M1476.7 1053.1h1.2M1383.7 1121.9h1.2M1440.8 1004h1.2M1503.8 1027.4h1.2M1440.7 1052.2h1.2M1439.8 1084.7h1.2M1443.5 1103.3h1.2M1390.2 1107.9h1.2M1417.2 1111.3h1.2M1418.3 1087.2h1.2M1434.5 1023.3h1.2M1527.8 1073.2h1.2M1466 1085.9h1.2M1454.9 1087.7h1.2M1382.8 1067.4h1.2M1393.3 1127.8h1.2M1448.9 1132h1.2M1491.1 1096.6h1.2M1465.6 1086.7h1.2M1491.8 1037.2h1.2M1480.4 1049.1h1.2M1459.6 1098.9h1.2M1446.8 1119.4h1.2M1415.7 1138.4h1.2M1387.2 1085.3h1.2M1552.5 1080.8h1.2M1492.9 1048.4h1.2M1401.5 1085.3h1.2M1501.4 1072.2h1.2M1480.7 1115.4h1.2M1504.5 1117.4h1.2M1433.7 1078h1.2M1540.4 1124.8h1.2M1456.8 1126.5h1.2M1514 1095.3h1.2M1415.5 1062.2h1.2M1432 1090.9h1.2M1462.4 1016h1.2M1500.4 1097.5h1.2M1533.8 1112.2h1.2M1433.9 1012.8h1.2M1464.7 1064h1.2M1413.8 1071.8h1.2M1422.9 1048.6h1.2M1472 1040.4h1.2M1483.6 1103.8h1.2M1532.7 1088.2h1.2M1431.6 1065.8h1.2M1430.2 1124.4h1.2M1477.8 1056.8h1.2M1432 1044.6h1.2M1495 1100.1h1.2M1392.6 1069.8h1.2M1430.9 1104h1.2M1426.4 1108.3h1.2M1451.1 1077.5h1.2M1483.1 1092.3h1.2M1421.2 1113.3h1.2M1445 1016.2h1.2M1485.8 1051.2h1.2M1478.9 1087.1h1.2M1510.6 1054h1.2M1426.2 1119.6h1.2M1444.9 1076.7h1.2M1404.4 1085.6h1.2M1483.1 1049.2h1.2M1444.1 1102.7h1.2M1399.9 1073.2h1.2M1471 1081.4h1.2M1457.4 1094.4h1.2M1426.9 1069.6h1.2M1417.7 1094.3h1.2M1454.7 1089.6h1.2M1466.8 1038.2h1.2M1440.3 1078.4h1.2M1503.8 1070.2h1.2M1389.4 1098.3h1.2M1419.5 1088.5h1.2M1551.2 1089.7h1.2M1458.8 1104.5h1.2M1506.7 1125.4h1.2M1420.2 1095.2h1.2M1433 1073.7h1.2M1429.4 1102.9h1.2M1415 1104.1h1.2M1435.7 1082.5h1.2M1443.5 1071.4h1.2M1434.9 1075.5h1.2M1489.7 1096.3h1.2M1397.5 1125.9h1.2M1408.8 1072.4h1.2M1428.5 1035.2h1.2M1461.7 1022.8h1.2M1457.5 1119.9h1.2M1482.6 1079.2h1.2M1433.1 1014.1h1.2M1480.6 1136.7h1.2M1453.7 1082.9h1.2M1469.7 1090.4h1.2M1438.5 1051.9h1.2M1450 1109.7h1.2M1508.3 1082h1.2M1463.5 1077h1.2M1539.6 1101.7h1.2M1451.2 1072.8h1.2M1501.1 1092.5h1.2M1412.9 1030.2h1.2M1437.6 1085h1.2M1444.5 1135.3h1.2M1473.6 1096.8h1.2M1424.2 1091.6h1.2M1383.3 1088.8h1.2M1474.9 1023h1.2M1485.4 1078.9h1.2M1499.1 1072.3h1.2M1440.4 1056.4h1.2M1432.8 1125.4h1.2M1384.5 1061.8h1.2M1438.1 1127.9h1.2M1399.2 1050.5h1.2M1405.9 1076.5h1.2M1392.7 1056.8h1.2M1427.8 1060.1h1.2M1461.6 1069h1.2M1454.2 1093.1h1.2M1450.4 1065.1h1.2M1438.3 1073.4h1.2M1527.4 1120.8h1.2M1457.8 1082.1h1.2M1473.2 1053.2h1.2M1430.3 1068.8h1.2M1439 1118.3h1.2M1509.9 1091.9h1.2M1483.9 1118.1h1.2M1424 1077.5h1.2M1513.5 1082.4h1.2M1529.9 1094.6h1.2M1507.5 1069.8h1.2M1492.6 1108.4h1.2M1449.4 1086.9h1.2M1530.5 1085.9h1.2M1500 1084.4h1.2M1461.7 1085.6h1.2M1381.4 1060.4h1.2M1404.4 1110.1h1.2M1427.8 1080.9h1.2M1465 1090.9h1.2M1440.4 1045.7h1.2M1467.7 1090h1.2M1457.2 1050.8h1.2M1478.1 1057.2h1.2M1419.5 1069.4h1.2M1400.5 1086.3h1.2M1408.9 1107.3h1.2M1380.7 1091.4h1.2M1530 1030.9h1.2M1474.4 1118.8h1.2M1420.3 1028.8h1.2M1457.8 1029.8h1.2M1451.8 1102.9h1.2M1403.3 1071.4h1.2M1485.4 1089.1h1.2M1450 1065.9h1.2M1441.2 1104h1.2M1407 1074.3h1.2M1471.8 1111.2h1.2M1413.5 1081h1.2M1494 1132.2h1.2M1435.4 1075.2h1.2M1428.6 1022.1h1.2M1441.1 1080.6h1.2M1458.9 1032.4h1.2M1478.2 1084.2h1.2M1500.6 1090h1.2M1408.8 1047.6h1.2M1471.9 1114.9h1.2M1494 1093.7h1.2M1476.2 1077.8h1.2M1421.1 1074.5h1.2M1461.8 1025.4h1.2M1413.8 1055.3h1.2M1390.6 1111h1.2M1455.7 1093.8h1.2M1525.9 1081.1h1.2M1468.5 1023.2h1.2M1508.2 1072.9h1.2M1529.6 1122.2h1.2M1471.3 1063.4h1.2M1461.4 1086.6h1.2M1444.2 1099h1.2M1486.2 1038.7h1.2M1430.2 1125.3h1.2M1454.6 1031.1h1.2M1462.3 1072.1h1.2M1406.3 1118.3h1.2M1445.3 1078.7h1.2M1473.4 1117.2h1.2M1452.5 1095.1h1.2M1440.4 1099.3h1.2M1468 1084.5h1.2M1448.6 1086h1.2M1397.8 1114.5h1.2M1420.3 1098.7h1.2M1450 1098.9h1.2M1497.8 1097.4h1.2M1461 1087h1.2M1498.3 1017.9h1.2M1425.4 1095.8h1.2M1496.3 1054.4h1.2M1446.5 1072.9h1.2M1452.2 1100.2h1.2M1439.6 1053.7h1.2M1427.1 1028.3h1.2M1506 1056h1.2M1471.9 1067.6h1.2M1398.1 1099h1.2M1483.1 1087.1h1.2M1459.9 1040.1h1.2M1469 1093.2h1.2M1486.6 1037.3h1.2M1446.8 1069.1h1.2M1522.7 1067.8h1.2M1433.4 1068.2h1.2M1437.2 1103.6h1.2M1448.9 1103.4h1.2M1401.4 1103.6h1.2M1470.9 1037.2h1.2M1484.7 1084h1.2M1459.8 1110.4h1.2M1531.6 1054.9h1.2M1474.3 1086.7h1.2M1490.1 1091.2h1.2M1532.1 1114h1.2M1421.7 1102.6h1.2M1426.9 1091.7h1.2M1447.2 1082.2h1.2M1391.1 1111.4h1.2M1475.1 1096.5h1.2M1425.4 1029.7h1.2M1444.4 1101.6h1.2M1423.4 1087.5h1.2M1434.5 1025.3h1.2M1398.5 1112.9h1.2M1489.3 1056.3h1.2M1442.3 1082.3h1.2M1499.7 1114.7h1.2M1421.5 1064.5h1.2M1443.6 1082.5h1.2M1494.1 1082.4h1.2M1422.6 1055.2h1.2M1405.8 1063.2h1.2M1410.6 1098.3h1.2M1431.1 1117.6h1.2M1483.1 1082.3h1.2M1419 1092.4h1.2M1535.6 1126.4h1.2M1534.9 1116.6h1.2M1415.4 1077.2h1.2M1450.2 1044.7h1.2M1478.6 1088.5h1.2M1432.6 1126.2h1.2M1515.3 1099.1h1.2M1497.4 1096.6h1.2M1393.7 1067.7h1.2M1456.5 1054.1h1.2M1433.8 1061.6h1.2M1507.8 1060.2h1.2M1426.6 1022.6h1.2M1507.6 1071.1h1.2M1512.2 1050.4h1.2M1424.7 1054.1h1.2M1450 1061.5h1.2M1484 1080h1.2M1482.5 1084.2h1.2M1413.8 1086.5h1.2M1402.8 1070.4h1.2M1518.3 1060.7h1.2M1489 1040.9h1.2M1439.9 1057.2h1.2M1455.6 1077.4h1.2M1503.8 1075.5h1.2M1495.2 1088.5h1.2M1422.4 1078.3h1.2M1470.6 1064.8h1.2M1399.3 1076.5h1.2M1431.9 1080.1h1.2M1446.5 1070.4h1.2M1492.5 1103.7h1.2M1515.2 1065.3h1.2M1435.8 1121.6h1.2M1400.5 1099.7h1.2M1549.1 1017.5h1.2M1559 1018.9h1.2M1557.2 997.6h1.2M1531.7 1008.6h1.2M1537.3 1005.6h1.2M1542.6 991h1.2M1550.2 1003.8h1.2M1550.7 1016h1.2M1558.5 1004.6h1.2M1559 1018.4h1.2M1506.1 1001.5h1.2M1558.3 979.1h1.2M1531.3 1027.3h1.2M1546.5 1004.1h1.2M1539.1 1009.7h1.2" stroke="#b0b0b0" stroke-width="1.2"/>
</g>
<rect x="1376.4" y="956" width="189.2" height="187.6" stroke="#808080" stroke-width="1.4" fill="none"/>
<path d="M1376.4 1143.6L1565.6 1143.6" stroke="#6a6a6a" stroke-width="2.2" fill="none"/>
<path d="M1565.6 956L1565.6 1143.6" stroke="#999" stroke-width="2" fill="none"/>
<rect x="1522.4" y="992.6" width="38.6" height="54.4" stroke="#303030" stroke-width="1.2" fill="none"/>
<path d="M1522.4 1047L1561 1047" stroke="#111" stroke-width="2.2" fill="none"/>
<text x="5.3" y="37" font-size="43.5" font-weight="700" fill="#000">A</text>
<text x="1051" y="44.4" font-size="44.8" textLength="33" lengthAdjust="spacingAndGlyphs" font-weight="700" fill="#000">B</text>
<text x="5.8" y="635.8" font-size="43" font-weight="700" fill="#000">C</text>
<text x="1051" y="647" font-size="44.8" textLength="33" lengthAdjust="spacingAndGlyphs" font-weight="700" fill="#000">D</text>
<path d="M112 26.2L265 26.2" stroke="#444" stroke-width="1.1" fill="none"/>
<path d="M395.6 26.2L548.6 26.2" stroke="#444" stroke-width="1.1" fill="none"/>
<text x="274.2" y="32.1" font-size="18.3" textLength="111.6" lengthAdjust="spacingAndGlyphs" font-weight="700" fill="#000">No infection</text>
<text x="211" y="67" font-size="20.5" text-anchor="middle" font-weight="700" fill="#000">(-)</text>
<text x="417.2" y="67" font-size="18.8" textLength="54.2" lengthAdjust="spacingAndGlyphs" font-weight="700" fill="#000">SCFA</text>
<path d="M112 311.4L271 311.4" stroke="#444" stroke-width="1.1" fill="none"/>
<path d="M375.6 311.4L548.6 311.4" stroke="#444" stroke-width="1.1" fill="none"/>
<text x="279.8" y="317.3" font-size="18.3" textLength="85" lengthAdjust="spacingAndGlyphs" font-weight="700" fill="#000">Infection</text>
<path d="M73.4 454L73.4 249.2" stroke="#4a4a4a" stroke-width="1.5" fill="none"/>
<path d="M73.4 243.2L70.8 250.2L76 250.2Z" fill="#000"/>
<text transform="translate(80.6 534) rotate(-90)" font-size="20" font-weight="700" textLength="62.5" lengthAdjust="spacingAndGlyphs">MHC II</text>
<text x="116.3" y="584" font-size="19.8" textLength="111" lengthAdjust="spacingAndGlyphs" font-weight="700" fill="#000">Mac / Mono</text>
<path d="M241.6 580.2L405.3 580.2" stroke="#444" stroke-width="1.5" fill="none"/>
<path d="M411.8 580.2L404.3 577.3L404.3 583.1Z" fill="#000"/>
<text x="219.7" y="208.3" font-size="20.3" textLength="39.9" lengthAdjust="spacingAndGlyphs" fill="#1a1a1a" stroke="#1a1a1a" stroke-width="0.25">8.37</text>
<text x="464.9" y="207.3" font-size="20.3" textLength="40.1" lengthAdjust="spacingAndGlyphs" fill="#1a1a1a" stroke="#1a1a1a" stroke-width="0.25">10.9</text>
<text x="219.7" y="494.7" font-size="20.3" textLength="41.3" lengthAdjust="spacingAndGlyphs" fill="#1a1a1a" stroke="#1a1a1a" stroke-width="0.25">9.10</text>
<text x="465.4" y="494.7" font-size="20.3" textLength="36.6" lengthAdjust="spacingAndGlyphs" fill="#1a1a1a" stroke="#1a1a1a" stroke-width="0.25">13.1</text>
<path d="M1149.6 32.6L1300 32.6" stroke="#444" stroke-width="1.1" fill="none"/>
<path d="M1427 32.6L1578.4 32.6" stroke="#444" stroke-width="1.1" fill="none"/>
<text x="1307.8" y="38.5" font-size="18.3" textLength="110" lengthAdjust="spacingAndGlyphs" font-weight="700" fill="#000">No infection</text>
<text x="1247" y="71" font-size="20.5" text-anchor="middle" font-weight="700" fill="#000">(-)</text>
<text x="1448.8" y="71" font-size="18.8" textLength="53.2" lengthAdjust="spacingAndGlyphs" font-weight="700" fill="#000">SCFA</text>
<path d="M1149.6 311.4L1306.6 311.4" stroke="#444" stroke-width="1.1" fill="none"/>
<path d="M1408.6 311.4L1578.4 311.4" stroke="#444" stroke-width="1.1" fill="none"/>
<text x="1314.2" y="317.3" font-size="18.3" textLength="84" lengthAdjust="spacingAndGlyphs" font-weight="700" fill="#000">Infection</text>
<path d="M1112.4 453L1112.4 251.2" stroke="#0a0a0a" stroke-width="2.4" fill="none"/>
<path d="M1112.4 244.6L1109.3 252.2L1115.5 252.2Z" fill="#000"/>
<text transform="translate(1119.2 530) rotate(-90)" font-size="23.5" font-weight="700" textLength="42.5" lengthAdjust="spacingAndGlyphs">CD3</text>
<text x="1169" y="580" font-size="21.8" textLength="56" lengthAdjust="spacingAndGlyphs" font-weight="700" fill="#000">CD44</text>
<path d="M1235 576L1438 576" stroke="#0a0a0a" stroke-width="2.1" fill="none"/>
<path d="M1444 576L1437 572.9L1437 579.1Z" fill="#000"/>
<text x="1286.7" y="149.9" font-size="20.3" textLength="39.9" lengthAdjust="spacingAndGlyphs" fill="#1a1a1a" stroke="#1a1a1a" stroke-width="0.25">27.7</text>
<text x="1521.5" y="149.9" font-size="20.3" textLength="40.5" lengthAdjust="spacingAndGlyphs" fill="#1a1a1a" stroke="#1a1a1a" stroke-width="0.25">27.5</text>
<text x="1288.1" y="420.7" font-size="20.3" textLength="39.3" lengthAdjust="spacingAndGlyphs" fill="#1a1a1a" stroke="#1a1a1a" stroke-width="0.25">31.8</text>
<text x="1512.7" y="423.3" font-size="20.3" textLength="39.9" lengthAdjust="spacingAndGlyphs" fill="#1a1a1a" stroke="#1a1a1a" stroke-width="0.25">37.3</text>
<path d="M112.4 639.6L263 639.6" stroke="#000" stroke-width="2.2" fill="none"/>
<path d="M391 639.6L542.4 639.6" stroke="#000" stroke-width="2.2" fill="none"/>
<text x="271.2" y="645.5" font-size="18.3" textLength="110.6" lengthAdjust="spacingAndGlyphs" font-weight="700" fill="#000">No infection</text>
<text x="210" y="678.2" font-size="20.5" text-anchor="middle" font-weight="700" fill="#000">(-)</text>
<text x="412.8" y="678.2" font-size="18.8" textLength="53.6" lengthAdjust="spacingAndGlyphs" font-weight="700" fill="#000">SCFA</text>
<path d="M113 920L269.4 920" stroke="#555" stroke-width="1.1" fill="none"/>
<path d="M372 920L542.6 920" stroke="#555" stroke-width="1.1" fill="none"/>
<text x="277.2" y="925.9" font-size="18.3" textLength="84.6" lengthAdjust="spacingAndGlyphs" font-weight="700" fill="#000">Infection</text>
<path d="M74.6 1061.4L74.6 859.4" stroke="#6e6e6e" stroke-width="1.6" fill="none"/>
<path d="M74.6 852.8L71.6 860.4L77.6 860.4Z" fill="#000"/>
<text transform="translate(81.4 1140.4) rotate(-90)" font-size="24" font-weight="700" textLength="44" lengthAdjust="spacingAndGlyphs">CD4</text>
<text x="131.6" y="1190.4" font-size="22.5" textLength="57" lengthAdjust="spacingAndGlyphs" font-weight="700" fill="#000">CD44</text>
<path d="M198 1185.2L401.5 1185.2" stroke="#4a4a4a" stroke-width="1.5" fill="none"/>
<path d="M406.8 1185.2L400.5 1181.9L400.5 1188.5Z" fill="#000"/>
<text x="173.5" y="727.7" font-size="20.3" textLength="40.5" lengthAdjust="spacingAndGlyphs" fill="#1a1a1a" stroke="#1a1a1a" stroke-width="0.25">17.6</text>
<text x="405.3" y="727.5" font-size="20.3" textLength="40.1" lengthAdjust="spacingAndGlyphs" fill="#1a1a1a" stroke="#1a1a1a" stroke-width="0.25">15.2</text>
<text x="165.5" y="998.7" font-size="20.3" textLength="39.9" lengthAdjust="spacingAndGlyphs" fill="#1a1a1a" stroke="#1a1a1a" stroke-width="0.25">29.9</text>
<text x="394.1" y="998.9" font-size="20.3" textLength="39.3" lengthAdjust="spacingAndGlyphs" fill="#1a1a1a" stroke="#1a1a1a" stroke-width="0.25">28.5</text>
<path d="M1149 644.4L1295 644.4" stroke="#111" stroke-width="2.2" fill="none"/>
<path d="M1420 644.4L1567 644.4" stroke="#111" stroke-width="2.2" fill="none"/>
<text x="1304.2" y="650.3" font-size="18.3" textLength="106.2" lengthAdjust="spacingAndGlyphs" font-weight="700" fill="#000">No infection</text>
<text x="1243" y="682.2" font-size="20.5" text-anchor="middle" font-weight="700" fill="#000">(-)</text>
<text x="1441.2" y="682.2" font-size="18.8" textLength="52.2" lengthAdjust="spacingAndGlyphs" font-weight="700" fill="#000">SCFA</text>
<path d="M1149 917L1301 917" stroke="#000" stroke-width="2.2" fill="none"/>
<path d="M1400 917L1567 917" stroke="#000" stroke-width="2.2" fill="none"/>
<text x="1308.8" y="922.9" font-size="18.3" textLength="82.4" lengthAdjust="spacingAndGlyphs" font-weight="700" fill="#000">Infection</text>
<path d="M1112 1055.4L1112 858.5" stroke="#929292" stroke-width="2.9" fill="none"/>
<path d="M1112 853L1108.8 859.5L1115.2 859.5Z" fill="#000"/>
<text transform="translate(1118.2 1131) rotate(-90)" font-size="23" font-weight="700" textLength="42" lengthAdjust="spacingAndGlyphs">CD8</text>
<text x="1167" y="1180.6" font-size="21.8" textLength="56" lengthAdjust="spacingAndGlyphs" font-weight="700" fill="#000">CD44</text>
<path d="M1232.4 1175.5L1428 1175.5" stroke="#000" stroke-width="1.6" fill="none"/>
<path d="M1434 1175.5L1427 1172.3L1427 1178.7Z" fill="#000"/>
<text x="1226.9" y="741.9" font-size="20.3" textLength="37.7" lengthAdjust="spacingAndGlyphs" fill="#1a1a1a" stroke="#1a1a1a" stroke-width="0.25">11.7</text>
<text x="1452.9" y="743.3" font-size="20.3" textLength="38.1" lengthAdjust="spacingAndGlyphs" fill="#1a1a1a" stroke="#1a1a1a" stroke-width="0.25">10.1</text>
<text x="1221.5" y="1014.3" font-size="20.3" textLength="38.5" lengthAdjust="spacingAndGlyphs" fill="#1a1a1a" stroke="#1a1a1a" stroke-width="0.25">12.5</text>
<text x="1455.9" y="1014.3" font-size="20.3" textLength="38.7" lengthAdjust="spacingAndGlyphs" fill="#1a1a1a" stroke="#1a1a1a" stroke-width="0.25">10.4</text>
<text x="649.5" y="234" font-size="32.6" textLength="229.5" lengthAdjust="spacingAndGlyphs" fill="#111">% MHCII<tspan dy="-15.5" font-size="21.5" stroke="#111" stroke-width="0.5">+</tspan><tspan dy="15.5"> Mono</tspan></text>
<path d="M675.4 377.6L675.4 402" stroke="#000" stroke-width="2.6" fill="none"/>
<path d="M663.2 377.6H687.6" stroke="#000" stroke-width="3.4" stroke-linecap="round" fill="none"/>
<rect x="650.1" y="401.5" width="50.4" height="138" fill="#ffffff"/>
<path d="M651.1 401L651.1 539.5" stroke="#000" stroke-width="3" fill="none"/>
<path d="M699.1 401L699.1 539.5" stroke="#000" stroke-width="3.8" fill="none"/>
<path d="M649.6 402.5L701 402.5" stroke="#000" stroke-width="3" fill="none"/>
<path d="M748 354.4L748 389" stroke="#000" stroke-width="2.6" fill="none"/>
<path d="M735.8 354.4H760.2" stroke="#000" stroke-width="3.4" stroke-linecap="round" fill="none"/>
<rect x="722.9" y="388.5" width="50.6" height="151" fill="#f3f3f3"/>
<path d="M723.9 388L723.9 539.5" stroke="#000" stroke-width="3" fill="none"/>
<path d="M772.1 388L772.1 539.5" stroke="#000" stroke-width="3.8" fill="none"/>
<path d="M722.4 389.5L774 389.5" stroke="#000" stroke-width="3" fill="none"/>
<path d="M821 393L821 413" stroke="#000" stroke-width="2.6" fill="none"/>
<path d="M808.8 393H833.2" stroke="#000" stroke-width="3.4" stroke-linecap="round" fill="none"/>
<rect x="794.7" y="412.5" width="52" height="127" fill="#808080"/>
<path d="M795.7 412L795.7 539.5" stroke="#000" stroke-width="3" fill="none"/>
<path d="M845.3 412L845.3 539.5" stroke="#000" stroke-width="3.8" fill="none"/>
<path d="M794.2 413.5L847.2 413.5" stroke="#000" stroke-width="3" fill="none"/>
<path d="M894 334.4L894 376" stroke="#000" stroke-width="2.6" fill="none"/>
<path d="M881.8 334.4H906.2" stroke="#000" stroke-width="3.4" stroke-linecap="round" fill="none"/>
<rect x="867.9" y="375.5" width="52.6" height="164" fill="#000000"/>
<path d="M868.9 375L868.9 539.5" stroke="#000" stroke-width="3" fill="none"/>
<path d="M919.1 375L919.1 539.5" stroke="#000" stroke-width="3.8" fill="none"/>
<path d="M867.4 376.5L921 376.5" stroke="#000" stroke-width="3" fill="none"/>
<path d="M638.4 274.8L638.4 540.2" stroke="#222" stroke-width="1.4" fill="none"/>
<path d="M628 539.5L638.4 539.5" stroke="#444" stroke-width="1.6" fill="none"/>
<text x="626.8" y="547.8" font-size="25.3" text-anchor="end" font-weight="700" fill="#000">0</text>
<path d="M628 473.5L638.4 473.5" stroke="#444" stroke-width="1.6" fill="none"/>
<text x="626.8" y="481.8" font-size="25.3" text-anchor="end" font-weight="700" fill="#000">5</text>
<path d="M628 407.5L638.4 407.5" stroke="#444" stroke-width="1.6" fill="none"/>
<text x="626.8" y="415.8" font-size="25.3" text-anchor="end" textLength="27" lengthAdjust="spacingAndGlyphs" font-weight="700" fill="#000">10</text>
<path d="M628 341.5L638.4 341.5" stroke="#444" stroke-width="1.6" fill="none"/>
<text x="626.8" y="349.8" font-size="25.3" text-anchor="end" textLength="27" lengthAdjust="spacingAndGlyphs" font-weight="700" fill="#000">15</text>
<path d="M628 275.5L638.4 275.5" stroke="#444" stroke-width="1.6" fill="none"/>
<text x="626.8" y="283.8" font-size="25.3" text-anchor="end" textLength="27" lengthAdjust="spacingAndGlyphs" font-weight="700" fill="#000">20</text>
<path d="M627.5 539.5L932.5 539.5" stroke="#222" stroke-width="1.8" fill="none"/>
<path d="M674.2 539.5L674.2 550.5" stroke="#444" stroke-width="1.5" fill="none"/>
<path d="M747.5 539.5L747.5 550.5" stroke="#444" stroke-width="1.5" fill="none"/>
<path d="M820.5 539.5L820.5 550.5" stroke="#444" stroke-width="1.5" fill="none"/>
<path d="M894 539.5L894 550.5" stroke="#444" stroke-width="1.5" fill="none"/>
<text x="1710.4" y="229.4" font-size="32.6" textLength="222.6" lengthAdjust="spacingAndGlyphs" fill="#111">% CD3<tspan dy="-15.5" font-size="21.5" stroke="#111" stroke-width="0.5">+</tspan><tspan dy="15.5"> CD44</tspan><tspan dy="-15.5" font-size="21.5" stroke="#111" stroke-width="0.5">+</tspan></text>
<path d="M1732.3 323.5L1732.3 347.6" stroke="#000" stroke-width="2.6" fill="none"/>
<path d="M1720.1 323.5H1744.5" stroke="#000" stroke-width="3.4" stroke-linecap="round" fill="none"/>
<rect x="1706.5" y="347.1" width="50" height="188.3" fill="#ffffff"/>
<path d="M1707.8 346.6L1707.8 535.4" stroke="#000" stroke-width="3.6" fill="none"/>
<path d="M1755.9 346.6L1755.9 535.4" stroke="#000" stroke-width="2.2" fill="none"/>
<path d="M1706 348.1L1757 348.1" stroke="#000" stroke-width="3" fill="none"/>
<path d="M1805.8 362.3L1805.8 377.8" stroke="#000" stroke-width="2.6" fill="none"/>
<path d="M1793.6 362.3H1818" stroke="#000" stroke-width="3.4" stroke-linecap="round" fill="none"/>
<rect x="1779.5" y="377.3" width="50" height="158.1" fill="#f3f3f3"/>
<path d="M1780.8 376.8L1780.8 535.4" stroke="#000" stroke-width="3.6" fill="none"/>
<path d="M1828.9 376.8L1828.9 535.4" stroke="#000" stroke-width="2.2" fill="none"/>
<path d="M1779 378.3L1830 378.3" stroke="#000" stroke-width="3" fill="none"/>
<path d="M1877.7 297L1877.7 321.6" stroke="#000" stroke-width="2.6" fill="none"/>
<path d="M1865.5 297H1889.9" stroke="#000" stroke-width="3.4" stroke-linecap="round" fill="none"/>
<rect x="1853.1" y="321.1" width="50" height="214.3" fill="#808080"/>
<path d="M1854.4 320.6L1854.4 535.4" stroke="#000" stroke-width="3.6" fill="none"/>
<path d="M1902.5 320.6L1902.5 535.4" stroke="#000" stroke-width="2.2" fill="none"/>
<path d="M1852.6 322.1L1903.6 322.1" stroke="#000" stroke-width="3" fill="none"/>
<path d="M1951.8 301.2L1951.8 322.2" stroke="#000" stroke-width="2.6" fill="none"/>
<path d="M1939.6 301.2H1964" stroke="#000" stroke-width="3.4" stroke-linecap="round" fill="none"/>
<rect x="1926.5" y="321.7" width="50.2" height="213.7" fill="#000000"/>
<path d="M1927.8 321.2L1927.8 535.4" stroke="#000" stroke-width="3.6" fill="none"/>
<path d="M1976.1 321.2L1976.1 535.4" stroke="#000" stroke-width="2.2" fill="none"/>
<path d="M1926 322.7L1977.2 322.7" stroke="#000" stroke-width="3" fill="none"/>
<path d="M1696 268.9L1696 536.1" stroke="#000" stroke-width="3" fill="none"/>
<path d="M1686 535.4L1696 535.4" stroke="#555" stroke-width="1.5" fill="none"/>
<text x="1683.2" y="543.7" font-size="25.3" text-anchor="end" font-weight="700" fill="#000">0</text>
<path d="M1686 468.9L1696 468.9" stroke="#555" stroke-width="1.5" fill="none"/>
<text x="1683.2" y="477.2" font-size="25.3" text-anchor="end" textLength="27" lengthAdjust="spacingAndGlyphs" font-weight="700" fill="#000">10</text>
<path d="M1686 402.5L1696 402.5" stroke="#555" stroke-width="1.5" fill="none"/>
<text x="1683.2" y="410.8" font-size="25.3" text-anchor="end" textLength="27" lengthAdjust="spacingAndGlyphs" font-weight="700" fill="#000">20</text>
<path d="M1686 336.1L1696 336.1" stroke="#555" stroke-width="1.5" fill="none"/>
<text x="1683.2" y="344.4" font-size="25.3" text-anchor="end" textLength="27" lengthAdjust="spacingAndGlyphs" font-weight="700" fill="#000">30</text>
<path d="M1686 269.6L1696 269.6" stroke="#555" stroke-width="1.5" fill="none"/>
<text x="1683.2" y="277.9" font-size="25.3" text-anchor="end" textLength="27" lengthAdjust="spacingAndGlyphs" font-weight="700" fill="#000">40</text>
<path d="M1686 535.4L1987.4 535.4" stroke="#5a5a5a" stroke-width="3" fill="none"/>
<path d="M1732.7 535.4L1732.7 544.9" stroke="#555" stroke-width="1.5" fill="none"/>
<path d="M1805 535.4L1805 544.9" stroke="#555" stroke-width="1.5" fill="none"/>
<path d="M1878.6 535.4L1878.6 544.9" stroke="#555" stroke-width="1.5" fill="none"/>
<path d="M1950.8 535.4L1950.8 544.9" stroke="#555" stroke-width="1.5" fill="none"/>
<text x="659.5" y="835.6" font-size="32.6" textLength="222.5" lengthAdjust="spacingAndGlyphs" fill="#111">% CD4<tspan dy="-15.5" font-size="21.5" stroke="#111" stroke-width="0.5">+</tspan><tspan dy="15.5"> CD44</tspan><tspan dy="-15.5" font-size="21.5" stroke="#111" stroke-width="0.5">+</tspan></text>
<path d="M682 980.2L682 1000.5" stroke="#000" stroke-width="2.6" fill="none"/>
<path d="M669.8 980.2H694.2" stroke="#000" stroke-width="3.4" stroke-linecap="round" fill="none"/>
<rect x="656.1" y="1000" width="50.4" height="143.4" fill="#ffffff"/>
<path d="M657.1 999.5L657.1 1143.4" stroke="#000" stroke-width="3" fill="none"/>
<path d="M705.2 999.5L705.2 1143.4" stroke="#000" stroke-width="3.6" fill="none"/>
<path d="M655.6 1001L707 1001" stroke="#000" stroke-width="3" fill="none"/>
<path d="M755.4 996.8L755.4 1019.5" stroke="#000" stroke-width="2.6" fill="none"/>
<path d="M743.2 996.8H767.6" stroke="#000" stroke-width="3.4" stroke-linecap="round" fill="none"/>
<rect x="729.5" y="1019" width="50" height="124.4" fill="#f3f3f3"/>
<path d="M730.5 1018.5L730.5 1143.4" stroke="#000" stroke-width="3" fill="none"/>
<path d="M778.2 1018.5L778.2 1143.4" stroke="#000" stroke-width="3.6" fill="none"/>
<path d="M729 1020L780 1020" stroke="#000" stroke-width="3" fill="none"/>
<path d="M827.6 910.4L827.6 939.4" stroke="#000" stroke-width="2.6" fill="none"/>
<path d="M815.4 910.4H839.8" stroke="#000" stroke-width="3.4" stroke-linecap="round" fill="none"/>
<rect x="801.5" y="938.9" width="50.4" height="204.5" fill="#808080"/>
<path d="M802.5 938.4L802.5 1143.4" stroke="#000" stroke-width="3" fill="none"/>
<path d="M850.6 938.4L850.6 1143.4" stroke="#000" stroke-width="3.6" fill="none"/>
<path d="M801 939.9L852.4 939.9" stroke="#000" stroke-width="3" fill="none"/>
<path d="M900.4 908L900.4 934" stroke="#000" stroke-width="2.6" fill="none"/>
<path d="M888.2 908H912.6" stroke="#000" stroke-width="3.4" stroke-linecap="round" fill="none"/>
<rect x="874.5" y="933.5" width="50" height="209.9" fill="#000000"/>
<path d="M875.5 933L875.5 1143.4" stroke="#000" stroke-width="3" fill="none"/>
<path d="M923.2 933L923.2 1143.4" stroke="#000" stroke-width="3.6" fill="none"/>
<path d="M874 934.5L925 934.5" stroke="#000" stroke-width="3" fill="none"/>
<path d="M645.6 876.3L645.6 1144.1" stroke="#333" stroke-width="1.4" fill="none"/>
<path d="M636 1143.4L645.6 1143.4" stroke="#333" stroke-width="1.5" fill="none"/>
<text x="633.2" y="1151.7" font-size="25.3" text-anchor="end" font-weight="700" fill="#000">0</text>
<path d="M636 1054.6L645.6 1054.6" stroke="#333" stroke-width="1.5" fill="none"/>
<text x="633.2" y="1062.9" font-size="25.3" text-anchor="end" textLength="27" lengthAdjust="spacingAndGlyphs" font-weight="700" fill="#000">10</text>
<path d="M636 965.8L645.6 965.8" stroke="#333" stroke-width="1.5" fill="none"/>
<text x="633.2" y="974.1" font-size="25.3" text-anchor="end" textLength="27" lengthAdjust="spacingAndGlyphs" font-weight="700" fill="#000">20</text>
<path d="M636 877L645.6 877" stroke="#333" stroke-width="1.5" fill="none"/>
<text x="633.2" y="885.3" font-size="25.3" text-anchor="end" textLength="27" lengthAdjust="spacingAndGlyphs" font-weight="700" fill="#000">30</text>
<path d="M634 1143.4L938 1143.4" stroke="#000" stroke-width="2.4" fill="none"/>
<path d="M680.6 1143.4L680.6 1152.9" stroke="#333" stroke-width="1.5" fill="none"/>
<path d="M754 1143.4L754 1152.9" stroke="#333" stroke-width="1.5" fill="none"/>
<path d="M826.4 1143.4L826.4 1152.9" stroke="#333" stroke-width="1.5" fill="none"/>
<path d="M900.4 1143.4L900.4 1152.9" stroke="#333" stroke-width="1.5" fill="none"/>
<text x="1710.4" y="830.3" font-size="32.6" textLength="222.6" lengthAdjust="spacingAndGlyphs" fill="#111">% CD8<tspan dy="-15.5" font-size="21.5" stroke="#111" stroke-width="0.5">+</tspan><tspan dy="15.5"> CD44</tspan><tspan dy="-15.5" font-size="21.5" stroke="#111" stroke-width="0.5">+</tspan></text>
<path d="M1732.3 962.8L1732.3 997.6" stroke="#000" stroke-width="2.6" fill="none"/>
<path d="M1720.1 962.8H1744.5" stroke="#000" stroke-width="3.4" stroke-linecap="round" fill="none"/>
<rect x="1707" y="997.1" width="49.5" height="141.8" fill="#ffffff"/>
<path d="M1708.3 996.6L1708.3 1138.9" stroke="#000" stroke-width="3.6" fill="none"/>
<path d="M1755.9 996.6L1755.9 1138.9" stroke="#000" stroke-width="2.2" fill="none"/>
<path d="M1706.5 998.1L1757 998.1" stroke="#000" stroke-width="3" fill="none"/>
<path d="M1805.8 942.4L1805.8 978.8" stroke="#000" stroke-width="2.6" fill="none"/>
<path d="M1793.6 942.4H1818" stroke="#000" stroke-width="3.4" stroke-linecap="round" fill="none"/>
<rect x="1779.8" y="978.3" width="49.7" height="160.6" fill="#f3f3f3"/>
<path d="M1781.1 977.8L1781.1 1138.9" stroke="#000" stroke-width="3.6" fill="none"/>
<path d="M1828.9 977.8L1828.9 1138.9" stroke="#000" stroke-width="2.2" fill="none"/>
<path d="M1779.3 979.3L1830 979.3" stroke="#000" stroke-width="3" fill="none"/>
<path d="M1877.7 973.4L1877.7 996.6" stroke="#000" stroke-width="2.6" fill="none"/>
<path d="M1865.5 973.4H1889.9" stroke="#000" stroke-width="3.4" stroke-linecap="round" fill="none"/>
<rect x="1853.5" y="996.1" width="49.4" height="142.8" fill="#808080"/>
<path d="M1854.8 995.6L1854.8 1138.9" stroke="#000" stroke-width="3.6" fill="none"/>
<path d="M1902.3 995.6L1902.3 1138.9" stroke="#000" stroke-width="2.2" fill="none"/>
<path d="M1853 997.1L1903.4 997.1" stroke="#000" stroke-width="3" fill="none"/>
<path d="M1951.8 989L1951.8 1000.6" stroke="#000" stroke-width="2.6" fill="none"/>
<path d="M1939.6 989H1964" stroke="#000" stroke-width="3.4" stroke-linecap="round" fill="none"/>
<rect x="1926.5" y="1000.1" width="50" height="138.8" fill="#000000"/>
<path d="M1927.8 999.6L1927.8 1138.9" stroke="#000" stroke-width="3.6" fill="none"/>
<path d="M1975.9 999.6L1975.9 1138.9" stroke="#000" stroke-width="2.2" fill="none"/>
<path d="M1926 1001.1L1977 1001.1" stroke="#000" stroke-width="3" fill="none"/>
<path d="M1696 870.5L1696 1139.6" stroke="#000" stroke-width="3" fill="none"/>
<path d="M1686 1138.9L1696 1138.9" stroke="#333" stroke-width="1.5" fill="none"/>
<text x="1683.2" y="1147.2" font-size="25.3" text-anchor="end" font-weight="700" fill="#000">0</text>
<path d="M1686 1072L1696 1072" stroke="#333" stroke-width="1.5" fill="none"/>
<text x="1683.2" y="1080.3" font-size="25.3" text-anchor="end" font-weight="700" fill="#000">5</text>
<path d="M1686 1005.1L1696 1005.1" stroke="#333" stroke-width="1.5" fill="none"/>
<text x="1683.2" y="1013.4" font-size="25.3" text-anchor="end" textLength="27" lengthAdjust="spacingAndGlyphs" font-weight="700" fill="#000">10</text>
<path d="M1686 938.1L1696 938.1" stroke="#333" stroke-width="1.5" fill="none"/>
<text x="1683.2" y="946.4" font-size="25.3" text-anchor="end" textLength="27" lengthAdjust="spacingAndGlyphs" font-weight="700" fill="#000">15</text>
<path d="M1686 871.2L1696 871.2" stroke="#333" stroke-width="1.5" fill="none"/>
<text x="1683.2" y="879.5" font-size="25.3" text-anchor="end" textLength="27" lengthAdjust="spacingAndGlyphs" font-weight="700" fill="#000">20</text>
<path d="M1686 1138.9L1987.4 1138.9" stroke="#222" stroke-width="1.6" fill="none"/>
<path d="M1732.7 1138.9L1732.7 1147.4" stroke="#333" stroke-width="1.5" fill="none"/>
<path d="M1805 1138.9L1805 1147.4" stroke="#333" stroke-width="1.5" fill="none"/>
<path d="M1878.6 1138.9L1878.6 1147.4" stroke="#333" stroke-width="1.5" fill="none"/>
<path d="M1950.8 1138.9L1950.8 1147.4" stroke="#333" stroke-width="1.5" fill="none"/>
<rect x="942" y="443.3" width="14.8" height="13.6" fill="#fff" stroke="#000" stroke-width="1.8"/>
<rect x="941.6" y="466.8" width="15.4" height="14.6" fill="#f3f3f3" stroke="#333" stroke-width="1.2"/>
<rect x="941.6" y="491.2" width="15.4" height="13.6" fill="#808080" stroke="#333" stroke-width="1.2"/>
<rect x="941.4" y="517" width="16" height="13.6" fill="#000"/>
<text x="966.6" y="454.6" font-size="15.4" font-weight="700" fill="#000">(-)</text>
<text x="966.6" y="480" font-size="14.6" textLength="42.5" lengthAdjust="spacingAndGlyphs" font-weight="700" fill="#000">SCFA</text>
<text x="966.6" y="504.2" font-size="14.6" textLength="38" lengthAdjust="spacingAndGlyphs" font-weight="700" fill="#000">FadV</text>
<text x="966.6" y="530" font-size="14.6" textLength="99" lengthAdjust="spacingAndGlyphs" font-weight="700" fill="#000">SCFA + FadV</text>
</g>
</svg>
</body></html>
